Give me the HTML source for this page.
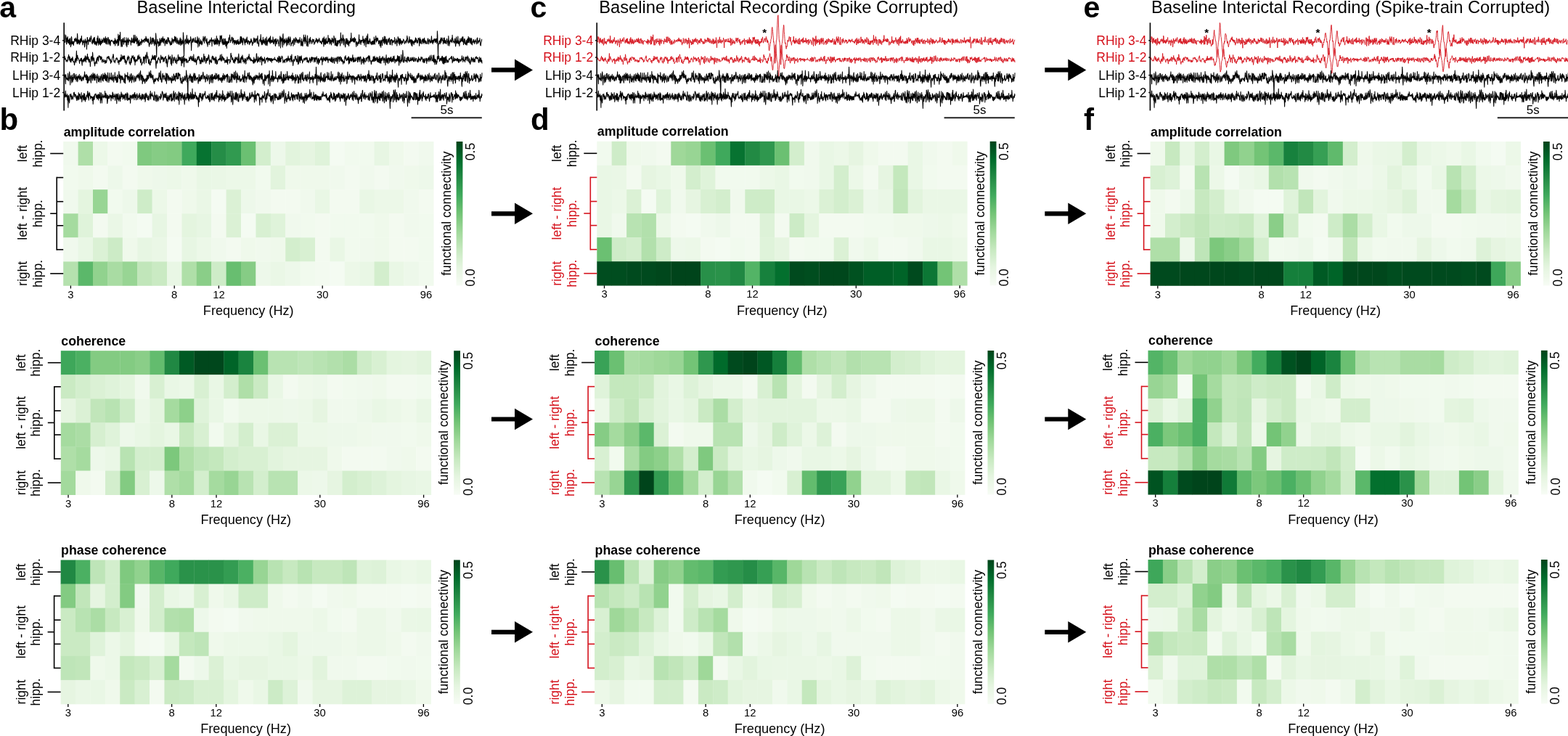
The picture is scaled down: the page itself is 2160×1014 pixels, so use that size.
<!DOCTYPE html>
<html><head><meta charset="utf-8"><title>Figure</title>
<style>html,body{margin:0;padding:0;background:#fff;}body{width:2160px;height:1014px;overflow:hidden;}svg{display:block;}</style>
</head><body>
<svg width="2160" height="1014" viewBox="0 0 2160 1014" font-family="'Liberation Sans', Arial, Helvetica, sans-serif">
<defs><linearGradient id="cbg" x1="0" y1="0" x2="0" y2="1"><stop offset="0.000" stop-color="#00441b"/><stop offset="0.062" stop-color="#005723"/><stop offset="0.125" stop-color="#006c2c"/><stop offset="0.188" stop-color="#117b38"/><stop offset="0.250" stop-color="#228a44"/><stop offset="0.312" stop-color="#319a50"/><stop offset="0.375" stop-color="#40aa5d"/><stop offset="0.438" stop-color="#5ab769"/><stop offset="0.500" stop-color="#73c476"/><stop offset="0.562" stop-color="#8ace88"/><stop offset="0.625" stop-color="#a0d99b"/><stop offset="0.688" stop-color="#b4e1ad"/><stop offset="0.750" stop-color="#c7e9c0"/><stop offset="0.812" stop-color="#d6efd0"/><stop offset="0.875" stop-color="#e5f5e0"/><stop offset="0.938" stop-color="#eef8ea"/><stop offset="1.000" stop-color="#f7fcf5"/></linearGradient></defs>
<rect width="2160" height="1014" fill="#fff"/>
<text x="-0.8" y="24.2" font-size="41" font-weight="bold">a</text>
<text x="-0.5" y="178.5" font-size="42" font-weight="bold">b</text>
<text x="730.6" y="24.4" font-size="41" font-weight="bold">c</text>
<text x="731.0" y="178.5" font-size="42" font-weight="bold">d</text>
<text x="1492.6" y="24.4" font-size="41" font-weight="bold">e</text>
<text x="1493.0" y="178.5" font-size="42" font-weight="bold">f</text>
<line x1="88.2" y1="31.3" x2="88.2" y2="152.4" stroke="#000" stroke-width="1.6"/>
<line x1="86.0" y1="55.8" x2="88.2" y2="55.8" stroke="#000" stroke-width="1.4"/>
<text x="83.2" y="62.0" font-size="17.5" text-anchor="end">RHip 3-4</text>
<line x1="86.0" y1="79.1" x2="88.2" y2="79.1" stroke="#000" stroke-width="1.4"/>
<text x="83.2" y="85.3" font-size="17.5" text-anchor="end">RHip 1-2</text>
<line x1="86.0" y1="103.6" x2="88.2" y2="103.6" stroke="#000" stroke-width="1.4"/>
<text x="83.2" y="109.8" font-size="17.5" text-anchor="end">LHip 3-4</text>
<line x1="86.0" y1="127.5" x2="88.2" y2="127.5" stroke="#000" stroke-width="1.4"/>
<text x="83.2" y="133.7" font-size="17.5" text-anchor="end">LHip 1-2</text>
<path d="M89.0 58.8l.4 -1.6 .3 .8 .3 -10.2 .4 5.3 .4 -4.1 .3 6.6 .3 5.1 .4 .2 .4 -8.9 .3 5.9 .4 -5.2 .3 -2.1 .4 4.9 .3 3.9 .3 -4.2 .4 2.7 .4 1.5 .3 -5.9 .3 8.2 .4 -1.4 .4 -4.5 .3 -3.3 .3 5 .4 7.1 .4 -3.6 .3 1.3 .3 -11.8 .4 1.6 .4 7.5 .3 .9 .4 -3.1 .3 3.4 .4 -.8 .3 -3 .3 5.7 .4 -2.4 .4 -3.1 .3 .9 .3 -4.7 .4 0 .4 1.3 .3 1.3 .3 1.5 .4 -5.4 .4 4.4 .3 -1.6 .3 -1 .4 5 .4 1.8 .3 -14.5 .3 2.5 .4 10.4 .4 1 .3 -5 .3 3.6 .4 -3.8 .4 .8 .3 5.6 .3 -4.4 .4 3.5 .4 -6.4 .3 -.6 .3 5.1 .4 -.7 .4 -3.7 .3 -1.9 .3 -2.8 .4 7.9 .4 -1 .3 -.2 .3 5.8 .4 -2.1 .4 -2.8 .3 1.6 .3 -3.7 .4 3.4 .4 -2.1 .3 6.3 .3 2.4 .4 -3 .4 -8.1 .3 .8 .3 1.3 .4 2.8 .4 .9 .3 -2.9 .3 11.2 .4 -7.2 .4 -9.1 .3 0 .3 5.4 .4 -2.2 .4 6.6 .3 -4.3 .3 -1.3 .4 .3 .4 -2 .3 2.5 .3 -4.8 .4 5.8 .4 -.1 .3 -3.7 .3 -1.4 .4 -3 .4 3.3 .3 2 .3 3.4 .4 1.2 .4 1.4 .3 -3.2 .3 -2.6 .4 4.1 .4 -5.8 .3 4.9 .3 -6.2 .4 3.5 .4 5 .3 -9.1 .3 2.5 .4 7.7 .4 -4.6 .3 3.8 .3 -2.8 .4 -.3 .4 5 .3 -.7 .3 -1.9 .4 -7.7 .4 6.9 .3 -2 .3 -7.8 .4 4.9 .4 8 .3 -5 .3 2.3 .4 -5.4 .4 -1.7 .3 8.7 .3 -3.9 .4 -3.3 .4 8.3 .3 -1.4 .3 -4.4 .4 1.3 .4 2.6 .3 -.8 .3 -5.9 .4 2.2 .4 2.2 .3 -2.5 .3 3.1 .4 -2.4 .4 -3.2 .3 .3 .3 -1.5 .4 6.5 .4 -.8 .3 -4.1 .3 3.3 .4 2 .4 -8.3 .3 9.7 .3 -6.5 .4 -1.1 .4 .9 .3 7.3 .3 -3.6 .4 3.8 .4 -8.3 .3 2.6 .3 -4.1 .4 1.4 .4 6.7 .3 1.9 .3 -.4 .4 -6.3 .4 0 .3 1.9 .3 4.9 .4 1.7 .4 -4.3 .3 -2.3 .3 -.6 .4 1.1 .4 -1.5 .3 -.3 .3 1.1 .4 .5 .3 -.1 .4 1.5 .3 -.8 .4 -.2 .4 3.3 .3 -.6 .3 -3.8 .4 3.3 .4 1.2 .3 -7.8 .3 10.2 .4 -3.1 .4 -5 .3 2.8 .3 -.9 .4 3.2 .4 -1 .3 -2.8 .3 -1.6 .4 .3 .3 8.3 .4 -7.9 .3 -8.2 .4 3.3 .4 12.1 .3 -6.7 .3 -5.3 .4 -1.8 .4 5.4 .3 2.2 .3 -11.9 .4 11 .4 4 .3 2.8 .3 2.4 .4 -10.1 .4 .3 .3 5.9 .3 3.7 .4 -3.6 .3 -7.8 .4 .1 .3 4.5 .4 -.7 .4 4.4 .3 -4.8 .3 -4.8 .4 6.5 .4 -1.5 .3 1.5 .3 -1.8 .4 .8 .4 -1.2 .3 6.3 .3 -10.4 .4 10.2 .4 2.8 .3 -3.8 .3 -6 .4 3.1 .3 -4.2 .4 -1.6 .3 9.3 .4 -4 .4 .3 .3 -3.3 .3 1.6 .4 -1.1 .4 .6 .3 .5 .3 .1 .4 2.3 .4 3.6 .3 -5.2 .3 -2.1 .4 -2.9 .4 6.5 .3 -.1 .3 -.2 .4 -1.9 .3 -3 .4 4.6 .3 .8 .4 -10.4 .4 5.2 .3 6 .3 -1 .4 -.1 .4 -10.2 .3 3.7 .3 4 .4 1.1 .4 -.6 .3 -2.7 .3 -3.5 .4 10.3 .4 -2.1 .3 -4.1 .3 -1.7 .4 3.3 .3 7.5 .4 -6.5 .3 6.1 .4 -.9 .4 -7.1 .3 4.1 .3 3.2 .4 .5 .4 -4.1 .3 0 .3 -1.4 .4 1.1 .4 3.3 .3 -4.1 .3 -3.8 .4 2.4 .4 1.8 .3 1.3 .3 -3.2 .4 -.7 .3 .1 .4 1.5 .3 -1.2 .4 -1.5 .4 4.1 .3 -1.4 .3 -3.5 .4 1.6 .4 -1.9 .3 .2 .3 3.9 .4 -7.2 .4 1.9 .3 4.6 .3 -3.8 .4 4.3 .4 -.1 .3 -3.3 .3 3.6 .4 1.2 .3 .1 .4 -5 .3 2.3 .4 5.9 .4 2.4 .3 -4.9 .3 2.1 .4 -1.8 .4 -1.6 .3 -7 .3 2.6 .4 6.7 .4 -.4 .3 1.2 .3 -4.2 .4 -4.1 .4 -.6 .3 5.1 .3 .8 .4 2.2 .4 -8 .3 1.9 .3 2.9 .4 -2.4 .4 6.3 .3 1.9 .3 -5 .4 -.3 .4 -3.3 .3 6.4 .3 -14.9 .4 4.4 .4 17.6 .3 11 .3 -15.4 .4 -4.4 .4 -4.9 .3 2.7 .3 2.6 .4 -2.2 .4 1.2 .3 5.6 .3 -6.2 .4 2.2 .4 2.7 .3 -8.1 .3 -1.9 .4 5.4 .4 4.3 .3 -6 .4 -1.5 .3 4 .4 -5.5 .3 -.9 .3 4.4 .4 -3.7 .4 5 .3 -4.1 .3 -3.5 .4 4.9 .4 2.7 .3 1.3 .3 -6.2 .4 1.1 .4 1.3 .3 -2.2 .3 9.4 .4 -4 .4 -1.5 .3 -1.5 .3 -.1 .4 4.4 .4 -5.7 .3 4.2 .3 1.6 .4 -.1 .4 -4.2 .3 -4.6 .3 5.7 .4 -2.2 .4 -2.9 .3 2.9 .3 3.5 .4 -2 .4 -.5 .3 4.3 .3 -1 .4 3.1 .4 -1.5 .3 -4 .3 4.4 .4 -2.1 .4 2.6 .3 -1 .3 -8.3 .4 3.3 .4 1.5 .3 -3 .3 5.2 .4 -1.5 .4 -3.4 .3 1 .3 1.2 .4 -2.3 .4 -4.4 .3 2.9 .3 5.6 .4 -4.5 .4 -3.3 .3 .5 .3 5.9 .4 0 .4 2.9 .3 -4.3 .3 -3.4 .4 2.7 .4 3.9 .3 1.7 .3 -1.3 .4 -2.2 .4 -2 .3 4.6 .3 2 .4 -1.2 .4 -3.6 .3 -2.9 .3 -1.9 .4 7 .4 3.5 .3 -5.9 .3 -2.9 .4 7.1 .4 -3.6 .3 -.5 .3 4.4 .4 -4.5 .4 -1.8 .3 4.6 .3 -14.7 .4 4.8 .4 17.7 .3 10.5 .3 -14.7 .4 -6.2 .4 -.9 .3 -.1 .3 -2.1 .4 1.8 .4 5.3 .3 -4 .3 2.5 .4 -7.1 .4 -3.8 .3 10 .3 .5 .4 .5 .4 -4.4 .3 -1.6 .3 7.5 .4 -3 .4 -2.3 .3 0 .3 2.4 .4 .9 .4 -3.8 .3 1.3 .3 -1.1 .4 -4.9 .4 4 .3 5.5 .3 9.5 .4 -9.8 .4 -1.9 .3 -3.6 .3 -1 .4 5.1 .4 -1.5 .3 1 .3 -3.7 .4 -1.5 .4 2.4 .3 .9 .3 0 .4 2.5 .4 -1.3 .3 -.1 .3 -5.5 .4 7.1 .4 -1.9 .3 2 .3 -2.3 .4 -.7 .4 4.1 .3 -1.2 .3 -8.1 .4 2.5 .4 12 .3 -6.9 .3 -1.7 .4 -1.9 .4 -2.2 .3 11.1 .3 -5.9 .4 .8 .4 2.4 .3 -3.2 .3 -3 .4 2.3 .4 4.1 .3 -2.2 .3 -1.9 .4 5.1 .4 -1.3 .3 -.4 .3 -3 .4 -3.3 .4 -.1 .3 -3.7 .3 4 .4 2.8 .4 -3.6 .3 6.1 .3 -8.2 .4 2.2 .4 -3.3 .3 2.6 .3 3.2 .4 .8 .4 -1.8 .3 4.3 .3 -2.6 .4 -3.7 .4 8.4 .3 -1.9 .3 4.8 .4 -5 .4 -1.5 .3 .6 .3 -1 .4 .5 .4 4 .3 -5 .3 -.9 .4 -1.1 .4 3.9 .3 -2.3 .3 -1.3 .4 1.3 .4 -.3 .3 -4.2 .3 2.9 .4 9 .4 -7.8 .3 -.9 .3 .3 .4 1.3 .4 -.2 .3 -2.3 .3 3.7 .4 2.3 .4 -4.2 .3 1.1 .3 4.6 .4 -8.5 .4 7.7 .3 -4.3 .3 -1.3 .4 5 .4 -.6 .3 -10.1 .3 7.3 .4 4.7 .4 -5.3 .3 -3.4 .3 7.6 .4 -5.4 .4 .4 .3 .2 .3 2 .4 5.5 .4 -6.7 .3 2 .3 1.6 .4 -11 .4 4.4 .3 4.2 .3 -8 .4 1.2 .4 2.1 .3 -4.3 .3 7.9 .4 3 .4 -4.9 .3 .8 .3 6.3 .4 -8.7 .4 6.5 .3 1.9 .3 -3.2 .4 2.3 .4 -7 .3 7.6 .3 -2.4 .4 -5.6 .4 5.1 .3 5.4 .3 -4.7 .4 -2.5 .4 2.6 .3 7.4 .3 -7.4 .4 -1.8 .4 3.6 .3 -3.8 .3 1.8 .4 .3 .4 -2.3 .3 -4.9 .3 7 .4 -6.3 .4 -1.5 .3 -3.1 .3 5.7 .4 1.8 .4 3.2 .3 -2.3 .3 -1.1 .4 .7 .4 -3.5 .3 -1.5 .3 2.4 .4 -2.1 .4 7.7 .3 .5 .3 -2.9 .4 -4.1 .4 5 .3 -1.1 .3 -.5 .4 5.6 .4 -6.4 .3 4.2 .3 -3.2 .4 3 .4 -3 .3 -.5 .3 5.2 .4 .5 .4 -2.8 .3 -3.1 .3 4.4 .4 -3.9 .4 4.2 .3 -2.4 .3 -3.5 .4 6.4 .4 .5 .3 -4 .3 3.2 .4 -.6 .4 .5 .3 -4.3 .3 -1.5 .4 -4.3 .4 9.7 .3 -4.2 .3 -5.2 .4 .5 .4 7.4 .3 -2.9 .3 -3.1 .4 5.7 .4 3.9 .3 -4.1 .3 -1.1 .4 -4.5 .4 2.3 .3 .4 .3 -1.2 .4 5.5 .4 -1.6 .3 4.3 .3 -6.6 .4 -1.6 .4 4.8 .3 -3.4 .3 -1.4 .4 4.1 .4 -5.9 .3 -1 .3 6.2 .4 3.5 .4 -1.2 .3 -1.9 .3 -2 .4 .5 .4 1.8 .3 -.7 .3 4.5 .4 -3.7 .4 -1 .3 3 .3 -2.4 .4 .8 .4 -4.2 .3 -.9 .3 4.4 .4 -2.5 .4 2.1 .3 2.6 .3 2.7 .4 -4.3 .3 2.1 .4 -.3 .3 -1.2 .4 -4.8 .4 -2.1 .3 4.3 .3 2.2 .4 -3.5 .4 -2 .3 3.8 .3 1.5 .4 -.8 .4 -2.9 .3 -.8 .3 -.8 .4 1.3 .4 2 .3 3.7 .3 -7.2 .4 -3.6 .3 9.8 .4 .2 .3 2.1 .4 2.6 .4 -4.9 .3 -2.8 .3 -1 .4 -.4 .4 -.4 .3 -.6 .3 3.6 .4 -9.9 .3 5.4 .4 6.9 .3 -4.5 .4 6.4 .4 0 .3 -6 .3 5.3 .4 -1.8 .3 -7.9 .4 7.4 .3 -.2 .4 -3.7 .4 2.3 .3 3.7 .3 -1.6 .4 -1.9 .4 -4.1 .3 -.1 .3 9 .4 -1.6 .3 1.8 .4 -7.6 .3 -3.8 .4 8.2 .4 3.8 .3 -2.3 .3 -4.2 .4 -1.3 .3 2 .4 -2.8 .3 -1.1 .4 2.7 .4 2.3 .3 -5.8 .3 -.5 .4 4 .4 4.4 .3 -10.6 .3 7.7 .4 1.5 .3 -3 .4 .6 .3 -1.6 .4 3.8 .4 -2.2 .3 -.7 .3 2.1 .4 -7 .3 4.8 .4 5.1 .3 -.5 .4 -1.1 .4 -5 .3 1.3 .3 1.7 .4 -2.4 .4 7.3 .3 1.3 .3 -10.2 .4 .2 .3 .5 .4 5.8 .3 1.1 .4 -4 .4 -.6 .3 .1 .3 -2.3 .4 1.1 .3 1.8 .4 3.2 .3 -.3 .4 3.9 .4 -5.6 .3 -2 .3 -2.1 .4 -4.2 .4 8.1 .3 8.2 .3 -6.8 .4 -7.9 .3 5.6 .4 -2.3 .3 -.5 .4 -1.3 .4 9 .3 3.2 .3 -16.6 .4 -1.9 .3 11 .4 -2.4 .3 6.8 .4 -5.9 .4 -2.6 .3 5.8 .3 -4.5 .4 4.5 .4 -2.5 .3 1.1 .3 -1 .4 -4.3 .3 3.5 .4 7.3 .3 -8.7 .4 6.4 .4 .7 .3 -6.3 .3 -3.5 .4 2.4 .3 4.7 .4 -8.6 .3 3.5 .4 7.9 .4 -8 .3 3.5 .3 -.4 .4 -6.2 .4 2.6 .3 3.9 .3 6 .4 -1 .3 -2.4 .4 -.9 .3 .4 .4 -1.3 .4 -2.4 .3 4 .3 -3.9 .4 7.6 .3 -8.2 .4 -1.4 .3 -.9 .4 1.5 .4 7.1 .3 -4.3 .3 -1.5 .4 .4 .4 -4.7 .3 4.2 .3 2.9 .4 -5.5 .3 .9 .4 1.5 .3 -.3 .4 3.6 .4 .6 .3 -4.5 .3 2.9 .4 -2.4 .4 -.2 .3 4.5 .3 -4.7 .4 2.8 .4 .5 .3 -6.7 .3 3.5 .4 1.4 .4 0 .3 5.9 .3 .9 .4 -1.8 .4 -8.1 .3 5 .3 4.4 .4 -5 .4 5.9 .3 -2.2 .3 -5.8 .4 -1 .4 -6.5 .3 6.7 .3 2.4 .4 -5.6 .4 3 .3 5.5 .3 -4.1 .4 -7.9 .4 3.9 .3 4.8 .3 .5 .4 .9 .4 5 .3 -6.6 .3 -2.8 .4 -4.7 .4 14.9 .3 -.2 .3 -4.1 .4 -1.9 .4 -.3 .3 -1.5 .3 -3 .4 2.4 .4 5.1 .3 -1.7 .3 -7.5 .4 5.1 .4 .1 .3 -1.2 .3 2.3 .4 .4 .4 2.3 .3 -1.5 .3 -2.5 .4 -2.4 .4 4.1 .3 -3.6 .3 1.8 .4 -.4 .4 -1.2 .3 6.7 .3 -1.6 .4 -1.3 .4 1.3 .3 -1.6 .3 -1.6 .4 -1.2 .4 2.3 .3 -4.9 .3 2 .4 2 .4 -2.6 .3 1.7 .3 3 .4 .3 .4 -4.5 .3 2.4 .3 .6 .4 -2.9 .4 1 .3 -3.2 .3 2 .4 2.1 .4 1.9 .3 -2.2 .3 .7 .4 1.4 .4 -1.1 .3 2.8 .3 -2 .4 2.6 .4 -3.9 .3 -2 .3 2.8 .4 -4.5 .4 -.7 .3 4.9 .3 2.8 .4 4 .4 -13.4 .3 5.8 .3 1.5 .4 3.2 .4 -7.3 .3 3.6 .3 3.7 .4 -1.5 .4 -7.7 .3 1.9 .3 5.6 .4 -2.8 .4 .7 .3 2.5 .3 0 .4 -3.6 .4 -7.8 .3 9.1 .3 -.2 .4 -3.5 .4 -1.2 .3 3.7 .3 4.6 .4 -7.5 .4 .9 .3 4.2 .3 .9 .4 -4 .4 5.5 .3 1 .3 -4.5 .4 -4.1 .4 -1.1 .3 5.2 .3 -1.8 .4 -1.8 .4 5.9 .3 -4.3 .3 2.9 .4 -9 .4 2.3 .3 2.1 .3 1 .4 7.6 .4 -2.1 .3 -8.1 .3 2 .4 8.4 .4 -2.2 .3 -.5 .3 3.5 .4 -7.8 .4 .4 .3 7.5 .3 -4.1 .4 -2.7 .4 4.1 .3 -4.8 .3 -.5 .4 2.1 .4 -1.7 .3 3.1 .3 -4.2 .4 4.8 .4 3.7 .3 -9.6 .3 -8.6 .4 10.6 .4 -3.3 .3 1.6 .3 5.9 .4 -2.3 .4 -4.1 .3 2 .3 -7.6 .4 1.4 .4 9.6 .3 3.1 .3 -9.1 .4 2.4 .4 -1 .3 2.7 .3 3.2 .4 3.2 .4 1.5 .3 -7.3 .3 -4.1 .4 -.2 .4 5.8 .3 1.3 .3 -7.4 .4 1 .4 4.7 .3 3 .3 -.8 .4 -5.7 .4 4.1 .3 2.4 .3 1.8 .4 -5.8 .4 -1.1 .3 .7 .3 2.2 .4 -.8 .4 -5.9 .3 1.8 .3 2.9 .4 -12.1 .4 11.1 .3 .5 .3 -.3 .4 -2.4 .4 .6 .3 -2.2 .3 4.4 .4 -.2 .4 -4.4 .3 5.4 .3 -2.9 .4 3.2 .4 -6.8 .3 6.4 .3 -4.6 .4 .8 .4 -.5 .3 5.1 .3 2.3 .4 3.6 .4 -6.3 .3 -.7 .3 .9 .4 1.5 .4 3 .3 -2.2 .3 -2.1 .4 -1 .4 2.3 .3 -6.6 .3 -5.5 .4 12.4 .4 -5.8 .3 .6 .3 .1 .4 2.1 .4 2.9 .3 1.4 .3 -6.2 .4 3.4 .4 -1.7 .3 -1.7 .3 1.3 .4 -1.4 .4 .4 .3 -5.8 .3 9.3 .4 -.3 .4 -1.8 .3 -3 .3 -.3 .4 8.7 .4 -4.1 .3 -3 .3 .7 .4 -3.4 .4 6.9 .3 5.3 .3 -11.6 .4 .4 .4 -4.3 .3 6.5 .3 5 .4 -1.4 .4 -12.6 .3 8.1 .3 5.3 .4 -3.6 .4 1.2 .3 2.8 .3 -4.5 .4 2 .4 -4.9 .3 1.8 .3 1.2 .4 4 .4 -2.3 .3 -.1 .3 3.2 .4 .7 .4 -3.6 .3 -1.1 .3 3.6 .4 -4.1 .4 1.5 .3 3.7 .3 -5.5 .4 1.6 .4 2.9 .3 -9.7 .3 8.1 .4 -4.9 .4 7.1 .3 -6.2 .3 -.6 .4 -1.9 .4 -3.2 .3 6.4 .3 2.5 .4 -5.6 .4 -.4 .3 4.1 .3 -3.3 .4 -.9 .4 1.2 .3 2.5 .3 .2 .4 4.5 .4 -2.3 .3 -2.4 .3 0 .4 2.2 .4 5.2 .3 0 .3 -8 .4 1.9 .4 8.2 .3 -7.7 .3 .2 .4 -2.9 .4 2.2 .3 5.4 .3 -3.1 .4 -8 .4 4.6 .3 -1.8 .3 -.1 .4 4.7 .4 -2.7 .3 -6.1 .3 10.6 .4 -2.8 .4 -3.3 .3 -4.3 .3 5.8 .4 3.6 .4 -5 .3 6.2 .3 -7 .4 6.2 .4 1.6 .3 -1.6 .3 -2.2 .4 -4.2 .4 3 .3 0 .3 1.8 .4 -4.2 .4 -1.5 .3 -.6 .3 1.8 .4 7.2 .4 -2.4 .3 -2.9 .3 5.9 .4 -7.4 .4 1.3 .3 -.5 .3 -1 .4 .4 .4 7.5 .3 -4.6 .3 -2 .4 1 .4 2.1 .3 -1.1 .3 .6 .4 -2 .4 -.7 .3 1.4 .3 -5.3 .4 8.2 .4 -2.3 .3 3.2 .3 -1.2 .4 -2.7 .4 -3.1 .3 3.2 .3 -.3 .4 6.7 .4 -6.8 .3 -.8 .3 2.7 .4 -7.7 .4 1.6 .3 .1 .3 7.3 .4 .7 .4 -7.1 .3 1.6 .3 7.4 .4 -7.8 .4 -1.1 .3 6.2 .3 -2 .4 -2.3 .4 4.9 .3 1.4 .3 -4.3 .4 .7 .4 -1.7 .3 3.1 .3 .1 .4 -1.3 .4 -4.2 .3 .8 .3 .3 .4 .3 .4 1.5 .3 3 .3 .6 .4 -2.7 .4 1.1 .3 -1.6 .3 -1 .4 0 .4 -1.4 .3 4.3 .3 -3.9 .4 -6 .4 2.8 .3 .7 .3 3.9 .4 1.4 .4 -.1 .3 1.8 .3 -3.3 .4 -2.1 .4 -3.9 .3 8.1 .3 -1.6 .4 .1 .4 -2.5 .3 2.3 .3 3.4 .4 -5.4 .4 7.6 .3 -5.5 .3 -2.1 .4 9 .4 -4.2 .3 -3.6 .3 0 .4 3.4 .4 -1.1 .3 -.9 .3 4.2 .4 -2.2 .4 -3.3 .3 -.7 .3 3 .4 -1.7 .4 -4.8 .3 5 .3 1.5 .4 -5.3 .4 2.9 .3 -.8 .3 1.7 .4 2.8 .4 -3.7 .3 2.7 .3 -3.1 .4 -3.2 .4 .3 .3 .3 .3 1.6 .4 8.7 .4 -4.7 .3 -6.9 .3 7.5 .4 -3.6 .4 -1.7 .3 5.5 .3 -1.7 .4 2.9 .4 -1.7 .3 -3.6 .3 1.8 .4 -1.7 .4 -2 .3 5.1 .3 1.9 .4 -6.4 .4 1.5 .3 3.3 .3 -5.1 .4 -1.5 .4 6.2 .3 -3.4 .3 5.4 .4 -1.8 .4 -1.9 .3 -.4 .3 1.1 .4 2.7 .4 -.1 .3 -.2 .3 .6 .4 -3.7 .4 -2.4 .3 -1.4 .3 .8 .4 6.3 .4 .7 .3 -3.5 .3 -2.2 .4 .8 .4 -1.7 .3 4 .3 -1.7 .4 3.1 .4 -3.2 .3 1 .3 1.3 .4 -8.8 .4 4.2 .3 2.2 .3 2.9 .4 -3.2 .4 4.8 .3 -5.4 .3 3.1 .4 .2 .4 -4.3 .3 -.6 .3 2.4 .4 -.4 .4 -2.5 .3 4.6 .3 1 .4 -4.4 .4 3.4 .3 -4.4 .3 -.2 .4 2.5 .4 4.3 .3 -2.2 .3 -15 .4 5.6 .4 19.4 .3 11 .3 -15.4 .4 -2.8 .4 -1.2 .3 .8 .3 -3.6 .4 .3 .3 -.8 .4 4.7 .3 -6.5 .4 1.9 .4 -4.3 .3 6.8 .3 -1.9 .4 -1.5 .4 -2.9 .3 -.3 .3 2.9 .4 1.2 .4 -.4 .3 4.8 .3 -.8 .4 -7.4 .4 4.4 .3 1.8 .3 -6.7 .4 7.6 .3 -2.6 .4 2.5 .3 -4.1 .4 1.6 .4 .8 .3 2.7 .3 -.4 .4 -6.8 .4 .7 .3 2.3 .3 1 .4 1.7 .4 3.8 .3 -3.2 .3 -10 .4 5.3 .4 1.2 .3 7.3 .3 -2.6 .4 -1.1 .3 -3.1 .4 .5 .3 -2.4 .4 1.4 .4 1.8 .3 -.4 .3 -1 .4 -3.8 .4 6.4 .3 -10.7 .3 4.4 .4 .5 .4 2.8 .3 1.8 .3 -.2 .4 -.4 .4 2.1 .3 -.7 .3 -2.9 .4 -2.3 .3 -.5 .4 8.1 .3 2.9 .4 -3.3 .3 -5 .4 -4.7 .3 6.1 .4 2.6 .4 .3 .3 -3.9 .3 3.1 .4 -9 .4 6.8 .3 3.5 .3 -4.3 .4 1.3 .4 2.9 .3 3.2 .3 -4.4 .4 -3 .3 -3.1 .4 4.3 .3 .7 .4 -1 .3 -.4 .4 -3.9 .3 2.4 .4 1.4 .4 -5.6 .3 2.1 .3 4.8 .4 -7.2 .4 4.8 .3 6.2 .3 -1.4 .4 -.9 .4 -5.7 .3 .3 .3 -.3 .4 6.9 .3 -1.4 .4 .2 .3 2.4 .4 -4.9 .3 -1.6 .4 4.1 .3 3 .4 -1.6 .4 -7.2 .3 4.6 .3 .6 .4 -4.5 .4 -3.9 .3 8.3 .3 -2.4 .4 -3.3 .4 -1 .3 3 .3 3.8 .4 .4 .3 -3.8 .4 -3.1 .3 2.1 .4 6.5 .3 -1.6 .4 -6.5 .3 5.4 .4 3.8 .4 -3.3 .3 -1.1 .3 .6 .4 -1.9 .4 -1.6 .3 -.2 .3 4.7 .4 -2.5 .4 -.1 .3 4 .3 -3.2 .4 -1 .3 -1.7 .4 1.9 .3 1.1 .4 .3 .3 1.3 .4 1.6 .3 -7.8 .4 -.1 .4 -1 .3 6.4 .3 1.7 .4 -3.5 .4 .5 .3 1.1 .3 -2.4 .4 .1 .4 1.1 .3 -4.4 .3 3 .4 6.6 .3 0 .4 .9 .3 -3.2 .4 -2 .3 -.7 .4 -2.9 .3 -.2" fill="none" stroke="#000" stroke-width="1.05" stroke-linejoin="round"/>
<path d="M89.0 77.2l.4 2 .3 2.8 .3 -1.8 .4 1.2 .4 1.4 .3 2.1 .3 -1.3 .4 -.7 .4 .6 .3 -.6 .4 2.2 .3 -1.7 .4 -4.7 .3 -.4 .3 .3 .4 -3.3 .4 5.4 .3 2.4 .3 -5.3 .4 3.1 .4 -2.2 .3 6.2 .3 -2.1 .4 -1.3 .4 4.4 .3 -1.1 .3 -4.5 .4 0 .4 2.3 .3 .8 .4 -5.2 .3 2.4 .4 1 .3 3.9 .3 -.4 .4 -.2 .4 -.1 .3 3.5 .3 1.4 .4 -3.5 .4 -4.5 .3 3 .3 -4.4 .4 2.1 .4 3.8 .3 -10.3 .3 -5.8 .4 8.1 .4 5.4 .3 -6.8 .3 -.6 .4 4 .4 -.2 .3 .1 .3 .6 .4 2.1 .4 .2 .3 2.4 .3 2.1 .4 -4.5 .4 .5 .3 -.2 .3 -2.2 .4 -.6 .4 3.8 .3 -.5 .3 -3.7 .4 7 .4 3.2 .3 -6.7 .3 1 .4 -2.9 .4 1 .3 .5 .3 2.5 .4 -4.6 .4 -1 .3 2.2 .3 1.9 .4 -4.4 .4 -3 .3 6 .3 1.4 .4 1.5 .4 -7.9 .3 2 .3 2.1 .4 -.4 .4 -4.3 .3 -3 .3 6.5 .4 2.2 .4 -4.3 .3 1.9 .3 3.1 .4 2.2 .4 -4.4 .3 .8 .3 3.1 .4 -.6 .4 6.9 .3 -5.4 .3 -1.7 .4 -5.7 .4 -.1 .3 -1.2 .3 3.5 .4 3.4 .4 -1 .3 -11.4 .3 2.4 .4 7.2 .4 -.9 .3 3.1 .3 -4.2 .4 1.3 .4 6.6 .3 1.5 .3 2 .4 -4.9 .4 1.3 .3 .4 .3 -3 .4 .8 .4 -1.6 .3 -3.2 .3 7 .4 -8 .4 -1.2 .3 3.1 .3 -3.3 .4 4.7 .4 1.2 .3 -5.5 .3 -1.8 .4 -.5 .4 2.1 .3 .1 .3 -1.1 .4 1.7 .4 3.1 .3 -3 .3 -1.9 .4 2.8 .4 1.2 .3 -2.8 .3 6.3 .4 .9 .4 -3.7 .3 .6 .3 .9 .4 -1.9 .4 3.8 .3 -.7 .3 -.5 .4 .3 .4 -.2 .3 -2.1 .3 5.1 .4 -4 .4 1 .3 2.3 .3 -3.1 .4 2.8 .4 -1.3 .3 -2 .3 -4.6 .4 1.7 .4 -.3 .3 -.3 .3 -1.7 .4 -.5 .4 3.1 .3 .8 .3 -3.5 .4 3.5 .4 -.2 .3 2.2 .3 -2.3 .4 .1 .4 6.2 .3 -4.1 .3 1.7 .4 .9 .4 -.3 .3 -2.8 .3 -1.1 .4 -1.6 .3 -2 .4 .9 .3 -4 .4 -.3 .4 5.1 .3 5.3 .3 -2.3 .4 2.2 .4 -.9 .3 2.7 .3 -2.5 .4 -.4 .4 -.1 .3 -3.2 .3 .9 .4 -.8 .4 -1.4 .3 1.4 .3 1.2 .4 -1 .3 1.6 .4 3.9 .3 -1.2 .4 -.6 .4 -1.3 .3 5.7 .3 -5.1 .4 -.8 .4 1.4 .3 .5 .3 -3.2 .4 -2.4 .4 4.9 .3 -.2 .3 -8.8 .4 7.7 .4 -1.1 .3 -2.7 .3 2 .4 -4.3 .3 4.2 .4 -.9 .3 -1.1 .4 -2 .4 4.6 .3 -1 .3 -3.8 .4 .1 .4 8.3 .3 1.1 .3 -4.5 .4 1.8 .4 -.1 .3 5.2 .3 -2.1 .4 -.9 .4 -1 .3 -.9 .3 -5 .4 2.5 .3 1.3 .4 -5.8 .3 3.5 .4 -.8 .4 -1.3 .3 -.1 .3 8.9 .4 -1.8 .4 1.8 .3 1.9 .3 .2 .4 -4.5 .4 -4.7 .3 6.6 .3 -.6 .4 -3.1 .4 -6.1 .3 1.1 .3 0 .4 1.9 .3 -.8 .4 -2.5 .3 5.2 .4 -2 .4 3.1 .3 1.5 .3 -6.1 .4 1.1 .4 10.4 .3 -6.2 .3 -1.6 .4 3.4 .4 -.6 .3 -1.2 .3 -1.1 .4 1.1 .4 -2.1 .3 2.8 .3 -4.3 .4 -3.1 .3 3.3 .4 1.5 .3 -.3 .4 -5.7 .4 5.9 .3 -2.9 .3 .4 .4 1.2 .4 -1.8 .3 6.1 .3 1.7 .4 -1 .4 -4.1 .3 4.3 .3 4.5 .4 -1.6 .4 -.4 .3 -.7 .3 -1.4 .4 .4 .3 .1 .4 -8.1 .3 4.4 .4 -4.3 .4 5.1 .3 4.5 .3 -6.4 .4 -3.2 .4 1.7 .3 -1 .3 -3.3 .4 4.5 .4 6.4 .3 -7 .3 -5.2 .4 -2.5 .4 3.3 .3 4.9 .3 .5 .4 -2.9 .3 4.6 .4 3.3 .3 2.1 .4 -3.9 .4 -2.1 .3 5.9 .3 1.6 .4 -2 .4 2.6 .3 -4.8 .3 -.4 .4 1.8 .4 -5.1 .3 -.3 .3 2 .4 -2.3 .4 -2.9 .3 -1.9 .3 5.6 .4 -.3 .4 -3.4 .3 .7 .3 3.8 .4 -.6 .4 -5.1 .3 4.6 .3 -4.5 .4 6 .4 -6.5 .3 2.4 .3 9.6 .4 6 .4 -8.4 .3 -.8 .3 -1.2 .4 1 .4 2.5 .3 -3.5 .3 -1.9 .4 -1.8 .4 .2 .3 .9 .3 -2.5 .4 3.6 .4 -.7 .3 1.8 .3 .7 .4 2.7 .4 -.7 .3 -6.3 .4 -3.7 .3 5.1 .4 .7 .3 -.2 .3 -3.3 .4 2.4 .4 .4 .3 -3 .3 2.2 .4 4.8 .4 -1.9 .3 -1 .3 -2.5 .4 5 .4 -3 .3 -1.3 .3 -1 .4 -1 .4 1.7 .3 -2.7 .3 9.3 .4 .1 .4 -2.6 .3 -3.2 .3 6.3 .4 4.8 .4 -4.9 .3 -1.7 .3 -1.1 .4 -3.9 .4 -4.8 .3 2.9 .3 2.8 .4 -3.1 .4 3.1 .3 -.9 .3 .1 .4 -3.2 .4 2.5 .3 8 .3 -3.6 .4 -3.4 .4 9.1 .3 -4 .3 -10.6 .4 3.7 .4 0 .3 1.3 .3 6.5 .4 -3.6 .4 .2 .3 -2 .3 -2.7 .4 -.4 .4 2.9 .3 2.1 .3 -.3 .4 3.6 .4 -3.8 .3 -1.4 .3 -1.9 .4 4.1 .4 4.2 .3 -2.2 .3 -2.2 .4 -1.1 .4 1.3 .3 -5.7 .3 -2.8 .4 8.4 .4 -1.9 .3 -.8 .3 -2.7 .4 3.6 .4 -1 .3 -1.8 .3 4.5 .4 -3.9 .4 -.7 .3 2.5 .3 2.1 .4 7.2 .4 -6.8 .3 -5.8 .3 6.7 .4 2.1 .4 -2.4 .3 -4.2 .3 -3.2 .4 2 .4 8 .3 5 .3 -7 .4 -5.6 .4 2.5 .3 2.1 .3 -1.5 .4 -.8 .4 -1.2 .3 1.5 .3 4.3 .4 -3.5 .4 -1.5 .3 1.8 .3 .5 .4 2.5 .4 0 .3 -1.2 .3 -.9 .4 -1.1 .4 .3 .3 -.5 .3 -4.4 .4 5.2 .4 -1.9 .3 -1.7 .3 .4 .4 -3.1 .4 .2 .3 4.1 .3 -2.2 .4 1.8 .4 2.4 .3 -4.1 .3 -2.2 .4 4.2 .4 1.8 .3 .4 .3 -.1 .4 -8.8 .4 9.1 .3 1.2 .3 -4.4 .4 3.1 .4 -.1 .3 .8 .3 1.2 .4 -5.2 .4 5.2 .3 -2.1 .3 5.4 .4 -6.6 .4 .5 .3 -.8 .3 -3.5 .4 -.2 .4 3.4 .3 -4.6 .3 2.3 .4 -.3 .4 -1.3 .3 5.2 .3 -2.3 .4 1.7 .4 5.3 .3 -4.1 .3 -1 .4 1.1 .4 4 .3 -2.2 .3 -5.5 .4 -1 .4 5.6 .3 -1.9 .3 2.7 .4 -.1 .4 -3.2 .3 -1.2 .3 -1.3 .4 -5.5 .4 11 .3 -3.1 .3 -4 .4 -.6 .4 1 .3 5.4 .3 -.6 .4 3.8 .4 -.6 .3 -6.4 .3 4.2 .4 -1.6 .4 -2.6 .3 2.3 .3 1.1 .4 -5 .4 3.4 .3 -3.6 .3 -3 .4 1.3 .4 4.7 .3 7 .3 -4.9 .4 2 .4 -3.2 .3 0 .3 2.2 .4 -.1 .4 2 .3 -.1 .3 -1.1 .4 -7 .4 1.8 .3 -3 .3 3 .4 1.8 .4 -4.1 .3 4.3 .3 1 .4 -1.4 .4 -1.7 .3 2.6 .3 -2 .4 4.3 .4 2.6 .3 -3.8 .3 -5.2 .4 .5 .4 5.8 .3 3.7 .3 -5.8 .4 5.5 .4 -.4 .3 -2.8 .3 -.5 .4 -1.6 .4 -.8 .3 -.2 .3 .3 .4 -1.1 .4 1.9 .3 -2.6 .3 1.4 .4 -4.4 .4 -1.8 .3 7.6 .3 -1.7 .4 -.2 .4 3.3 .3 -9.8 .3 7 .4 1.4 .4 -3.3 .3 -2.1 .3 1.3 .4 .4 .4 3.8 .3 -3.1 .3 1.7 .4 -1.2 .4 2.7 .3 -.3 .3 3.6 .4 -3.3 .4 .4 .3 1.9 .3 -3 .4 2.9 .4 -2.7 .3 3.6 .3 -1.2 .4 -6.8 .4 6.2 .3 4.1 .3 -6.4 .4 -.2 .4 1 .3 -.3 .3 -.7 .4 -.3 .4 .5 .3 4.9 .3 -2.4 .4 0 .4 .1 .3 -11.3 .3 -.4 .4 5.2 .4 -1.9 .3 3.2 .3 2.5 .4 .2 .4 -2.1 .3 -.7 .3 1.9 .4 3.8 .4 1.1 .3 -3.2 .3 1 .4 -2.4 .4 5.5 .3 -2.7 .3 -5 .4 -1 .4 5.7 .3 -2.5 .3 -2.1 .4 1.5 .4 .3 .3 -.2 .3 -2.8 .4 4.5 .4 -1.6 .3 5.6 .3 .1 .4 -8.7 .4 -4.3 .3 4.5 .3 8.2 .4 -2.6 .4 2.1 .3 -.5 .3 -2.6 .4 -3.7 .4 5.8 .3 1.6 .3 -4.3 .4 -4.9 .4 3.2 .3 -.7 .3 1.5 .4 -5.8 .4 2.7 .3 6.3 .3 -4.9 .4 4.4 .4 -1.2 .3 1.4 .3 2.5 .4 -.9 .4 -5.6 .3 4.3 .3 .1 .4 -4 .4 7.1 .3 -.6 .3 -4.7 .4 .6 .4 -4 .3 .4 .3 -.1 .4 .3 .4 3 .3 -3.9 .3 -1.6 .4 3.3 .4 -2.5 .3 -3.8 .3 4.3 .4 2.5 .4 1.6 .3 -.3 .3 -3.5 .4 2 .4 2.9 .3 -.3 .3 -2.1 .4 1.8 .4 -.3 .3 .6 .3 .6 .4 -1.5 .3 .6 .4 2.5 .3 1.3 .4 -4.6 .4 -3.7 .3 8.2 .3 -3.5 .4 1.9 .4 -4.4 .3 2.5 .3 2.1 .4 -2.4 .4 -1.4 .3 1.2 .3 -8.3 .4 -1.1 .4 9.3 .3 1 .3 2.3 .4 -1.9 .3 -3.4 .4 -2.9 .3 6.7 .4 -1.2 .4 -2.6 .3 0 .3 -1.5 .4 1.4 .4 4.7 .3 -5.2 .3 -1.7 .4 3.2 .3 -2.3 .4 -2 .3 5.6 .4 6.5 .4 -9.5 .3 -.3 .3 .6 .4 3.3 .3 -2.2 .4 3.2 .3 -3.1 .4 0 .4 1.6 .3 -1.4 .3 -3.1 .4 8.5 .4 -.3 .3 -1.5 .3 -1.7 .4 -.3 .3 -2.9 .4 1.7 .3 -.4 .4 -1.8 .4 1 .3 -2 .3 2.4 .4 3.7 .3 -5.2 .4 .9 .3 2.3 .4 -2.2 .4 -.8 .3 1.2 .3 1.8 .4 -2.9 .4 3.4 .3 .1 .3 .6 .4 -4.2 .3 2.5 .4 -2.3 .3 5.8 .4 -5 .4 2.3 .3 -.7 .3 -.9 .4 1.5 .3 -2.5 .4 .3 .3 .5 .4 .2 .4 -.1 .3 .9 .3 -3.8 .4 2.9 .4 .8 .3 -.5 .3 -.2 .4 1 .3 .8 .4 -.8 .3 1.5 .4 .6 .4 -.2 .3 -5.5 .3 3.1 .4 -2.2 .3 3.6 .4 2.6 .3 -9.2 .4 1.1 .4 5.5 .3 0 .3 1.9 .4 -7.9 .4 2.3 .3 4.6 .3 .4 .4 -4.6 .3 -.4 .4 .4 .3 -3.4 .4 1.5 .4 -.5 .3 2.8 .3 1.9 .4 4 .3 -2.7 .4 .7 .3 .4 .4 -2.9 .4 2 .3 .5 .3 1.7 .4 -4.5 .4 -.2 .3 -.1 .3 -.2 .4 1.5 .3 -2.1 .4 4.8 .3 -5.6 .4 1 .4 3.2 .3 -.5 .3 -2.6 .4 -4.2 .3 3.8 .4 2.5 .3 -3.2 .4 1.3 .4 .4 .3 3.3 .3 -4.2 .4 .8 .4 -.8 .3 -3.9 .3 1.6 .4 6.8 .3 -2.7 .4 -7.7 .3 7.1 .4 2.2 .4 -1.3 .3 2.9 .3 4.5 .4 -2.8 .3 -3.5 .4 -2.5 .3 1.4 .4 -.5 .4 1.9 .3 -3.7 .3 -2.9 .4 -.1 .4 -.3 .3 4.6 .3 -1.6 .4 2.3 .3 2.2 .4 -3.2 .3 3.4 .4 -2.2 .4 -6.7 .3 8.2 .3 4.3 .4 -.7 .4 -.7 .3 -8 .3 -2 .4 6.8 .4 -5.3 .3 .3 .3 7.3 .4 -8.9 .4 2.6 .3 -.3 .3 3.7 .4 -6.7 .4 4.8 .3 1.1 .3 -1 .4 5.3 .4 -3.1 .3 .9 .3 -.8 .4 -.1 .4 -3.1 .3 .5 .3 1.2 .4 -2.1 .4 1.8 .3 1 .3 -1.6 .4 -2.5 .4 2.4 .3 -1.2 .3 1.5 .4 -.3 .4 -2.6 .3 6.4 .3 -5.6 .4 2.9 .4 2.9 .3 -.6 .3 -1.5 .4 3.3 .4 -2.2 .3 -.2 .3 -1 .4 -3.8 .4 2 .3 .6 .3 2.7 .4 1.5 .4 -4.3 .3 -2.7 .3 3.8 .4 -2.1 .4 -2.6 .3 6.4 .3 -5 .4 2.6 .4 -3.4 .3 .7 .3 -.4 .4 .5 .4 2.1 .3 3.8 .3 -1.6 .4 -4.8 .4 .7 .3 -.5 .3 5.8 .4 -3.9 .4 -1.7 .3 .6 .3 1.1 .4 -3.6 .4 7.5 .3 2.1 .3 -4.1 .4 1.2 .4 -4.1 .3 3.5 .3 4.8 .4 -8.1 .4 .7 .3 .7 .3 4.6 .4 -2.2 .4 -1.6 .3 -.4 .3 0 .4 -2.6 .4 1.3 .3 1.5 .3 -.7 .4 -3.9 .4 6.1 .3 5.3 .3 -8.7 .4 1.4 .4 2.5 .3 -1.1 .3 -5 .4 1.4 .4 .2 .3 2.7 .3 -1.8 .4 2.1 .4 .7 .3 -4.8 .3 1.4 .4 3.8 .4 -4.8 .3 -.8 .3 2.1 .4 1.6 .4 .5 .3 -1.5 .3 -2.8 .4 4.4 .4 3.5 .3 -2.9 .3 -1.7 .4 .6 .4 -1.7 .3 0 .3 2.6 .4 0 .4 -1.4 .3 .2 .3 2.5 .4 -4.5 .4 4 .3 1.4 .3 -7 .4 1.1 .4 2.1 .3 4.2 .3 .3 .4 .1 .4 -7 .3 3.4 .3 -1.3 .4 1.2 .4 4 .3 .8 .3 -7.2 .4 -.2 .4 0 .3 .1 .3 3.7 .4 0 .4 1.2 .3 -4.4 .3 -.9 .4 .8 .4 -2.3 .3 9.3 .3 -3.6 .4 .3 .4 -4.1 .3 -2 .3 2.9 .4 -2.3 .4 .1 .3 6.1 .3 -3.7 .4 -2.4 .4 -.2 .3 -.7 .3 5.1 .4 .7 .4 .3 .3 -4.6 .3 4.1 .4 1.7 .4 -1.7 .3 -1.2 .3 0 .4 6 .4 -2.4 .3 -.9 .3 -.5 .4 .8 .4 1.6 .3 -5 .3 -3.8 .4 1.5 .4 1.4 .3 -4.5 .3 4.6 .4 .5 .4 2 .3 -.2 .3 0 .4 -3.8 .4 1.9 .3 .5 .3 .6 .4 -1.9 .4 -3 .3 10.5 .3 -9.6 .4 1.7 .4 6.8 .3 -.8 .3 -2.3 .4 -4.1 .4 3.3 .3 -1.8 .3 -1.3 .4 3.8 .4 -2.5 .3 3.2 .3 -4.6 .4 3.1 .4 -5 .3 -2.6 .3 6.2 .4 3.7 .4 -.6 .3 -5.5 .3 2.9 .4 3 .4 -.4 .3 -2.2 .3 2.1 .4 -5.1 .4 4.6 .3 -.9 .3 .5 .4 -.4 .4 -3 .3 -.5 .3 .6 .4 -1.7 .4 6.8 .3 -.2 .3 -1 .4 -5.7 .4 1.7 .3 -2 .3 3.9 .4 -2.5 .4 5.3 .3 -1.7 .3 -5 .4 1.4 .4 -1.7 .3 2.3 .3 4.5 .4 3.7 .4 -5.2 .3 -.1 .3 -2.1 .4 1.9 .4 -.7 .3 4.4 .3 -4 .4 -4 .4 3.7 .3 5.9 .3 -7.6 .4 -.6 .4 3.1 .3 .5 .3 1.9 .4 -.6 .4 -1.4 .3 -3.5 .3 1.1 .4 -1.7 .4 .9 .3 3.7 .3 -3.3 .4 -2.4 .4 1.5 .3 0 .3 -1.3 .4 -2 .4 8.4 .3 -1 .3 -5.7 .4 -1.7 .4 2.2 .3 2.6 .3 2.8 .4 -1 .4 .9 .3 2.7 .3 1.7 .4 -1.8 .4 -3.4 .3 .6 .3 .5 .4 -2.4 .4 2 .3 .2 .3 -6.4 .4 1.6 .4 5.4 .3 -3.4 .3 -2.9 .4 -1.3 .4 6.9 .3 -.5 .3 -3.9 .4 1.4 .4 2.3 .3 -1.1 .3 -2.3 .4 -1.5 .4 1.7 .3 3.7 .3 1 .4 -.6 .4 -5.5 .3 6.4 .3 .2 .4 -4.2 .4 1.8 .3 3.6 .3 -6 .4 -3.4 .4 3.1 .3 6.3 .3 -5.9 .4 3.5 .4 3.2 .3 -6.6 .3 -1.2 .4 2.4 .4 1.7 .3 -3.5 .3 -.6 .4 -1.9 .4 1.1 .3 4.1 .3 -3.1 .4 2.6 .4 4.1 .3 -4.1 .3 -2.1 .4 -.6 .4 3 .3 -.1 .3 7.1 .4 -5.8 .4 -4.7 .3 -3.7 .3 6 .4 4.7 .4 -1.8 .3 -3.5 .3 -.5 .4 5.5 .4 1.8 .3 -8.4 .3 1.9 .4 -.5 .4 -1 .3 6.7 .3 -5.6 .4 -.3 .4 3.5 .3 -2.8 .3 -2.2 .4 4.8 .4 -5.7 .3 5 .3 2.3 .4 -.8 .4 -3.6 .3 -.6 .3 3.7 .4 .1 .4 -6.5 .3 7.1 .3 -2 .4 -4.8 .4 -1 .3 5.4 .3 -.8 .4 5.2 .4 -3.2 .3 -1.3 .3 -.4 .4 -.2 .4 3.3 .3 -1.6 .3 .9 .4 -3.6 .4 2.5 .3 -6.8 .3 2.6 .4 5.2 .4 -1.4 .3 -5.6 .3 1.1 .4 11.7 .4 -6.7 .3 -5.9 .3 1.3 .4 6.5 .4 -1.7 .3 3.5 .3 -2.1 .4 -2.7 .4 -7.1 .3 7.7 .3 1.1 .4 1 .4 -2.6 .3 -1.8 .3 -11.4 .4 5.2 .4 9.8 .3 2 .3 -2.8 .4 2.4 .4 -3.4 .3 -4.4 .3 .6 .4 4.7 .4 .8 .3 -.6 .3 .1 .4 .9 .4 -.3 .3 -4.5 .3 .4 .4 6.1 .4 -2.2 .3 -4.9 .3 -.9 .4 1 .4 4.2 .3 -4.6 .3 2 .4 2.8 .4 1.5 .3 -1.3 .3 -.7 .4 .5 .4 -4.3 .3 4.2 .3 -2.7 .4 3.2 .4 -.7 .3 -.2 .3 -4.1 .4 1.2 .4 2.1 .3 -.6 .3 2.1 .4 -5.1 .4 5.3 .3 .7 .3 -.1 .4 0 .4 -5.5 .3 2 .3 1.7 .4 -.4 .4 2.1 .3 -2.6 .3 -1.7 .4 .4 .4 .2 .3 1 .3 2.3 .4 -.6 .4 2.2 .3 -.7 .3 -3.1 .4 -.8 .4 -2.6 .3 6.5 .3 -2.9 .4 -1 .4 -.2 .3 1.4 .3 -.6 .4 1.3 .4 1.3 .3 -3.1 .3 -2.9 .4 2.1 .4 1.3 .3 -2.6 .3 -.2 .4 1.1 .4 2.5 .3 3 .3 -1.8 .4 -2 .4 .9 .3 4 .3 -5.4 .4 -.4 .4 5.3 .3 -2.4 .3 -.3 .4 0 .4 -2.7 .3 .6 .3 -1.2 .4 3.7 .4 3.7 .3 -6.9 .3 3.7 .4 0 .4 -1.5 .3 -.5 .3 -2 .4 1.7 .4 -3.1 .3 6.1 .3 -.9 .4 -1 .4 -6.4 .3 4.7 .3 0 .4 .8 .4 2 .3 -5.3 .3 -3 .4 3.3 .4 .8 .3 2.5 .3 1 .4 .3 .4 .2 .3 -7.7 .3 5.5 .4 2.9 .4 1 .3 -9.9 .3 4.7 .4 4.3 .4 4.2 .3 -7.7 .3 4.6 .4 -3.9 .4 .8 .3 1.8 .3 4.2 .4 -.7 .4 -3.7 .3 1.6 .3 -8.4 .4 4 .4 -.1 .3 -2.8 .3 2.4 .4 -1.6 .4 -2.5 .3 3.8 .3 -.2 .4 4 .3 -1.4 .4 -1 .3 -1.9 .4 2.8 .4 -3 .3 1.6 .3 -1.8 .4 4.2 .4 -6.6 .3 2.5 .3 -2.7 .4 9.8 .4 .3 .3 -8.3 .3 .7 .4 6.3 .4 2.2 .3 -8.9 .3 0 .4 6 .3 1.4 .4 -8.6 .3 3.7 .4 4.3 .4 -6.5 .3 -2.5 .3 4.6 .4 1.3 .4 3.1 .3 -3.7 .3 2.6 .4 -1.6 .4 2.4 .3 -.6 .3 -.5 .4 -2.8 .4 -1.1 .3 .1 .3 1 .4 -.7 .3 -.9 .4 -.5 .3 .2 .4 -.1 .4 -2 .3 3.2 .3 -.1 .4 -3.7 .4 3.6 .3 5.8 .3 -2.6 .4 1.1 .4 -3.2 .3 -4.1 .3 4.8 .4 1.4 .4 -.1 .3 -1 .3 -3.1 .4 3.7 .3 -2.3 .4 -.4 .3 2.1 .4 -1.2 .3 -.3 .4 .2 .3 2.2 .4 -2.2 .4 -1.7 .3 4.1 .3 -3.6 .4 2 .4 -.9 .3 4.5 .3 -4.9 .4 2.6 .4 2.1 .3 -3.5 .3 -.3 .4 -.5 .3 .2 .4 2.5 .3 -1.7 .4 .7 .3 .5 .4 -3.4 .3 1.9 .4 -5.6 .4 4.3 .3 -.4 .3 1.8 .4 2.9 .4 -4.2 .3 -3.2 .3 4.8 .4 .3 .4 -.3 .3 1.3 .3 -.7 .4 2.2 .3 -6.7 .4 3.7 .3 0 .4 -4.5 .3 1.5 .4 .1 .3 -.7 .4 4.3 .4 .7 .3 -7.1 .3 2.9 .4 -1.3 .4 1.3 .3 4.6 .3 -1 .4 2.5 .4 -5.2 .3 5.7 .3 -1.2 .4 2.9 .3 .3 .4 -4.1 .3 -1.9 .4 2.7 .3 -6.1 .4 .1 .3 3.6 .4 -2.1 .4 1.4 .3 3.3 .3 -1.2 .4 -1.8 .4 -2.8 .3 2.3 .3 3.6 .4 -.5 .4 -3.3 .3 1.3 .3 2.5 .4 -3.8 .3 -2.4 .4 -.6 .3 1.6 .4 -1.5 .3 -.9 .4 3.3 .3 -.3 .4 -.5 .4 -.7 .3 -.1 .3 -.1 .4 3.1 .4 3.2 .3 -3.1 .3 3.8 .4 -2.2 .4 -5.7 .3 4.2 .3 1.2 .4 -3.5 .3 4.5 .4 -5.2 .3 .6 .4 5.3 .3 -1.8 .4 -.8 .3 4.5" fill="none" stroke="#000" stroke-width="1.05" stroke-linejoin="round"/>
<path d="M89.0 106.4l.4 -3.5 .3 1.4 .3 2.9 .4 8.5 .4 -13.1 .3 3.9 .3 .2 .4 1.9 .4 .9 .3 -1.6 .4 2.3 .3 -.5 .4 -8.6 .3 3.6 .3 6.9 .4 -.9 .4 -2.8 .3 -.2 .3 -8.8 .4 2.3 .4 8.6 .3 7.2 .3 -9.9 .4 .1 .4 -3.1 .3 4.2 .3 -.3 .4 6.2 .4 -7.7 .3 -3.6 .4 6.2 .3 3.8 .4 -6.4 .3 3.5 .3 -.1 .4 -8.5 .4 1.3 .3 -1.4 .3 6.1 .4 .6 .4 .1 .3 1.5 .3 -5.7 .4 2.6 .4 -4.2 .3 9.6 .3 -2.7 .4 -1.8 .4 -2.1 .3 1.4 .3 6 .4 -2 .4 -6.6 .3 2.4 .3 1.5 .4 -2.8 .4 1.8 .3 -4.7 .3 7.6 .4 -.3 .4 -.8 .3 -2.8 .3 -1.8 .4 1.2 .4 5.9 .3 -5.1 .3 4.7 .4 .7 .4 -2.5 .3 -.8 .3 -2.4 .4 2.6 .4 -2.6 .3 4.8 .3 -1.7 .4 -2.3 .4 -3.6 .3 1.5 .3 -5.8 .4 7.3 .4 .4 .3 -1.2 .3 -2.2 .4 6.6 .4 -1.5 .3 2 .3 -7.7 .4 2.6 .4 9.5 .3 -7.1 .3 -3 .4 9.7 .4 -2.4 .3 -5.8 .3 4.2 .4 -.3 .4 1.4 .3 -.9 .3 -5.6 .4 .3 .4 .2 .3 -1.2 .3 7.8 .4 2.4 .4 -6.2 .3 -6 .3 1.5 .4 .4 .4 4.5 .3 2.4 .3 -6.7 .4 -3.8 .4 7.5 .3 -1.8 .3 -3.6 .4 7.9 .4 -2 .3 -7.2 .3 8 .4 1.8 .4 -4.3 .3 -.8 .3 -2.9 .4 3.6 .4 -.9 .3 2.6 .3 6 .4 -7 .4 -5.3 .3 5.5 .3 -.8 .4 1.3 .4 4.5 .3 -8 .3 5.1 .4 3.5 .4 -3.7 .3 -1.6 .3 2.4 .4 -5.4 .4 3.2 .3 .7 .3 4.8 .4 -8.8 .4 -2.2 .3 2.7 .3 1.3 .4 3.8 .4 .6 .3 -1.6 .3 -7.8 .4 10.5 .4 -6.5 .3 -2 .3 .9 .4 4.1 .4 -4.6 .3 -3.3 .3 6.3 .4 3.4 .4 .6 .3 -8.7 .3 7.6 .4 1.7 .4 -7.8 .3 3.7 .3 2.5 .4 3.4 .4 -8.6 .3 -4.7 .3 4.5 .4 2.5 .4 1.3 .3 5.3 .3 -5.9 .4 3.4 .4 -10.5 .3 8.1 .3 -2.5 .4 .8 .4 1.8 .3 -1.7 .3 3 .4 -9.7 .4 5.5 .3 3.3 .3 -.9 .4 3 .3 -5 .4 -1.1 .3 -2.1 .4 7 .4 3 .3 -2.9 .3 -3.7 .4 -.5 .4 1.4 .3 -7.7 .3 8.1 .4 3 .4 -5 .3 1.1 .3 -1 .4 6 .4 1.9 .3 -.8 .3 -9.2 .4 -.7 .3 10.1 .4 -4.2 .3 -2 .4 -.2 .4 -2.2 .3 -6.2 .3 6.8 .4 3.4 .4 -5.5 .3 0 .3 7.3 .4 4.2 .4 -9.2 .3 -1 .3 0 .4 1.8 .4 3.7 .3 -4.6 .3 -.5 .4 5.1 .3 -1.3 .4 -1.9 .3 .5 .4 2.9 .4 3 .3 -2.7 .3 -1.4 .4 4.9 .4 -12.4 .3 4.8 .3 8.6 .4 -11.2 .4 1.6 .3 -1.9 .3 .5 .4 .2 .4 1.5 .3 .2 .3 2.2 .4 -8.2 .3 10.5 .4 -.7 .3 -4.5 .4 1.4 .4 -.9 .3 2.5 .3 5.1 .4 -1.5 .4 -8.9 .3 5.7 .3 2.7 .4 -2 .4 -2.4 .3 -5.4 .3 .4 .4 12.1 .4 -3 .3 -4.5 .3 3.2 .4 -4.2 .3 -1.7 .4 2.2 .3 3.2 .4 1.6 .4 2.5 .3 -1.6 .3 -4.4 .4 -2.4 .4 3.3 .3 .4 .3 3.6 .4 -.4 .4 -5.7 .3 2.8 .3 -4.2 .4 1.6 .4 -1.7 .3 -1.7 .3 3.5 .4 -3 .3 4.7 .4 -4.8 .3 2.8 .4 -5 .4 5.5 .3 2.6 .3 2 .4 -5.8 .4 -6.1 .3 5 .3 -6.8 .4 11.7 .4 1.3 .3 -2.3 .3 -4.1 .4 -1 .4 3 .3 9.6 .3 -2 .4 -8.8 .3 4 .4 -1.3 .3 4.8 .4 -.2 .4 -3.5 .3 2.9 .3 -1.8 .4 5.2 .4 -2.3 .3 -3.3 .3 .2 .4 -1.5 .4 2.6 .3 1.9 .3 -1.9 .4 -7 .4 7.3 .3 -6.7 .3 2.3 .4 2.8 .3 -5.8 .4 2.4 .3 2.2 .4 -6.2 .4 -3 .3 5.2 .3 -2.8 .4 2.9 .4 2.6 .3 -6.5 .3 -3.1 .4 10.5 .4 -4.1 .3 -1.5 .3 1 .4 4.1 .4 -1.5 .3 -.9 .3 4.7 .4 -6.1 .4 7.2 .3 2.6 .3 -2.2 .4 4.4 .4 -5.4 .3 -1.5 .3 3.9 .4 -3.6 .4 3.2 .3 -.6 .3 -.6 .4 -3.4 .4 1 .3 0 .3 .7 .4 0 .4 .6 .3 .8 .3 -3.2 .4 4.7 .4 -.1 .3 -5.1 .3 -2.1 .4 -4.5 .4 0 .3 5.9 .3 -.8 .4 4.5 .4 -4.6 .3 -7.5 .4 7.4 .3 3.9 .4 4.2 .3 -4.5 .3 4.6 .4 -5.4 .4 -4.8 .3 -2.1 .3 3 .4 1.8 .4 3.7 .3 -5.5 .3 1.6 .4 -1.9 .4 1.6 .3 4 .3 -1 .4 -.4 .4 3.8 .3 -5.9 .3 -5 .4 6 .4 8.5 .3 -7 .3 -7 .4 4.5 .4 -3.8 .3 7.3 .3 .6 .4 1.2 .4 -7.1 .3 3.5 .3 -1.4 .4 2.5 .4 1.7 .3 .7 .3 -4.1 .4 -.3 .4 1.2 .3 2.3 .3 -2.2 .4 5.2 .4 1.3 .3 -3.6 .3 -6 .4 2.5 .4 3.7 .3 .1 .3 0 .4 -2.3 .4 -6.7 .3 -.1 .3 8.6 .4 -4.9 .4 .2 .3 -1.5 .3 5.3 .4 2.3 .4 -6 .3 -5 .3 4.7 .4 -3 .4 -1.9 .3 8 .3 .1 .4 -2.3 .4 2.2 .3 -8.3 .3 .2 .4 7.7 .4 -7.8 .3 1.2 .3 0 .4 2.5 .4 -.5 .3 -1.6 .3 7.9 .4 -2.3 .4 3.9 .3 2.8 .3 -7.1 .4 6 .4 -1.5 .3 2.4 .3 1.1 .4 -2.7 .4 -6.6 .3 .9 .3 5.2 .4 -2.8 .4 2.1 .3 -2.4 .3 .2 .4 -3.3 .4 -1.3 .3 5.1 .3 1.3 .4 -.9 .4 -4.3 .3 -2.1 .3 -6.9 .4 4.9 .4 11 .3 -9.5 .3 1.6 .4 15.4 .4 13 .3 -18.2 .3 -7.7 .4 .7 .4 -1 .3 -2.7 .3 .4 .4 .2 .4 6.3 .3 -9.5 .3 .8 .4 4.2 .4 -1.5 .3 6.8 .3 -7.4 .4 6.6 .4 2.5 .3 -8.1 .3 2.9 .4 -2.9 .4 7.7 .3 -5.3 .3 -4.8 .4 -.6 .4 -1.9 .3 8.3 .3 1.8 .4 0 .4 -9.5 .3 6.2 .3 -1.9 .4 -1 .4 6.2 .3 -.6 .3 -1.3 .4 -1.7 .4 1.5 .3 -1.7 .3 -.1 .4 -.4 .4 6.5 .3 2.1 .3 -4.2 .4 -.1 .4 -8.4 .3 1.9 .3 7.7 .4 -4 .4 -1.5 .3 3.1 .3 1.9 .4 -7.2 .4 1.1 .3 3.8 .3 -5.5 .4 0 .4 2.4 .3 2.7 .3 -3.5 .4 -3.5 .4 -2.7 .3 2.9 .3 2.1 .4 4.8 .4 -.3 .3 -2 .3 -1.9 .4 .7 .4 -1.1 .3 8.6 .3 -.2 .4 -6.3 .4 1.1 .3 1 .3 -2 .4 -4.4 .4 4.1 .3 5.5 .3 -1.4 .4 -2.3 .4 1.1 .3 -5.5 .3 .6 .4 3.1 .4 .2 .3 7.8 .3 -2.5 .4 -5.6 .4 -3.9 .3 1.5 .3 .5 .4 5.9 .4 2.7 .3 -6 .3 -5.2 .4 6.4 .4 -1.1 .3 -5.8 .3 12 .4 -3.5 .4 -4.6 .3 2 .3 -3 .4 3.4 .4 -4.4 .3 -.3 .3 2.8 .4 2.5 .4 -4.2 .3 -4.1 .3 8.2 .4 -.4 .4 -1.7 .3 .3 .3 -5.9 .4 7.5 .4 -2.5 .3 -2 .3 2.2 .4 -3.4 .4 8 .3 -.3 .3 -8.3 .4 1.5 .4 5.1 .3 -1.6 .3 2.3 .4 -1.1 .4 -1.1 .3 3.8 .3 -3.6 .4 -1.3 .4 .6 .3 4.9 .3 1.6 .4 -5.1 .4 -1.8 .3 -2.8 .3 6.9 .4 -1.5 .4 -8.2 .3 7.2 .3 -3.7 .4 .3 .4 5.8 .3 -7.5 .3 3.8 .4 1.2 .4 -1.2 .3 -2.4 .3 -.7 .4 1.8 .4 -.3 .3 -3 .3 2.1 .4 8.3 .4 -10.9 .3 2.4 .3 .6 .4 -.4 .4 4.4 .3 4.7 .3 -.3 .4 -1.3 .4 1.4 .3 -8.2 .3 6.2 .4 1.7 .4 -3.1 .3 .1 .3 -.6 .4 -7.9 .4 5.4 .3 6.4 .3 -2.4 .4 -8.7 .4 -.4 .3 3.9 .3 -2.7 .4 4.6 .4 -1.6 .3 3.4 .3 -9 .4 -1.4 .4 6.8 .3 3.9 .3 -2 .4 .4 .4 -10.6 .3 7.8 .3 .9 .4 -.9 .4 8.5 .3 -5.1 .3 -8.7 .4 7.6 .4 1.7 .3 -6.6 .3 5 .4 1.1 .4 .8 .3 .6 .3 -3.6 .4 -2.3 .4 .5 .3 5.4 .3 2.3 .4 -1.5 .4 -1.5 .3 -1.2 .3 3.3 .4 -2.6 .4 -.1 .3 .6 .3 -2.8 .4 .7 .4 -4.9 .3 2.3 .3 7.5 .4 -1 .4 -4 .3 -2.7 .3 8.9 .4 -7.7 .4 -8.8 .3 10.4 .3 -2.9 .4 .7 .4 2.2 .3 5.6 .3 -7.2 .4 2 .4 1.2 .3 -4.1 .3 3.1 .4 -5 .4 -2.7 .3 4 .3 -.2 .4 -.2 .4 4.8 .3 -7.5 .3 -1.5 .4 7.7 .4 2.3 .3 -.5 .3 -4.5 .4 -.6 .4 2.5 .3 1.4 .3 1.8 .4 -4 .4 5.8 .3 -3.5 .3 -.8 .4 5.9 .3 3.6 .4 -3.3 .3 -7.4 .4 -.4 .4 3.4 .3 5.7 .3 -3.8 .4 -6.6 .4 3.6 .3 1.6 .3 -3.6 .4 1.2 .4 -4.2 .3 5.9 .3 -4.8 .4 .8 .4 2 .3 -3 .3 -.1 .4 4.6 .3 1.2 .4 -1.2 .3 -3.8 .4 2.2 .4 .5 .3 -7.2 .3 10 .4 -3.9 .4 -1.7 .3 1.8 .3 -3.4 .4 -1.1 .3 6.1 .4 1 .3 -5 .4 -3 .4 -.1 .3 8.2 .3 -3.9 .4 4.9 .3 5.2 .4 -5.1 .3 -.1 .4 1 .4 -2 .3 8.3 .3 -8.5 .4 -6.1 .4 7.6 .3 -4.1 .3 -2.7 .4 7.8 .3 -4 .4 1.5 .3 -3.9 .4 2.9 .4 -4.6 .3 1.5 .3 -1.5 .4 3.7 .3 -4.3 .4 13.3 .3 -6.8 .4 -7 .4 4.6 .3 -9.5 .3 6.9 .4 14.2 .4 -7.3 .3 -2.7 .3 1.5 .4 -3.1 .3 -.8 .4 -1.8 .3 8.1 .4 -1.6 .4 -1.5 .3 -12.2 .3 4.5 .4 6.6 .3 4.4 .4 -5.9 .3 -1.7 .4 5.8 .4 -5 .3 .2 .3 2 .4 .8 .4 -.6 .3 -.1 .3 -9.7 .4 7 .3 2.2 .4 .6 .3 -.5 .4 1.4 .4 -.8 .3 -1.2 .3 5.9 .4 -3.4 .3 -3 .4 -2.3 .3 1.3 .4 2.9 .4 .8 .3 -6.5 .3 3.1 .4 1.3 .4 1.8 .3 -3.7 .3 2.7 .4 -9.4 .3 3.1 .4 10.1 .3 -5.5 .4 3 .4 -.5 .3 2.9 .3 3.2 .4 -7.4 .3 -5.3 .4 8.6 .3 3.5 .4 -11.4 .4 4.6 .3 3.7 .3 -3.8 .4 1.4 .4 1.6 .3 -8.3 .3 7.6 .4 .3 .3 -3.8 .4 .4 .3 .7 .4 -8.9 .4 6.1 .3 5.4 .3 -1.2 .4 -1.4 .3 -2.7 .4 5.8 .3 -3.4 .4 .6 .4 -1.9 .3 -1.6 .3 3.7 .4 -1.2 .4 -1.3 .3 1.7 .3 1.2 .4 .3 .3 -5 .4 .8 .3 3.2 .4 3.9 .4 -10.8 .3 9.1 .3 -.8 .4 -1.8 .3 -2.8 .4 6.4 .3 -3.2 .4 -1 .4 2 .3 .1 .3 6.2 .4 -8.8 .4 -3.4 .3 9 .3 -4.9 .4 3.8 .3 -.6 .4 -3.9 .3 -.5 .4 -2.5 .4 3.9 .3 -.2 .3 8.1 .4 -9.8 .4 2.2 .3 7.2 .3 -6.5 .4 1.4 .4 .3 .3 -7 .3 .3 .4 4.3 .4 6.9 .3 -5 .3 -5 .4 -3.6 .4 2.5 .3 .8 .3 5.7 .4 -.1 .4 -10.2 .3 1.8 .3 7.7 .4 3 .4 -1.4 .3 .3 .3 -3.3 .4 1 .4 -.8 .3 -4 .3 4.8 .4 -.9 .4 3.6 .3 -5.6 .3 -2.3 .4 3.9 .4 4.3 .3 .8 .3 -5.8 .4 0 .4 -4.3 .3 2.4 .3 5 .4 -1.4 .4 .1 .3 -1.3 .3 .7 .4 -8.6 .4 15.9 .3 -5.7 .3 -2.2 .4 -.4 .4 3.1 .3 -.4 .3 -2.7 .4 2.4 .4 .3 .3 -2.3 .3 -2.7 .4 4.7 .4 3.5 .3 1.8 .3 -6.4 .4 -2.5 .4 3 .3 1 .3 -1.2 .4 -1.2 .4 -.6 .3 -4 .3 4.7 .4 1.5 .4 -7.8 .3 -8.4 .3 6 .4 14 .4 5 .3 -7 .3 -7.1 .4 4.1 .4 .6 .3 -.6 .3 -2.1 .4 7 .4 -8.4 .3 3 .3 1.6 .4 -2.7 .4 4.8 .3 0 .3 2.7 .4 -11.4 .4 -1.9 .3 11.2 .3 -6 .4 1.8 .4 1.4 .3 2.3 .3 -3.4 .4 5 .4 -2.6 .3 -1.4 .3 -5.4 .4 8.6 .4 1.6 .3 -.4 .3 -3.2 .4 -8 .4 2 .3 8.9 .3 -2.9 .4 -2.8 .4 -.6 .3 -1.1 .3 1.5 .4 1 .4 -1.9 .3 -5.9 .3 4.4 .4 6 .4 -4.8 .3 2 .3 1.7 .4 -8.5 .4 9.3 .3 -1.4 .3 0 .4 .8 .4 2 .3 -5.2 .3 -.8 .4 4.7 .4 -11.3 .3 10 .3 3.3 .4 -3 .4 -.4 .3 -3.8 .3 -2.5 .4 3.6 .4 4.4 .3 1.5 .3 -2 .4 -1.6 .4 2.9 .3 -4 .3 2.8 .4 .2 .4 -4.6 .3 4 .3 -1.5 .4 2.3 .4 -2.9 .3 1.9 .3 -4 .4 1.1 .4 -.6 .3 .4 .3 2 .4 -7.6 .4 -1.3 .3 8.9 .3 -1.9 .4 4.2 .4 2.3 .3 -12.4 .3 6.5 .4 3.2 .4 -4.7 .3 10.9 .3 -8.2 .4 -5.4 .4 4.4 .3 5.6 .3 -5.4 .4 -6.9 .4 7 .3 -.2 .3 -.8 .4 4.4 .4 1.8 .3 -7.4 .3 -1.5 .4 2.5 .4 3.1 .3 2.1 .3 .9 .4 -2.8 .4 -1.6 .3 -1.9 .3 -1.3 .4 4 .4 -1.7 .3 -1 .3 9.7 .4 -1.7 .4 -10.2 .3 -4.5 .3 7.7 .4 2.4 .4 -1.6 .3 -2.6 .3 4.3 .4 -2.4 .4 -4.9 .3 4.2 .3 -1.5 .4 .2 .4 -.4 .3 5.5 .3 -5.7 .4 3.6 .4 -1.1 .3 -1.8 .3 5.2 .4 3.4 .4 -9.1 .3 2.4 .3 .1 .4 -2.7 .4 6.2 .3 -2.7 .3 .1 .4 -2.9 .4 2.5 .3 8.6 .3 -8.2 .4 -.6 .4 -.8 .3 2.3 .3 .2 .4 -2 .4 2.7 .3 -4.3 .3 4.1 .4 1.8 .4 -3.8 .3 -3.4 .3 -1.4 .4 4.2 .4 -.2 .3 -1.5 .3 -2.4 .4 8.3 .4 -5.7 .3 2.1 .3 2.3 .4 -1.8 .4 .3 .3 -6.2 .3 2 .4 7.7 .4 -5.9 .3 1.1 .3 -.2 .4 -2.1 .4 3.6 .3 -1.3 .3 -.4 .4 -2.4 .4 4.4 .3 -3.6 .3 7 .4 -2.8 .4 -4.3 .3 5.4 .3 1.4 .4 -7.9 .4 4.9 .3 -4 .3 8.7 .4 -1.2 .4 -3 .3 .9 .3 -.2 .4 -7.1 .4 5 .3 -5.7 .3 6 .4 .4 .4 -11.5 .3 4.8 .3 6.9 .4 2.7 .4 -5.5 .3 -2.9 .3 7.6 .4 -1.1 .4 -3.5 .3 1.3 .3 3.7 .4 -5.5 .4 -1.7 .3 1.9 .3 -.8 .4 1.4 .4 4.9 .3 -5.5 .3 .6 .4 -1.4 .4 10.1 .3 -5.5 .3 -.5 .4 -.8 .4 5.7 .3 -4.1 .3 -1.6 .4 1.1 .4 -4.8 .3 2.8 .3 -3 .4 4.4 .4 -6.8 .3 -1.7 .3 10.5 .4 -2.2 .4 -.4 .3 2.7 .3 -5 .4 -.5 .4 -1.4 .3 -.1 .3 4.6 .4 -3.5 .4 1.2 .3 7.1 .3 -7.9 .4 -3.1 .4 11.4 .3 -2.2 .3 -3.3 .4 .2 .4 -.3 .3 -2.6 .3 -4.4 .4 .7 .4 1.4 .3 8.7 .3 -.9 .4 -1.4 .4 -.3 .3 1.2 .3 -.8 .4 -.2 .4 -6.2 .3 8.5 .3 -6 .4 1.8 .4 -1.1 .3 -3.2 .3 3.5 .4 .7 .4 -8.8 .3 8.4 .3 -.1 .4 5.5 .4 -7.4 .3 3.3 .3 2.7 .4 -4.3 .4 2.9 .3 5.3 .3 -9.6 .4 -2.6 .4 10.4 .3 -1.1 .3 -5.5 .4 .7 .4 -4 .3 9.7 .3 -5.8 .4 -2.6 .4 3.3 .3 -11.5 .3 5.7 .4 8.5 .4 -4.8 .3 2.1 .3 -2.4 .4 3.8 .4 3.7 .3 -2.8 .3 -5.3 .4 -2 .4 7.5 .3 3.2 .3 -3.1 .4 -6.3 .4 2 .3 4.1 .3 -9.5 .4 6.9 .4 -4.3 .3 1 .3 1.2 .4 8.3 .4 6.5 .3 -9.1 .3 -1.3 .4 -2.2 .4 .9 .3 1.4 .3 1.5 .4 -3.6 .4 1.1 .3 -4.9 .3 1.4 .4 -2.1 .4 7.7 .3 5.3 .3 -9.8 .4 -4.1 .4 4 .3 -4.3 .3 5.6 .4 -1.4 .4 0 .3 0 .3 2.2 .4 2.9 .4 -3.9 .3 .7 .3 3.3 .4 -5.6 .4 1.1 .3 1.2 .3 -6 .4 7.8 .4 6.2 .3 -7.1 .3 -1.3 .4 .7 .4 2.7 .3 -5.4 .3 -7.1 .4 11.5 .4 -2 .3 -3.5 .3 -3.3 .4 1.9 .4 .3 .3 .3 .3 1 .4 .7 .4 1.7 .3 -6.3 .3 4.8 .4 1.3 .4 2.6 .3 -1.6 .3 -3.2 .4 -1.8 .4 7.5 .3 -4.6 .3 3.9 .4 -4 .4 3.5 .3 4.7 .3 -9.1 .4 3.6 .4 4.2 .3 1.2 .3 -3.9 .4 -2.8 .4 .8 .3 4.6 .3 1 .4 -3.6 .4 -1.1 .3 -3.7 .3 -1.5 .4 4.1 .4 -.9 .3 .6 .3 -5.5 .4 -.9 .4 5.5 .3 -5.9 .3 3.8 .4 .1 .4 -.6 .3 2.5 .3 1.6 .4 2.8 .4 -8.1 .3 6.1 .3 0 .4 -4.2 .4 1.6 .3 3.1 .3 -6.4 .4 2.1 .4 3.5 .3 0 .3 -3.6 .4 2.5 .4 -1.4 .3 7.8 .3 -8 .4 .1 .4 5 .3 -1.8 .3 -4.6 .4 -1.7 .4 8.7 .3 -3.5 .3 -3.4 .4 .5 .4 2.7 .3 3.5 .3 -1.7 .4 .4 .4 -7.9 .3 4.9 .3 -3.3 .4 5.2 .4 .9 .3 -3.6 .3 -5.7 .4 6.7 .4 1.3 .3 .2 .3 3.9 .4 -4.9 .4 -4.1 .3 3.5 .3 1.3 .4 2.4 .4 -4 .3 -1.7 .3 6.4 .4 -4.9 .4 .9 .3 -1.5 .3 -2.5 .4 5.1 .4 -1.5 .3 -.1 .3 .8 .4 -5.9 .4 -.1 .3 -1 .3 5.5 .4 2.9 .4 -2.4 .3 1.7 .3 1.3 .4 -6 .4 .1 .3 -1.4 .3 1.2 .4 4 .4 4.2 .3 .8 .3 1.1 .4 -5.3 .4 -8.2 .3 5.9 .3 4.6 .4 -2.7 .3 .1 .4 -1.5 .3 -1.8 .4 -1.1 .4 5.7 .3 4.7 .3 -4.7 .4 -1.2 .4 -1.2 .3 -2.4 .3 4.9 .4 .2 .4 -7 .3 0 .3 3.8 .4 1.3 .4 1.2 .3 1.3 .3 -.3 .4 -6.5 .3 -6.8 .4 7.8 .3 5.2 .4 -10.2 .4 1.1 .3 2.6 .3 4.2 .4 -2.9 .4 -.6 .3 4.9 .3 6.4 .4 3.4 .4 -8.5 .3 1 .3 -6.3 .4 .2 .4 3.6 .3 -.1 .3 3.3 .4 -6.8 .3 .9 .4 .9 .3 2.3 .4 -6.2 .4 -1.4 .3 10.1 .3 -5 .4 2.6 .4 -.6 .3 -8.8 .3 -.5 .4 12 .4 3.7 .3 -8.3 .3 -6.2 .4 -1.3 .4 7 .3 4.1 .3 -7.2 .4 -.9 .3 2.9 .4 9.1 .3 -1.3 .4 -8.1 .3 4.3 .4 -4.4 .3 2.3 .4 1.2 .4 .4 .3 .1 .3 -3.3 .4 3.8 .4 -4.5 .3 -.4 .3 .6 .4 3.5 .4 2.8 .3 -6 .3 -1 .4 4.2 .3 -1.1 .4 -7.5 .3 6 .4 2.6 .3 -1.7 .4 0 .3 8.5 .4 3.7 .4 -10.9 .3 -4.2 .3 8.1 .4 -4.2 .4 .3 .3 .5 .3 -7 .4 2.8 .4 1 .3 -3.3 .3 9.2 .4 -1.3 .3 -10.5 .4 -1.2 .3 13.4 .4 -2.6 .3 -2 .4 -6.6 .3 5 .4 -7.5 .4 6.6 .3 7.8 .3 1.1 .4 -5.3 .4 -6.2 .3 -1.2 .3 .9 .4 6.4 .4 6.5 .3 -5.7 .3 -2 .4 4.1 .3 -.2 .4 -1.1 .3 -.4 .4 .1 .3 -1.2 .4 -4.4 .3 -.2 .4 6.4 .4 1.2 .3 -1.3 .3 -1.4 .4 1.3 .4 -1.3 .3 -3.1 .3 -1.1 .4 -3.3 .4 6.3 .3 1.1 .3 -3 .4 -.4 .3 -2.2 .4 9.2 .3 -1.1 .4 -9.6 .3 2.6 .4 2 .3 -3.5 .4 4.6 .4 -2.1 .3 2.6 .3 -3.8 .4 3.5 .4 1.4 .3 4.3 .3 -4.9 .4 .4 .4 .2 .3 3.6 .3 -4.1 .4 -6 .3 5 .4 2.6 .3 2 .4 -5.6 .3 1.4 .4 -1.6 .3 -6" fill="none" stroke="#000" stroke-width="1.05" stroke-linejoin="round"/>
<path d="M89.0 131.8l.4 -1.7 .3 3.8 .3 -5 .4 -3.8 .4 6.5 .3 2.3 .3 -2.3 .4 .3 .4 .6 .3 -3 .4 8.5 .3 -5.8 .4 7.2 .3 8.9 .3 -17.1 .4 1.3 .4 7.3 .3 -2.7 .3 4.8 .4 -4.5 .4 -7.6 .3 1 .3 1.4 .4 .8 .4 -3.8 .3 5 .3 2.9 .4 -4.7 .4 -.5 .3 3.5 .4 -.8 .3 2.4 .4 -1.4 .3 -3 .3 .5 .4 -5.6 .4 1.4 .3 -1.9 .3 4.2 .4 2.6 .4 -4 .3 .9 .3 -.3 .4 -.1 .4 4.9 .3 -2.9 .3 4.7 .4 1.6 .4 -3.4 .3 -3.4 .3 .7 .4 3.5 .4 2 .3 -2.5 .3 -8 .4 6.9 .4 2.6 .3 -7.3 .3 1.9 .4 -2.2 .4 2.8 .3 2.7 .3 1.5 .4 -3.7 .4 2.7 .3 -7.8 .3 8.1 .4 4.8 .4 -6.5 .3 -1.2 .3 -1.8 .4 1.6 .4 2.5 .3 3.1 .3 -6.4 .4 -3.2 .4 8.1 .3 .9 .3 -8.4 .4 5.5 .4 5.2 .3 -3.3 .3 -2.7 .4 1.4 .4 1.8 .3 -5.5 .3 -.6 .4 2.1 .4 -.2 .3 -6.2 .3 -1.1 .4 9.2 .4 -6 .3 6.3 .3 3 .4 -7.2 .4 -3.8 .3 4.7 .3 -3.4 .4 2.9 .4 1.6 .3 3.5 .3 -1.3 .4 -2.7 .4 .7 .3 1.5 .3 -.5 .4 -.9 .4 5.3 .3 -3.8 .3 -1 .4 9.7 .4 -8 .3 -1.8 .3 -1.5 .4 5.3 .4 -.6 .3 -2.9 .3 -4 .4 .4 .4 .5 .3 -.2 .3 -1.7 .4 5.4 .4 -.5 .3 .9 .3 -4 .4 6.1 .4 -5.1 .3 3.7 .3 -4.1 .4 -1.7 .4 8.3 .3 -6.1 .3 -1.6 .4 4.2 .4 1 .3 -3.3 .3 -4.8 .4 5.1 .4 9.7 .3 -4.8 .3 .8 .4 -10.3 .4 2.3 .3 2.3 .3 9.6 .4 -8.4 .4 .6 .3 -1.7 .3 -2.7 .4 4 .4 -1.4 .3 2.6 .3 -.8 .4 -2.4 .4 .1 .3 1.8 .3 -8.3 .4 8.4 .4 1.3 .3 -3.1 .3 -3.6 .4 3.4 .4 3.3 .3 -4.3 .3 4.4 .4 7.4 .4 -3 .3 -8.5 .3 5 .4 -3.6 .4 .7 .3 .8 .3 1.8 .4 -.5 .4 -5 .3 3.3 .3 -.1 .4 -1.1 .4 -1.3 .3 4 .3 3.9 .4 -6.6 .4 -.8 .3 .5 .3 3 .4 -5 .3 -3.2 .4 1.2 .3 8.7 .4 -2.3 .4 -2.2 .3 1 .3 -3.9 .4 4 .4 -.4 .3 -1.3 .3 6.7 .4 -2.6 .4 -5.9 .3 2.1 .3 -2.7 .4 4.8 .4 8.7 .3 -6.4 .3 -6.7 .4 2.9 .3 3.3 .4 1 .3 -8.1 .4 5.6 .4 4.8 .3 -2.2 .3 .2 .4 -4.1 .4 -3 .3 2.8 .3 6.9 .4 -6.7 .4 2.7 .3 -2.9 .3 -6.1 .4 3.3 .4 3.7 .3 -4.6 .3 1.7 .4 2.3 .3 3.8 .4 -5.4 .3 -.2 .4 -.9 .4 5.1 .3 -4 .3 -.9 .4 3.6 .4 3.6 .3 -4.5 .3 -2.9 .4 -1.6 .4 1.5 .3 -1 .3 8.2 .4 -2.8 .4 -.7 .3 -6.6 .3 6 .4 5.1 .3 -9.7 .4 5.3 .3 3.5 .4 -1.7 .4 -.8 .3 1 .3 1.1 .4 -1.6 .4 -4.8 .3 6.3 .3 5 .4 -9.1 .4 -1.1 .3 -.8 .3 3.2 .4 -1.6 .4 3.4 .3 -.3 .3 -5.5 .4 .2 .3 1.7 .4 3 .3 -4.4 .4 -1 .4 -.7 .3 8.4 .3 -5.8 .4 -4.6 .4 4 .3 3.6 .3 -3 .4 -1.6 .4 6.1 .3 1.5 .3 -4.3 .4 -1.8 .4 -2.8 .3 2.9 .3 0 .4 5.4 .3 -2.6 .4 0 .3 -1.5 .4 -2.4 .4 1.6 .3 1.8 .3 -5.7 .4 8.2 .4 -.6 .3 -.7 .3 -1.1 .4 -3.2 .4 4.7 .3 2.4 .3 -2.1 .4 -1.6 .4 -5 .3 5.8 .3 1.5 .4 -4.8 .3 -2 .4 .8 .3 3.6 .4 2.3 .4 -.2 .3 -2.7 .3 -2.7 .4 -1.4 .4 10.6 .3 -1.8 .3 -3.6 .4 -6.8 .4 .9 .3 .9 .3 4.7 .4 -3.4 .4 -.3 .3 3.9 .3 2.9 .4 -2.9 .3 .9 .4 -3.6 .3 6.2 .4 -.9 .4 -1.9 .3 .2 .3 -5.9 .4 4.2 .4 -5.4 .3 -3.1 .3 11.3 .4 -4.4 .4 -2.2 .3 1.8 .3 0 .4 -4.2 .4 4 .3 .3 .3 1.2 .4 -2.3 .4 2 .3 4.5 .3 -1.3 .4 2.2 .4 -2.1 .3 -9.9 .3 4.8 .4 .1 .4 2.5 .3 5.5 .3 -5.9 .4 -1.5 .4 -1.2 .3 4.8 .3 4.6 .4 -1.2 .4 -3.3 .3 -4.6 .3 3.4 .4 3.4 .4 1.4 .3 -3.4 .3 -1 .4 -2 .4 .3 .3 1 .3 -.4 .4 3.5 .4 -2.1 .3 -5.8 .4 5 .3 1 .4 -2 .3 -2.3 .3 -1 .4 -4.2 .4 2 .3 -.7 .3 2.2 .4 8.9 .4 -3.6 .3 -1.1 .3 -2.7 .4 -1.5 .4 4.3 .3 1.3 .3 -2.8 .4 -2.7 .4 3.3 .3 2.1 .3 -.7 .4 -6.1 .4 9.3 .3 -2.9 .3 5 .4 -3 .4 -4.8 .3 4.3 .3 3.9 .4 -5.7 .4 3.3 .3 -3.1 .3 -2.7 .4 3.1 .4 3.5 .3 -3 .3 -4.2 .4 -1.3 .4 3.8 .3 -1.1 .3 -1.6 .4 8.2 .4 -7.8 .3 -2.2 .3 10.3 .4 -2.7 .4 -.8 .3 .9 .3 .9 .4 -7.9 .4 -4.3 .3 2.8 .3 6.5 .4 4.8 .4 -9.4 .3 -.6 .3 -.7 .4 -1.2 .4 9.5 .3 -1.6 .3 -1.5 .4 .6 .4 2.5 .3 -7.8 .3 4.7 .4 -1.6 .4 4.1 .3 -.1 .3 2 .4 -9.2 .4 -2.8 .3 6.8 .3 10.8 .4 -10.9 .4 -5 .3 3.9 .3 .2 .4 -3.7 .4 7.5 .3 2.4 .3 -5.1 .4 -3 .4 3.4 .3 1.4 .3 -7.5 .4 2.9 .4 .9 .3 5.6 .3 -.1 .4 -3.7 .4 1 .3 -3.4 .3 6.2 .4 7 .4 -12.3 .3 -2.6 .3 4.9 .4 1 .4 2.5 .3 .5 .3 -3.9 .4 1.5 .4 -6.8 .3 6.4 .3 -2.5 .4 -5 .4 6 .3 3.8 .3 -7.1 .4 -1.2 .4 10.1 .3 -3.2 .3 -5.9 .4 5.8 .4 -1.3 .3 -2.8 .3 2.5 .4 -7.2 .4 10.2 .3 -7.9 .3 4.3 .4 2.4 .4 -.1 .3 -5 .3 -8.7 .4 10.7 .4 4 .3 -.3 .3 -6.8 .4 2.3 .4 3.3 .3 -2.9 .3 -1.8 .4 4.4 .4 -3.7 .3 -4.6 .3 3.1 .4 2.5 .4 -.9 .3 4.8 .3 -3.1 .4 -1 .4 1.6 .3 3.1 .3 -2.6 .4 3.2 .4 -2.6 .3 5.7 .3 6.3 .4 -12.8 .4 -2.7 .3 9 .3 -9.5 .4 -2.6 .4 4.4 .3 1.1 .3 -5.4 .4 4.6 .4 2.3 .3 -1.9 .3 .7 .4 4.7 .4 -9 .3 -.9 .3 3 .4 5 .4 -2.3 .3 -2.1 .3 -2.7 .4 2.2 .4 -3.3 .3 1.6 .3 -.2 .4 -.6 .4 -3.8 .3 5.8 .3 3.1 .4 -1.4 .4 2.9 .3 -1.5 .3 -.1 .4 -.5 .4 1.2 .3 -3.8 .3 3.1 .4 -2.9 .4 .8 .3 4.1 .3 -3.4 .4 4.6 .4 -8.6 .3 2.3 .3 8.8 .4 -.5 .4 -1.7 .3 -3.2 .3 -1.3 .4 -5.1 .4 .4 .3 7.1 .3 1.7 .4 -.2 .4 -9.4 .3 2.1 .3 5.1 .4 -.9 .4 3.4 .3 -2.4 .3 -2.5 .4 -.8 .4 7 .3 -8 .3 -.8 .4 5.1 .4 -4.8 .3 2.4 .3 -5.3 .4 .5 .4 7.9 .3 -3.9 .3 -7.6 .4 6.3 .4 3.1 .3 0 .3 -1.2 .4 -1 .4 2.4 .3 -1.3 .3 7.3 .4 -5.7 .4 -5.6 .3 3.4 .3 5.2 .4 -3.8 .4 3.4 .3 -3.4 .3 -4.2 .4 4.4 .4 .9 .3 -3 .3 7.1 .4 -1.9 .4 -3 .3 -9.3 .3 5.8 .4 5.9 .4 -6.7 .3 6.9 .3 .5 .4 -3.5 .4 6.4 .3 -6.4 .3 -2.3 .4 6.7 .4 -.6 .3 -2.5 .3 -.6 .4 2.6 .4 -2.3 .3 -.4 .3 -4.9 .4 .6 .4 5.8 .3 -4.6 .3 -4.8 .4 3 .4 5.3 .3 -3.9 .3 -2.2 .4 4.4 .4 -.2 .3 .3 .3 -3.2 .4 -4.5 .4 5.1 .3 2.9 .3 -1.4 .4 8.8 .4 -5.7 .3 -2 .3 -7.6 .4 10.9 .4 4 .3 3.9 .3 -6.1 .4 -9.6 .4 5.4 .3 -.8 .3 3.2 .4 0 .4 1 .3 -1.6 .3 -5.7 .4 -2.5 .4 9.8 .3 -3.6 .3 1.9 .4 -8.5 .4 11.2 .3 -1.6 .3 -7 .4 -.8 .4 1.4 .3 4 .3 5.3 .4 -.3 .4 .8 .3 -7.6 .3 -3.6 .4 5.7 .4 -2.2 .3 .7 .3 -1.6 .4 3.6 .4 -5.2 .3 -3.1 .3 -3.5 .4 10.2 .4 -.6 .3 2.3 .3 -6.4 .4 9.8 .4 -.7 .3 -3.9 .3 -4.5 .4 3.4 .4 -2.7 .3 6.1 .3 -5.4 .4 -4.6 .4 5.6 .3 -2.3 .3 3.7 .4 .7 .4 -.5 .3 4 .3 -1.2 .4 -2.7 .4 1.1 .3 5 .3 -1.2 .4 -5.6 .4 -.4 .3 3.9 .3 3.5 .4 -2.3 .4 .5 .3 -3.7 .3 3.1 .4 -8.5 .4 -1.1 .3 7.9 .3 -.2 .4 -.1 .4 -.8 .3 -3.8 .3 0 .4 2.6 .4 -6 .3 -.5 .3 4.1 .4 1 .3 1.3 .4 -.4 .3 -3.2 .4 2.1 .4 -.7 .3 3.5 .3 6.3 .4 -4.9 .4 -11.1 .3 11.2 .3 .2 .4 -5.9 .4 4.8 .3 3.9 .3 -6.1 .4 -2.7 .4 -.7 .3 -.4 .3 -.8 .4 2.9 .3 -1 .4 -1.4 .3 3.2 .4 -1.3 .4 -1.4 .3 3.8 .3 5.7 .4 6 .4 -10.8 .3 1.4 .3 1 .4 .3 .3 -1.3 .4 1.1 .3 -1.5 .4 -2 .4 7.8 .3 -5 .3 -5.2 .4 2.5 .3 1.3 .4 0 .3 -2.3 .4 3.1 .4 -3.6 .3 -.6 .3 -5.1 .4 3.1 .4 7.8 .3 -1 .3 -1.2 .4 6.3 .3 -5.4 .4 -7 .3 2.8 .4 4.9 .4 -2.1 .3 -6.2 .3 -.1 .4 2.8 .3 -7.6 .4 5.8 .3 2.5 .4 .9 .4 -.6 .3 -.2 .3 .8 .4 -4.2 .4 3.9 .3 6.2 .3 -5.5 .4 2.5 .3 5.4 .4 -8.4 .3 6.3 .4 -2.9 .4 -4 .3 4.3 .3 -4.8 .4 7.3 .3 4.5 .4 -6.8 .3 -4.4 .4 -1.2 .4 -1.6 .3 1 .3 4.8 .4 3.7 .4 -4.9 .3 -4.6 .3 1.8 .4 3.8 .3 -4.2 .4 2 .3 2.3 .4 -.4 .4 2.2 .3 -1.1 .3 2.4 .4 -5.3 .3 2.2 .4 2.6 .3 -1.6 .4 -.3 .4 -7.4 .3 9.3 .3 -6.2 .4 3.4 .4 1.4 .3 .3 .3 -8.5 .4 7.8 .3 -2.2 .4 .7 .3 -5.3 .4 .2 .4 -3.5 .3 3 .3 5.9 .4 -4.7 .3 3.6 .4 -3.6 .3 -6 .4 3.2 .4 5.9 .3 9.7 .3 -4.5 .4 .7 .4 -5.5 .3 -4.8 .3 6.8 .4 -2.4 .3 6.5 .4 1.4 .3 -4.1 .4 -1.4 .4 1.7 .3 -3 .3 -3.8 .4 .9 .3 4.9 .4 -9.7 .3 9.5 .4 .9 .4 -3.6 .3 1.3 .3 4.5 .4 -2.6 .4 1.5 .3 -3.7 .3 .6 .4 -1.6 .3 -5 .4 1.9 .3 3 .4 4.5 .4 -2.2 .3 -4.7 .3 8.7 .4 -5.6 .3 -3.3 .4 .8 .3 3.1 .4 -3.2 .4 2 .3 4.2 .3 .3 .4 -4.8 .4 -2.3 .3 1.8 .3 -1.3 .4 .8 .3 -1.3 .4 5.9 .3 -6 .4 1.9 .4 5 .3 -5 .3 -4.9 .4 -.1 .4 2.3 .3 2.4 .3 3.2 .4 4.7 .4 -6.2 .3 -2.8 .3 -1.7 .4 6.6 .4 0 .3 -1.2 .3 3.4 .4 -9.7 .4 2.3 .3 2.4 .3 3.6 .4 .4 .4 -3.8 .3 3 .3 5.2 .4 -7.2 .4 1.6 .3 -2.9 .3 3.2 .4 6.6 .4 -4.9 .3 -9.1 .3 3.5 .4 2.7 .4 -3.5 .3 6.7 .3 1.2 .4 -10.8 .4 7.1 .3 -2.7 .3 4.6 .4 -4.6 .4 -2.4 .3 .4 .3 3.8 .4 -1 .4 -2.4 .3 -1.5 .3 3.6 .4 -3 .4 -6.8 .3 8.7 .3 3 .4 -3.9 .4 -2.1 .3 1 .3 -3.1 .4 5.4 .4 4 .3 -1.4 .3 -1.6 .4 2.8 .4 -1.5 .3 1.1 .3 0 .4 -8.9 .4 7 .3 4.3 .3 -6.5 .4 6.4 .4 -6.2 .3 -.9 .3 -1.1 .4 4.8 .4 3.1 .3 -4.7 .3 -2.7 .4 6.5 .4 1.8 .3 -3.6 .3 -2.9 .4 -.2 .4 4.8 .3 -.1 .3 -3.8 .4 0 .4 5.4 .3 -.9 .3 -4.7 .4 4.3 .4 -3.4 .3 3.9 .3 -4.7 .4 1.2 .4 3.7 .3 -3 .3 -2.6 .4 1.2 .4 -4.1 .3 .6 .3 -.3 .4 3.8 .4 -6.9 .3 2.4 .3 1.8 .4 1.2 .4 .7 .3 -1 .3 -.3 .4 .7 .4 -1.3 .3 2.1 .3 -1.4 .4 -1 .4 4.9 .3 -6.5 .3 3.3 .4 -.1 .4 6.1 .3 -2.9 .3 .8 .4 -.1 .4 2.3 .3 -1.3 .3 -2.7 .4 1.4 .4 3.4 .3 -7.2 .3 4 .4 5.4 .4 -8.5 .3 -1.9 .3 1.5 .4 -5.1 .4 7.9 .3 -.7 .3 -4.9 .4 5.6 .4 -2.1 .3 2.4 .3 2.1 .4 -1.7 .4 .6 .3 -2.8 .3 -5.8 .4 9 .4 -4 .3 -3.8 .3 1.5 .4 7.9 .4 1.3 .3 -5.6 .3 -1.7 .4 5.6 .4 -3.9 .3 -4 .3 .5 .4 .8 .4 3.6 .3 -2.6 .3 -2.6 .4 4.2 .4 -5.1 .3 -.1 .3 -.8 .4 6.8 .4 -5.9 .3 1.5 .3 6.2 .4 -1.3 .4 4.5 .3 -5.5 .3 -2 .4 -2.8 .4 5.7 .3 -.3 .3 -2.3 .4 -1.6 .4 4 .3 -3.2 .3 4.6 .4 -2 .4 -6.1 .3 5.9 .3 -4 .4 -.4 .4 10.3 .3 -.5 .3 -4.8 .4 -5.7 .4 4.9 .3 .6 .3 10.8 .4 -8.5 .4 -1.1 .3 -3.8 .3 5.5 .4 -5.3 .4 3.7 .3 -2 .3 .7 .4 -4.8 .4 -1 .3 2.3 .3 5.2 .4 -1.9 .4 2.8 .3 -2.5 .3 -2.6 .4 -.3 .4 2.9 .3 -4.4 .3 2.2 .4 -3.2 .4 3.7 .3 -1.2 .3 .1 .4 5.4 .4 -10.3 .3 3.3 .3 4.4 .4 4.2 .4 -5.3 .3 -3.7 .3 -4.2 .4 6.1 .4 2 .3 -2.2 .3 .5 .4 5.1 .4 -5.7 .3 -3.1 .3 3.3 .4 2.4 .4 3.1 .3 -1.5 .3 -5.5 .4 3.2 .4 4.2 .3 -1.9 .3 3 .4 4.1 .4 -7.6 .3 -1.8 .3 .9 .4 3.4 .4 -3.3 .3 1.4 .3 -1.1 .4 -2.8 .4 4.2 .3 -4.2 .3 -3.1 .4 11.1 .4 .1 .3 -7.5 .3 .7 .4 -8.3 .4 -.4 .3 7.7 .3 -.1 .4 3.8 .4 -.5 .3 -5.2 .3 3.1 .4 -2.7 .4 -3 .3 9.1 .3 .5 .4 -4.1 .4 -.6 .3 -2.1 .3 2 .4 2.7 .4 -1.4 .3 -.7 .3 -.4 .4 -.3 .4 -.2 .3 2.6 .3 3.2 .4 -5.3 .4 -3.7 .3 6.4 .3 2.5 .4 .9 .4 -4.9 .3 -.1 .3 -6.1 .4 4.5 .4 -.4 .3 -2.7 .3 5.3 .4 1.5 .4 2.4 .3 -1.4 .3 -10.7 .4 6 .4 4.6 .3 4.6 .3 -5.9 .4 -1.8 .4 4.1 .3 4.4 .3 -13.4 .4 -4.4 .4 4.3 .3 7.8 .3 -6.9 .4 10.9 .4 -5.4 .3 -9.2 .3 .1 .4 9.8 .4 -1.7 .3 -.1 .3 8.3 .4 -1 .4 -7.1 .3 -5.2 .3 3.4 .4 3.9 .4 -3.3 .3 1.7 .3 3.6 .4 -8.8 .4 -1.2 .3 10.3 .3 -8.9 .4 1.4 .4 3.3 .3 -4.7 .3 5.8 .4 -3.6 .4 -4.2 .3 -1 .3 6.7 .4 6.2 .4 -.8 .3 -6.6 .3 -7 .4 4.1 .4 2.2 .3 10.5 .3 -1.3 .4 -6.6 .4 3.2 .3 -10.1 .3 6.4 .4 -.9 .4 7.1 .3 -6.7 .3 6.6 .4 -6.1 .4 -5.2 .3 4.8 .3 -3 .4 5 .4 .4 .3 2 .3 -5.9 .4 -4.3 .4 7.6 .3 -4.4 .3 1.2 .4 9.8 .4 8 .3 -11.2 .3 -3.5 .4 -2.1 .4 7.2 .3 -6.7 .3 3.2 .4 -.6 .4 -2.7 .3 .4 .3 -3 .4 1.2 .4 9 .3 -5.4 .3 -11.2 .4 1 .4 2.5 .3 5.7 .3 4.9 .4 -2.1 .4 -12.4 .3 1.4 .3 7.8 .4 3.7 .4 2.3 .3 1.8 .3 -13.2 .4 3.2 .4 5.7 .3 -5.7 .3 1.1 .4 6.3 .4 -1 .3 -2.8 .3 2.7 .4 1 .4 -1.2 .3 -8 .3 6.2 .4 -4.6 .4 1.6 .3 .6 .3 3.5 .4 -3.8 .4 1.6 .3 -3 .3 .5 .4 -1 .4 4.9 .3 2.8 .3 1.8 .4 -6.7 .4 -4.9 .3 1.3 .3 5.5 .4 7 .4 -5.9 .3 1.8 .3 -7.7 .4 -.9 .4 3.8 .3 1.3 .3 -.9 .4 1.1 .4 -2.3 .3 -6.6 .3 4.7 .4 1.2 .4 8.3 .3 6.5 .3 -9.1 .4 3.8 .4 -9.1 .3 -6.3 .3 9.1 .4 -2.2 .4 9.4 .3 -5.9 .3 -8.7 .4 10.3 .4 -8.4 .3 6.2 .3 -2.3 .4 -1.5 .4 .7 .3 .6 .3 1.4 .4 -1.6 .4 3.9 .3 -2.1 .3 2.4 .4 -.5 .4 1.3 .3 -8 .3 -2.4 .4 6.3 .4 3.8 .3 -10.3 .3 2.7 .4 -.8 .4 -1.2 .3 9.8 .3 -3.7 .4 -5.3 .4 8.1 .3 -1.7 .3 2 .4 -8.2 .4 6.3 .3 8.9 .3 -10.1 .4 .6 .4 4.2 .3 -.8 .3 -4.7 .4 -5.6 .4 11.1 .3 -13.7 .3 -.8 .4 12.4 .4 -1.9 .3 -3.4 .3 1.2 .4 -2.9 .4 5.4 .3 -.3 .3 4.5 .4 -4 .4 -6.8 .3 6.8 .3 -3.9 .4 -5.2 .4 4.7 .3 1.2 .3 1.3 .4 -1.1 .4 .8 .3 .7 .3 2.5 .4 .1 .4 -6.5 .3 6.7 .3 2.2 .4 -5.6 .4 .7 .3 -.9 .3 2.7 .4 -2.1 .4 1.8 .3 -5.3 .3 2.9 .4 -3.8 .4 .3 .3 6 .3 1.2 .4 3.1 .4 -3.5 .3 -5 .3 3.3 .4 -7 .4 6.9 .3 -.6 .3 -.8 .4 -.6 .4 1.7 .3 -1.3 .3 -.5 .4 -.3 .4 1.6 .3 -.9 .3 -.8 .4 -1.2 .4 3.1 .3 -2.9 .3 -.8 .4 3.6 .4 -.4 .3 1.9 .3 0 .4 -8 .4 7.9 .3 5.4 .3 -7.3 .4 -1.9 .4 -.4 .3 9 .3 -1.9 .4 2.5 .4 -10.3 .3 5.4 .3 -.7 .4 -3.6 .4 -5.1 .3 2.6 .3 5 .4 4.5 .3 .2 .4 -9 .3 -6.5 .4 11 .4 4.1 .3 -3.1 .3 -1 .4 -3.4 .4 3.3 .3 2.1 .3 -3.7 .4 -2.3 .4 3.3 .3 -2.9 .3 5.7 .4 2 .4 -6.7 .3 .9 .3 -3.9 .4 .2 .3 2.3 .4 2.4 .3 2.2 .4 -3.5 .4 -.6 .3 -3.3 .3 -.8 .4 15.8 .4 -3.3 .3 -5 .3 -1.5 .4 3.9 .4 -3.2 .3 .2 .3 2.9 .4 2.7 .4 -6.9 .3 -3.9 .3 4.4 .4 -2.1 .3 8.6 .4 -3.7 .3 -2.3 .4 -1.7 .4 -4.4 .3 2.2 .3 -2.8 .4 2.9 .4 10.7 .3 -6.9 .3 -4.5 .4 5.6 .4 .4 .3 2.1 .3 -4.2 .4 .2 .4 -1.1 .3 -2.5 .3 1.6 .4 -.6 .3 5.7 .4 -1.1 .3 -10.7 .4 7 .3 3.6 .4 -1.7 .3 -5.7 .4 6 .4 -3.8 .3 5.1 .3 -.8 .4 -4.2 .4 2.4 .3 .2 .3 -2.2 .4 1.9 .4 .4 .3 1.3 .3 .9 .4 2.8 .3 -4.7 .4 4.7 .3 .8 .4 -3.8 .3 -1.5 .4 4.1 .3 -3.5 .4 2.3 .4 -2 .3 1.2 .3 -1.9 .4 -1.7 .4 0 .3 -4.6 .3 2.1 .4 5.4 .4 -.8 .3 1.5 .3 -9.6 .4 7.4 .3 -.2 .4 2 .3 .8 .4 -10.5 .3 10.7 .4 -7 .3 3.5 .4 2.4 .4 2.8 .3 -5.1 .3 .7 .4 2.3 .4 -4.7 .3 -3.3 .3 4.8 .4 1.1 .4 .9 .3 -.4 .3 -5.7 .4 -4.4 .3 7.5 .4 5.2 .3 -7.1 .4 7.4 .3 -.6 .4 -2.1 .3 -1.8 .4 3.5 .4 -4.1 .3 1 .3 2.2 .4 4.5 .4 -6.8 .3 -.6 .3 3.3 .4 -.8 .4 -3.6 .3 4.7 .3 -3.2 .4 4.2 .3 .2 .4 -4.3 .3 -4.4 .4 7.2 .3 .2 .4 -1.2 .3 1.5 .4 -5 .4 .2 .3 2.6 .3 -3.6 .4 2.3 .4 2.2 .3 -1.4 .3 -9.2 .4 4.9 .4 5.9 .3 -2.8 .3 7.4 .4 -4.3 .3 .2 .4 -1 .3 -2.5 .4 2.4 .3 -1.1 .4 -4.1 .3 2.7" fill="none" stroke="#000" stroke-width="1.05" stroke-linejoin="round"/>
<line x1="566.6" y1="162.3" x2="663.8" y2="162.3" stroke="#222" stroke-width="2.0"/>
<text x="615.5" y="156.9" font-size="17" text-anchor="middle">5s</text>
<text x="188.5" y="17.8" font-size="23.7">Baseline Interictal Recording</text>
<line x1="822.2" y1="31.3" x2="822.2" y2="152.4" stroke="#000" stroke-width="1.6"/>
<line x1="820.0" y1="55.8" x2="822.2" y2="55.8" stroke="#000" stroke-width="1.4"/>
<text x="817.2" y="62.0" font-size="17.5" text-anchor="end" fill="#d5121c">RHip 3-4</text>
<line x1="820.0" y1="79.1" x2="822.2" y2="79.1" stroke="#000" stroke-width="1.4"/>
<text x="817.2" y="85.3" font-size="17.5" text-anchor="end" fill="#d5121c">RHip 1-2</text>
<line x1="820.0" y1="103.6" x2="822.2" y2="103.6" stroke="#000" stroke-width="1.4"/>
<text x="817.2" y="109.8" font-size="17.5" text-anchor="end">LHip 3-4</text>
<line x1="820.0" y1="127.5" x2="822.2" y2="127.5" stroke="#000" stroke-width="1.4"/>
<text x="817.2" y="133.7" font-size="17.5" text-anchor="end">LHip 1-2</text>
<path d="M823.0 58.2l.4 -1.1 .3 .5 .3 -7.3 .4 3.8 .4 -2.9 .3 4.7 .3 3.7 .4 .2 .4 -6.4 .3 4.2 .3 -3.8 .4 -1.4 .4 3.5 .3 2.8 .3 -3.1 .4 2 .4 1.1 .3 -4.3 .3 6 .4 -1.1 .4 -3.2 .3 -2.4 .3 3.6 .4 5.1 .4 -2.6 .3 .9 .3 -8.4 .4 1.1 .4 5.4 .3 .6 .3 -2.2 .4 2.5 .4 -.6 .3 -2.2 .3 4.2 .4 -1.8 .4 -2.2 .3 .6 .3 -3.4 .4 .1 .4 .9 .3 .9 .3 1.1 .4 -3.9 .4 3.2 .3 -1.2 .3 -.7 .4 3.6 .4 1.3 .3 -10.4 .3 1.8 .4 7.4 .4 .8 .3 -3.6 .3 2.6 .4 -2.8 .4 .6 .3 4 .3 -3.1 .4 2.5 .4 -4.6 .3 -.5 .3 3.8 .4 -.6 .4 -2.6 .3 -1.4 .3 -2 .4 5.7 .4 -.8 .3 -.1 .3 4.2 .4 -1.6 .4 -2 .3 1.2 .3 -2.7 .4 2.5 .4 -1.5 .3 4.5 .3 1.8 .4 -2.2 .4 -5.9 .3 .6 .3 .9 .4 2 .4 .7 .3 -2.1 .3 8.1 .4 -5.2 .4 -6.5 .3 -.1 .3 4 .4 -1.6 .4 4.7 .3 -3.1 .3 -.9 .4 .2 .4 -1.4 .3 1.8 .3 -3.5 .4 4.2 .4 -.1 .3 -2.7 .3 -1 .4 -2.1 .4 2.3 .3 1.5 .3 2.4 .4 .9 .4 1 .3 -2.3 .3 -1.9 .4 3 .4 -4.2 .3 3.5 .3 -4.4 .4 2.5 .4 3.6 .3 -6.6 .3 1.9 .4 5.5 .4 -3.4 .3 2.8 .3 -2 .4 -.3 .4 3.7 .3 -.5 .3 -1.4 .4 -5.5 .4 4.9 .3 -1.4 .3 -5.6 .4 3.5 .4 5.8 .3 -3.6 .3 1.6 .4 -3.9 .4 -1.2 .3 6.3 .3 -2.8 .4 -2.4 .4 6 .3 -1.1 .3 -3.1 .4 .9 .4 1.9 .3 -.6 .3 -4.2 .4 1.6 .4 1.6 .3 -1.9 .3 2.3 .4 -1.8 .4 -2.3 .3 .3 .3 -1.1 .4 4.6 .4 -.5 .3 -3 .3 2.4 .4 1.4 .4 -5.9 .3 7 .3 -4.8 .4 -.7 .4 .6 .3 5.3 .3 -2.6 .4 2.8 .4 -6 .3 1.8 .3 -2.9 .4 1 .4 4.8 .3 1.4 .3 -.3 .4 -4.5 .4 0 .3 1.3 .3 3.6 .4 1.2 .4 -3.1 .3 -1.7 .3 -.4 .4 .8 .4 -1.1 .3 -.2 .3 .8 .4 .3 .4 0 .3 1 .3 -.5 .4 -.2 .4 2.4 .3 -.5 .3 -2.6 .4 2.3 .4 .9 .3 -5.6 .3 7.3 .4 -2.2 .4 -3.6 .3 2 .3 -.7 .4 2.4 .4 -.8 .3 -2 .3 -1.1 .4 .1 .4 6 .3 -5.6 .3 -5.9 .4 2.3 .4 8.7 .3 -4.8 .3 -3.8 .4 -1.3 .4 3.9 .3 1.6 .3 -8.6 .4 7.9 .4 2.9 .3 2 .3 1.7 .4 -7.2 .4 .2 .3 4.3 .3 2.6 .4 -2.6 .4 -5.6 .3 .1 .3 3.2 .4 -.5 .4 3.2 .3 -3.5 .3 -3.4 .4 4.6 .4 -1.1 .3 1.1 .3 -1.2 .4 .5 .4 -.8 .3 4.5 .3 -7.5 .4 7.4 .4 2 .3 -2.8 .3 -4.3 .4 2.2 .4 -3 .3 -1.1 .3 6.7 .4 -2.9 .4 .2 .3 -2.4 .3 1.2 .4 -.8 .4 .4 .3 .3 .3 .1 .4 1.7 .4 2.6 .3 -3.7 .3 -1.5 .4 -2.1 .4 4.6 .3 -.1 .3 -.1 .4 -1.4 .4 -2.1 .3 3.3 .3 .6 .4 -7.5 .4 3.8 .3 4.3 .3 -.8 .4 -.1 .4 -7.3 .3 2.7 .3 2.9 .4 .7 .4 -.4 .3 -2 .3 -2.5 .4 7.5 .4 -1.6 .3 -2.9 .3 -1.2 .4 2.4 .4 5.3 .3 -4.7 .3 4.5 .4 -.7 .4 -5.1 .3 2.9 .3 2.4 .4 .3 .4 -2.9 .3 0 .3 -1 .4 .7 .4 2.4 .3 -3 .3 -2.7 .4 1.8 .4 1.3 .3 .9 .3 -2.3 .4 -.5 .4 .1 .3 1 .3 -.8 .4 -1.1 .4 3 .3 -1.1 .3 -2.5 .4 1.2 .4 -1.4 .3 .2 .3 2.7 .4 -5.1 .4 1.4 .3 3.3 .3 -2.8 .4 3.1 .4 0 .3 -2.4 .3 2.6 .4 .8 .4 .1 .3 -3.6 .3 1.6 .4 4.3 .4 1.7 .3 -3.5 .3 1.5 .4 -1.3 .4 -1.2 .3 -5 .3 1.9 .4 4.8 .4 -.3 .3 .9 .3 -3.1 .4 -2.9 .4 -.4 .3 3.6 .3 .6 .4 1.6 .4 -5.8 .3 1.4 .3 2.1 .4 -1.7 .4 4.5 .3 1.4 .3 -3.6 .4 -.2 .4 -2.4 .3 4.6 .3 -7.6 .4 1.9 .4 7.7 .3 4.7 .3 -6.6 .4 -1.3 .4 -3.5 .3 1.9 .3 1.8 .4 -1.5 .4 .8 .3 4.1 .3 -4.5 .4 1.6 .4 2 .3 -5.9 .3 -1.3 .4 3.8 .4 3.2 .3 -4.4 .3 -1 .4 2.8 .4 -4 .3 -.6 .3 3.1 .4 -2.6 .4 3.6 .3 -3 .3 -2.4 .4 3.5 .4 1.9 .3 1 .3 -4.5 .4 .8 .4 .9 .3 -1.6 .3 6.8 .4 -2.9 .4 -1.1 .3 -1 .3 -.1 .4 3.1 .4 -4.1 .3 3 .3 1.2 .4 0 .4 -3.1 .3 -3.3 .3 4.1 .4 -1.6 .4 -2 .3 2.1 .3 2.4 .4 -1.4 .4 -.4 .3 3.1 .3 -.6 .4 2.2 .4 -1.1 .3 -2.9 .3 3.2 .4 -1.5 .4 1.8 .3 -.7 .3 -6 .4 2.4 .4 1.1 .3 -2.2 .3 3.8 .4 -1.1 .4 -2.5 .3 .7 .3 .9 .4 -1.6 .4 -3.2 .3 2.1 .3 4 .4 -3.2 .4 -2.4 .3 .4 .3 4.2 .4 0 .4 2.1 .3 -3.1 .3 -2.4 .4 1.9 .4 2.8 .3 1.2 .3 -.9 .4 -1.6 .4 -1.4 .3 3.3 .3 1.4 .4 -.8 .4 -2.6 .3 -2.1 .3 -1.4 .4 5.1 .4 2.5 .3 -4.3 .3 -2 .4 5 .4 -2.5 .3 -.4 .3 3.2 .4 -3.2 .4 -1.4 .3 3.3 .3 -7.1 .4 2.1 .4 7.6 .3 4.6 .3 -6.4 .4 -2.6 .4 -.7 .3 0 .3 -1.5 .4 1.3 .4 3.7 .3 -2.8 .3 1.8 .4 -5.2 .4 -2.7 .3 7.2 .3 .4 .4 .4 .4 -3.2 .3 -1.2 .3 5.4 .4 -2.1 .4 -1.7 .3 0 .3 1.7 .4 .7 .4 -2.7 .3 .9 .3 -.8 .4 -3.6 .4 3 .3 3.9 .3 6.9 .4 -7.1 .4 -1.4 .3 -2.6 .3 -.7 .4 3.7 .4 -1.1 .3 .7 .3 -2.6 .4 -1.1 .4 1.7 .3 .7 .3 0 .4 1.8 .4 -1 .3 -.1 .3 -3.9 .4 5.1 .4 -1.4 .3 1.5 .3 -1.7 .4 -.5 .4 2.9 .3 -.8 .3 -5.8 .4 1.8 .4 8.6 .3 -4.9 .3 -1.3 .4 -1.3 .4 -1.7 .3 8 .3 -4.2 .4 .6 .4 1.7 .3 -2.3 .3 -2.1 .4 1.6 .4 2.9 .3 -1.5 .3 -1.4 .4 3.7 .4 -1 .3 -.2 .3 -2.2 .4 -2.4 .4 -.1 .3 -2.6 .3 2.9 .4 2 .4 -2.6 .3 4.4 .3 -5.9 .4 1.5 .4 -2.3 .3 1.9 .3 2.3 .4 .6 .4 -1.4 .3 3.1 .3 -1.8 .4 -2.7 .4 6 .3 -1.4 .3 3.5 .4 -3.5 .4 -1.2 .3 .5 .3 -.8 .4 .4 .4 2.9 .3 -3.6 .3 -.6 .4 -.8 .4 2.8 .3 -1.7 .3 -.9 .4 .9 .4 -.2 .3 -3.1 .3 2.2 .4 6.4 .4 -5.6 .3 -.6 .3 .2 .4 .9 .4 -.1 .3 -1.7 .3 2.7 .4 1.6 .4 -3 .3 .8 .4 3.3 .3 -6.1 .4 5.5 .3 -3.1 .3 -.9 .4 3.6 .4 -.4 .3 -7.3 .3 5.3 .4 3.3 .4 -3.7 .3 -2.5 .3 5.5 .4 -3.9 .4 .3 .3 .1 .3 1.4 .4 4 .4 -4.8 .3 1.4 .4 1.1 .3 -7.8 .4 3.2 .3 2.9 .3 -5.7 .4 .9 .4 1.5 .3 -3.2 .3 5.7 .4 2.2 .4 -3.5 .3 .5 .3 4.6 .4 -6.3 .4 4.7 .3 1.4 .3 -2.3 .4 1.7 .4 -5.1 .3 5.5 .4 -1.7 .3 -4.1 .4 3.7 .3 3.9 .3 -3.4 .4 -1.8 .4 1.8 .3 5.4 .3 -5.4 .4 -1.4 .4 2.5 .3 -2.7 .3 1.3 .4 .2 .4 -1.5 .3 -3.5 .3 5.1 .4 -4.5 .4 -1 .3 -2 .4 4.3 .3 1.6 .4 2.4 .3 -1.5 .3 -.9 .4 .2 .4 -2.8 .3 -1.3 .3 1.6 .4 -1.6 .4 4.8 .3 -.6 .3 -3 .4 -3.7 .4 3.1 .3 -.6 .3 .6 .4 4.9 .4 -3.2 .3 3.3 .4 -1.9 .3 3.1 .4 .2 .3 2.4 .3 5.9 .4 1.7 .4 -1.8 .3 -3.7 .3 -.3 .4 -5.4 .4 .5 .3 -1.9 .3 -3.5 .4 -.3 .4 -5.2 .3 -7.6 .3 -2.2 .4 -1.1 .4 2.9 .3 3.2 .4 5.4 .3 2.9 .4 6.4 .3 -.8 .3 2.6 .4 8.1 .4 12 .3 5.7 .3 1.4 .4 -.4 .4 -5.5 .3 -10.8 .3 -8.6 .4 -6.2 .4 0 .3 -3.9 .3 -8.8 .4 -8.4 .4 -9.6 .3 -3.1 .4 -1.1 .3 6.3 .4 11.8 .3 8.6 .3 6.1 .4 3.6 .4 -.2 .3 5.9 .3 11.3 .4 10.1 .4 4.9 .3 -.4 .3 -5.5 .4 -7.9 .4 -8 .3 -7 .3 -1.1 .4 -2.4 .4 -3.7 .3 -4.2 .3 -7.3 .4 -3.9 .4 -3.4 .3 1.7 .3 7.1 .4 4.3 .4 6.1 .3 4.3 .3 2.2 .4 -1.3 .4 3.8 .3 2.9 .4 1.9 .3 -1.8 .4 -2 .3 .7 .3 -1.4 .4 -4.8 .4 -3.1 .3 1.8 .3 .8 .4 -1.3 .4 -3.2 .3 -1.6 .3 -1.1 .4 .9 .4 2 .3 3.5 .3 -4 .4 -1.7 .4 7.2 .3 .2 .4 1.7 .3 2.1 .4 -3.1 .3 -1.7 .3 -.7 .4 -.5 .4 -.5 .3 -.7 .3 2.3 .4 -7.2 .4 3.8 .3 4.9 .3 -3.3 .4 4.6 .4 -.1 .3 -4.3 .3 3.8 .4 -1.2 .4 -5.7 .3 5.4 .3 -.1 .4 -2.6 .4 1.6 .3 2.7 .3 -1.1 .4 -1.4 .4 -2.9 .3 -.1 .3 6.5 .4 -1.2 .4 1.2 .3 -5.4 .3 -2.7 .4 5.9 .4 2.7 .3 -1.6 .3 -3.1 .4 -.9 .4 1.4 .3 -2 .3 -.8 .4 2 .4 1.6 .3 -4.2 .3 -.4 .4 3 .4 3.1 .3 -7.6 .3 5.6 .4 1 .4 -2.2 .3 .5 .3 -1.2 .4 2.7 .4 -1.6 .3 -.5 .3 1.6 .4 -5 .4 3.4 .3 3.7 .3 -.4 .4 -.8 .4 -3.6 .3 1 .3 1.2 .4 -1.8 .4 5.3 .3 1 .3 -7.4 .4 .2 .4 .3 .3 4.2 .3 .8 .4 -2.9 .4 -.5 .3 .2 .3 -1.8 .4 .9 .4 1.2 .3 2.4 .3 -.3 .4 2.8 .4 -3.9 .3 -1.5 .3 -1.5 .4 -3.1 .4 5.9 .3 5.9 .3 -4.9 .4 -5.7 .4 4.1 .3 -1.7 .3 -.4 .4 -.9 .4 6.4 .3 2.4 .3 -12 .4 -1.3 .4 7.9 .3 -1.8 .3 4.9 .4 -4.2 .4 -1.9 .3 4.2 .3 -3.3 .4 3.3 .4 -1.8 .3 .8 .3 -.7 .4 -3.1 .4 2.5 .3 5.3 .3 -6.3 .4 4.6 .4 .5 .3 -4.6 .3 -2.5 .4 1.8 .4 3.3 .3 -6.1 .3 2.5 .4 5.7 .4 -5.8 .3 2.6 .3 -.4 .4 -4.4 .4 1.9 .3 2.8 .3 4.3 .4 -.7 .4 -1.7 .3 -.7 .3 .3 .4 -1 .4 -1.7 .3 2.9 .3 -2.8 .4 5.4 .4 -5.8 .3 -1.1 .3 -.6 .4 1.1 .4 5.1 .3 -3.1 .3 -1.1 .4 .3 .4 -3.4 .3 3 .3 2.1 .4 -4 .4 .7 .3 1.1 .3 -.2 .4 2.6 .4 .4 .3 -3.2 .3 2.1 .4 -1.8 .4 -.1 .3 3.3 .3 -3.4 .4 2 .4 .3 .3 -4.8 .3 2.5 .4 1 .4 0 .3 4.3 .3 .6 .4 -1.3 .4 -5.8 .3 3.6 .3 3.1 .4 -3.6 .4 4.3 .3 -1.6 .3 -4.1 .4 -.8 .4 -4.6 .3 4.8 .3 1.7 .4 -4.1 .4 2.2 .3 4 .3 -3 .4 -5.7 .4 2.9 .3 3.4 .3 .3 .4 .7 .4 3.6 .3 -4.7 .3 -2.1 .4 -3.3 .4 10.7 .3 -.2 .3 -2.9 .4 -1.4 .4 -.2 .3 -1.1 .3 -2.2 .4 1.8 .4 3.7 .3 -1.3 .3 -5.4 .4 3.7 .4 .1 .3 -.9 .3 1.7 .4 .3 .4 1.6 .3 -1 .3 -1.8 .4 -1.8 .4 3 .3 -2.7 .3 1.4 .4 -.3 .4 -.9 .3 4.9 .3 -1.2 .4 -1 .4 1 .3 -1.2 .3 -1.1 .4 -.9 .4 1.6 .3 -3.4 .3 1.4 .4 1.5 .4 -1.9 .3 1.2 .3 2.2 .4 .1 .4 -3.2 .3 1.8 .3 .4 .4 -2.1 .4 .7 .3 -2.3 .3 1.5 .4 1.5 .4 1.3 .3 -1.6 .3 .6 .4 .9 .4 -.8 .3 2.1 .3 -1.5 .4 1.9 .4 -2.8 .3 -1.5 .3 2.1 .4 -3.3 .4 -.5 .3 3.6 .3 2 .4 2.8 .4 -9.6 .3 4.2 .3 1 .4 2.3 .4 -5.2 .3 2.6 .3 2.7 .4 -1.1 .4 -5.6 .3 1.4 .3 4.1 .4 -2 .4 .4 .3 1.8 .3 .1 .4 -2.7 .4 -5.6 .3 6.5 .3 -.1 .4 -2.5 .4 -.8 .3 2.6 .3 3.3 .4 -5.4 .4 .7 .3 3 .3 .6 .4 -2.8 .4 3.9 .3 .7 .3 -3.2 .4 -2.9 .4 -.8 .3 3.7 .3 -1.3 .4 -1.3 .4 4.3 .3 -3.2 .3 2.1 .4 -6.4 .4 1.6 .3 1.5 .3 .8 .4 5.5 .4 -1.6 .3 -5.8 .3 1.4 .4 6.1 .4 -1.6 .3 -.3 .3 2.5 .4 -5.7 .4 .3 .3 5.4 .3 -2.9 .4 -2 .4 3 .3 -3.5 .3 -.3 .4 1.5 .4 -1.3 .3 2.3 .3 -3.1 .4 3.5 .4 2.7 .3 -7 .3 -6.1 .4 7.6 .4 -2.4 .3 1.2 .3 4.2 .4 -1.6 .4 -3 .3 1.4 .3 -5.4 .4 1 .4 6.9 .3 2.3 .3 -6.6 .4 1.7 .4 -.7 .3 1.9 .3 2.3 .4 2.3 .4 1.2 .3 -5.4 .3 -2.9 .4 -.2 .4 4.3 .3 .9 .3 -5.3 .4 .7 .4 3.4 .3 2.2 .3 -.7 .4 -4.1 .4 3 .3 1.7 .3 1.3 .4 -4.2 .4 -.7 .3 .4 .3 1.6 .4 -.6 .4 -4.2 .3 1.3 .3 2.1 .4 -8.7 .4 8 .3 .4 .3 -.3 .4 -1.7 .4 .4 .3 -1.6 .3 3.2 .4 -.1 .4 -3.2 .3 3.9 .3 -2.1 .4 2.3 .4 -4.9 .3 4.6 .3 -3.3 .4 .6 .4 -.3 .3 3.6 .3 1.6 .4 2.6 .4 -4.5 .3 -.5 .3 .7 .4 1 .4 2.2 .3 -1.6 .3 -1.5 .4 -.7 .4 1.6 .3 -4.7 .3 -4 .4 8.9 .4 -4.1 .3 .4 .3 .1 .4 1.5 .4 2.1 .3 1 .3 -4.5 .4 2.5 .4 -1.3 .3 -1.2 .3 .9 .4 -.9 .4 .3 .3 -4.3 .3 6.7 .4 -.1 .4 -1.4 .3 -2.1 .3 -.2 .4 6.2 .4 -2.9 .3 -2.2 .3 .5 .4 -2.4 .4 4.9 .3 3.9 .3 -8.4 .4 .3 .4 -3.1 .3 4.7 .3 3.6 .4 -1.1 .4 -9 .3 5.8 .3 3.9 .4 -2.6 .4 .8 .3 2 .3 -3.2 .4 1.4 .4 -3.5 .3 1.3 .3 .8 .4 3 .4 -1.7 .3 -.1 .3 2.4 .4 .4 .4 -2.6 .3 -.7 .3 2.5 .4 -2.9 .4 1.1 .3 2.7 .3 -4 .4 1.1 .4 2.1 .3 -7 .3 5.9 .4 -3.6 .4 5.1 .3 -4.4 .3 -.4 .4 -1.5 .4 -2.2 .3 4.6 .3 1.8 .4 -4.1 .4 -.2 .3 2.9 .3 -2.4 .4 -.6 .4 .9 .3 1.8 .3 .1 .4 3.2 .4 -1.7 .3 -1.6 .3 -.1 .4 1.6 .4 3.8 .3 0 .3 -5.8 .4 1.4 .4 5.9 .3 -5.6 .3 .2 .4 -2.1 .4 1.6 .3 3.9 .3 -2.3 .4 -5.7 .4 3.3 .3 -1.3 .3 -.1 .4 3.4 .4 -1.9 .3 -4.4 .3 7.6 .4 -2 .4 -2.4 .3 -3.1 .3 4.2 .4 2.6 .4 -3.6 .3 4.4 .3 -5 .4 4.5 .4 1.1 .3 -1.1 .3 -1.6 .4 -3 .4 2.1 .3 0 .3 1.3 .4 -3 .4 -1.1 .3 -.4 .3 1.3 .4 5.2 .4 -1.8 .3 -2 .3 4.2 .4 -5.3 .4 .9 .3 -.4 .3 -.7 .4 .3 .4 5.4 .3 -3.3 .3 -1.4 .4 .7 .4 1.5 .3 -.8 .3 .5 .4 -1.5 .4 -.5 .3 1 .3 -3.8 .4 5.9 .4 -1.6 .3 2.2 .3 -.8 .4 -2 .4 -2.2 .3 2.3 .3 -.2 .4 4.8 .4 -4.9 .3 -.5 .3 1.9 .4 -5.6 .4 1.2 .3 .1 .3 5.2 .4 .6 .4 -5.2 .3 1.1 .3 5.4 .4 -5.6 .4 -.8 .3 4.4 .3 -1.4 .4 -1.6 .4 3.5 .3 1 .3 -3.1 .4 .5 .4 -1.2 .3 2.2 .3 .1 .4 -1 .4 -3 .3 .6 .3 .2 .4 .3 .4 1 .3 2.2 .3 .4 .4 -2 .4 .8 .3 -1.1 .3 -.7 .4 -.1 .4 -.9 .3 3 .3 -2.8 .4 -4.2 .4 2 .3 .5 .3 2.8 .4 1 .4 -.1 .3 1.3 .3 -2.4 .4 -1.5 .4 -2.8 .3 5.8 .3 -1.2 .4 .2 .4 -1.8 .3 1.6 .3 2.4 .4 -3.8 .4 5.4 .3 -3.9 .3 -1.6 .4 6.5 .4 -3 .3 -2.6 .3 0 .4 2.5 .4 -.8 .3 -.6 .3 2.9 .4 -1.5 .4 -2.4 .3 -.5 .3 2.1 .4 -1.2 .4 -3.5 .3 3.7 .3 1.1 .4 -3.8 .4 2.1 .3 -.6 .3 1.2 .4 2 .4 -2.7 .3 2 .3 -2.3 .4 -2.2 .4 .1 .3 .3 .3 1.1 .4 6.2 .4 -3.3 .3 -5 .3 5.4 .4 -2.6 .4 -1.2 .3 4 .3 -1.2 .4 2 .4 -1.2 .3 -2.6 .3 1.3 .4 -1.2 .4 -1.4 .3 3.6 .3 1.4 .4 -4.6 .4 1.1 .3 2.3 .3 -3.6 .4 -1.1 .4 4.5 .3 -2.5 .3 3.9 .4 -1.3 .4 -1.4 .3 -.3 .3 .8 .4 2 .4 -.1 .3 -.1 .3 .4 .4 -2.7 .4 -1.7 .3 -1 .3 .5 .4 4.6 .4 .5 .3 -2.5 .3 -1.6 .4 .6 .4 -1.2 .3 2.8 .3 -1.2 .4 2.2 .4 -2.3 .3 .8 .3 .9 .4 -6.4 .4 3.1 .3 1.5 .3 2.1 .4 -2.2 .4 3.4 .3 -3.9 .3 2.3 .4 .1 .4 -3.1 .3 -.4 .3 1.7 .4 -.3 .4 -1.8 .3 3.3 .3 .7 .4 -3.1 .4 2.4 .3 -3.2 .3 -.1 .4 1.8 .4 3.1 .3 -1.6 .3 -6.7 .4 2.4 .4 8.4 .3 4.7 .3 -6.6 .4 -.2 .4 -.8 .3 .6 .3 -2.7 .4 .3 .3 -.6 .4 3.4 .3 -4.7 .4 1.4 .4 -3.1 .3 4.9 .3 -1.4 .4 -1.1 .4 -2.1 .3 -.2 .3 2.1 .4 .9 .4 -.3 .3 3.4 .3 -.5 .4 -5.4 .4 3.2 .3 1.3 .3 -4.9 .4 5.5 .3 -1.8 .4 1.8 .3 -3 .4 1.1 .4 .6 .3 2 .3 -.3 .4 -4.9 .4 .5 .3 1.7 .3 .7 .4 1.2 .4 2.8 .3 -2.4 .3 -7.2 .4 3.8 .4 .9 .3 5.3 .3 -1.9 .4 -.8 .3 -2.2 .4 .3 .3 -1.7 .4 1.1 .4 1.2 .3 -.2 .3 -.8 .4 -2.7 .4 4.6 .3 -7.7 .3 3.1 .4 .4 .4 2 .3 1.3 .3 -.1 .4 -.3 .4 1.5 .3 -.5 .3 -2.1 .4 -1.7 .3 -.3 .4 5.9 .3 2 .4 -2.4 .4 -3.6 .3 -3.4 .3 4.4 .4 1.9 .4 .2 .3 -2.8 .3 2.3 .4 -6.6 .4 5 .3 2.5 .3 -3.1 .4 .9 .4 2.1 .3 2.4 .3 -3.2 .4 -2.2 .3 -2.2 .4 3 .3 .6 .4 -.7 .4 -.4 .3 -2.7 .3 1.7 .4 1 .4 -4.1 .3 1.5 .3 3.5 .4 -5.2 .4 3.5 .3 4.4 .3 -1 .4 -.6 .4 -4.1 .3 .2 .3 -.2 .4 5 .3 -1 .4 .1 .3 1.7 .4 -3.5 .4 -1.2 .3 3 .3 2.2 .4 -1.2 .4 -5.2 .3 3.3 .3 .5 .4 -3.3 .4 -2.8 .3 6 .3 -1.7 .4 -2.4 .4 -.7 .3 2.2 .3 2.7 .4 .2 .3 -2.7 .4 -2.2 .3 1.5 .4 4.7 .4 -1.1 .3 -4.8 .3 3.9 .4 2.8 .4 -2.4 .3 -.8 .3 .5 .4 -1.5 .4 -1.1 .3 -.1 .3 3.4 .4 -1.8 .4 -.1 .3 2.9 .3 -2.4 .4 -.6 .3 -1.3 .4 1.4 .3 .8 .4 .2 .4 .9 .3 1.2 .3 -5.6 .4 -.1 .4 -.7 .3 4.5 .3 1.3 .4 -2.5 .4 .3 .3 .8 .3 -1.7 .4 .1 .4 .8 .3 -3.2 .3 2.2 .4 4.7 .3 0 .4 .7 .3 -2.3 .4 -1.5 .4 -.5 .3 -2.1 .3 -.1" fill="none" stroke="#d5121c" stroke-width="0.9" stroke-linejoin="round"/>
<path d="M823.0 78.6l.4 1.5 .3 2 .3 -1.3 .4 .9 .4 1 .3 1.5 .3 -1 .4 -.5 .4 .5 .3 -.5 .3 1.6 .4 -1.2 .4 -3.4 .3 -.3 .3 .2 .4 -2.4 .4 3.9 .3 1.7 .3 -3.8 .4 2.2 .4 -1.5 .3 4.4 .3 -1.5 .4 -.9 .4 3.1 .3 -.7 .3 -3.2 .4 -.1 .4 1.7 .3 .6 .3 -3.8 .4 1.7 .4 .8 .3 2.8 .3 -.3 .4 -.1 .4 -.2 .3 2.6 .3 1 .4 -2.5 .4 -3.3 .3 2.2 .3 -3.1 .4 1.5 .4 2.6 .3 -7.3 .3 -4.2 .4 5.8 .4 3.9 .3 -4.9 .3 -.5 .4 3 .4 -.2 .3 .1 .3 .4 .4 1.5 .4 .2 .3 1.7 .3 1.5 .4 -3.3 .4 .4 .3 -.1 .3 -1.6 .4 -.4 .4 2.7 .3 -.3 .3 -2.7 .4 5 .4 2.4 .3 -4.9 .3 .7 .4 -2 .4 .7 .3 .3 .3 1.8 .4 -3.3 .4 -.7 .3 1.5 .3 1.4 .4 -3.2 .4 -2.1 .3 4.3 .3 1 .4 1.1 .4 -5.7 .3 1.5 .3 1.5 .4 -.3 .4 -3.1 .3 -2.1 .3 4.6 .4 1.6 .4 -3.1 .3 1.4 .3 2.2 .4 1.6 .4 -3.2 .3 .6 .3 2.2 .4 -.4 .4 5 .3 -3.9 .3 -1.3 .4 -4 .4 -.1 .3 -.9 .3 2.6 .4 2.4 .4 -.8 .3 -8.2 .3 1.8 .4 5.2 .4 -.7 .3 2.3 .3 -3.1 .4 1 .4 4.7 .3 1.1 .3 1.4 .4 -3.5 .4 1 .3 .2 .3 -2.1 .4 .5 .4 -1.1 .3 -2.3 .3 5.1 .4 -5.8 .4 -.9 .3 2.3 .3 -2.4 .4 3.4 .4 .8 .3 -3.9 .3 -1.3 .4 -.4 .4 1.5 .3 .1 .3 -.8 .4 1.2 .4 2.3 .3 -2.2 .3 -1.4 .4 2 .4 .9 .3 -2 .3 4.5 .4 .7 .4 -2.7 .3 .4 .3 .7 .4 -1.4 .4 2.7 .3 -.4 .3 -.4 .4 .2 .4 -.2 .3 -1.5 .3 3.7 .4 -2.9 .4 .8 .3 1.6 .3 -2.2 .4 2 .4 -.9 .3 -1.5 .3 -3.3 .4 1.3 .4 -.3 .3 -.2 .3 -1.2 .4 -.3 .4 2.1 .3 .6 .3 -2.5 .4 2.6 .4 -.2 .3 1.6 .3 -1.7 .4 .1 .4 4.4 .3 -2.9 .3 1.2 .4 .6 .4 -.1 .3 -2.1 .3 -.7 .4 -1.2 .4 -1.5 .3 .7 .3 -2.9 .4 -.2 .4 3.6 .3 3.9 .3 -1.7 .4 1.6 .4 -.6 .3 1.9 .3 -1.8 .4 -.2 .4 -.2 .3 -2.3 .3 .7 .4 -.6 .4 -1 .3 1 .3 .9 .4 -.8 .4 1.2 .3 2.8 .3 -.9 .4 -.4 .4 -.9 .3 4.1 .3 -3.7 .4 -.5 .4 1 .3 .3 .3 -2.3 .4 -1.7 .4 3.5 .3 -.1 .3 -6.4 .4 5.6 .4 -.8 .3 -1.9 .3 1.4 .4 -3.1 .4 3 .3 -.6 .3 -.8 .4 -1.4 .4 3.3 .3 -.8 .3 -2.7 .4 0 .4 6.1 .3 .7 .3 -3.2 .4 1.2 .4 0 .3 3.8 .3 -1.6 .4 -.6 .4 -.7 .3 -.7 .3 -3.6 .4 1.9 .4 .8 .3 -4.1 .3 2.5 .4 -.6 .4 -.9 .3 -.1 .3 6.4 .4 -1.2 .4 1.3 .3 1.3 .3 .2 .4 -3.3 .4 -3.4 .3 4.8 .3 -.5 .4 -2.2 .4 -4.4 .3 .8 .3 0 .4 1.4 .4 -.6 .3 -1.8 .3 3.8 .4 -1.5 .4 2.2 .3 1.1 .3 -4.4 .4 .8 .4 7.5 .3 -4.5 .3 -1.1 .4 2.5 .4 -.5 .3 -.9 .3 -.8 .4 .9 .4 -1.6 .3 2 .3 -3 .4 -2.3 .4 2.4 .3 1.1 .3 -.2 .4 -4.1 .4 4.2 .3 -2.1 .3 .3 .4 .9 .4 -1.3 .3 4.3 .3 1.3 .4 -.7 .4 -3 .3 3.1 .3 3.3 .4 -1.2 .4 -.3 .3 -.5 .3 -1 .4 .3 .4 .1 .3 -5.9 .3 3.2 .4 -3.1 .4 3.7 .3 3.2 .3 -4.6 .4 -2.3 .4 1.2 .3 -.7 .3 -2.4 .4 3.3 .4 4.5 .3 -5 .3 -3.7 .4 -1.8 .4 2.4 .3 3.5 .3 .3 .4 -2.1 .4 3.4 .3 2.4 .3 1.5 .4 -2.8 .4 -1.5 .3 4.2 .3 1.1 .4 -1.4 .4 1.9 .3 -3.5 .3 -.3 .4 1.3 .4 -3.6 .3 -.2 .3 1.4 .4 -1.7 .4 -2.1 .3 -1.3 .3 4 .4 -.2 .4 -2.4 .3 .4 .3 2.8 .4 -.5 .4 -3.6 .3 3.3 .3 -3.2 .4 4.2 .4 -2.9 .3 1 .3 4.2 .4 2.6 .4 -3.6 .3 .4 .3 -.9 .4 .8 .4 1.8 .3 -2.6 .3 -1.3 .4 -1.3 .4 .1 .3 .7 .3 -1.8 .4 2.6 .4 -.5 .3 1.3 .3 .5 .4 1.9 .4 -.5 .3 -4.6 .3 -2.6 .4 3.7 .4 .5 .3 -.1 .3 -2.4 .4 1.7 .4 .3 .3 -2.2 .3 1.6 .4 3.4 .4 -1.3 .3 -.8 .3 -1.7 .4 3.6 .4 -2.2 .3 -.9 .3 -.7 .4 -.8 .4 1.3 .3 -2 .3 6.7 .4 .1 .4 -1.9 .3 -2.3 .3 4.6 .4 3.4 .4 -3.5 .3 -1.2 .3 -.8 .4 -2.9 .4 -3.4 .3 2.1 .3 2 .4 -2.3 .4 2.3 .3 -.7 .3 .1 .4 -2.3 .4 1.8 .3 5.8 .3 -2.6 .4 -2.5 .4 6.6 .3 -2.9 .3 -7.6 .4 2.6 .4 0 .3 .9 .3 4.7 .4 -2.6 .4 .2 .3 -1.4 .3 -2 .4 -.3 .4 2.1 .3 1.5 .3 -.1 .4 2.5 .4 -2.7 .3 -1 .3 -1.4 .4 2.9 .4 3.1 .3 -1.6 .3 -1.6 .4 -.8 .4 .9 .3 -4.1 .3 -2 .4 6.1 .4 -1.4 .3 -.5 .3 -2 .4 2.6 .4 -.8 .3 -1.3 .3 3.3 .4 -2.8 .4 -.5 .3 1.8 .3 1.5 .4 5.2 .4 -4.9 .3 -4.2 .3 4.9 .4 1.4 .4 -1.7 .3 -3 .3 -.9 .4 .9 .4 3.5 .3 2.1 .3 -3 .4 -3.2 .4 1.8 .3 1.5 .3 -1 .4 -.6 .4 -.8 .3 1 .3 3.1 .4 -2.5 .4 -1.1 .3 1.3 .3 .3 .4 1.8 .4 0 .3 -.8 .3 -.7 .4 -.7 .4 .2 .3 -.4 .3 -3.2 .4 3.8 .4 -1.4 .3 -1.2 .3 .3 .4 -2.2 .4 .1 .3 3 .3 -1.6 .4 1.3 .4 1.7 .3 -2.9 .3 -1.7 .4 3.1 .4 1.3 .3 .2 .3 0 .4 -6.4 .4 6.6 .3 .9 .3 -3.2 .4 2.2 .4 -.1 .3 .7 .3 .8 .4 -3.7 .4 3.7 .3 -1.6 .3 4 .4 -4.8 .4 .3 .3 -.5 .3 -2.5 .4 -.1 .4 2.4 .3 -3.3 .3 1.6 .4 -.2 .4 -.9 .3 3.7 .3 -1.7 .4 1.3 .4 3.8 .3 -2.9 .3 -.8 .4 .8 .4 2.9 .3 -1.6 .3 -3.9 .4 -.8 .4 4.1 .3 -1.4 .3 2 .4 -.1 .4 -2.3 .3 -.9 .3 -1 .4 -3.9 .4 7.9 .3 -2.2 .3 -2.9 .4 -.4 .4 .7 .3 3.9 .3 -.4 .4 2.7 .4 -.4 .3 -4.6 .3 3 .4 -1.2 .4 -1.9 .3 1.7 .3 .8 .4 -3.6 .4 2.4 .3 -2.6 .3 -2.1 .4 .9 .4 3.5 .3 5 .3 -3.5 .4 1.4 .4 -2.3 .3 0 .3 1.5 .4 0 .4 1.5 .3 -.1 .3 -.9 .4 -4.9 .4 1.2 .3 -2.2 .3 2.2 .4 1.3 .4 -3 .3 3.2 .3 .7 .4 -1 .4 -1.2 .3 1.8 .4 -1.4 .3 3.1 .4 1.9 .3 -2.8 .3 -3.8 .4 .4 .4 4.2 .3 2.7 .3 -4.2 .4 4 .4 -.3 .3 -2.1 .3 -.3 .4 -1.1 .4 -.6 .3 -.2 .3 .2 .4 -.8 .4 1.4 .3 -1.9 .4 1 .3 -3.2 .4 -1.2 .3 5.4 .3 -1.2 .4 -.1 .4 2.4 .3 -7.1 .3 5 .4 1 .4 -2.3 .3 -1.6 .3 1 .4 .3 .4 2.7 .3 -2.2 .3 1.2 .4 -.8 .4 1.9 .3 -.3 .4 2.6 .3 -2.4 .4 .4 .3 1.3 .3 -2.2 .4 2.1 .4 -1.9 .3 2.6 .3 -.9 .4 -4.8 .4 4.4 .3 3.1 .3 -4.6 .4 -.2 .4 .8 .3 -.3 .3 -.5 .4 -.3 .4 .4 .3 3.4 .4 -1.7 .3 -.1 .4 0 .3 -8.2 .3 -.5 .4 3.7 .4 -1.4 .3 2.4 .3 2.1 .4 .3 .4 -1.4 .3 -.4 .3 1.5 .4 3.1 .4 1.4 .3 -1.6 .3 1 .4 -1.7 .4 3.3 .3 -2.5 .4 -4 .3 -1.1 .4 3.6 .3 -2.1 .3 -2.5 .4 -.6 .4 -1.4 .3 -1.3 .3 -1.9 .4 3.6 .4 .6 .3 5.2 .3 1.4 .4 -4.5 .4 -1.8 .3 4.5 .3 7.5 .4 2 .4 3.7 .3 .8 .4 -2.4 .3 -4.7 .4 -.8 .3 -2.5 .3 -3.8 .4 -2.6 .4 -.8 .3 -4.6 .3 -4.6 .4 -7.1 .4 -1.2 .3 3.2 .3 1.7 .4 7 .4 4.8 .3 4 .3 1.8 .4 1.2 .4 2.3 .3 7.7 .4 5.8 .3 2.3 .4 2.8 .3 -3.5 .3 -7.3 .4 -6 .4 -6.1 .3 -1.9 .3 -.7 .4 -3 .4 -4 .3 -6.9 .3 -4.6 .4 .2 .4 .9 .3 2.8 .3 7.1 .4 5.6 .4 3.2 .3 .4 .3 -.2 .4 4 .4 5.2 .3 2.8 .3 .3 .4 .2 .4 -2.6 .3 -3.1 .3 -2.8 .4 -2.9 .4 -.4 .3 1.1 .4 -.5 .3 -4.6 .4 -3.9 .3 4 .3 -2.1 .4 2.3 .4 -1.2 .3 3.3 .3 2.5 .4 -.9 .4 -.9 .3 1.2 .3 -4.9 .4 0 .4 6.7 .3 .8 .3 1.3 .4 -1.9 .4 -3 .3 -2.5 .4 4.4 .3 -.9 .4 -1.9 .3 -.2 .3 -1.2 .4 .7 .4 3.3 .3 -3.6 .3 -1.1 .4 2.5 .4 -1.5 .3 -1.3 .3 4 .4 4.7 .4 -6.8 .3 -.2 .3 .5 .4 2.4 .4 -1.6 .3 2.3 .3 -2.3 .4 0 .4 1.1 .3 -1 .3 -2.2 .4 6.1 .4 -.2 .3 -1.1 .3 -1.3 .4 -.2 .4 -2.1 .3 1.3 .3 -.3 .4 -1.3 .4 .7 .3 -1.5 .3 1.8 .4 2.7 .4 -3.8 .3 .7 .3 1.6 .4 -1.6 .4 -.5 .3 .8 .3 1.4 .4 -2.2 .4 2.5 .3 .1 .3 .4 .4 -3 .4 1.8 .3 -1.7 .3 4.2 .4 -3.6 .4 1.6 .3 -.5 .3 -.6 .4 1.1 .4 -1.9 .3 .3 .3 .3 .4 .2 .4 -.1 .3 .6 .3 -2.7 .4 2.1 .4 .6 .3 -.3 .3 -.2 .4 .7 .4 .6 .3 -.6 .3 1.1 .4 .4 .4 -.2 .3 -3.9 .3 2.3 .4 -1.7 .4 2.7 .3 1.8 .3 -6.6 .4 .8 .4 4 .3 -.1 .3 1.4 .4 -5.7 .4 1.7 .3 3.3 .3 .3 .4 -3.3 .4 -.3 .3 .3 .3 -2.5 .4 1.1 .4 -.4 .3 2.1 .3 1.3 .4 2.9 .4 -1.9 .3 .5 .3 .3 .4 -2.1 .4 1.4 .3 .4 .3 1.2 .4 -3.2 .4 -.2 .3 -.1 .3 -.1 .4 1.1 .4 -1.5 .3 3.4 .3 -4 .4 .7 .4 2.3 .3 -.3 .3 -1.9 .4 -3 .4 2.7 .3 1.8 .3 -2.3 .4 .9 .4 .3 .3 2.4 .3 -3 .4 .6 .4 -.6 .3 -2.9 .3 1.2 .4 4.9 .4 -1.9 .3 -5.6 .3 5.1 .4 1.6 .4 -.9 .3 2 .3 3.3 .4 -2 .4 -2.6 .3 -1.7 .3 1 .4 -.4 .4 1.4 .3 -2.7 .3 -2.1 .4 -.1 .4 -.2 .3 3.4 .3 -1.2 .4 1.7 .4 1.5 .3 -2.3 .3 2.5 .4 -1.6 .4 -4.8 .3 5.9 .3 3 .4 -.4 .4 -.5 .3 -5.8 .3 -1.5 .4 5 .4 -3.9 .3 .3 .3 5.2 .4 -6.4 .4 1.9 .3 -.2 .3 2.6 .4 -4.8 .4 3.5 .3 .8 .3 -.8 .4 3.8 .4 -2.2 .3 .7 .3 -.6 .4 -.1 .4 -2.2 .3 .3 .3 1 .4 -1.6 .4 1.3 .3 .7 .3 -1.1 .4 -1.8 .4 1.7 .3 -.8 .3 1 .4 -.2 .4 -1.8 .3 4.6 .3 -4.1 .4 2.1 .4 2.1 .3 -.4 .3 -1.1 .4 2.3 .4 -1.5 .3 -.2 .3 -.7 .4 -2.8 .4 1.5 .3 .4 .3 2 .4 1.1 .4 -3.2 .3 -1.9 .3 2.8 .4 -1.6 .4 -1.8 .3 4.6 .3 -3.7 .4 1.9 .4 -2.4 .3 .5 .3 -.3 .4 .4 .4 1.5 .3 2.7 .3 -1.1 .4 -3.5 .4 .5 .3 -.3 .3 4.2 .4 -2.9 .4 -1.2 .3 .5 .3 .8 .4 -2.7 .4 5.5 .3 1.4 .3 -2.9 .4 .9 .4 -3 .3 2.6 .3 3.4 .4 -5.9 .4 .6 .3 .5 .3 3.2 .4 -1.5 .4 -1.1 .3 -.4 .3 .1 .4 -1.9 .4 .9 .3 1.1 .3 -.5 .4 -2.8 .4 4.4 .3 3.8 .3 -6.3 .4 1 .4 1.9 .3 -.9 .3 -3.6 .4 1.1 .4 .1 .3 2 .3 -1.3 .4 1.4 .4 .6 .3 -3.5 .3 1 .4 2.7 .4 -3.4 .3 -.6 .3 1.5 .4 1.2 .4 .4 .3 -1.1 .3 -2.1 .4 3.2 .4 2.6 .3 -2.2 .3 -1.2 .4 .5 .4 -1.3 .3 0 .3 1.9 .4 0 .4 -1.1 .3 .2 .3 1.8 .4 -3.2 .4 2.8 .3 1 .3 -5 .4 .8 .4 1.5 .3 3.1 .3 .2 .4 0 .4 -5 .3 2.4 .3 -.9 .4 .9 .4 2.9 .3 .6 .3 -5.2 .4 -.2 .4 0 .3 .1 .3 2.6 .4 0 .4 .9 .3 -3.1 .3 -.7 .4 .6 .4 -1.7 .3 6.7 .3 -2.6 .4 .3 .4 -3 .3 -1.5 .3 2.1 .4 -1.7 .4 .2 .3 4.3 .3 -2.6 .4 -1.8 .4 -.1 .3 -.5 .3 3.7 .4 .4 .4 .3 .3 -3.3 .3 3 .4 1.2 .4 -1.3 .3 -.8 .3 0 .4 4.3 .4 -1.8 .3 -.6 .3 -.3 .4 .5 .4 1.2 .3 -3.7 .3 -2.6 .4 1 .4 1 .3 -3.2 .3 3.3 .4 .4 .4 1.4 .3 -.1 .3 -.1 .4 -2.7 .4 1.4 .3 .3 .3 .5 .4 -1.4 .4 -2.1 .3 7.5 .3 -6.9 .4 1.2 .4 4.9 .3 -.5 .3 -1.7 .4 -3 .4 2.4 .3 -1.3 .3 -.9 .4 2.7 .4 -1.8 .3 2.3 .3 -3.3 .4 2.2 .4 -3.5 .3 -1.9 .3 4.4 .4 2.7 .4 -.4 .3 -4 .3 2.1 .4 2.2 .4 -.3 .3 -1.6 .3 1.5 .4 -3.7 .4 3.4 .3 -.7 .3 .3 .4 -.2 .4 -2.2 .3 -.4 .3 .5 .4 -1.2 .4 4.9 .3 -.2 .3 -.7 .4 -4.1 .4 1.2 .3 -1.4 .3 2.8 .4 -1.8 .4 3.8 .3 -1.2 .3 -3.7 .4 1.1 .4 -1.3 .3 1.7 .3 3.2 .4 2.7 .4 -3.7 .3 -.1 .3 -1.5 .4 1.4 .4 -.5 .3 3.1 .3 -2.8 .4 -2.9 .4 2.6 .3 4.2 .3 -5.4 .4 -.5 .4 2.3 .3 .4 .3 1.3 .4 -.4 .4 -1 .3 -2.5 .3 .8 .4 -1.3 .4 .7 .3 2.6 .3 -2.4 .4 -1.7 .4 1.1 .3 0 .3 -.9 .4 -1.4 .4 6 .3 -.8 .3 -4 .4 -1.3 .4 1.6 .3 1.9 .3 2 .4 -.7 .4 .7 .3 1.9 .3 1.2 .4 -1.3 .4 -2.4 .3 .4 .3 .3 .4 -1.6 .4 1.4 .3 .1 .3 -4.6 .4 1.1 .4 3.9 .3 -2.4 .3 -2.1 .4 -.9 .4 5 .3 -.4 .3 -2.9 .4 1.1 .4 1.6 .3 -.8 .3 -1.6 .4 -1.1 .4 1.2 .3 2.7 .3 .7 .4 -.4 .4 -4 .3 4.6 .3 .2 .4 -3.1 .4 1.3 .3 2.6 .3 -4.3 .4 -2.5 .4 2.3 .3 4.6 .3 -4.3 .4 2.5 .4 2.3 .3 -4.7 .3 -.9 .4 1.7 .4 1.2 .3 -2.5 .3 -.4 .4 -1.4 .4 .8 .3 2.9 .3 -2.2 .4 1.9 .4 3 .3 -3 .3 -1.5 .4 -.4 .4 2.2 .3 -.1 .3 5 .4 -4.1 .4 -3.4 .3 -2.6 .3 4.3 .4 3.3 .4 -1.3 .3 -2.5 .3 -.3 .4 3.9 .4 1.4 .3 -6.1 .3 1.3 .4 -.3 .4 -.7 .3 4.8 .3 -4 .4 -.2 .4 2.4 .3 -2 .3 -1.6 .4 3.5 .4 -4 .3 3.5 .3 1.7 .4 -.6 .4 -2.6 .3 -.4 .3 2.7 .4 0 .4 -4.7 .3 5.1 .3 -1.4 .4 -3.4 .4 -.8 .3 3.9 .3 -.5 .4 3.7 .4 -2.3 .3 -1 .3 -.3 .4 -.1 .4 2.4 .3 -1.1 .3 .6 .4 -2.6 .4 1.8 .3 -4.9 .3 1.9 .4 3.7 .4 -1 .3 -4 .3 .7 .4 8.5 .4 -4.8 .3 -4.3 .3 .9 .4 4.7 .4 -1.2 .3 2.5 .3 -1.5 .4 -1.9 .4 -5.1 .3 5.5 .3 .8 .4 .7 .4 -1.9 .3 -1.3 .3 -4.4 .4 2.2 .4 4.3 .3 .8 .3 -1.2 .4 2.1 .4 -2.5 .3 -3.1 .3 .4 .4 3.4 .4 .6 .3 -.5 .3 .1 .4 .7 .4 -.3 .3 -3.2 .3 .3 .4 4.4 .4 -1.6 .3 -3.5 .3 -.7 .4 .8 .4 3 .3 -3.4 .3 1.5 .4 2 .4 1.1 .3 -.9 .3 -.6 .4 .4 .4 -3.1 .3 3.1 .3 -2 .4 2.3 .4 -.5 .3 -.2 .3 -2.9 .4 .9 .4 1.5 .3 -.5 .3 1.6 .4 -3.8 .4 3.9 .3 .5 .3 -.1 .4 0 .4 -3.9 .3 1.4 .3 1.2 .4 -.3 .4 1.6 .3 -1.9 .3 -1.3 .4 .3 .4 .2 .3 .7 .3 1.6 .4 -.4 .4 1.6 .3 -.5 .3 -2.2 .4 -.6 .4 -1.8 .3 4.6 .3 -2.1 .4 -.7 .4 -.1 .3 1 .3 -.4 .4 .9 .4 .9 .3 -2.2 .3 -2.1 .4 1.5 .4 .9 .3 -1.9 .3 -.1 .4 .8 .4 1.8 .3 2.2 .3 -1.3 .4 -1.4 .4 .6 .3 2.8 .3 -3.8 .4 -.3 .4 3.8 .3 -1.7 .3 -.2 .4 0 .4 -2 .3 .5 .3 -.9 .4 2.7 .4 2.6 .3 -5 .3 2.7 .4 0 .4 -1.1 .3 -.3 .3 -1.4 .4 1.2 .4 -2.3 .3 4.4 .3 -.6 .4 -.8 .4 -4.6 .3 3.4 .3 0 .4 .6 .4 1.4 .3 -3.8 .3 -2.1 .4 2.3 .4 .6 .3 1.8 .3 .7 .4 .3 .4 .1 .3 -5.5 .3 3.9 .4 2.1 .4 .7 .3 -7.1 .3 3.3 .4 3.2 .4 3 .3 -5.6 .3 3.3 .4 -2.7 .4 .6 .3 1.2 .3 3.1 .4 -.5 .4 -2.7 .3 1.1 .3 -6 .4 2.9 .4 -.1 .3 -2 .3 1.7 .4 -1.2 .4 -1.7 .3 2.7 .3 -.2 .4 2.9 .3 -1 .4 -.7 .3 -1.3 .4 2 .4 -2.2 .3 1.1 .3 -1.2 .4 3 .4 -4.8 .3 1.8 .3 -1.9 .4 7 .4 .2 .3 -5.9 .3 .5 .4 4.5 .4 1.6 .3 -6.4 .3 0 .4 4.3 .3 1 .4 -6.2 .3 2.7 .4 3 .4 -4.6 .3 -1.8 .3 3.3 .4 1 .4 2.1 .3 -2.6 .3 1.9 .4 -1.1 .4 1.7 .3 -.4 .3 -.4 .4 -2 .4 -.9 .3 .1 .3 .8 .4 -.6 .3 -.6 .4 -.4 .3 .2 .4 -.1 .4 -1.4 .3 2.3 .3 -.1 .4 -2.7 .4 2.6 .3 4.2 .3 -1.9 .4 .8 .4 -2.3 .3 -2.9 .3 3.4 .4 1 .4 -.1 .3 -.7 .3 -2.2 .4 2.7 .3 -1.7 .4 -.3 .3 1.5 .4 -.8 .4 -.3 .3 .2 .3 1.6 .4 -1.6 .4 -1.2 .3 2.9 .3 -2.5 .4 1.4 .4 -.7 .3 3.3 .3 -3.6 .4 1.9 .4 1.6 .3 -2.6 .3 -.2 .4 -.4 .3 .2 .4 1.7 .3 -1.1 .4 .5 .4 .3 .3 -2.4 .3 1.4 .4 -4.1 .4 3.1 .3 -.3 .3 1.3 .4 2.1 .4 -3 .3 -2.4 .3 3.5 .4 .3 .4 -.3 .3 1 .3 -.5 .4 1.6 .3 -4.9 .4 2.7 .3 0 .4 -3.3 .4 1.2 .3 0 .3 -.5 .4 3.1 .4 .5 .3 -5.2 .3 2.2 .4 -1 .4 1 .3 3.3 .3 -.7 .4 1.8 .4 -3.8 .3 4.1 .3 -.9 .4 2.2 .3 .2 .4 -3 .3 -1.4 .4 2 .4 -4.4 .3 .1 .3 2.5 .4 -1.4 .4 .9 .3 2.4 .3 -.9 .4 -1.2 .4 -2.1 .3 1.7 .3 2.6 .4 -.4 .4 -2.3 .3 .9 .3 1.8 .4 -2.7 .3 -1.8 .4 -.4 .3 1.2 .4 -1.1 .4 -.7 .3 2.4 .3 -.2 .4 -.3 .4 -.5 .3 -.1 .3 -.1 .4 2.2 .4 2.3 .3 -2.2 .3 2.7 .4 -1.6 .4 -4.1 .3 3 .3 1 .4 -2.6 .3 3.3 .4 -3.8 .3 .4 .4 3.8 .4 -1.3 .3 -.5 .3 3.2" fill="none" stroke="#d5121c" stroke-width="0.9" stroke-linejoin="round"/>
<path d="M823.0 106.4l.4 -3.5 .3 1.4 .3 2.9 .4 8.5 .4 -13.1 .3 3.9 .3 .2 .4 1.9 .4 .9 .3 -1.6 .3 2.3 .4 -.5 .4 -8.6 .3 3.6 .3 6.9 .4 -.9 .4 -2.8 .3 -.2 .3 -8.8 .4 2.3 .4 8.6 .3 7.2 .3 -9.9 .4 .1 .4 -3.1 .3 4.2 .3 -.3 .4 6.2 .4 -7.7 .3 -3.6 .3 6.2 .4 3.8 .4 -6.4 .3 3.5 .3 -.1 .4 -8.5 .4 1.3 .3 -1.4 .3 6.1 .4 .6 .4 .1 .3 1.5 .3 -5.7 .4 2.6 .4 -4.2 .3 9.6 .3 -2.7 .4 -1.8 .4 -2.1 .3 1.4 .3 6 .4 -2 .4 -6.6 .3 2.4 .3 1.5 .4 -2.8 .4 1.8 .3 -4.7 .3 7.6 .4 -.3 .4 -.8 .3 -2.8 .3 -1.8 .4 1.2 .4 5.9 .3 -5.1 .3 4.7 .4 .7 .4 -2.5 .3 -.8 .3 -2.4 .4 2.6 .4 -2.6 .3 4.8 .3 -1.7 .4 -2.3 .4 -3.6 .3 1.5 .3 -5.8 .4 7.3 .4 .4 .3 -1.2 .3 -2.2 .4 6.6 .4 -1.5 .3 2 .3 -7.7 .4 2.6 .4 9.5 .3 -7.1 .3 -3 .4 9.7 .4 -2.4 .3 -5.8 .3 4.2 .4 -.3 .4 1.4 .3 -.9 .3 -5.6 .4 .3 .4 .2 .3 -1.2 .3 7.8 .4 2.4 .4 -6.2 .3 -6 .3 1.5 .4 .4 .4 4.5 .3 2.4 .3 -6.7 .4 -3.8 .4 7.5 .3 -1.8 .3 -3.6 .4 7.9 .4 -2 .3 -7.2 .3 8 .4 1.8 .4 -4.3 .3 -.8 .3 -2.9 .4 3.6 .4 -.9 .3 2.6 .3 6 .4 -7 .4 -5.3 .3 5.5 .3 -.8 .4 1.3 .4 4.5 .3 -8 .3 5.1 .4 3.5 .4 -3.7 .3 -1.6 .3 2.4 .4 -5.4 .4 3.2 .3 .7 .3 4.8 .4 -8.8 .4 -2.2 .3 2.7 .3 1.3 .4 3.8 .4 .6 .3 -1.6 .3 -7.8 .4 10.5 .4 -6.5 .3 -2 .3 .9 .4 4.1 .4 -4.6 .3 -3.3 .3 6.3 .4 3.4 .4 .6 .3 -8.7 .3 7.6 .4 1.7 .4 -7.8 .3 3.7 .3 2.5 .4 3.4 .4 -8.6 .3 -4.7 .3 4.5 .4 2.5 .4 1.3 .3 5.3 .3 -5.9 .4 3.4 .4 -10.5 .3 8.1 .3 -2.5 .4 .8 .4 1.8 .3 -1.7 .3 3 .4 -9.7 .4 5.5 .3 3.3 .3 -.9 .4 3 .4 -5 .3 -1.1 .3 -2.1 .4 7 .4 3 .3 -2.9 .3 -3.7 .4 -.5 .4 1.4 .3 -7.7 .3 8.1 .4 3 .4 -5 .3 1.1 .3 -1 .4 6 .4 1.9 .3 -.8 .3 -9.2 .4 -.7 .4 10.1 .3 -4.2 .3 -2 .4 -.2 .4 -2.2 .3 -6.2 .3 6.8 .4 3.4 .4 -5.5 .3 0 .3 7.3 .4 4.2 .4 -9.2 .3 -1 .3 0 .4 1.8 .4 3.7 .3 -4.6 .3 -.5 .4 5.1 .4 -1.3 .3 -1.9 .3 .5 .4 2.9 .4 3 .3 -2.7 .3 -1.4 .4 4.9 .4 -12.4 .3 4.8 .3 8.6 .4 -11.2 .4 1.6 .3 -1.9 .3 .5 .4 .2 .4 1.5 .3 .2 .3 2.2 .4 -8.2 .4 10.5 .3 -.7 .3 -4.5 .4 1.4 .4 -.9 .3 2.5 .3 5.1 .4 -1.5 .4 -8.9 .3 5.7 .3 2.7 .4 -2 .4 -2.4 .3 -5.4 .3 .4 .4 12.1 .4 -3 .3 -4.5 .3 3.2 .4 -4.2 .4 -1.7 .3 2.2 .3 3.2 .4 1.6 .4 2.5 .3 -1.6 .3 -4.4 .4 -2.4 .4 3.3 .3 .4 .3 3.6 .4 -.4 .4 -5.7 .3 2.8 .3 -4.2 .4 1.6 .4 -1.7 .3 -1.7 .3 3.5 .4 -3 .4 4.7 .3 -4.8 .3 2.8 .4 -5 .4 5.5 .3 2.6 .3 2 .4 -5.8 .4 -6.1 .3 5 .3 -6.8 .4 11.7 .4 1.3 .3 -2.3 .3 -4.1 .4 -1 .4 3 .3 9.6 .3 -2 .4 -8.8 .4 4 .3 -1.3 .3 4.8 .4 -.2 .4 -3.5 .3 2.9 .3 -1.8 .4 5.2 .4 -2.3 .3 -3.3 .3 .2 .4 -1.5 .4 2.6 .3 1.9 .3 -1.9 .4 -7 .4 7.3 .3 -6.7 .3 2.3 .4 2.8 .4 -5.8 .3 2.4 .3 2.2 .4 -6.2 .4 -3 .3 5.2 .3 -2.8 .4 2.9 .4 2.6 .3 -6.5 .3 -3.1 .4 10.5 .4 -4.1 .3 -1.5 .3 1 .4 4.1 .4 -1.5 .3 -.9 .3 4.7 .4 -6.1 .4 7.2 .3 2.6 .3 -2.2 .4 4.4 .4 -5.4 .3 -1.5 .3 3.9 .4 -3.6 .4 3.2 .3 -.6 .3 -.6 .4 -3.4 .4 1 .3 0 .3 .7 .4 0 .4 .6 .3 .8 .3 -3.2 .4 4.7 .4 -.1 .3 -5.1 .3 -2.1 .4 -4.5 .4 0 .3 5.9 .3 -.8 .4 4.5 .4 -4.6 .3 -7.5 .3 7.4 .4 3.9 .4 4.2 .3 -4.5 .3 4.6 .4 -5.4 .4 -4.8 .3 -2.1 .3 3 .4 1.8 .4 3.7 .3 -5.5 .3 1.6 .4 -1.9 .4 1.6 .3 4 .3 -1 .4 -.4 .4 3.8 .3 -5.9 .3 -5 .4 6 .4 8.5 .3 -7 .3 -7 .4 4.5 .4 -3.8 .3 7.3 .3 .6 .4 1.2 .4 -7.1 .3 3.5 .3 -1.4 .4 2.5 .4 1.7 .3 .7 .3 -4.1 .4 -.3 .4 1.2 .3 2.3 .3 -2.2 .4 5.2 .4 1.3 .3 -3.6 .3 -6 .4 2.5 .4 3.7 .3 .1 .3 0 .4 -2.3 .4 -6.7 .3 -.1 .3 8.6 .4 -4.9 .4 .2 .3 -1.5 .3 5.3 .4 2.3 .4 -6 .3 -5 .3 4.7 .4 -3 .4 -1.9 .3 8 .3 .1 .4 -2.3 .4 2.2 .3 -8.3 .3 .2 .4 7.7 .4 -7.8 .3 1.2 .3 0 .4 2.5 .4 -.5 .3 -1.6 .3 7.9 .4 -2.3 .4 3.9 .3 2.8 .3 -7.1 .4 6 .4 -1.5 .3 2.4 .3 1.1 .4 -2.7 .4 -6.6 .3 .9 .3 5.2 .4 -2.8 .4 2.1 .3 -2.4 .3 .2 .4 -3.3 .4 -1.3 .3 5.1 .3 1.3 .4 -.9 .4 -4.3 .3 -2.1 .3 -6.9 .4 4.9 .4 11 .3 -9.5 .3 1.6 .4 15.4 .4 13 .3 -18.2 .3 -7.7 .4 .7 .4 -1 .3 -2.7 .3 .4 .4 .2 .4 6.3 .3 -9.5 .3 .8 .4 4.2 .4 -1.5 .3 6.8 .3 -7.4 .4 6.6 .4 2.5 .3 -8.1 .3 2.9 .4 -2.9 .4 7.7 .3 -5.3 .3 -4.8 .4 -.6 .4 -1.9 .3 8.3 .3 1.8 .4 0 .4 -9.5 .3 6.2 .3 -1.9 .4 -1 .4 6.2 .3 -.6 .3 -1.3 .4 -1.7 .4 1.5 .3 -1.7 .3 -.1 .4 -.4 .4 6.5 .3 2.1 .3 -4.2 .4 -.1 .4 -8.4 .3 1.9 .3 7.7 .4 -4 .4 -1.5 .3 3.1 .3 1.9 .4 -7.2 .4 1.1 .3 3.8 .3 -5.5 .4 0 .4 2.4 .3 2.7 .3 -3.5 .4 -3.5 .4 -2.7 .3 2.9 .3 2.1 .4 4.8 .4 -.3 .3 -2 .3 -1.9 .4 .7 .4 -1.1 .3 8.6 .3 -.2 .4 -6.3 .4 1.1 .3 1 .3 -2 .4 -4.4 .4 4.1 .3 5.5 .3 -1.4 .4 -2.3 .4 1.1 .3 -5.5 .3 .6 .4 3.1 .4 .2 .3 7.8 .3 -2.5 .4 -5.6 .4 -3.9 .3 1.5 .3 .5 .4 5.9 .4 2.7 .3 -6 .3 -5.2 .4 6.4 .4 -1.1 .3 -5.8 .3 12 .4 -3.5 .4 -4.6 .3 2 .3 -3 .4 3.4 .4 -4.4 .3 -.3 .4 2.8 .3 2.5 .4 -4.2 .3 -4.1 .3 8.2 .4 -.4 .4 -1.7 .3 .3 .3 -5.9 .4 7.5 .4 -2.5 .3 -2 .3 2.2 .4 -3.4 .4 8 .3 -.3 .3 -8.3 .4 1.5 .4 5.1 .3 -1.6 .4 2.3 .3 -1.1 .4 -1.1 .3 3.8 .3 -3.6 .4 -1.3 .4 .6 .3 4.9 .3 1.6 .4 -5.1 .4 -1.8 .3 -2.8 .3 6.9 .4 -1.5 .4 -8.2 .3 7.2 .3 -3.7 .4 .3 .4 5.8 .3 -7.5 .4 3.8 .3 1.2 .4 -1.2 .3 -2.4 .3 -.7 .4 1.8 .4 -.3 .3 -3 .3 2.1 .4 8.3 .4 -10.9 .3 2.4 .3 .6 .4 -.4 .4 4.4 .3 4.7 .3 -.3 .4 -1.3 .4 1.4 .3 -8.2 .4 6.2 .3 1.7 .4 -3.1 .3 .1 .3 -.6 .4 -7.9 .4 5.4 .3 6.4 .3 -2.4 .4 -8.7 .4 -.4 .3 3.9 .3 -2.7 .4 4.6 .4 -1.6 .3 3.4 .3 -9 .4 -1.4 .4 6.8 .3 3.9 .4 -2 .3 .4 .4 -10.6 .3 7.8 .3 .9 .4 -.9 .4 8.5 .3 -5.1 .3 -8.7 .4 7.6 .4 1.7 .3 -6.6 .3 5 .4 1.1 .4 .8 .3 .6 .3 -3.6 .4 -2.3 .4 .5 .3 5.4 .4 2.3 .3 -1.5 .4 -1.5 .3 -1.2 .3 3.3 .4 -2.6 .4 -.1 .3 .6 .3 -2.8 .4 .7 .4 -4.9 .3 2.3 .3 7.5 .4 -1 .4 -4 .3 -2.7 .3 8.9 .4 -7.7 .4 -8.8 .3 10.4 .4 -2.9 .3 .7 .4 2.2 .3 5.6 .3 -7.2 .4 2 .4 1.2 .3 -4.1 .3 3.1 .4 -5 .4 -2.7 .3 4 .3 -.2 .4 -.2 .4 4.8 .3 -7.5 .3 -1.5 .4 7.7 .4 2.3 .3 -.5 .3 -4.5 .4 -.6 .4 2.5 .3 1.4 .3 1.8 .4 -4 .4 5.8 .3 -3.5 .3 -.8 .4 5.9 .4 3.6 .3 -3.3 .4 -7.4 .3 -.4 .4 3.4 .3 5.7 .3 -3.8 .4 -6.6 .4 3.6 .3 1.6 .3 -3.6 .4 1.2 .4 -4.2 .3 5.9 .3 -4.8 .4 .8 .4 2 .3 -3 .3 -.1 .4 4.6 .4 1.2 .3 -1.2 .4 -3.8 .3 2.2 .4 .5 .3 -7.2 .3 10 .4 -3.9 .4 -1.7 .3 1.8 .3 -3.4 .4 -1.1 .4 6.1 .3 1 .3 -5 .4 -3 .4 -.1 .3 8.2 .3 -3.9 .4 4.9 .4 5.2 .3 -5.1 .3 -.1 .4 1 .4 -2 .3 8.3 .3 -8.5 .4 -6.1 .4 7.6 .3 -4.1 .3 -2.7 .4 7.8 .4 -4 .3 1.5 .3 -3.9 .4 2.9 .4 -4.6 .3 1.5 .3 -1.5 .4 3.7 .4 -4.3 .3 13.3 .3 -6.8 .4 -7 .4 4.6 .3 -9.5 .3 6.9 .4 14.2 .4 -7.3 .3 -2.7 .3 1.5 .4 -3.1 .4 -.8 .3 -1.8 .3 8.1 .4 -1.6 .4 -1.5 .3 -12.2 .3 4.5 .4 6.6 .4 4.4 .3 -5.9 .3 -1.7 .4 5.8 .4 -5 .3 .2 .3 2 .4 .8 .4 -.6 .3 -.1 .3 -9.7 .4 7 .4 2.2 .3 .6 .3 -.5 .4 1.4 .4 -.8 .3 -1.2 .3 5.9 .4 -3.4 .4 -3 .3 -2.3 .3 1.3 .4 2.9 .4 .8 .3 -6.5 .3 3.1 .4 1.3 .4 1.8 .3 -3.7 .3 2.7 .4 -9.4 .4 3.1 .3 10.1 .3 -5.5 .4 3 .4 -.5 .3 2.9 .3 3.2 .4 -7.4 .4 -5.3 .3 8.6 .3 3.5 .4 -11.4 .4 4.6 .3 3.7 .3 -3.8 .4 1.4 .4 1.6 .3 -8.3 .3 7.6 .4 .3 .4 -3.8 .3 .4 .3 .7 .4 -8.9 .4 6.1 .3 5.4 .3 -1.2 .4 -1.4 .4 -2.7 .3 5.8 .3 -3.4 .4 .6 .4 -1.9 .3 -1.6 .3 3.7 .4 -1.2 .4 -1.3 .3 1.7 .3 1.2 .4 .3 .4 -5 .3 .8 .3 3.2 .4 3.9 .4 -10.8 .3 9.1 .3 -.8 .4 -1.8 .4 -2.8 .3 6.4 .3 -3.2 .4 -1 .4 2 .3 .1 .3 6.2 .4 -8.8 .4 -3.4 .3 9 .3 -4.9 .4 3.8 .4 -.6 .3 -3.9 .3 -.5 .4 -2.5 .4 3.9 .3 -.2 .3 8.1 .4 -9.8 .4 2.2 .3 7.2 .3 -6.5 .4 1.4 .4 .3 .3 -7 .3 .3 .4 4.3 .4 6.9 .3 -5 .3 -5 .4 -3.6 .4 2.5 .3 .8 .3 5.7 .4 -.1 .4 -10.2 .3 1.8 .3 7.7 .4 3 .4 -1.4 .3 .3 .3 -3.3 .4 1 .4 -.8 .3 -4 .3 4.8 .4 -.9 .4 3.6 .3 -5.6 .3 -2.3 .4 3.9 .4 4.3 .3 .8 .3 -5.8 .4 0 .4 -4.3 .3 2.4 .3 5 .4 -1.4 .4 .1 .3 -1.3 .3 .7 .4 -8.6 .4 15.9 .3 -5.7 .3 -2.2 .4 -.4 .4 3.1 .3 -.4 .3 -2.7 .4 2.4 .4 .3 .3 -2.3 .3 -2.7 .4 4.7 .4 3.5 .3 1.8 .3 -6.4 .4 -2.5 .4 3 .3 1 .3 -1.2 .4 -1.2 .4 -.6 .3 -4 .3 4.7 .4 1.5 .4 -7.8 .3 -8.4 .3 6 .4 14 .4 5 .3 -7 .3 -7.1 .4 4.1 .4 .6 .3 -.6 .3 -2.1 .4 7 .4 -8.4 .3 3 .3 1.6 .4 -2.7 .4 4.8 .3 0 .3 2.7 .4 -11.4 .4 -1.9 .3 11.2 .3 -6 .4 1.8 .4 1.4 .3 2.3 .3 -3.4 .4 5 .4 -2.6 .3 -1.4 .3 -5.4 .4 8.6 .4 1.6 .3 -.4 .3 -3.2 .4 -8 .4 2 .3 8.9 .3 -2.9 .4 -2.8 .4 -.6 .3 -1.1 .3 1.5 .4 1 .4 -1.9 .3 -5.9 .3 4.4 .4 6 .4 -4.8 .3 2 .3 1.7 .4 -8.5 .4 9.3 .3 -1.4 .3 0 .4 .8 .4 2 .3 -5.2 .3 -.8 .4 4.7 .4 -11.3 .3 10 .3 3.3 .4 -3 .4 -.4 .3 -3.8 .3 -2.5 .4 3.6 .4 4.4 .3 1.5 .3 -2 .4 -1.6 .4 2.9 .3 -4 .3 2.8 .4 .2 .4 -4.6 .3 4 .3 -1.5 .4 2.3 .4 -2.9 .3 1.9 .3 -4 .4 1.1 .4 -.6 .3 .4 .3 2 .4 -7.6 .4 -1.3 .3 8.9 .3 -1.9 .4 4.2 .4 2.3 .3 -12.4 .3 6.5 .4 3.2 .4 -4.7 .3 10.9 .3 -8.2 .4 -5.4 .4 4.4 .3 5.6 .3 -5.4 .4 -6.9 .4 7 .3 -.2 .3 -.8 .4 4.4 .4 1.8 .3 -7.4 .3 -1.5 .4 2.5 .4 3.1 .3 2.1 .3 .9 .4 -2.8 .4 -1.6 .3 -1.9 .3 -1.3 .4 4 .4 -1.7 .3 -1 .3 9.7 .4 -1.7 .4 -10.2 .3 -4.5 .3 7.7 .4 2.4 .4 -1.6 .3 -2.6 .3 4.3 .4 -2.4 .4 -4.9 .3 4.2 .3 -1.5 .4 .2 .4 -.4 .3 5.5 .3 -5.7 .4 3.6 .4 -1.1 .3 -1.8 .3 5.2 .4 3.4 .4 -9.1 .3 2.4 .3 .1 .4 -2.7 .4 6.2 .3 -2.7 .3 .1 .4 -2.9 .4 2.5 .3 8.6 .3 -8.2 .4 -.6 .4 -.8 .3 2.3 .3 .2 .4 -2 .4 2.7 .3 -4.3 .3 4.1 .4 1.8 .4 -3.8 .3 -3.4 .3 -1.4 .4 4.2 .4 -.2 .3 -1.5 .3 -2.4 .4 8.3 .4 -5.7 .3 2.1 .3 2.3 .4 -1.8 .4 .3 .3 -6.2 .3 2 .4 7.7 .4 -5.9 .3 1.1 .3 -.2 .4 -2.1 .4 3.6 .3 -1.3 .3 -.4 .4 -2.4 .4 4.4 .3 -3.6 .3 7 .4 -2.8 .4 -4.3 .3 5.4 .3 1.4 .4 -7.9 .4 4.9 .3 -4 .3 8.7 .4 -1.2 .4 -3 .3 .9 .3 -.2 .4 -7.1 .4 5 .3 -5.7 .3 6 .4 .4 .4 -11.5 .3 4.8 .3 6.9 .4 2.7 .4 -5.5 .3 -2.9 .3 7.6 .4 -1.1 .4 -3.5 .3 1.3 .3 3.7 .4 -5.5 .4 -1.7 .3 1.9 .3 -.8 .4 1.4 .4 4.9 .3 -5.5 .3 .6 .4 -1.4 .4 10.1 .3 -5.5 .3 -.5 .4 -.8 .4 5.7 .3 -4.1 .3 -1.6 .4 1.1 .4 -4.8 .3 2.8 .3 -3 .4 4.4 .4 -6.8 .3 -1.7 .3 10.5 .4 -2.2 .4 -.4 .3 2.7 .3 -5 .4 -.5 .4 -1.4 .3 -.1 .3 4.6 .4 -3.5 .4 1.2 .3 7.1 .3 -7.9 .4 -3.1 .4 11.4 .3 -2.2 .3 -3.3 .4 .2 .4 -.3 .3 -2.6 .3 -4.4 .4 .7 .4 1.4 .3 8.7 .3 -.9 .4 -1.4 .4 -.3 .3 1.2 .3 -.8 .4 -.2 .4 -6.2 .3 8.5 .3 -6 .4 1.8 .4 -1.1 .3 -3.2 .3 3.5 .4 .7 .4 -8.8 .3 8.4 .3 -.1 .4 5.5 .4 -7.4 .3 3.3 .3 2.7 .4 -4.3 .4 2.9 .3 5.3 .3 -9.6 .4 -2.6 .4 10.4 .3 -1.1 .3 -5.5 .4 .7 .4 -4 .3 9.7 .3 -5.8 .4 -2.6 .4 3.3 .3 -11.5 .3 5.7 .4 8.5 .4 -4.8 .3 2.1 .3 -2.4 .4 3.8 .4 3.7 .3 -2.8 .3 -5.3 .4 -2 .4 7.5 .3 3.2 .3 -3.1 .4 -6.3 .4 2 .3 4.1 .3 -9.5 .4 6.9 .4 -4.3 .3 1 .3 1.2 .4 8.3 .4 6.5 .3 -9.1 .3 -1.3 .4 -2.2 .4 .9 .3 1.4 .3 1.5 .4 -3.6 .4 1.1 .3 -4.9 .3 1.4 .4 -2.1 .4 7.7 .3 5.3 .3 -9.8 .4 -4.1 .4 4 .3 -4.3 .3 5.6 .4 -1.4 .4 0 .3 0 .3 2.2 .4 2.9 .4 -3.9 .3 .7 .3 3.3 .4 -5.6 .4 1.1 .3 1.2 .3 -6 .4 7.8 .4 6.2 .3 -7.1 .3 -1.3 .4 .7 .4 2.7 .3 -5.4 .3 -7.1 .4 11.5 .4 -2 .3 -3.5 .3 -3.3 .4 1.9 .4 .3 .3 .3 .3 1 .4 .7 .4 1.7 .3 -6.3 .3 4.8 .4 1.3 .4 2.6 .3 -1.6 .3 -3.2 .4 -1.8 .4 7.5 .3 -4.6 .3 3.9 .4 -4 .4 3.5 .3 4.7 .3 -9.1 .4 3.6 .4 4.2 .3 1.2 .3 -3.9 .4 -2.8 .4 .8 .3 4.6 .3 1 .4 -3.6 .4 -1.1 .3 -3.7 .3 -1.5 .4 4.1 .4 -.9 .3 .6 .3 -5.5 .4 -.9 .4 5.5 .3 -5.9 .3 3.8 .4 .1 .4 -.6 .3 2.5 .3 1.6 .4 2.8 .4 -8.1 .3 6.1 .3 0 .4 -4.2 .4 1.6 .3 3.1 .3 -6.4 .4 2.1 .4 3.5 .3 0 .3 -3.6 .4 2.5 .4 -1.4 .3 7.8 .3 -8 .4 .1 .4 5 .3 -1.8 .3 -4.6 .4 -1.7 .4 8.7 .3 -3.5 .3 -3.4 .4 .5 .4 2.7 .3 3.5 .3 -1.7 .4 .4 .4 -7.9 .3 4.9 .3 -3.3 .4 5.2 .4 .9 .3 -3.6 .3 -5.7 .4 6.7 .4 1.3 .3 .2 .3 3.9 .4 -4.9 .4 -4.1 .3 3.5 .3 1.3 .4 2.4 .4 -4 .3 -1.7 .3 6.4 .4 -4.9 .4 .9 .3 -1.5 .3 -2.5 .4 5.1 .4 -1.5 .3 -.1 .3 .8 .4 -5.9 .4 -.1 .3 -1 .3 5.5 .4 2.9 .4 -2.4 .3 1.7 .3 1.3 .4 -6 .4 .1 .3 -1.4 .3 1.2 .4 4 .4 4.2 .3 .8 .3 1.1 .4 -5.3 .4 -8.2 .3 5.9 .3 4.6 .4 -2.7 .3 .1 .4 -1.5 .3 -1.8 .4 -1.1 .4 5.7 .3 4.7 .3 -4.7 .4 -1.2 .4 -1.2 .3 -2.4 .3 4.9 .4 .2 .4 -7 .3 0 .3 3.8 .4 1.3 .4 1.2 .3 1.3 .3 -.3 .4 -6.5 .3 -6.8 .4 7.8 .3 5.2 .4 -10.2 .4 1.1 .3 2.6 .3 4.2 .4 -2.9 .4 -.6 .3 4.9 .3 6.4 .4 3.4 .4 -8.5 .3 1 .3 -6.3 .4 .2 .4 3.6 .3 -.1 .3 3.3 .4 -6.8 .3 .9 .4 .9 .3 2.3 .4 -6.2 .4 -1.4 .3 10.1 .3 -5 .4 2.6 .4 -.6 .3 -8.8 .3 -.5 .4 12 .4 3.7 .3 -8.3 .3 -6.2 .4 -1.3 .4 7 .3 4.1 .3 -7.2 .4 -.9 .3 2.9 .4 9.1 .3 -1.3 .4 -8.1 .4 4.3 .3 -4.4 .3 2.3 .4 1.2 .4 .4 .3 .1 .3 -3.3 .4 3.8 .4 -4.5 .3 -.4 .3 .6 .4 3.5 .4 2.8 .3 -6 .3 -1 .4 4.2 .3 -1.1 .4 -7.5 .3 6 .4 2.6 .4 -1.7 .3 0 .3 8.5 .4 3.7 .4 -10.9 .3 -4.2 .3 8.1 .4 -4.2 .4 .3 .3 .5 .3 -7 .4 2.8 .4 1 .3 -3.3 .3 9.2 .4 -1.3 .3 -10.5 .4 -1.2 .3 13.4 .4 -2.6 .4 -2 .3 -6.6 .3 5 .4 -7.5 .4 6.6 .3 7.8 .3 1.1 .4 -5.3 .4 -6.2 .3 -1.2 .3 .9 .4 6.4 .4 6.5 .3 -5.7 .3 -2 .4 4.1 .3 -.2 .4 -1.1 .3 -.4 .4 .1 .4 -1.2 .3 -4.4 .3 -.2 .4 6.4 .4 1.2 .3 -1.3 .3 -1.4 .4 1.3 .4 -1.3 .3 -3.1 .3 -1.1 .4 -3.3 .4 6.3 .3 1.1 .3 -3 .4 -.4 .3 -2.2 .4 9.2 .3 -1.1 .4 -9.6 .4 2.6 .3 2 .3 -3.5 .4 4.6 .4 -2.1 .3 2.6 .3 -3.8 .4 3.5 .4 1.4 .3 4.3 .3 -4.9 .4 .4 .4 .2 .3 3.6 .3 -4.1 .4 -6 .3 5 .4 2.6 .3 2 .4 -5.6 .4 1.4 .3 -1.6 .3 -6" fill="none" stroke="#000" stroke-width="1.05" stroke-linejoin="round"/>
<path d="M823.0 131.8l.4 -1.7 .3 3.8 .3 -5 .4 -3.8 .4 6.5 .3 2.3 .3 -2.3 .4 .3 .4 .6 .3 -3 .3 8.5 .4 -5.8 .4 7.2 .3 8.9 .3 -17.1 .4 1.3 .4 7.3 .3 -2.7 .3 4.8 .4 -4.5 .4 -7.6 .3 1 .3 1.4 .4 .8 .4 -3.8 .3 5 .3 2.9 .4 -4.7 .4 -.5 .3 3.5 .3 -.8 .4 2.4 .4 -1.4 .3 -3 .3 .5 .4 -5.6 .4 1.4 .3 -1.9 .3 4.2 .4 2.6 .4 -4 .3 .9 .3 -.3 .4 -.1 .4 4.9 .3 -2.9 .3 4.7 .4 1.6 .4 -3.4 .3 -3.4 .3 .7 .4 3.5 .4 2 .3 -2.5 .3 -8 .4 6.9 .4 2.6 .3 -7.3 .3 1.9 .4 -2.2 .4 2.8 .3 2.7 .3 1.5 .4 -3.7 .4 2.7 .3 -7.8 .3 8.1 .4 4.8 .4 -6.5 .3 -1.2 .3 -1.8 .4 1.6 .4 2.5 .3 3.1 .3 -6.4 .4 -3.2 .4 8.1 .3 .9 .3 -8.4 .4 5.5 .4 5.2 .3 -3.3 .3 -2.7 .4 1.4 .4 1.8 .3 -5.5 .3 -.6 .4 2.1 .4 -.2 .3 -6.2 .3 -1.1 .4 9.2 .4 -6 .3 6.3 .3 3 .4 -7.2 .4 -3.8 .3 4.7 .3 -3.4 .4 2.9 .4 1.6 .3 3.5 .3 -1.3 .4 -2.7 .4 .7 .3 1.5 .3 -.5 .4 -.9 .4 5.3 .3 -3.8 .3 -1 .4 9.7 .4 -8 .3 -1.8 .3 -1.5 .4 5.3 .4 -.6 .3 -2.9 .3 -4 .4 .4 .4 .5 .3 -.2 .3 -1.7 .4 5.4 .4 -.5 .3 .9 .3 -4 .4 6.1 .4 -5.1 .3 3.7 .3 -4.1 .4 -1.7 .4 8.3 .3 -6.1 .3 -1.6 .4 4.2 .4 1 .3 -3.3 .3 -4.8 .4 5.1 .4 9.7 .3 -4.8 .3 .8 .4 -10.3 .4 2.3 .3 2.3 .3 9.6 .4 -8.4 .4 .6 .3 -1.7 .3 -2.7 .4 4 .4 -1.4 .3 2.6 .3 -.8 .4 -2.4 .4 .1 .3 1.8 .3 -8.3 .4 8.4 .4 1.3 .3 -3.1 .3 -3.6 .4 3.4 .4 3.3 .3 -4.3 .3 4.4 .4 7.4 .4 -3 .3 -8.5 .3 5 .4 -3.6 .4 .7 .3 .8 .3 1.8 .4 -.5 .4 -5 .3 3.3 .3 -.1 .4 -1.1 .4 -1.3 .3 4 .3 3.9 .4 -6.6 .4 -.8 .3 .5 .3 3 .4 -5 .4 -3.2 .3 1.2 .3 8.7 .4 -2.3 .4 -2.2 .3 1 .3 -3.9 .4 4 .4 -.4 .3 -1.3 .3 6.7 .4 -2.6 .4 -5.9 .3 2.1 .3 -2.7 .4 4.8 .4 8.7 .3 -6.4 .3 -6.7 .4 2.9 .4 3.3 .3 1 .3 -8.1 .4 5.6 .4 4.8 .3 -2.2 .3 .2 .4 -4.1 .4 -3 .3 2.8 .3 6.9 .4 -6.7 .4 2.7 .3 -2.9 .3 -6.1 .4 3.3 .4 3.7 .3 -4.6 .3 1.7 .4 2.3 .4 3.8 .3 -5.4 .3 -.2 .4 -.9 .4 5.1 .3 -4 .3 -.9 .4 3.6 .4 3.6 .3 -4.5 .3 -2.9 .4 -1.6 .4 1.5 .3 -1 .3 8.2 .4 -2.8 .4 -.7 .3 -6.6 .3 6 .4 5.1 .4 -9.7 .3 5.3 .3 3.5 .4 -1.7 .4 -.8 .3 1 .3 1.1 .4 -1.6 .4 -4.8 .3 6.3 .3 5 .4 -9.1 .4 -1.1 .3 -.8 .3 3.2 .4 -1.6 .4 3.4 .3 -.3 .3 -5.5 .4 .2 .4 1.7 .3 3 .3 -4.4 .4 -1 .4 -.7 .3 8.4 .3 -5.8 .4 -4.6 .4 4 .3 3.6 .3 -3 .4 -1.6 .4 6.1 .3 1.5 .3 -4.3 .4 -1.8 .4 -2.8 .3 2.9 .3 0 .4 5.4 .4 -2.6 .3 0 .3 -1.5 .4 -2.4 .4 1.6 .3 1.8 .3 -5.7 .4 8.2 .4 -.6 .3 -.7 .3 -1.1 .4 -3.2 .4 4.7 .3 2.4 .3 -2.1 .4 -1.6 .4 -5 .3 5.8 .3 1.5 .4 -4.8 .4 -2 .3 .8 .3 3.6 .4 2.3 .4 -.2 .3 -2.7 .3 -2.7 .4 -1.4 .4 10.6 .3 -1.8 .3 -3.6 .4 -6.8 .4 .9 .3 .9 .3 4.7 .4 -3.4 .4 -.3 .3 3.9 .3 2.9 .4 -2.9 .4 .9 .3 -3.6 .3 6.2 .4 -.9 .4 -1.9 .3 .2 .3 -5.9 .4 4.2 .4 -5.4 .3 -3.1 .3 11.3 .4 -4.4 .4 -2.2 .3 1.8 .3 0 .4 -4.2 .4 4 .3 .3 .3 1.2 .4 -2.3 .4 2 .3 4.5 .3 -1.3 .4 2.2 .4 -2.1 .3 -9.9 .3 4.8 .4 .1 .4 2.5 .3 5.5 .3 -5.9 .4 -1.5 .4 -1.2 .3 4.8 .3 4.6 .4 -1.2 .4 -3.3 .3 -4.6 .3 3.4 .4 3.4 .4 1.4 .3 -3.4 .3 -1 .4 -2 .4 .3 .3 1 .3 -.4 .4 3.5 .4 -2.1 .3 -5.8 .3 5 .4 1 .4 -2 .3 -2.3 .3 -1 .4 -4.2 .4 2 .3 -.7 .3 2.2 .4 8.9 .4 -3.6 .3 -1.1 .3 -2.7 .4 -1.5 .4 4.3 .3 1.3 .3 -2.8 .4 -2.7 .4 3.3 .3 2.1 .3 -.7 .4 -6.1 .4 9.3 .3 -2.9 .3 5 .4 -3 .4 -4.8 .3 4.3 .3 3.9 .4 -5.7 .4 3.3 .3 -3.1 .3 -2.7 .4 3.1 .4 3.5 .3 -3 .3 -4.2 .4 -1.3 .4 3.8 .3 -1.1 .3 -1.6 .4 8.2 .4 -7.8 .3 -2.2 .3 10.3 .4 -2.7 .4 -.8 .3 .9 .3 .9 .4 -7.9 .4 -4.3 .3 2.8 .3 6.5 .4 4.8 .4 -9.4 .3 -.6 .3 -.7 .4 -1.2 .4 9.5 .3 -1.6 .3 -1.5 .4 .6 .4 2.5 .3 -7.8 .3 4.7 .4 -1.6 .4 4.1 .3 -.1 .3 2 .4 -9.2 .4 -2.8 .3 6.8 .3 10.8 .4 -10.9 .4 -5 .3 3.9 .3 .2 .4 -3.7 .4 7.5 .3 2.4 .3 -5.1 .4 -3 .4 3.4 .3 1.4 .3 -7.5 .4 2.9 .4 .9 .3 5.6 .3 -.1 .4 -3.7 .4 1 .3 -3.4 .3 6.2 .4 7 .4 -12.3 .3 -2.6 .3 4.9 .4 1 .4 2.5 .3 .5 .3 -3.9 .4 1.5 .4 -6.8 .3 6.4 .3 -2.5 .4 -5 .4 6 .3 3.8 .3 -7.1 .4 -1.2 .4 10.1 .3 -3.2 .3 -5.9 .4 5.8 .4 -1.3 .3 -2.8 .3 2.5 .4 -7.2 .4 10.2 .3 -7.9 .3 4.3 .4 2.4 .4 -.1 .3 -5 .3 -8.7 .4 10.7 .4 4 .3 -.3 .3 -6.8 .4 2.3 .4 3.3 .3 -2.9 .3 -1.8 .4 4.4 .4 -3.7 .3 -4.6 .3 3.1 .4 2.5 .4 -.9 .3 4.8 .3 -3.1 .4 -1 .4 1.6 .3 3.1 .3 -2.6 .4 3.2 .4 -2.6 .3 5.7 .3 6.3 .4 -12.8 .4 -2.7 .3 9 .3 -9.5 .4 -2.6 .4 4.4 .3 1.1 .3 -5.4 .4 4.6 .4 2.3 .3 -1.9 .3 .7 .4 4.7 .4 -9 .3 -.9 .3 3 .4 5 .4 -2.3 .3 -2.1 .3 -2.7 .4 2.2 .4 -3.3 .3 1.6 .3 -.2 .4 -.6 .4 -3.8 .3 5.8 .3 3.1 .4 -1.4 .4 2.9 .3 -1.5 .3 -.1 .4 -.5 .4 1.2 .3 -3.8 .3 3.1 .4 -2.9 .4 .8 .3 4.1 .3 -3.4 .4 4.6 .4 -8.6 .3 2.3 .3 8.8 .4 -.5 .4 -1.7 .3 -3.2 .3 -1.3 .4 -5.1 .4 .4 .3 7.1 .3 1.7 .4 -.2 .4 -9.4 .3 2.1 .3 5.1 .4 -.9 .4 3.4 .3 -2.4 .3 -2.5 .4 -.8 .4 7 .3 -8 .4 -.8 .3 5.1 .4 -4.8 .3 2.4 .3 -5.3 .4 .5 .4 7.9 .3 -3.9 .3 -7.6 .4 6.3 .4 3.1 .3 0 .3 -1.2 .4 -1 .4 2.4 .3 -1.3 .3 7.3 .4 -5.7 .4 -5.6 .3 3.4 .4 5.2 .3 -3.8 .4 3.4 .3 -3.4 .3 -4.2 .4 4.4 .4 .9 .3 -3 .3 7.1 .4 -1.9 .4 -3 .3 -9.3 .3 5.8 .4 5.9 .4 -6.7 .3 6.9 .3 .5 .4 -3.5 .4 6.4 .3 -6.4 .4 -2.3 .3 6.7 .4 -.6 .3 -2.5 .3 -.6 .4 2.6 .4 -2.3 .3 -.4 .3 -4.9 .4 .6 .4 5.8 .3 -4.6 .3 -4.8 .4 3 .4 5.3 .3 -3.9 .3 -2.2 .4 4.4 .4 -.2 .3 .3 .4 -3.2 .3 -4.5 .4 5.1 .3 2.9 .3 -1.4 .4 8.8 .4 -5.7 .3 -2 .3 -7.6 .4 10.9 .4 4 .3 3.9 .3 -6.1 .4 -9.6 .4 5.4 .3 -.8 .3 3.2 .4 0 .4 1 .3 -1.6 .4 -5.7 .3 -2.5 .4 9.8 .3 -3.6 .3 1.9 .4 -8.5 .4 11.2 .3 -1.6 .3 -7 .4 -.8 .4 1.4 .3 4 .3 5.3 .4 -.3 .4 .8 .3 -7.6 .3 -3.6 .4 5.7 .4 -2.2 .3 .7 .4 -1.6 .3 3.6 .4 -5.2 .3 -3.1 .3 -3.5 .4 10.2 .4 -.6 .3 2.3 .3 -6.4 .4 9.8 .4 -.7 .3 -3.9 .3 -4.5 .4 3.4 .4 -2.7 .3 6.1 .3 -5.4 .4 -4.6 .4 5.6 .3 -2.3 .4 3.7 .3 .7 .4 -.5 .3 4 .3 -1.2 .4 -2.7 .4 1.1 .3 5 .3 -1.2 .4 -5.6 .4 -.4 .3 3.9 .3 3.5 .4 -2.3 .4 .5 .3 -3.7 .3 3.1 .4 -8.5 .4 -1.1 .3 7.9 .3 -.2 .4 -.1 .4 -.8 .3 -3.8 .3 0 .4 2.6 .4 -6 .3 -.5 .3 4.1 .4 1 .4 1.3 .3 -.4 .4 -3.2 .3 2.1 .4 -.7 .3 3.5 .3 6.3 .4 -4.9 .4 -11.1 .3 11.2 .3 .2 .4 -5.9 .4 4.8 .3 3.9 .3 -6.1 .4 -2.7 .4 -.7 .3 -.4 .3 -.8 .4 2.9 .4 -1 .3 -1.4 .4 3.2 .3 -1.3 .4 -1.4 .3 3.8 .3 5.7 .4 6 .4 -10.8 .3 1.4 .3 1 .4 .3 .4 -1.3 .3 1.1 .3 -1.5 .4 -2 .4 7.8 .3 -5 .3 -5.2 .4 2.5 .4 1.3 .3 0 .3 -2.3 .4 3.1 .4 -3.6 .3 -.6 .3 -5.1 .4 3.1 .4 7.8 .3 -1 .3 -1.2 .4 6.3 .4 -5.4 .3 -7 .3 2.8 .4 4.9 .4 -2.1 .3 -6.2 .3 -.1 .4 2.8 .4 -7.6 .3 5.8 .3 2.5 .4 .9 .4 -.6 .3 -.2 .3 .8 .4 -4.2 .4 3.9 .3 6.2 .3 -5.5 .4 2.5 .4 5.4 .3 -8.4 .3 6.3 .4 -2.9 .4 -4 .3 4.3 .3 -4.8 .4 7.3 .4 4.5 .3 -6.8 .3 -4.4 .4 -1.2 .4 -1.6 .3 1 .3 4.8 .4 3.7 .4 -4.9 .3 -4.6 .3 1.8 .4 3.8 .4 -4.2 .3 2 .3 2.3 .4 -.4 .4 2.2 .3 -1.1 .3 2.4 .4 -5.3 .4 2.2 .3 2.6 .3 -1.6 .4 -.3 .4 -7.4 .3 9.3 .3 -6.2 .4 3.4 .4 1.4 .3 .3 .3 -8.5 .4 7.8 .4 -2.2 .3 .7 .3 -5.3 .4 .2 .4 -3.5 .3 3 .3 5.9 .4 -4.7 .4 3.6 .3 -3.6 .3 -6 .4 3.2 .4 5.9 .3 9.7 .3 -4.5 .4 .7 .4 -5.5 .3 -4.8 .3 6.8 .4 -2.4 .4 6.5 .3 1.4 .3 -4.1 .4 -1.4 .4 1.7 .3 -3 .3 -3.8 .4 .9 .4 4.9 .3 -9.7 .3 9.5 .4 .9 .4 -3.6 .3 1.3 .3 4.5 .4 -2.6 .4 1.5 .3 -3.7 .3 .6 .4 -1.6 .4 -5 .3 1.9 .3 3 .4 4.5 .4 -2.2 .3 -4.7 .3 8.7 .4 -5.6 .4 -3.3 .3 .8 .3 3.1 .4 -3.2 .4 2 .3 4.2 .3 .3 .4 -4.8 .4 -2.3 .3 1.8 .3 -1.3 .4 .8 .4 -1.3 .3 5.9 .3 -6 .4 1.9 .4 5 .3 -5 .3 -4.9 .4 -.1 .4 2.3 .3 2.4 .3 3.2 .4 4.7 .4 -6.2 .3 -2.8 .3 -1.7 .4 6.6 .4 0 .3 -1.2 .3 3.4 .4 -9.7 .4 2.3 .3 2.4 .3 3.6 .4 .4 .4 -3.8 .3 3 .3 5.2 .4 -7.2 .4 1.6 .3 -2.9 .3 3.2 .4 6.6 .4 -4.9 .3 -9.1 .3 3.5 .4 2.7 .4 -3.5 .3 6.7 .3 1.2 .4 -10.8 .4 7.1 .3 -2.7 .3 4.6 .4 -4.6 .4 -2.4 .3 .4 .3 3.8 .4 -1 .4 -2.4 .3 -1.5 .3 3.6 .4 -3 .4 -6.8 .3 8.7 .3 3 .4 -3.9 .4 -2.1 .3 1 .3 -3.1 .4 5.4 .4 4 .3 -1.4 .3 -1.6 .4 2.8 .4 -1.5 .3 1.1 .3 0 .4 -8.9 .4 7 .3 4.3 .3 -6.5 .4 6.4 .4 -6.2 .3 -.9 .3 -1.1 .4 4.8 .4 3.1 .3 -4.7 .3 -2.7 .4 6.5 .4 1.8 .3 -3.6 .3 -2.9 .4 -.2 .4 4.8 .3 -.1 .3 -3.8 .4 0 .4 5.4 .3 -.9 .3 -4.7 .4 4.3 .4 -3.4 .3 3.9 .3 -4.7 .4 1.2 .4 3.7 .3 -3 .3 -2.6 .4 1.2 .4 -4.1 .3 .6 .3 -.3 .4 3.8 .4 -6.9 .3 2.4 .3 1.8 .4 1.2 .4 .7 .3 -1 .3 -.3 .4 .7 .4 -1.3 .3 2.1 .3 -1.4 .4 -1 .4 4.9 .3 -6.5 .3 3.3 .4 -.1 .4 6.1 .3 -2.9 .3 .8 .4 -.1 .4 2.3 .3 -1.3 .3 -2.7 .4 1.4 .4 3.4 .3 -7.2 .3 4 .4 5.4 .4 -8.5 .3 -1.9 .3 1.5 .4 -5.1 .4 7.9 .3 -.7 .3 -4.9 .4 5.6 .4 -2.1 .3 2.4 .3 2.1 .4 -1.7 .4 .6 .3 -2.8 .3 -5.8 .4 9 .4 -4 .3 -3.8 .3 1.5 .4 7.9 .4 1.3 .3 -5.6 .3 -1.7 .4 5.6 .4 -3.9 .3 -4 .3 .5 .4 .8 .4 3.6 .3 -2.6 .3 -2.6 .4 4.2 .4 -5.1 .3 -.1 .3 -.8 .4 6.8 .4 -5.9 .3 1.5 .3 6.2 .4 -1.3 .4 4.5 .3 -5.5 .3 -2 .4 -2.8 .4 5.7 .3 -.3 .3 -2.3 .4 -1.6 .4 4 .3 -3.2 .3 4.6 .4 -2 .4 -6.1 .3 5.9 .3 -4 .4 -.4 .4 10.3 .3 -.5 .3 -4.8 .4 -5.7 .4 4.9 .3 .6 .3 10.8 .4 -8.5 .4 -1.1 .3 -3.8 .3 5.5 .4 -5.3 .4 3.7 .3 -2 .3 .7 .4 -4.8 .4 -1 .3 2.3 .3 5.2 .4 -1.9 .4 2.8 .3 -2.5 .3 -2.6 .4 -.3 .4 2.9 .3 -4.4 .3 2.2 .4 -3.2 .4 3.7 .3 -1.2 .3 .1 .4 5.4 .4 -10.3 .3 3.3 .3 4.4 .4 4.2 .4 -5.3 .3 -3.7 .3 -4.2 .4 6.1 .4 2 .3 -2.2 .3 .5 .4 5.1 .4 -5.7 .3 -3.1 .3 3.3 .4 2.4 .4 3.1 .3 -1.5 .3 -5.5 .4 3.2 .4 4.2 .3 -1.9 .3 3 .4 4.1 .4 -7.6 .3 -1.8 .3 .9 .4 3.4 .4 -3.3 .3 1.4 .3 -1.1 .4 -2.8 .4 4.2 .3 -4.2 .3 -3.1 .4 11.1 .4 .1 .3 -7.5 .3 .7 .4 -8.3 .4 -.4 .3 7.7 .3 -.1 .4 3.8 .4 -.5 .3 -5.2 .3 3.1 .4 -2.7 .4 -3 .3 9.1 .3 .5 .4 -4.1 .4 -.6 .3 -2.1 .3 2 .4 2.7 .4 -1.4 .3 -.7 .3 -.4 .4 -.3 .4 -.2 .3 2.6 .3 3.2 .4 -5.3 .4 -3.7 .3 6.4 .3 2.5 .4 .9 .4 -4.9 .3 -.1 .3 -6.1 .4 4.5 .4 -.4 .3 -2.7 .3 5.3 .4 1.5 .4 2.4 .3 -1.4 .3 -10.7 .4 6 .4 4.6 .3 4.6 .3 -5.9 .4 -1.8 .4 4.1 .3 4.4 .3 -13.4 .4 -4.4 .4 4.3 .3 7.8 .3 -6.9 .4 10.9 .4 -5.4 .3 -9.2 .3 .1 .4 9.8 .4 -1.7 .3 -.1 .3 8.3 .4 -1 .4 -7.1 .3 -5.2 .3 3.4 .4 3.9 .4 -3.3 .3 1.7 .3 3.6 .4 -8.8 .4 -1.2 .3 10.3 .3 -8.9 .4 1.4 .4 3.3 .3 -4.7 .3 5.8 .4 -3.6 .4 -4.2 .3 -1 .3 6.7 .4 6.2 .4 -.8 .3 -6.6 .3 -7 .4 4.1 .4 2.2 .3 10.5 .3 -1.3 .4 -6.6 .4 3.2 .3 -10.1 .3 6.4 .4 -.9 .4 7.1 .3 -6.7 .3 6.6 .4 -6.1 .4 -5.2 .3 4.8 .3 -3 .4 5 .4 .4 .3 2 .3 -5.9 .4 -4.3 .4 7.6 .3 -4.4 .3 1.2 .4 9.8 .4 8 .3 -11.2 .3 -3.5 .4 -2.1 .4 7.2 .3 -6.7 .3 3.2 .4 -.6 .4 -2.7 .3 .4 .3 -3 .4 1.2 .4 9 .3 -5.4 .3 -11.2 .4 1 .4 2.5 .3 5.7 .3 4.9 .4 -2.1 .4 -12.4 .3 1.4 .3 7.8 .4 3.7 .4 2.3 .3 1.8 .3 -13.2 .4 3.2 .4 5.7 .3 -5.7 .3 1.1 .4 6.3 .4 -1 .3 -2.8 .3 2.7 .4 1 .4 -1.2 .3 -8 .3 6.2 .4 -4.6 .4 1.6 .3 .6 .3 3.5 .4 -3.8 .4 1.6 .3 -3 .3 .5 .4 -1 .4 4.9 .3 2.8 .3 1.8 .4 -6.7 .4 -4.9 .3 1.3 .3 5.5 .4 7 .4 -5.9 .3 1.8 .3 -7.7 .4 -.9 .4 3.8 .3 1.3 .3 -.9 .4 1.1 .4 -2.3 .3 -6.6 .3 4.7 .4 1.2 .4 8.3 .3 6.5 .3 -9.1 .4 3.8 .4 -9.1 .3 -6.3 .3 9.1 .4 -2.2 .4 9.4 .3 -5.9 .3 -8.7 .4 10.3 .4 -8.4 .3 6.2 .3 -2.3 .4 -1.5 .4 .7 .3 .6 .3 1.4 .4 -1.6 .4 3.9 .3 -2.1 .3 2.4 .4 -.5 .4 1.3 .3 -8 .3 -2.4 .4 6.3 .4 3.8 .3 -10.3 .3 2.7 .4 -.8 .4 -1.2 .3 9.8 .3 -3.7 .4 -5.3 .4 8.1 .3 -1.7 .3 2 .4 -8.2 .4 6.3 .3 8.9 .3 -10.1 .4 .6 .4 4.2 .3 -.8 .3 -4.7 .4 -5.6 .4 11.1 .3 -13.7 .3 -.8 .4 12.4 .4 -1.9 .3 -3.4 .3 1.2 .4 -2.9 .4 5.4 .3 -.3 .3 4.5 .4 -4 .4 -6.8 .3 6.8 .3 -3.9 .4 -5.2 .4 4.7 .3 1.2 .3 1.3 .4 -1.1 .4 .8 .3 .7 .3 2.5 .4 .1 .4 -6.5 .3 6.7 .3 2.2 .4 -5.6 .4 .7 .3 -.9 .3 2.7 .4 -2.1 .4 1.8 .3 -5.3 .3 2.9 .4 -3.8 .4 .3 .3 6 .3 1.2 .4 3.1 .4 -3.5 .3 -5 .3 3.3 .4 -7 .4 6.9 .3 -.6 .3 -.8 .4 -.6 .4 1.7 .3 -1.3 .3 -.5 .4 -.3 .4 1.6 .3 -.9 .3 -.8 .4 -1.2 .4 3.1 .3 -2.9 .3 -.8 .4 3.6 .4 -.4 .3 1.9 .3 0 .4 -8 .4 7.9 .3 5.4 .3 -7.3 .4 -1.9 .4 -.4 .3 9 .3 -1.9 .4 2.5 .4 -10.3 .3 5.4 .3 -.7 .4 -3.6 .4 -5.1 .3 2.6 .3 5 .4 4.5 .3 .2 .4 -9 .3 -6.5 .4 11 .4 4.1 .3 -3.1 .3 -1 .4 -3.4 .4 3.3 .3 2.1 .3 -3.7 .4 -2.3 .4 3.3 .3 -2.9 .3 5.7 .4 2 .4 -6.7 .3 .9 .3 -3.9 .4 .2 .3 2.3 .4 2.4 .3 2.2 .4 -3.5 .4 -.6 .3 -3.3 .3 -.8 .4 15.8 .4 -3.3 .3 -5 .3 -1.5 .4 3.9 .4 -3.2 .3 .2 .3 2.9 .4 2.7 .4 -6.9 .3 -3.9 .3 4.4 .4 -2.1 .3 8.6 .4 -3.7 .3 -2.3 .4 -1.7 .4 -4.4 .3 2.2 .3 -2.8 .4 2.9 .4 10.7 .3 -6.9 .3 -4.5 .4 5.6 .4 .4 .3 2.1 .3 -4.2 .4 .2 .4 -1.1 .3 -2.5 .3 1.6 .4 -.6 .3 5.7 .4 -1.1 .3 -10.7 .4 7 .4 3.6 .3 -1.7 .3 -5.7 .4 6 .4 -3.8 .3 5.1 .3 -.8 .4 -4.2 .4 2.4 .3 .2 .3 -2.2 .4 1.9 .4 .4 .3 1.3 .3 .9 .4 2.8 .3 -4.7 .4 4.7 .3 .8 .4 -3.8 .4 -1.5 .3 4.1 .3 -3.5 .4 2.3 .4 -2 .3 1.2 .3 -1.9 .4 -1.7 .4 0 .3 -4.6 .3 2.1 .4 5.4 .4 -.8 .3 1.5 .3 -9.6 .4 7.4 .3 -.2 .4 2 .3 .8 .4 -10.5 .4 10.7 .3 -7 .3 3.5 .4 2.4 .4 2.8 .3 -5.1 .3 .7 .4 2.3 .4 -4.7 .3 -3.3 .3 4.8 .4 1.1 .4 .9 .3 -.4 .3 -5.7 .4 -4.4 .3 7.5 .4 5.2 .3 -7.1 .4 7.4 .4 -.6 .3 -2.1 .3 -1.8 .4 3.5 .4 -4.1 .3 1 .3 2.2 .4 4.5 .4 -6.8 .3 -.6 .3 3.3 .4 -.8 .4 -3.6 .3 4.7 .3 -3.2 .4 4.2 .3 .2 .4 -4.3 .3 -4.4 .4 7.2 .4 .2 .3 -1.2 .3 1.5 .4 -5 .4 .2 .3 2.6 .3 -3.6 .4 2.3 .4 2.2 .3 -1.4 .3 -9.2 .4 4.9 .4 5.9 .3 -2.8 .3 7.4 .4 -4.3 .3 .2 .4 -1 .3 -2.5 .4 2.4 .4 -1.1 .3 -4.1 .3 2.7" fill="none" stroke="#000" stroke-width="1.05" stroke-linejoin="round"/>
<line x1="1300.6" y1="162.3" x2="1397.8" y2="162.3" stroke="#222" stroke-width="2.0"/>
<text x="1349.5" y="156.9" font-size="17" text-anchor="middle">5s</text>
<text x="825.2" y="17.8" font-size="23.7">Baseline Interictal Recording (Spike Corrupted)</text>
<text x="1053.1" y="49.6" font-size="15" text-anchor="middle" font-weight="bold">*</text>
<line x1="1584.4" y1="31.3" x2="1584.4" y2="152.4" stroke="#000" stroke-width="1.6"/>
<line x1="1582.2" y1="55.8" x2="1584.4" y2="55.8" stroke="#000" stroke-width="1.4"/>
<text x="1579.4" y="62.0" font-size="17.5" text-anchor="end" fill="#d5121c">RHip 3-4</text>
<line x1="1582.2" y1="79.1" x2="1584.4" y2="79.1" stroke="#000" stroke-width="1.4"/>
<text x="1579.4" y="85.3" font-size="17.5" text-anchor="end" fill="#d5121c">RHip 1-2</text>
<line x1="1582.2" y1="103.6" x2="1584.4" y2="103.6" stroke="#000" stroke-width="1.4"/>
<text x="1579.4" y="109.8" font-size="17.5" text-anchor="end">LHip 3-4</text>
<line x1="1582.2" y1="127.5" x2="1584.4" y2="127.5" stroke="#000" stroke-width="1.4"/>
<text x="1579.4" y="133.7" font-size="17.5" text-anchor="end">LHip 1-2</text>
<path d="M1585.2 58.2l.4 -1.1 .3 .5 .3 -7.3 .4 3.8 .4 -2.9 .3 4.7 .3 3.7 .4 .2 .4 -6.4 .3 4.2 .4 -3.8 .3 -1.4 .4 3.5 .3 2.8 .3 -3.1 .4 2 .4 1.1 .3 -4.3 .4 6 .3 -1.1 .4 -3.2 .3 -2.4 .3 3.6 .4 5.1 .4 -2.6 .3 .9 .3 -8.4 .4 1.1 .4 5.4 .3 .6 .4 -2.2 .3 2.5 .4 -.6 .3 -2.2 .3 4.2 .4 -1.8 .4 -2.2 .3 .6 .4 -3.4 .3 .1 .4 .9 .3 .9 .3 1.1 .4 -3.9 .4 3.2 .3 -1.2 .3 -.7 .4 3.6 .4 1.3 .3 -10.4 .4 1.8 .3 7.4 .4 .8 .3 -3.6 .3 2.6 .4 -2.8 .4 .6 .3 4 .4 -3.1 .3 2.5 .4 -4.6 .3 -.5 .3 3.8 .4 -.6 .4 -2.6 .3 -1.4 .3 -2 .4 5.7 .4 -.8 .3 -.1 .4 4.2 .3 -1.6 .4 -2 .3 1.2 .3 -2.7 .4 2.5 .4 -1.5 .3 4.5 .4 1.8 .3 -2.2 .4 -5.9 .3 .6 .3 .9 .4 2 .4 .7 .3 -2.1 .3 8.1 .4 -5.2 .4 -6.5 .3 -.1 .4 4 .3 -1.6 .4 4.7 .3 -3.1 .3 -.9 .4 .2 .4 -1.4 .3 1.8 .4 -3.5 .3 4.2 .4 -.1 .3 -2.7 .3 -1 .4 -2.1 .4 2.3 .3 1.5 .3 2.4 .4 .9 .4 1 .3 -2.3 .4 -1.9 .3 3 .4 -4.2 .3 3.5 .3 -4.4 .4 2.5 .4 3.6 .3 -6.6 .4 1.9 .3 5.5 .4 -3.4 .3 2.8 .3 -2 .4 -.3 .4 3.7 .3 -.5 .3 -1.4 .4 -5.5 .4 4.9 .3 -1.4 .4 -5.6 .3 3.5 .4 5.8 .3 -3.6 .3 1.6 .4 -3.9 .4 -1.2 .3 6.3 .4 -2.8 .3 -2.4 .4 6 .3 -1.1 .3 -3.1 .4 .9 .4 1.9 .3 -.6 .3 -4.2 .4 1.6 .4 1.6 .3 -1.9 .4 2.3 .3 -1.8 .4 -2.3 .3 .3 .3 -1.1 .4 4.6 .4 -.5 .3 -3 .3 2.4 .4 1.4 .4 -5.9 .3 7 .3 -4.8 .4 -.7 .4 .6 .3 5.3 .3 -2.6 .4 2.8 .4 -6 .3 1.8 .3 -2.9 .4 1 .4 4.8 .3 1.4 .3 -.3 .4 -4.5 .4 0 .3 1.3 .3 3.6 .4 1.2 .4 -3.1 .3 -1.7 .3 -.4 .4 .8 .4 -1.1 .3 -.2 .3 .8 .4 .3 .4 0 .3 1 .3 -.5 .4 -.2 .4 2.4 .3 -.4 .3 -2.7 .4 2.3 .4 .9 .3 -5.6 .3 7.3 .4 -2.2 .4 -3.7 .3 2 .3 -.7 .4 2.3 .4 -.7 .3 -2 .3 -1.1 .4 .2 .4 6 .3 -5.6 .3 -5.8 .4 2.4 .4 8.8 .3 -4.6 .3 -3.7 .4 -1.1 .4 3.8 .3 1.4 .3 -8.6 .4 7.5 .4 2.8 .3 1.8 .3 1.4 .4 -7.5 .4 -.4 .3 3.5 .3 2.1 .4 -2.4 .4 -4.9 .3 .8 .3 3.8 .4 -.1 .4 3 .3 -2.6 .3 -1.9 .4 5.8 .4 .7 .3 2.1 .3 -.8 .4 -.4 .4 -2.4 .3 1.8 .3 -7.6 .4 5.4 .4 .9 .3 -4.1 .3 -6.5 .4 -1.8 .4 -5 .3 -1.9 .3 5.8 .4 .9 .4 4 .3 1.7 .3 2.6 .4 -.1 .4 2.6 .3 4.7 .3 5.5 .4 5.8 .4 3.9 .3 -2.8 .3 -4.5 .4 -6.6 .4 -3 .3 -3.6 .3 -1 .4 -2.4 .4 -5.6 .3 -4.6 .3 -5.8 .4 -7.5 .4 1.6 .3 5.5 .3 5.5 .4 6.3 .4 1.2 .3 3.4 .3 2.2 .4 3.6 .4 5 .3 4.6 .3 2.6 .4 5.4 .4 -3 .3 -6.3 .3 -6.2 .4 -3.3 .4 .7 .3 -3.4 .3 1.4 .4 -3.6 .4 -7.3 .3 -1.1 .3 .3 .4 1.1 .4 .5 .3 3.5 .3 2.5 .4 2.8 .4 2.7 .3 -2 .3 -.8 .4 3.3 .4 2.8 .3 1.8 .3 -2 .4 -1.5 .4 -1.6 .3 -.8 .3 -1.9 .4 -1.7 .4 2.6 .3 -1.3 .3 -3 .4 .3 .4 -1.8 .3 .1 .3 2.9 .4 -4.3 .4 1.9 .3 3.7 .3 -2.4 .4 3.1 .4 0 .3 -2.1 .3 2.7 .4 1 .4 .1 .3 -3.6 .3 1.5 .4 4.1 .4 1.5 .3 -3.6 .3 1.5 .4 -1.3 .4 -1.2 .3 -5.1 .3 1.8 .4 4.8 .4 -.2 .3 .9 .3 -3 .4 -2.9 .4 -.4 .3 3.6 .3 .6 .4 1.6 .4 -5.7 .3 1.4 .3 2 .4 -1.7 .4 4.5 .3 1.4 .3 -3.6 .4 -.2 .4 -2.4 .3 4.6 .3 -7.6 .4 1.9 .4 7.6 .3 4.8 .3 -6.7 .4 -1.2 .4 -3.5 .3 1.9 .3 1.8 .4 -1.5 .4 .8 .3 4.1 .3 -4.5 .4 1.6 .4 2 .3 -5.9 .3 -1.3 .4 3.8 .4 3.2 .3 -4.4 .3 -1 .4 2.8 .4 -4 .3 -.6 .3 3.1 .4 -2.6 .4 3.6 .3 -3 .3 -2.4 .4 3.5 .4 1.9 .3 1 .3 -4.5 .4 .8 .4 .9 .3 -1.6 .3 6.8 .4 -2.9 .4 -1.1 .3 -1 .3 -.1 .4 3.1 .4 -4.1 .3 3 .3 1.2 .4 0 .4 -3.1 .3 -3.3 .3 4.1 .4 -1.6 .4 -2 .3 2.1 .3 2.4 .4 -1.4 .4 -.4 .3 3.1 .3 -.6 .4 2.2 .4 -1.1 .3 -2.9 .3 3.2 .4 -1.5 .4 1.8 .3 -.7 .3 -6 .4 2.4 .4 1.1 .3 -2.2 .3 3.8 .4 -1.1 .4 -2.5 .3 .7 .3 .9 .4 -1.6 .4 -3.2 .3 2.1 .3 4 .4 -3.2 .4 -2.4 .3 .4 .3 4.2 .4 0 .4 2.1 .3 -3.1 .3 -2.4 .4 1.9 .4 2.8 .3 1.2 .3 -.9 .4 -1.6 .4 -1.4 .3 3.3 .3 1.4 .4 -.8 .4 -2.6 .3 -2.1 .3 -1.4 .4 5.1 .4 2.5 .3 -4.3 .3 -2 .4 5 .4 -2.5 .3 -.4 .3 3.2 .4 -3.2 .4 -1.4 .3 3.3 .3 -7.1 .4 2.1 .4 7.6 .3 4.6 .3 -6.4 .4 -2.6 .4 -.7 .3 0 .3 -1.5 .4 1.3 .4 3.7 .3 -2.8 .3 1.8 .4 -5.2 .4 -2.7 .3 7.2 .3 .4 .4 .4 .4 -3.2 .3 -1.2 .3 5.4 .4 -2.1 .4 -1.7 .3 0 .3 1.7 .4 .7 .4 -2.7 .3 .9 .3 -.8 .4 -3.6 .4 3 .3 3.9 .3 6.9 .4 -7.1 .4 -1.4 .3 -2.6 .3 -.7 .4 3.7 .4 -1.1 .3 .7 .3 -2.6 .4 -1.1 .4 1.7 .3 .7 .3 0 .4 1.8 .4 -1 .3 -.1 .3 -3.9 .4 5.1 .4 -1.4 .3 1.5 .3 -1.7 .4 -.5 .4 2.9 .3 -.8 .3 -5.8 .4 1.8 .4 8.6 .3 -4.9 .3 -1.3 .4 -1.3 .4 -1.7 .3 8 .3 -4.2 .4 .6 .4 1.7 .3 -2.3 .3 -2.1 .4 1.6 .4 2.9 .3 -1.5 .3 -1.4 .4 3.7 .4 -1 .3 -.2 .3 -2.2 .4 -2.4 .4 -.1 .3 -2.6 .3 2.9 .4 2 .4 -2.6 .3 4.4 .3 -5.9 .4 1.5 .4 -2.3 .3 1.9 .3 2.3 .4 .6 .4 -1.4 .3 3.1 .3 -1.8 .4 -2.7 .4 6 .3 -1.4 .3 3.5 .4 -3.5 .4 -1.2 .3 .5 .3 -.8 .4 .4 .4 2.9 .3 -3.6 .3 -.6 .4 -.8 .4 2.8 .3 -1.7 .3 -.9 .4 .9 .4 -.2 .3 -3.1 .3 2.2 .4 6.4 .4 -5.6 .3 -.6 .3 .2 .4 .9 .4 -.1 .3 -1.7 .3 2.7 .4 1.6 .4 -3 .3 .8 .3 3.3 .4 -6.1 .4 5.5 .3 -3.1 .3 -.9 .4 3.6 .4 -.4 .3 -7.3 .3 5.3 .4 3.3 .4 -3.7 .3 -2.5 .3 5.5 .4 -3.9 .4 .3 .3 .1 .3 1.4 .4 4 .4 -4.8 .3 1.4 .3 1.1 .4 -7.8 .4 3.2 .3 2.9 .3 -5.7 .4 .9 .4 1.5 .3 -3.2 .3 5.7 .4 2.2 .4 -3.5 .3 .5 .3 4.6 .4 -6.3 .4 4.7 .3 1.4 .3 -2.3 .4 1.7 .4 -5.1 .3 5.5 .3 -1.7 .4 -4.1 .4 3.7 .3 3.9 .3 -3.4 .4 -1.8 .4 1.8 .3 5.4 .3 -5.4 .4 -1.3 .4 2.5 .3 -2.7 .3 1.3 .4 .2 .4 -1.6 .3 -3.5 .3 5.1 .4 -4.5 .4 -1.1 .3 -2 .3 4.2 .4 1.5 .4 2.3 .3 -1.5 .3 -.9 .4 .3 .4 -2.7 .3 -1.1 .3 1.6 .4 -1.6 .4 5 .3 -.2 .3 -2.6 .4 -3.4 .4 3.2 .3 -.6 .3 .2 .4 4.5 .4 -3.6 .3 3.1 .3 -1.9 .4 2.6 .4 -.7 .3 1.4 .3 4.9 .4 1.2 .4 -1.8 .3 -3 .3 .8 .4 -4.2 .4 1.2 .3 -1.7 .3 -2.9 .4 1.2 .4 -3.2 .3 -5.6 .3 -.7 .4 -.8 .4 1.9 .3 1.2 .3 3.1 .4 1 .4 5.7 .3 -1.2 .3 .7 .4 5.2 .4 8.6 .3 3.1 .3 .4 .4 .7 .4 -2.9 .3 -7.3 .3 -5.5 .4 -4.5 .4 .3 .3 -2.4 .3 -5.6 .4 -4.4 .4 -6.2 .3 -1.4 .3 -1.5 .4 3.6 .4 8 .3 4.9 .3 3.6 .4 2.8 .4 -1 .3 3.6 .3 7.9 .4 6.8 .4 2.8 .3 -.5 .3 -3.7 .4 -4.8 .4 -4.7 .3 -4.5 .3 .1 .4 -2.1 .4 -2.5 .3 -2.1 .3 -4.9 .4 -2.3 .4 -2.9 .3 .8 .3 5.3 .4 2.2 .4 4.2 .3 3.2 .3 2 .4 -1.8 .4 2.9 .3 1.8 .3 .9 .4 -2.3 .4 -1.7 .3 1.4 .3 -.3 .4 -3.8 .4 -2.5 .3 2.1 .3 .9 .4 -1 .4 -2.7 .3 -1.3 .3 -.8 .4 .9 .4 1.7 .3 3.1 .3 -4.3 .4 -2.1 .4 7.1 .3 .2 .3 1.6 .4 2 .4 -3.2 .3 -1.8 .3 -.7 .4 -.5 .4 -.4 .3 -.5 .3 2.3 .4 -7.1 .4 3.8 .3 5 .3 -3.3 .4 4.5 .4 0 .3 -4.3 .3 3.8 .4 -1.3 .4 -5.6 .3 5.3 .3 -.1 .4 -2.6 .4 1.6 .3 2.7 .3 -1.1 .4 -1.5 .4 -2.8 .3 -.1 .3 6.4 .4 -1.1 .4 1.2 .3 -5.4 .3 -2.7 .4 5.9 .4 2.7 .3 -1.6 .3 -3.1 .4 -.9 .4 1.4 .3 -2 .3 -.8 .4 2 .4 1.6 .3 -4.2 .3 -.4 .4 3 .4 3.1 .3 -7.6 .3 5.6 .4 1 .4 -2.2 .3 .5 .3 -1.2 .4 2.7 .4 -1.6 .3 -.5 .3 1.6 .4 -5 .4 3.4 .3 3.7 .3 -.4 .4 -.8 .4 -3.6 .3 1 .3 1.2 .4 -1.8 .4 5.3 .3 1 .3 -7.4 .4 .2 .4 .3 .3 4.2 .3 .8 .4 -2.9 .4 -.5 .3 .2 .3 -1.8 .4 .9 .4 1.2 .3 2.4 .3 -.3 .4 2.8 .4 -3.9 .3 -1.5 .3 -1.5 .4 -3.1 .4 5.9 .3 5.9 .3 -4.9 .4 -5.7 .4 4.1 .3 -1.7 .3 -.4 .4 -.9 .4 6.4 .3 2.4 .3 -12 .4 -1.3 .4 7.9 .3 -1.8 .3 4.9 .4 -4.2 .4 -1.9 .3 4.2 .3 -3.3 .4 3.3 .4 -1.8 .3 .8 .3 -.7 .4 -3.1 .4 2.5 .3 5.3 .3 -6.3 .4 4.6 .4 .5 .3 -4.6 .3 -2.5 .4 1.8 .4 3.3 .3 -6.1 .3 2.5 .4 5.7 .4 -5.8 .3 2.6 .3 -.4 .4 -4.4 .4 1.9 .3 2.8 .3 4.3 .4 -.7 .4 -1.7 .3 -.7 .3 .3 .4 -1 .4 -1.7 .3 2.9 .3 -2.8 .4 5.4 .4 -5.8 .3 -1.1 .3 -.6 .4 1.1 .4 5.1 .3 -3.1 .3 -1.1 .4 .3 .4 -3.4 .3 3 .3 2.1 .4 -4 .4 .7 .3 1.1 .3 -.2 .4 2.6 .4 .4 .3 -3.2 .3 2.1 .4 -1.8 .4 -.1 .3 3.3 .3 -3.4 .4 2 .4 .3 .3 -4.8 .3 2.5 .4 1 .4 0 .3 4.3 .3 .6 .4 -1.3 .4 -5.8 .3 3.6 .3 3.1 .4 -3.6 .4 4.3 .3 -1.6 .3 -4.1 .4 -.8 .4 -4.6 .3 4.8 .3 1.7 .4 -4.1 .4 2.2 .3 4 .3 -3 .4 -5.7 .4 2.9 .3 3.4 .3 .3 .4 .7 .4 3.6 .3 -4.7 .3 -2.1 .4 -3.3 .4 10.7 .3 -.2 .3 -2.9 .4 -1.4 .4 -.2 .3 -1.1 .3 -2.2 .4 1.8 .4 3.7 .3 -1.3 .3 -5.4 .4 3.7 .4 .1 .3 -.9 .3 1.7 .4 .3 .4 1.6 .3 -1 .3 -1.8 .4 -1.8 .4 3 .3 -2.7 .3 1.4 .4 -.3 .4 -.9 .3 4.9 .3 -1.2 .4 -1 .4 1 .3 -1.2 .3 -1.1 .4 -.9 .4 1.6 .3 -3.4 .3 1.4 .4 1.5 .4 -1.9 .3 1.2 .3 2.2 .4 .1 .4 -3.2 .3 1.8 .3 .4 .4 -2.1 .4 .7 .3 -2.3 .3 1.5 .4 1.5 .4 1.3 .3 -1.6 .3 .6 .4 .9 .4 -.8 .3 2.1 .3 -1.5 .4 1.9 .4 -2.8 .3 -1.5 .3 2.1 .4 -3.3 .4 -.5 .3 3.6 .3 2 .4 2.8 .4 -9.6 .3 4.2 .3 1 .4 2.3 .4 -5.2 .3 2.6 .3 2.7 .4 -1.1 .4 -5.6 .3 1.4 .3 4.1 .4 -2 .4 .4 .3 1.8 .3 .1 .4 -2.7 .4 -5.6 .3 6.5 .3 -.1 .4 -2.5 .4 -.8 .3 2.6 .3 3.3 .4 -5.4 .4 .7 .3 3 .3 .6 .4 -2.8 .4 3.9 .3 .7 .3 -3.2 .4 -2.9 .4 -.8 .3 3.7 .3 -1.3 .4 -1.3 .4 4.3 .3 -3.2 .3 2.1 .4 -6.4 .4 1.6 .3 1.5 .3 .8 .4 5.5 .4 -1.6 .3 -5.8 .3 1.4 .4 6.1 .4 -1.6 .3 -.3 .3 2.5 .4 -5.6 .4 .2 .3 5.4 .3 -2.9 .4 -2 .4 3 .3 -3.5 .3 -.4 .4 1.4 .4 -1.2 .3 2.2 .3 -3 .4 3.6 .4 2.7 .3 -6.9 .3 -6.1 .4 7.7 .4 -2.3 .3 1.3 .3 4.4 .4 -1.5 .4 -3 .3 1.2 .3 -5.5 .4 .8 .4 6.7 .3 2.1 .3 -6.7 .4 1.2 .4 -1.3 .3 1.3 .3 1.8 .4 2.2 .4 1.4 .3 -4.2 .3 -2 .4 .3 .4 4 .3 1.3 .3 -3.6 .4 2.3 .4 4.7 .3 3 .3 -.3 .4 -4.4 .4 .8 .3 -.5 .3 -.5 .4 -3.9 .4 -1.2 .3 -1.6 .3 -1.9 .4 -4 .4 -5.9 .3 -.1 .3 2.5 .4 -3 .4 9.3 .3 3.6 .3 1.6 .4 -.6 .4 2.6 .3 3.5 .3 7.4 .4 4.7 .4 .7 .3 1.5 .3 -4.9 .4 -4.3 .4 -8 .3 -1.1 .3 -2.7 .4 -1.3 .4 -4.7 .3 -4.5 .3 -5.2 .4 -2.5 .4 -2.5 .3 3.1 .3 6.2 .4 6.9 .4 6 .3 1.3 .3 -.1 .4 2.8 .4 6.2 .3 3 .3 1.9 .4 6.1 .4 -4.4 .3 -4.3 .3 -5.5 .4 -3.8 .4 -1.3 .3 .1 .3 -4.4 .4 -1.5 .4 -4.7 .3 -4 .3 -.7 .4 .1 .4 2.8 .3 .3 .3 8.3 .4 2.1 .4 -.3 .3 -1.4 .3 1.2 .4 7.1 .4 -.6 .3 -.9 .3 .3 .4 -3.2 .4 2.7 .3 1.8 .3 -8.8 .4 -.3 .4 -3 .3 3.9 .3 2.6 .4 -1.6 .4 -9 .3 5.4 .3 3.9 .4 -1.9 .4 1.5 .3 2.4 .3 -2.8 .4 1.5 .4 -3.3 .3 1.4 .3 1 .4 3.1 .4 -1.6 .3 -.2 .3 2.2 .4 .3 .4 -2.7 .3 -.9 .3 2.5 .4 -2.9 .4 1 .3 2.7 .3 -4.1 .4 1.1 .4 2.2 .3 -7 .3 5.9 .4 -3.5 .4 5.1 .3 -4.4 .3 -.4 .4 -1.4 .4 -2.3 .3 4.6 .3 1.8 .4 -4.1 .4 -.2 .3 2.9 .3 -2.4 .4 -.6 .4 .9 .3 1.8 .3 .1 .4 3.2 .4 -1.7 .3 -1.6 .3 -.1 .4 1.6 .4 3.8 .3 0 .3 -5.8 .4 1.4 .4 5.9 .3 -5.6 .3 .2 .4 -2.1 .4 1.6 .3 3.9 .3 -2.3 .4 -5.7 .4 3.3 .3 -1.3 .3 -.1 .4 3.4 .4 -1.9 .3 -4.4 .3 7.6 .4 -2 .4 -2.4 .3 -3.1 .3 4.2 .4 2.6 .4 -3.6 .3 4.4 .3 -5 .4 4.5 .4 1.1 .3 -1.1 .3 -1.6 .4 -3 .4 2.1 .3 0 .3 1.3 .4 -3 .4 -1.1 .3 -.4 .3 1.3 .4 5.2 .4 -1.8 .3 -2 .3 4.2 .4 -5.3 .4 .9 .3 -.4 .3 -.7 .4 .3 .4 5.4 .3 -3.3 .3 -1.4 .4 .7 .4 1.5 .3 -.8 .3 .5 .4 -1.5 .4 -.5 .3 1 .3 -3.8 .4 5.9 .4 -1.6 .3 2.2 .3 -.8 .4 -2 .4 -2.2 .3 2.3 .3 -.2 .4 4.8 .4 -4.9 .3 -.5 .3 1.9 .4 -5.6 .4 1.2 .3 .1 .3 5.2 .4 .6 .4 -5.2 .3 1.1 .3 5.4 .4 -5.6 .4 -.8 .3 4.4 .3 -1.4 .4 -1.6 .4 3.5 .3 1 .3 -3.1 .4 .5 .4 -1.2 .3 2.2 .3 .1 .4 -1 .4 -3 .3 .6 .3 .2 .4 .3 .4 1 .3 2.2 .3 .4 .4 -2 .4 .8 .3 -1.1 .3 -.7 .4 -.1 .4 -.9 .3 3 .3 -2.8 .4 -4.2 .4 2 .3 .5 .3 2.8 .4 1 .4 -.1 .3 1.3 .3 -2.4 .4 -1.5 .4 -2.8 .3 5.8 .3 -1.2 .4 .2 .4 -1.8 .3 1.6 .3 2.4 .4 -3.8 .4 5.4 .3 -3.9 .3 -1.6 .4 6.5 .4 -3 .3 -2.6 .3 0 .4 2.5 .4 -.8 .3 -.6 .3 2.9 .4 -1.5 .4 -2.4 .3 -.5 .3 2.1 .4 -1.2 .4 -3.5 .3 3.7 .3 1.1 .4 -3.8 .4 2.1 .3 -.6 .3 1.2 .4 2 .4 -2.7 .3 2 .3 -2.3 .4 -2.2 .4 .1 .3 .3 .3 1.1 .4 6.2 .4 -3.3 .3 -5 .3 5.4 .4 -2.6 .4 -1.2 .3 4 .3 -1.2 .4 2 .4 -1.2 .3 -2.6 .3 1.3 .4 -1.2 .4 -1.4 .3 3.6 .3 1.4 .4 -4.6 .4 1.1 .3 2.3 .3 -3.6 .4 -1.1 .4 4.5 .3 -2.5 .3 3.9 .4 -1.3 .4 -1.4 .3 -.3 .3 .8 .4 2 .4 -.1 .3 -.1 .3 .4 .4 -2.7 .4 -1.7 .3 -1 .3 .5 .4 4.6 .4 .5 .3 -2.5 .3 -1.6 .4 .6 .4 -1.2 .3 2.8 .3 -1.2 .4 2.2 .4 -2.3 .3 .8 .3 .9 .4 -6.4 .4 3.1 .3 1.5 .3 2.1 .4 -2.2 .4 3.4 .3 -3.9 .3 2.3 .4 .1 .4 -3.1 .3 -.4 .3 1.7 .4 -.3 .4 -1.8 .3 3.3 .3 .7 .4 -3.1 .4 2.4 .3 -3.2 .3 -.1 .4 1.8 .4 3.1 .3 -1.6 .3 -6.7 .4 2.4 .4 8.4 .3 4.7 .3 -6.6 .4 -.2 .4 -.8 .3 .6 .3 -2.7 .4 .3 .4 -.6 .3 3.4 .3 -4.7 .4 1.4 .4 -3.1 .3 4.9 .3 -1.4 .4 -1.1 .4 -2.1 .3 -.2 .3 2.1 .4 .9 .4 -.3 .3 3.4 .3 -.5 .4 -5.4 .4 3.2 .3 1.3 .3 -4.9 .4 5.5 .4 -1.8 .3 1.8 .3 -3 .4 1.1 .4 .6 .3 2 .3 -.3 .4 -4.9 .4 .5 .3 1.7 .3 .7 .4 1.2 .4 2.8 .3 -2.4 .3 -7.2 .4 3.8 .4 .9 .3 5.3 .3 -1.9 .4 -.8 .4 -2.2 .3 .3 .3 -1.7 .4 1.1 .4 1.2 .3 -.2 .3 -.8 .4 -2.7 .4 4.6 .3 -7.7 .3 3.1 .4 .4 .4 2 .3 1.3 .3 -.1 .4 -.3 .4 1.5 .3 -.5 .3 -2.1 .4 -1.7 .4 -.3 .3 5.9 .3 2 .4 -2.4 .4 -3.6 .3 -3.4 .3 4.4 .4 1.9 .4 .2 .3 -2.8 .3 2.3 .4 -6.6 .4 5 .3 2.5 .3 -3.1 .4 .9 .4 2.1 .3 2.4 .3 -3.2 .4 -2.2 .4 -2.2 .3 3 .3 .6 .4 -.7 .4 -.4 .3 -2.7 .3 1.7 .4 1 .4 -4.1 .3 1.5 .3 3.5 .4 -5.2 .4 3.5 .3 4.4 .3 -1 .4 -.6 .4 -4.1 .3 .2 .3 -.2 .4 5 .4 -1 .3 .1 .3 1.7 .4 -3.5 .4 -1.2 .3 3 .3 2.2 .4 -1.2 .4 -5.2 .3 3.3 .3 .5 .4 -3.3 .4 -2.8 .3 6 .3 -1.7 .4 -2.4 .4 -.7 .3 2.2 .3 2.7 .4 .2 .4 -2.7 .3 -2.2 .3 1.5 .4 4.7 .4 -1.1 .3 -4.8 .3 3.9 .4 2.8 .4 -2.4 .3 -.8 .3 .5 .4 -1.5 .4 -1.1 .3 -.1 .3 3.4 .4 -1.8 .4 -.1 .3 2.9 .3 -2.4 .4 -.6 .4 -1.3 .3 1.4 .3 .8 .4 .2 .4 .9 .3 1.2 .3 -5.6 .4 -.1 .4 -.7 .3 4.5 .3 1.3 .4 -2.5 .4 .3 .3 .8 .3 -1.7 .4 .1 .4 .8 .3 -3.2 .3 2.2 .4 4.7 .4 0 .3 .7 .3 -2.3 .4 -1.5 .4 -.5 .3 -2.1 .3 -.1" fill="none" stroke="#d5121c" stroke-width="0.9" stroke-linejoin="round"/>
<path d="M1585.2 78.6l.4 1.5 .3 2 .3 -1.3 .4 .9 .4 1 .3 1.5 .3 -1 .4 -.5 .4 .5 .3 -.5 .4 1.6 .3 -1.2 .4 -3.4 .3 -.3 .3 .2 .4 -2.4 .4 3.9 .3 1.7 .4 -3.8 .3 2.2 .4 -1.5 .3 4.4 .3 -1.5 .4 -.9 .4 3.1 .3 -.7 .3 -3.2 .4 -.1 .4 1.7 .3 .6 .4 -3.8 .3 1.7 .4 .8 .3 2.8 .3 -.3 .4 -.1 .4 -.2 .3 2.6 .4 1 .3 -2.5 .4 -3.3 .3 2.2 .3 -3.1 .4 1.5 .4 2.6 .3 -7.3 .3 -4.2 .4 5.8 .4 3.9 .3 -4.9 .4 -.5 .3 3 .4 -.2 .3 .1 .3 .4 .4 1.5 .4 .2 .3 1.7 .4 1.5 .3 -3.3 .4 .4 .3 -.1 .3 -1.6 .4 -.4 .4 2.7 .3 -.3 .3 -2.7 .4 5 .4 2.4 .3 -4.9 .4 .7 .3 -2 .4 .7 .3 .3 .3 1.8 .4 -3.3 .4 -.7 .3 1.5 .4 1.4 .3 -3.2 .4 -2.1 .3 4.3 .3 1 .4 1.1 .4 -5.7 .3 1.5 .3 1.5 .4 -.3 .4 -3.1 .3 -2.1 .4 4.6 .3 1.6 .4 -3.1 .3 1.4 .3 2.2 .4 1.6 .4 -3.2 .3 .6 .4 2.2 .3 -.4 .4 5 .3 -3.9 .3 -1.3 .4 -4 .4 -.1 .3 -.9 .3 2.6 .4 2.4 .4 -.8 .3 -8.2 .4 1.8 .3 5.2 .4 -.7 .3 2.3 .3 -3.1 .4 1 .4 4.7 .3 1.1 .4 1.4 .3 -3.5 .4 1 .3 .2 .3 -2.1 .4 .5 .4 -1.1 .3 -2.3 .3 5.1 .4 -5.8 .4 -.9 .3 2.3 .4 -2.4 .3 3.4 .4 .8 .3 -3.9 .3 -1.3 .4 -.4 .4 1.5 .3 .1 .4 -.8 .3 1.2 .4 2.3 .3 -2.2 .3 -1.4 .4 2 .4 .9 .3 -2 .3 4.5 .4 .7 .4 -2.7 .3 .4 .4 .7 .3 -1.4 .4 2.7 .3 -.4 .3 -.4 .4 .2 .4 -.2 .3 -1.5 .3 3.7 .4 -2.9 .4 .8 .3 1.6 .3 -2.2 .4 2 .4 -.9 .3 -1.5 .3 -3.3 .4 1.3 .4 -.3 .3 -.2 .3 -1.2 .4 -.3 .4 2.1 .3 .6 .3 -2.5 .4 2.6 .4 -.2 .3 1.6 .3 -1.7 .4 .1 .4 4.4 .3 -2.9 .3 1.3 .4 .5 .4 -.1 .3 -2.1 .3 -.7 .4 -1.2 .4 -1.5 .3 .7 .3 -2.9 .4 -.2 .4 3.6 .3 3.9 .3 -1.7 .4 1.6 .4 -.6 .3 1.9 .3 -1.8 .4 -.2 .4 -.2 .3 -2.2 .3 .6 .4 -.6 .4 -.9 .3 1 .3 .9 .4 -.8 .4 1.2 .3 2.8 .3 -1 .4 -.4 .4 -.9 .3 4 .3 -3.8 .4 -.7 .4 .9 .3 .2 .3 -2.2 .4 -1.6 .4 3.6 .3 0 .3 -6.1 .4 5.5 .4 -.6 .3 -1.6 .3 1.9 .4 -2.5 .4 3.2 .3 -.5 .3 -1 .4 -1.8 .4 2.5 .3 -1.1 .3 -2.6 .4 -.2 .4 4.7 .3 -.5 .3 -4.1 .4 0 .4 -.4 .3 3.6 .3 -.3 .4 .9 .4 .7 .3 .1 .3 -2.6 .4 2.6 .4 2.8 .3 -.4 .3 4.2 .4 .8 .4 -1 .3 -1.8 .3 1.6 .4 -3.6 .4 -1 .3 .5 .3 -1.2 .4 -5 .4 -6.1 .3 -1.1 .3 -2.7 .4 -1.5 .4 -.2 .3 4.4 .3 4.2 .4 4 .4 .9 .3 -.2 .3 4.7 .4 3.8 .4 5.8 .3 4.1 .3 -1.2 .4 -1.4 .4 -.3 .3 -7 .3 -4.7 .4 -1 .4 -.6 .3 -2.3 .3 -4 .4 -3.9 .4 -4.3 .3 -.5 .3 -.8 .4 1.7 .4 5.4 .3 4.4 .3 2.4 .4 -1.9 .4 3.3 .3 .7 .3 3.1 .4 3.1 .4 .6 .3 2.9 .3 -.7 .4 -2.9 .4 -4.9 .3 .5 .3 1.7 .4 -1 .4 -1 .3 -1.7 .3 -2.2 .4 -.7 .4 -.1 .3 -4.5 .3 4 .4 -1.5 .4 4.4 .3 3.5 .3 -4.1 .4 -1.9 .4 1.6 .3 -.1 .3 -1.9 .4 3.3 .4 4.2 .3 -5.2 .3 -4.1 .4 -2.1 .4 1.9 .3 3.3 .3 .3 .4 -2.1 .4 3.1 .3 2.2 .3 1.4 .4 -2.7 .4 -1.4 .3 4.2 .3 1.3 .4 -1.3 .4 1.9 .3 -3.4 .3 -.3 .4 1.3 .4 -3.5 .3 -.2 .3 1.4 .4 -1.7 .4 -2.1 .3 -1.4 .3 4 .4 -.2 .4 -2.4 .3 .4 .3 2.8 .4 -.5 .4 -3.6 .3 3.3 .3 -3.2 .4 4.2 .4 -2.9 .3 1 .3 4.2 .4 2.6 .4 -3.6 .3 .4 .3 -.9 .4 .8 .4 1.8 .3 -2.6 .3 -1.3 .4 -1.3 .4 .1 .3 .7 .3 -1.8 .4 2.6 .4 -.5 .3 1.3 .3 .5 .4 1.9 .4 -.5 .3 -4.6 .3 -2.6 .4 3.7 .4 .5 .3 -.1 .3 -2.4 .4 1.7 .4 .3 .3 -2.2 .3 1.6 .4 3.4 .4 -1.3 .3 -.8 .3 -1.7 .4 3.6 .4 -2.2 .3 -.9 .3 -.7 .4 -.8 .4 1.3 .3 -2 .3 6.7 .4 .1 .4 -1.9 .3 -2.3 .3 4.6 .4 3.4 .4 -3.5 .3 -1.2 .3 -.8 .4 -2.9 .4 -3.4 .3 2.1 .3 2 .4 -2.3 .4 2.3 .3 -.7 .3 .1 .4 -2.3 .4 1.8 .3 5.8 .3 -2.6 .4 -2.5 .4 6.6 .3 -2.9 .3 -7.6 .4 2.6 .4 0 .3 .9 .3 4.7 .4 -2.6 .4 .2 .3 -1.4 .3 -2 .4 -.3 .4 2.1 .3 1.5 .3 -.1 .4 2.5 .4 -2.7 .3 -1 .3 -1.4 .4 2.9 .4 3.1 .3 -1.6 .3 -1.6 .4 -.8 .4 .9 .3 -4.1 .3 -2 .4 6.1 .4 -1.4 .3 -.5 .3 -2 .4 2.6 .4 -.8 .3 -1.3 .3 3.3 .4 -2.8 .4 -.5 .3 1.8 .3 1.5 .4 5.2 .4 -4.9 .3 -4.2 .3 4.9 .4 1.4 .4 -1.7 .3 -3 .3 -.9 .4 .9 .4 3.5 .3 2.1 .3 -3 .4 -3.2 .4 1.8 .3 1.5 .3 -1 .4 -.6 .4 -.8 .3 1 .3 3.1 .4 -2.5 .4 -1.1 .3 1.3 .3 .3 .4 1.8 .4 0 .3 -.8 .3 -.7 .4 -.7 .4 .2 .3 -.4 .3 -3.2 .4 3.8 .4 -1.4 .3 -1.2 .3 .3 .4 -2.2 .4 .1 .3 3 .3 -1.6 .4 1.3 .4 1.7 .3 -2.9 .3 -1.7 .4 3.1 .4 1.3 .3 .2 .3 0 .4 -6.4 .4 6.6 .3 .9 .3 -3.2 .4 2.2 .4 -.1 .3 .7 .3 .8 .4 -3.7 .4 3.7 .3 -1.6 .3 4 .4 -4.8 .4 .3 .3 -.5 .3 -2.5 .4 -.1 .4 2.4 .3 -3.3 .3 1.6 .4 -.2 .4 -.9 .3 3.7 .3 -1.7 .4 1.3 .4 3.8 .3 -2.9 .3 -.8 .4 .8 .4 2.9 .3 -1.6 .3 -3.9 .4 -.8 .4 4.1 .3 -1.4 .3 2 .4 -.1 .4 -2.3 .3 -.9 .3 -1 .4 -3.9 .4 7.9 .3 -2.2 .3 -2.9 .4 -.4 .4 .7 .3 3.9 .3 -.4 .4 2.7 .4 -.4 .3 -4.6 .3 3 .4 -1.2 .4 -1.9 .3 1.7 .3 .8 .4 -3.6 .4 2.4 .3 -2.6 .3 -2.1 .4 .9 .4 3.5 .3 5 .3 -3.5 .4 1.4 .4 -2.3 .3 0 .3 1.5 .4 0 .4 1.5 .3 -.1 .3 -.9 .4 -4.9 .4 1.2 .3 -2.2 .3 2.2 .4 1.3 .4 -3 .3 3.2 .3 .7 .4 -1 .4 -1.2 .3 1.8 .3 -1.4 .4 3.1 .4 1.9 .3 -2.8 .3 -3.8 .4 .4 .4 4.2 .3 2.7 .3 -4.2 .4 4 .4 -.3 .3 -2.1 .3 -.3 .4 -1.1 .4 -.6 .3 -.2 .3 .2 .4 -.8 .4 1.4 .3 -1.9 .3 1 .4 -3.2 .4 -1.2 .3 5.4 .3 -1.2 .4 -.1 .4 2.4 .3 -7.1 .3 5 .4 1 .4 -2.3 .3 -1.6 .3 1 .4 .3 .4 2.7 .3 -2.2 .3 1.2 .4 -.8 .4 1.9 .3 -.3 .3 2.6 .4 -2.3 .4 .3 .3 1.3 .3 -2.2 .4 2.1 .4 -1.9 .3 2.6 .3 -.9 .4 -4.8 .4 4.4 .3 3 .3 -4.5 .4 -.2 .4 .7 .3 -.2 .3 -.5 .4 -.3 .4 .4 .3 3.4 .3 -1.6 .4 -.1 .4 -.1 .3 -8.1 .3 -.4 .4 3.6 .4 -1.3 .3 2.4 .3 1.9 .4 .3 .4 -1.4 .3 -.5 .3 1.6 .4 3 .4 1.2 .3 -1.8 .3 1 .4 -1.7 .4 3.4 .3 -2.4 .3 -3.8 .4 -1 .4 3.6 .3 -2 .3 -2.2 .4 -.3 .4 -1 .3 -1 .3 -1.9 .4 3.4 .4 .3 .3 4.7 .3 1.1 .4 -4.6 .4 -2 .3 4.1 .3 6.9 .4 1.2 .4 3.2 .3 .5 .3 -2.2 .4 -4 .4 0 .3 -1.9 .3 -3.3 .4 -2.6 .4 -.2 .3 -3.7 .3 -3.4 .4 -6 .4 -.7 .3 3 .3 .9 .4 5.8 .4 3.6 .3 3.2 .3 1.6 .4 .9 .4 1.4 .3 6.3 .3 4.5 .4 1.4 .4 2.8 .3 -2.7 .3 -6.1 .4 -4.6 .4 -5.1 .3 -1.4 .3 -.6 .4 -2.3 .4 -2.8 .3 -5.7 .3 -3.8 .4 .5 .4 .5 .3 1.8 .3 5.9 .4 4.6 .4 2.6 .3 .3 .3 -.5 .4 3.3 .4 4.3 .3 2.2 .3 0 .4 .4 .4 -2.1 .3 -2.3 .3 -2.1 .4 -2.5 .4 -.2 .3 1.2 .3 -.3 .4 -4.1 .4 -3.6 .3 4.3 .3 -2.1 .4 2 .4 -1.5 .3 2.9 .3 2.2 .4 -1 .4 -.9 .3 1.1 .3 -5 .4 -.2 .4 6.6 .3 .7 .3 1.4 .4 -1.7 .4 -2.8 .3 -2.4 .3 4.4 .4 -.9 .4 -1.9 .3 -.2 .3 -1.1 .4 .8 .4 3.3 .3 -3.6 .3 -1.2 .4 2.5 .4 -1.6 .3 -1.3 .3 4 .4 4.7 .4 -6.8 .3 -.2 .3 .5 .4 2.4 .4 -1.6 .3 2.3 .3 -2.3 .4 0 .4 1.1 .3 -1 .3 -2.2 .4 6.1 .4 -.2 .3 -1.1 .3 -1.3 .4 -.2 .4 -2.1 .3 1.3 .3 -.3 .4 -1.3 .4 .7 .3 -1.5 .3 1.8 .4 2.7 .4 -3.8 .3 .7 .3 1.6 .4 -1.6 .4 -.5 .3 .8 .3 1.4 .4 -2.2 .4 2.5 .3 .1 .3 .4 .4 -3 .4 1.8 .3 -1.7 .3 4.2 .4 -3.6 .4 1.6 .3 -.5 .3 -.6 .4 1.1 .4 -1.9 .3 .3 .3 .3 .4 .2 .4 -.1 .3 .6 .3 -2.7 .4 2.1 .4 .6 .3 -.3 .3 -.2 .4 .7 .4 .6 .3 -.6 .3 1.1 .4 .4 .4 -.2 .3 -3.9 .3 2.3 .4 -1.7 .4 2.7 .3 1.8 .3 -6.6 .4 .8 .4 4 .3 -.1 .3 1.4 .4 -5.7 .4 1.7 .3 3.3 .3 .3 .4 -3.3 .4 -.3 .3 .3 .3 -2.5 .4 1.1 .4 -.4 .3 2.1 .3 1.3 .4 2.9 .4 -1.9 .3 .5 .3 .3 .4 -2.1 .4 1.4 .3 .4 .3 1.2 .4 -3.2 .4 -.2 .3 -.1 .3 -.1 .4 1.1 .4 -1.5 .3 3.4 .3 -4 .4 .7 .4 2.3 .3 -.3 .3 -1.9 .4 -3 .4 2.7 .3 1.8 .3 -2.3 .4 .9 .4 .3 .3 2.4 .3 -3 .4 .6 .4 -.6 .3 -2.9 .3 1.2 .4 4.9 .4 -1.9 .3 -5.6 .3 5.1 .4 1.6 .4 -.9 .3 2 .3 3.3 .4 -2 .4 -2.6 .3 -1.7 .3 1 .4 -.4 .4 1.4 .3 -2.7 .3 -2.1 .4 -.1 .4 -.2 .3 3.4 .3 -1.2 .4 1.7 .4 1.5 .3 -2.3 .3 2.5 .4 -1.6 .4 -4.8 .3 5.9 .3 3 .4 -.4 .4 -.5 .3 -5.8 .3 -1.5 .4 5 .4 -3.9 .3 .3 .3 5.2 .4 -6.4 .4 1.9 .3 -.2 .3 2.6 .4 -4.8 .4 3.5 .3 .8 .3 -.8 .4 3.8 .4 -2.2 .3 .7 .3 -.6 .4 -.1 .4 -2.2 .3 .3 .3 1 .4 -1.6 .4 1.3 .3 .7 .3 -1.1 .4 -1.8 .4 1.7 .3 -.8 .3 1 .4 -.2 .4 -1.8 .3 4.6 .3 -4.1 .4 2.1 .4 2.1 .3 -.4 .3 -1.1 .4 2.3 .4 -1.5 .3 -.2 .3 -.7 .4 -2.8 .4 1.5 .3 .4 .3 2 .4 1.1 .4 -3.2 .3 -1.9 .3 2.8 .4 -1.6 .4 -1.8 .3 4.6 .3 -3.7 .4 1.9 .4 -2.4 .3 .5 .3 -.3 .4 .4 .4 1.5 .3 2.7 .3 -1.1 .4 -3.5 .4 .5 .3 -.3 .3 4.2 .4 -2.9 .4 -1.2 .3 .5 .3 .8 .4 -2.7 .4 5.5 .3 1.4 .3 -2.9 .4 .9 .4 -3 .3 2.6 .3 3.4 .4 -5.9 .4 .6 .3 .5 .3 3.2 .4 -1.5 .4 -1.1 .3 -.4 .3 .1 .4 -1.9 .4 .9 .3 1.1 .3 -.5 .4 -2.8 .4 4.4 .3 3.8 .3 -6.3 .4 1 .4 1.9 .3 -.9 .3 -3.6 .4 1.1 .4 .1 .3 2 .3 -1.3 .4 1.4 .4 .6 .3 -3.5 .3 1 .4 2.7 .4 -3.4 .3 -.6 .3 1.5 .4 1.2 .4 .4 .3 -1.1 .3 -2.1 .4 3.2 .4 2.6 .3 -2.2 .3 -1.2 .4 .5 .4 -1.3 .3 0 .3 1.9 .4 0 .4 -1.1 .3 .2 .3 1.8 .4 -3.2 .4 2.8 .3 1 .3 -5 .4 .8 .4 1.5 .3 3.1 .3 .2 .4 0 .4 -5 .3 2.4 .3 -.9 .4 .9 .4 2.9 .3 .6 .3 -5.2 .4 -.2 .4 0 .3 .1 .3 2.6 .4 0 .4 .9 .3 -3.2 .3 -.6 .4 .5 .4 -1.6 .3 6.7 .3 -2.6 .4 .3 .4 -3 .3 -1.4 .3 2.1 .4 -1.7 .4 .2 .3 4.3 .3 -2.6 .4 -1.7 .4 -.2 .3 -.6 .3 3.7 .4 .4 .4 .3 .3 -3.4 .3 2.9 .4 1 .4 -1.3 .3 -1 .3 .1 .4 4.3 .4 -1.6 .3 -.4 .3 -.3 .4 .6 .4 1.2 .3 -3.1 .3 -2.2 .4 1.5 .4 1.3 .3 -3 .3 2.9 .4 -.1 .4 .8 .3 -.6 .3 -.1 .4 -2.7 .4 .5 .3 -.9 .3 -.9 .4 -2.2 .4 -2.2 .3 6.8 .3 -4.7 .4 2.5 .4 5.2 .3 .1 .3 -1.1 .4 -1.1 .4 4 .3 1.7 .3 1.6 .4 3.2 .4 -1.6 .3 -.3 .3 -5 .4 -1.2 .4 -4.1 .3 -1.5 .3 1.6 .4 -1.3 .4 -4.3 .3 -6.2 .3 -1.3 .4 1 .4 2.1 .3 3 .3 5 .4 1.3 .4 2.9 .3 .4 .3 3 .4 4.3 .4 3.7 .3 3.3 .3 1.2 .4 -2.4 .4 -1.5 .3 -4.9 .3 -4.5 .4 -4.3 .4 .2 .3 -2.6 .3 -2.2 .4 -5.2 .4 -1.5 .3 -2.2 .3 -1.2 .4 3.6 .4 3.3 .3 4.8 .3 4.5 .4 2.4 .4 -1.6 .3 2 .3 1.9 .4 3.5 .4 1.1 .3 2.2 .3 -3.7 .4 -4.7 .4 -.6 .3 1.4 .3 -5.1 .4 -.6 .4 1 .3 -1.1 .3 -.2 .4 -1.3 .4 -1 .3 -1.6 .3 1.9 .4 .1 .4 1.7 .3 3 .3 -2.1 .4 -1.3 .4 1.4 .3 .6 .3 -.5 .4 -1.2 .4 5.5 .3 -1 .3 -4.4 .4 -1.6 .4 1.2 .3 1.7 .3 1.9 .4 -.8 .4 .5 .3 1.8 .3 1.1 .4 -1.2 .4 -2.4 .3 .6 .3 .5 .4 -1.6 .4 1.5 .3 .1 .3 -4.6 .4 1.2 .4 3.9 .3 -2.4 .3 -2.1 .4 -.9 .4 4.9 .3 -.4 .3 -2.8 .4 1 .4 1.6 .3 -.8 .3 -1.6 .4 -1.1 .4 1.2 .3 2.6 .3 .8 .4 -.5 .4 -3.9 .3 4.6 .3 .2 .4 -3.1 .4 1.3 .3 2.6 .3 -4.3 .4 -2.5 .4 2.3 .3 4.6 .3 -4.3 .4 2.5 .4 2.3 .3 -4.7 .3 -.9 .4 1.7 .4 1.2 .3 -2.5 .3 -.4 .4 -1.4 .4 .8 .3 2.9 .3 -2.2 .4 1.9 .4 3 .3 -3 .3 -1.5 .4 -.4 .4 2.2 .3 -.1 .3 5 .4 -4.1 .4 -3.4 .3 -2.6 .3 4.3 .4 3.3 .4 -1.3 .3 -2.5 .3 -.3 .4 3.9 .4 1.4 .3 -6.1 .3 1.3 .4 -.3 .4 -.7 .3 4.8 .3 -4 .4 -.2 .4 2.4 .3 -2 .3 -1.6 .4 3.5 .4 -4 .3 3.5 .3 1.7 .4 -.6 .4 -2.6 .3 -.4 .3 2.7 .4 0 .4 -4.7 .3 5.1 .3 -1.4 .4 -3.4 .4 -.8 .3 3.9 .3 -.5 .4 3.7 .4 -2.3 .3 -1 .3 -.3 .4 -.1 .4 2.4 .3 -1.1 .3 .6 .4 -2.6 .4 1.8 .3 -4.9 .3 1.9 .4 3.7 .4 -1 .3 -4 .3 .7 .4 8.5 .4 -4.8 .3 -4.3 .3 .9 .4 4.7 .4 -1.2 .3 2.5 .3 -1.5 .4 -1.9 .4 -5.1 .3 5.5 .3 .8 .4 .7 .4 -1.9 .3 -1.3 .3 -4.4 .4 2.2 .4 4.3 .3 .8 .3 -1.2 .4 2.1 .4 -2.5 .3 -3.1 .3 .4 .4 3.4 .4 .6 .3 -.5 .3 .1 .4 .7 .4 -.3 .3 -3.2 .3 .3 .4 4.4 .4 -1.6 .3 -3.5 .3 -.7 .4 .8 .4 3 .3 -3.4 .3 1.5 .4 2 .4 1.1 .3 -.9 .3 -.6 .4 .4 .4 -3.1 .3 3.1 .3 -2 .4 2.3 .4 -.5 .3 -.2 .3 -2.9 .4 .9 .4 1.5 .3 -.5 .3 1.6 .4 -3.8 .4 3.9 .3 .5 .3 -.1 .4 0 .4 -3.9 .3 1.4 .3 1.2 .4 -.3 .4 1.6 .3 -1.9 .3 -1.3 .4 .3 .4 .2 .3 .7 .3 1.6 .4 -.4 .4 1.6 .3 -.5 .3 -2.2 .4 -.6 .4 -1.8 .3 4.6 .3 -2.1 .4 -.7 .4 -.1 .3 1 .3 -.4 .4 .9 .4 .9 .3 -2.2 .3 -2.1 .4 1.5 .4 .9 .3 -1.9 .3 -.1 .4 .8 .4 1.8 .3 2.2 .3 -1.3 .4 -1.4 .4 .6 .3 2.8 .3 -3.8 .4 -.3 .4 3.8 .3 -1.7 .3 -.2 .4 0 .4 -2 .3 .5 .3 -.9 .4 2.7 .4 2.6 .3 -5 .3 2.7 .4 0 .4 -1.1 .3 -.3 .3 -1.4 .4 1.2 .4 -2.3 .3 4.4 .3 -.6 .4 -.8 .4 -4.6 .3 3.4 .3 0 .4 .6 .4 1.4 .3 -3.8 .3 -2.1 .4 2.3 .4 .6 .3 1.8 .3 .7 .4 .3 .4 .1 .3 -5.5 .3 3.9 .4 2.1 .4 .7 .3 -7.1 .3 3.3 .4 3.2 .4 3 .3 -5.6 .3 3.3 .4 -2.7 .4 .6 .3 1.2 .3 3.1 .4 -.5 .4 -2.7 .3 1.1 .3 -6 .4 2.9 .4 -.1 .3 -2 .3 1.7 .4 -1.2 .4 -1.7 .3 2.7 .3 -.2 .4 2.9 .4 -1 .3 -.7 .3 -1.3 .4 2 .4 -2.2 .3 1.1 .3 -1.2 .4 3 .4 -4.8 .3 1.8 .3 -1.9 .4 7 .4 .2 .3 -5.9 .3 .5 .4 4.5 .4 1.6 .3 -6.4 .3 0 .4 4.3 .4 1 .3 -6.2 .3 2.7 .4 3 .4 -4.6 .3 -1.8 .3 3.3 .4 1 .4 2.1 .3 -2.6 .3 1.9 .4 -1.1 .4 1.7 .3 -.4 .3 -.4 .4 -2 .4 -.9 .3 .1 .3 .8 .4 -.6 .4 -.6 .3 -.4 .3 .2 .4 -.1 .4 -1.4 .3 2.3 .3 -.1 .4 -2.7 .4 2.6 .3 4.2 .3 -1.9 .4 .8 .4 -2.3 .3 -2.9 .3 3.4 .4 1 .4 -.1 .3 -.7 .3 -2.2 .4 2.7 .4 -1.7 .3 -.3 .3 1.5 .4 -.8 .4 -.3 .3 .2 .3 1.6 .4 -1.6 .4 -1.2 .3 2.9 .3 -2.5 .4 1.4 .4 -.7 .3 3.3 .3 -3.6 .4 1.9 .4 1.6 .3 -2.6 .3 -.2 .4 -.4 .4 .2 .3 1.7 .3 -1.1 .4 .5 .4 .3 .3 -2.4 .3 1.4 .4 -4.1 .4 3.1 .3 -.3 .3 1.3 .4 2.1 .4 -3 .3 -2.4 .3 3.5 .4 .3 .4 -.3 .3 1 .3 -.5 .4 1.6 .4 -4.9 .3 2.7 .3 0 .4 -3.3 .4 1.2 .3 0 .3 -.5 .4 3.1 .4 .5 .3 -5.2 .3 2.2 .4 -1 .4 1 .3 3.3 .3 -.7 .4 1.8 .4 -3.8 .3 4.1 .3 -.9 .4 2.2 .4 .2 .3 -3 .3 -1.4 .4 2 .4 -4.4 .3 .1 .3 2.5 .4 -1.4 .4 .9 .3 2.4 .3 -.9 .4 -1.2 .4 -2.1 .3 1.7 .3 2.6 .4 -.4 .4 -2.3 .3 .9 .3 1.8 .4 -2.7 .4 -1.8 .3 -.4 .3 1.2 .4 -1.1 .4 -.7 .3 2.4 .3 -.2 .4 -.3 .4 -.5 .3 -.1 .3 -.1 .4 2.2 .4 2.3 .3 -2.2 .3 2.7 .4 -1.6 .4 -4.1 .3 3 .3 1 .4 -2.6 .4 3.3 .3 -3.8 .3 .4 .4 3.8 .4 -1.3 .3 -.5 .3 3.2" fill="none" stroke="#d5121c" stroke-width="0.9" stroke-linejoin="round"/>
<path d="M1585.2 106.4l.4 -3.5 .3 1.4 .3 2.9 .4 8.5 .4 -13.1 .3 3.9 .3 .2 .4 1.9 .4 .9 .3 -1.6 .4 2.3 .3 -.5 .4 -8.6 .3 3.6 .3 6.9 .4 -.9 .4 -2.8 .3 -.2 .4 -8.8 .3 2.3 .4 8.6 .3 7.2 .3 -9.9 .4 .1 .4 -3.1 .3 4.2 .3 -.3 .4 6.2 .4 -7.7 .3 -3.6 .4 6.2 .3 3.8 .4 -6.4 .3 3.5 .3 -.1 .4 -8.5 .4 1.3 .3 -1.4 .4 6.1 .3 .6 .4 .1 .3 1.5 .3 -5.7 .4 2.6 .4 -4.2 .3 9.6 .3 -2.7 .4 -1.8 .4 -2.1 .3 1.4 .4 6 .3 -2 .4 -6.6 .3 2.4 .3 1.5 .4 -2.8 .4 1.8 .3 -4.7 .4 7.6 .3 -.3 .4 -.8 .3 -2.8 .3 -1.8 .4 1.2 .4 5.9 .3 -5.1 .3 4.7 .4 .7 .4 -2.5 .3 -.8 .4 -2.4 .3 2.6 .4 -2.6 .3 4.8 .3 -1.7 .4 -2.3 .4 -3.6 .3 1.5 .4 -5.8 .3 7.3 .4 .4 .3 -1.2 .3 -2.2 .4 6.6 .4 -1.5 .3 2 .3 -7.7 .4 2.6 .4 9.5 .3 -7.1 .4 -3 .3 9.7 .4 -2.4 .3 -5.8 .3 4.2 .4 -.3 .4 1.4 .3 -.9 .4 -5.6 .3 .3 .4 .2 .3 -1.2 .3 7.8 .4 2.4 .4 -6.2 .3 -6 .3 1.5 .4 .4 .4 4.5 .3 2.4 .4 -6.7 .3 -3.8 .4 7.5 .3 -1.8 .3 -3.6 .4 7.9 .4 -2 .3 -7.2 .4 8 .3 1.8 .4 -4.3 .3 -.8 .3 -2.9 .4 3.6 .4 -.9 .3 2.6 .3 6 .4 -7 .4 -5.3 .3 5.5 .4 -.8 .3 1.3 .4 4.5 .3 -8 .3 5.1 .4 3.5 .4 -3.7 .3 -1.6 .4 2.4 .3 -5.4 .4 3.2 .3 .7 .3 4.8 .4 -8.8 .4 -2.2 .3 2.7 .3 1.3 .4 3.8 .4 .6 .3 -1.6 .4 -7.8 .3 10.5 .4 -6.5 .3 -2 .3 .9 .4 4.1 .4 -4.6 .3 -3.3 .3 6.3 .4 3.4 .4 .6 .3 -8.7 .3 7.6 .4 1.7 .4 -7.8 .3 3.7 .3 2.5 .4 3.4 .4 -8.6 .3 -4.7 .3 4.5 .4 2.5 .4 1.3 .3 5.3 .3 -5.9 .4 3.4 .4 -10.5 .3 8.1 .3 -2.5 .4 .8 .4 1.8 .3 -1.7 .3 3 .4 -9.7 .4 5.5 .3 3.3 .3 -.9 .4 3 .4 -5 .3 -1.1 .3 -2.1 .4 7 .4 3 .3 -2.9 .3 -3.7 .4 -.5 .4 1.4 .3 -7.7 .3 8.1 .4 3 .4 -5 .3 1.1 .3 -1 .4 6 .4 1.9 .3 -.8 .3 -9.2 .4 -.7 .4 10.1 .3 -4.2 .3 -2 .4 -.2 .4 -2.2 .3 -6.2 .3 6.8 .4 3.4 .4 -5.5 .3 0 .3 7.3 .4 4.2 .4 -9.2 .3 -1 .3 0 .4 1.8 .4 3.7 .3 -4.6 .3 -.5 .4 5.1 .4 -1.3 .3 -1.9 .3 .5 .4 2.9 .4 3 .3 -2.7 .3 -1.4 .4 4.9 .4 -12.4 .3 4.8 .3 8.6 .4 -11.2 .4 1.6 .3 -1.9 .3 .5 .4 .2 .4 1.5 .3 .2 .3 2.2 .4 -8.2 .4 10.5 .3 -.7 .3 -4.5 .4 1.4 .4 -.9 .3 2.5 .3 5.1 .4 -1.5 .4 -8.9 .3 5.7 .3 2.7 .4 -2 .4 -2.4 .3 -5.4 .3 .4 .4 12.1 .4 -3 .3 -4.5 .3 3.2 .4 -4.2 .4 -1.7 .3 2.2 .3 3.2 .4 1.6 .4 2.5 .3 -1.6 .3 -4.4 .4 -2.4 .4 3.3 .3 .4 .3 3.6 .4 -.4 .4 -5.7 .3 2.8 .3 -4.2 .4 1.6 .4 -1.7 .3 -1.7 .3 3.5 .4 -3 .4 4.7 .3 -4.8 .3 2.8 .4 -5 .4 5.5 .3 2.6 .3 2 .4 -5.8 .4 -6.1 .3 5 .3 -6.8 .4 11.7 .4 1.3 .3 -2.3 .3 -4.1 .4 -1 .4 3 .3 9.6 .3 -2 .4 -8.8 .4 4 .3 -1.3 .3 4.8 .4 -.2 .4 -3.5 .3 2.9 .3 -1.8 .4 5.2 .4 -2.3 .3 -3.3 .3 .2 .4 -1.5 .4 2.6 .3 1.9 .3 -1.9 .4 -7 .4 7.3 .3 -6.7 .3 2.3 .4 2.8 .4 -5.8 .3 2.4 .3 2.2 .4 -6.2 .4 -3 .3 5.2 .3 -2.8 .4 2.9 .4 2.6 .3 -6.5 .3 -3.1 .4 10.5 .4 -4.1 .3 -1.5 .3 1 .4 4.1 .4 -1.5 .3 -.9 .3 4.7 .4 -6.1 .4 7.2 .3 2.6 .3 -2.2 .4 4.4 .4 -5.4 .3 -1.5 .3 3.9 .4 -3.6 .4 3.2 .3 -.6 .3 -.6 .4 -3.4 .4 1 .3 0 .3 .7 .4 0 .4 .6 .3 .8 .3 -3.2 .4 4.7 .4 -.1 .3 -5.1 .3 -2.1 .4 -4.5 .4 0 .3 5.9 .3 -.8 .4 4.5 .4 -4.6 .3 -7.5 .3 7.4 .4 3.9 .4 4.2 .3 -4.5 .3 4.6 .4 -5.4 .4 -4.8 .3 -2.1 .3 3 .4 1.8 .4 3.7 .3 -5.5 .3 1.6 .4 -1.9 .4 1.6 .3 4 .3 -1 .4 -.4 .4 3.8 .3 -5.9 .3 -5 .4 6 .4 8.5 .3 -7 .3 -7 .4 4.5 .4 -3.8 .3 7.3 .3 .6 .4 1.2 .4 -7.1 .3 3.5 .3 -1.4 .4 2.5 .4 1.7 .3 .7 .3 -4.1 .4 -.3 .4 1.2 .3 2.3 .3 -2.2 .4 5.2 .4 1.3 .3 -3.6 .3 -6 .4 2.5 .4 3.7 .3 .1 .3 0 .4 -2.3 .4 -6.7 .3 -.1 .3 8.6 .4 -4.9 .4 .2 .3 -1.5 .3 5.3 .4 2.3 .4 -6 .3 -5 .3 4.7 .4 -3 .4 -1.9 .3 8 .3 .1 .4 -2.3 .4 2.2 .3 -8.3 .3 .2 .4 7.7 .4 -7.8 .3 1.2 .3 0 .4 2.5 .4 -.5 .3 -1.6 .3 7.9 .4 -2.3 .4 3.9 .3 2.8 .3 -7.1 .4 6 .4 -1.5 .3 2.4 .3 1.1 .4 -2.7 .4 -6.6 .3 .9 .3 5.2 .4 -2.8 .4 2.1 .3 -2.4 .3 .2 .4 -3.3 .4 -1.3 .3 5.1 .3 1.3 .4 -.9 .4 -4.3 .3 -2.1 .3 -6.9 .4 4.9 .4 11 .3 -9.5 .3 1.6 .4 15.4 .4 13 .3 -18.2 .3 -7.7 .4 .7 .4 -1 .3 -2.7 .3 .4 .4 .2 .4 6.3 .3 -9.5 .3 .8 .4 4.2 .4 -1.5 .3 6.8 .3 -7.4 .4 6.6 .4 2.5 .3 -8.1 .3 2.9 .4 -2.9 .4 7.7 .3 -5.3 .3 -4.8 .4 -.6 .4 -1.9 .3 8.3 .3 1.8 .4 0 .4 -9.5 .3 6.2 .3 -1.9 .4 -1 .4 6.2 .3 -.6 .3 -1.3 .4 -1.7 .4 1.5 .3 -1.7 .3 -.1 .4 -.4 .4 6.5 .3 2.1 .3 -4.2 .4 -.1 .4 -8.4 .3 1.9 .3 7.7 .4 -4 .4 -1.5 .3 3.1 .3 1.9 .4 -7.2 .4 1.1 .3 3.8 .3 -5.5 .4 0 .4 2.4 .3 2.7 .3 -3.5 .4 -3.5 .4 -2.7 .3 2.9 .3 2.1 .4 4.8 .4 -.3 .3 -2 .3 -1.9 .4 .7 .4 -1.1 .3 8.6 .3 -.2 .4 -6.3 .4 1.1 .3 1 .3 -2 .4 -4.4 .4 4.1 .3 5.5 .3 -1.4 .4 -2.3 .4 1.1 .3 -5.5 .3 .6 .4 3.1 .4 .2 .3 7.8 .3 -2.5 .4 -5.6 .4 -3.9 .3 1.5 .3 .5 .4 5.9 .4 2.7 .3 -6 .3 -5.2 .4 6.4 .4 -1.1 .3 -5.8 .3 12 .4 -3.5 .4 -4.6 .3 2 .3 -3 .4 3.4 .4 -4.4 .3 -.3 .3 2.8 .4 2.5 .4 -4.2 .3 -4.1 .3 8.2 .4 -.4 .4 -1.7 .3 .3 .3 -5.9 .4 7.5 .4 -2.5 .3 -2 .3 2.2 .4 -3.4 .4 8 .3 -.3 .3 -8.3 .4 1.5 .4 5.1 .3 -1.6 .3 2.3 .4 -1.1 .4 -1.1 .3 3.8 .3 -3.6 .4 -1.3 .4 .6 .3 4.9 .3 1.6 .4 -5.1 .4 -1.8 .3 -2.8 .3 6.9 .4 -1.5 .4 -8.2 .3 7.2 .3 -3.7 .4 .3 .4 5.8 .3 -7.5 .3 3.8 .4 1.2 .4 -1.2 .3 -2.4 .3 -.7 .4 1.8 .4 -.3 .3 -3 .3 2.1 .4 8.3 .4 -10.9 .3 2.4 .3 .6 .4 -.4 .4 4.4 .3 4.7 .3 -.3 .4 -1.3 .4 1.4 .3 -8.2 .3 6.2 .4 1.7 .4 -3.1 .3 .1 .3 -.6 .4 -7.9 .4 5.4 .3 6.4 .3 -2.4 .4 -8.7 .4 -.4 .3 3.9 .3 -2.7 .4 4.6 .4 -1.6 .3 3.4 .3 -9 .4 -1.4 .4 6.8 .3 3.9 .3 -2 .4 .4 .4 -10.6 .3 7.8 .3 .9 .4 -.9 .4 8.5 .3 -5.1 .3 -8.7 .4 7.6 .4 1.7 .3 -6.6 .3 5 .4 1.1 .4 .8 .3 .6 .3 -3.6 .4 -2.3 .4 .5 .3 5.4 .3 2.3 .4 -1.5 .4 -1.5 .3 -1.2 .3 3.3 .4 -2.6 .4 -.1 .3 .6 .3 -2.8 .4 .7 .4 -4.9 .3 2.3 .3 7.5 .4 -1 .4 -4 .3 -2.7 .3 8.9 .4 -7.7 .4 -8.8 .3 10.4 .3 -2.9 .4 .7 .4 2.2 .3 5.6 .3 -7.2 .4 2 .4 1.2 .3 -4.1 .3 3.1 .4 -5 .4 -2.7 .3 4 .3 -.2 .4 -.2 .4 4.8 .3 -7.5 .3 -1.5 .4 7.7 .4 2.3 .3 -.5 .3 -4.5 .4 -.6 .4 2.5 .3 1.4 .3 1.8 .4 -4 .4 5.8 .3 -3.5 .3 -.8 .4 5.9 .4 3.6 .3 -3.3 .3 -7.4 .4 -.4 .4 3.4 .3 5.7 .3 -3.8 .4 -6.6 .4 3.6 .3 1.6 .3 -3.6 .4 1.2 .4 -4.2 .3 5.9 .3 -4.8 .4 .8 .4 2 .3 -3 .3 -.1 .4 4.6 .4 1.2 .3 -1.2 .3 -3.8 .4 2.2 .4 .5 .3 -7.2 .3 10 .4 -3.9 .4 -1.7 .3 1.8 .3 -3.4 .4 -1.1 .4 6.1 .3 1 .3 -5 .4 -3 .4 -.1 .3 8.2 .3 -3.9 .4 4.9 .4 5.2 .3 -5.1 .3 -.1 .4 1 .4 -2 .3 8.3 .3 -8.5 .4 -6.1 .4 7.6 .3 -4.1 .3 -2.7 .4 7.8 .4 -4 .3 1.5 .3 -3.9 .4 2.9 .4 -4.6 .3 1.5 .3 -1.5 .4 3.7 .4 -4.3 .3 13.3 .3 -6.8 .4 -7 .4 4.6 .3 -9.5 .3 6.9 .4 14.2 .4 -7.3 .3 -2.7 .3 1.5 .4 -3.1 .4 -.8 .3 -1.8 .3 8.1 .4 -1.6 .4 -1.5 .3 -12.2 .3 4.5 .4 6.6 .4 4.4 .3 -5.9 .3 -1.7 .4 5.8 .4 -5 .3 .2 .3 2 .4 .8 .4 -.6 .3 -.1 .3 -9.7 .4 7 .4 2.2 .3 .6 .3 -.5 .4 1.4 .4 -.8 .3 -1.2 .3 5.9 .4 -3.4 .4 -3 .3 -2.3 .3 1.3 .4 2.9 .4 .8 .3 -6.5 .3 3.1 .4 1.3 .4 1.8 .3 -3.7 .3 2.7 .4 -9.4 .4 3.1 .3 10.1 .3 -5.5 .4 3 .4 -.5 .3 2.9 .3 3.2 .4 -7.4 .4 -5.3 .3 8.6 .3 3.5 .4 -11.4 .4 4.6 .3 3.7 .3 -3.8 .4 1.4 .4 1.6 .3 -8.3 .3 7.6 .4 .3 .4 -3.8 .3 .4 .3 .7 .4 -8.9 .4 6.1 .3 5.4 .3 -1.2 .4 -1.4 .4 -2.7 .3 5.8 .3 -3.4 .4 .6 .4 -1.9 .3 -1.6 .3 3.7 .4 -1.2 .4 -1.3 .3 1.7 .3 1.2 .4 .3 .4 -5 .3 .8 .3 3.2 .4 3.9 .4 -10.8 .3 9.1 .3 -.8 .4 -1.8 .4 -2.8 .3 6.4 .3 -3.2 .4 -1 .4 2 .3 .1 .3 6.2 .4 -8.8 .4 -3.4 .3 9 .3 -4.9 .4 3.8 .4 -.6 .3 -3.9 .3 -.5 .4 -2.5 .4 3.9 .3 -.2 .3 8.1 .4 -9.8 .4 2.2 .3 7.2 .3 -6.5 .4 1.4 .4 .3 .3 -7 .3 .3 .4 4.3 .4 6.9 .3 -5 .3 -5 .4 -3.6 .4 2.5 .3 .8 .3 5.7 .4 -.1 .4 -10.2 .3 1.8 .3 7.7 .4 3 .4 -1.4 .3 .3 .3 -3.3 .4 1 .4 -.8 .3 -4 .3 4.8 .4 -.9 .4 3.6 .3 -5.6 .3 -2.3 .4 3.9 .4 4.3 .3 .8 .3 -5.8 .4 0 .4 -4.3 .3 2.4 .3 5 .4 -1.4 .4 .1 .3 -1.3 .3 .7 .4 -8.6 .4 15.9 .3 -5.7 .3 -2.2 .4 -.4 .4 3.1 .3 -.4 .3 -2.7 .4 2.4 .4 .3 .3 -2.3 .3 -2.7 .4 4.7 .4 3.5 .3 1.8 .3 -6.4 .4 -2.5 .4 3 .3 1 .3 -1.2 .4 -1.2 .4 -.6 .3 -4 .3 4.7 .4 1.5 .4 -7.8 .3 -8.4 .3 6 .4 14 .4 5 .3 -7 .3 -7.1 .4 4.1 .4 .6 .3 -.6 .3 -2.1 .4 7 .4 -8.4 .3 3 .3 1.6 .4 -2.7 .4 4.8 .3 0 .3 2.7 .4 -11.4 .4 -1.9 .3 11.2 .3 -6 .4 1.8 .4 1.4 .3 2.3 .3 -3.4 .4 5 .4 -2.6 .3 -1.4 .3 -5.4 .4 8.6 .4 1.6 .3 -.4 .3 -3.2 .4 -8 .4 2 .3 8.9 .3 -2.9 .4 -2.8 .4 -.6 .3 -1.1 .3 1.5 .4 1 .4 -1.9 .3 -5.9 .3 4.4 .4 6 .4 -4.8 .3 2 .3 1.7 .4 -8.5 .4 9.3 .3 -1.4 .3 0 .4 .8 .4 2 .3 -5.2 .3 -.8 .4 4.7 .4 -11.3 .3 10 .3 3.3 .4 -3 .4 -.4 .3 -3.8 .3 -2.5 .4 3.6 .4 4.4 .3 1.5 .3 -2 .4 -1.6 .4 2.9 .3 -4 .3 2.8 .4 .2 .4 -4.6 .3 4 .3 -1.5 .4 2.3 .4 -2.9 .3 1.9 .3 -4 .4 1.1 .4 -.6 .3 .4 .3 2 .4 -7.6 .4 -1.3 .3 8.9 .3 -1.9 .4 4.2 .4 2.3 .3 -12.4 .3 6.5 .4 3.2 .4 -4.7 .3 10.9 .3 -8.2 .4 -5.4 .4 4.4 .3 5.6 .3 -5.4 .4 -6.9 .4 7 .3 -.2 .3 -.8 .4 4.4 .4 1.8 .3 -7.4 .3 -1.5 .4 2.5 .4 3.1 .3 2.1 .3 .9 .4 -2.8 .4 -1.6 .3 -1.9 .3 -1.3 .4 4 .4 -1.7 .3 -1 .3 9.7 .4 -1.7 .4 -10.2 .3 -4.5 .3 7.7 .4 2.4 .4 -1.6 .3 -2.6 .3 4.3 .4 -2.4 .4 -4.9 .3 4.2 .3 -1.5 .4 .2 .4 -.4 .3 5.5 .3 -5.7 .4 3.6 .4 -1.1 .3 -1.8 .3 5.2 .4 3.4 .4 -9.1 .3 2.4 .3 .1 .4 -2.7 .4 6.2 .3 -2.7 .3 .1 .4 -2.9 .4 2.5 .3 8.6 .3 -8.2 .4 -.6 .4 -.8 .3 2.3 .3 .2 .4 -2 .4 2.7 .3 -4.3 .3 4.1 .4 1.8 .4 -3.8 .3 -3.4 .3 -1.4 .4 4.2 .4 -.2 .3 -1.5 .3 -2.4 .4 8.3 .4 -5.7 .3 2.1 .3 2.3 .4 -1.8 .4 .3 .3 -6.2 .3 2 .4 7.7 .4 -5.9 .3 1.1 .3 -.2 .4 -2.1 .4 3.6 .3 -1.3 .3 -.4 .4 -2.4 .4 4.4 .3 -3.6 .3 7 .4 -2.8 .4 -4.3 .3 5.4 .3 1.4 .4 -7.9 .4 4.9 .3 -4 .3 8.7 .4 -1.2 .4 -3 .3 .9 .3 -.2 .4 -7.1 .4 5 .3 -5.7 .3 6 .4 .4 .4 -11.5 .3 4.8 .3 6.9 .4 2.7 .4 -5.5 .3 -2.9 .3 7.6 .4 -1.1 .4 -3.5 .3 1.3 .3 3.7 .4 -5.5 .4 -1.7 .3 1.9 .3 -.8 .4 1.4 .4 4.9 .3 -5.5 .3 .6 .4 -1.4 .4 10.1 .3 -5.5 .3 -.5 .4 -.8 .4 5.7 .3 -4.1 .3 -1.6 .4 1.1 .4 -4.8 .3 2.8 .3 -3 .4 4.4 .4 -6.8 .3 -1.7 .3 10.5 .4 -2.2 .4 -.4 .3 2.7 .3 -5 .4 -.5 .4 -1.4 .3 -.1 .3 4.6 .4 -3.5 .4 1.2 .3 7.1 .3 -7.9 .4 -3.1 .4 11.4 .3 -2.2 .3 -3.3 .4 .2 .4 -.3 .3 -2.6 .3 -4.4 .4 .7 .4 1.4 .3 8.7 .3 -.9 .4 -1.4 .4 -.3 .3 1.2 .3 -.8 .4 -.2 .4 -6.2 .3 8.5 .3 -6 .4 1.8 .4 -1.1 .3 -3.2 .3 3.5 .4 .7 .4 -8.8 .3 8.4 .3 -.1 .4 5.5 .4 -7.4 .3 3.3 .3 2.7 .4 -4.3 .4 2.9 .3 5.3 .3 -9.6 .4 -2.6 .4 10.4 .3 -1.1 .3 -5.5 .4 .7 .4 -4 .3 9.7 .3 -5.8 .4 -2.6 .4 3.3 .3 -11.5 .3 5.7 .4 8.5 .4 -4.8 .3 2.1 .3 -2.4 .4 3.8 .4 3.7 .3 -2.8 .3 -5.3 .4 -2 .4 7.5 .3 3.2 .3 -3.1 .4 -6.3 .4 2 .3 4.1 .3 -9.5 .4 6.9 .4 -4.3 .3 1 .3 1.2 .4 8.3 .4 6.5 .3 -9.1 .3 -1.3 .4 -2.2 .4 .9 .3 1.4 .3 1.5 .4 -3.6 .4 1.1 .3 -4.9 .3 1.4 .4 -2.1 .4 7.7 .3 5.3 .3 -9.8 .4 -4.1 .4 4 .3 -4.3 .3 5.6 .4 -1.4 .4 0 .3 0 .3 2.2 .4 2.9 .4 -3.9 .3 .7 .3 3.3 .4 -5.6 .4 1.1 .3 1.2 .3 -6 .4 7.8 .4 6.2 .3 -7.1 .3 -1.3 .4 .7 .4 2.7 .3 -5.4 .3 -7.1 .4 11.5 .4 -2 .3 -3.5 .3 -3.3 .4 1.9 .4 .3 .3 .3 .3 1 .4 .7 .4 1.7 .3 -6.3 .3 4.8 .4 1.3 .4 2.6 .3 -1.6 .3 -3.2 .4 -1.8 .4 7.5 .3 -4.6 .3 3.9 .4 -4 .4 3.5 .3 4.7 .3 -9.1 .4 3.6 .4 4.2 .3 1.2 .3 -3.9 .4 -2.8 .4 .8 .3 4.6 .3 1 .4 -3.6 .4 -1.1 .3 -3.7 .3 -1.5 .4 4.1 .4 -.9 .3 .6 .3 -5.5 .4 -.9 .4 5.5 .3 -5.9 .3 3.8 .4 .1 .4 -.6 .3 2.5 .3 1.6 .4 2.8 .4 -8.1 .3 6.1 .3 0 .4 -4.2 .4 1.6 .3 3.1 .3 -6.4 .4 2.1 .4 3.5 .3 0 .3 -3.6 .4 2.5 .4 -1.4 .3 7.8 .3 -8 .4 .1 .4 5 .3 -1.8 .3 -4.6 .4 -1.7 .4 8.7 .3 -3.5 .3 -3.4 .4 .5 .4 2.7 .3 3.5 .3 -1.7 .4 .4 .4 -7.9 .3 4.9 .3 -3.3 .4 5.2 .4 .9 .3 -3.6 .3 -5.7 .4 6.7 .4 1.3 .3 .2 .3 3.9 .4 -4.9 .4 -4.1 .3 3.5 .3 1.3 .4 2.4 .4 -4 .3 -1.7 .3 6.4 .4 -4.9 .4 .9 .3 -1.5 .3 -2.5 .4 5.1 .4 -1.5 .3 -.1 .3 .8 .4 -5.9 .4 -.1 .3 -1 .3 5.5 .4 2.9 .4 -2.4 .3 1.7 .3 1.3 .4 -6 .4 .1 .3 -1.4 .3 1.2 .4 4 .4 4.2 .3 .8 .3 1.1 .4 -5.3 .4 -8.2 .3 5.9 .3 4.6 .4 -2.7 .4 .1 .3 -1.5 .3 -1.8 .4 -1.1 .4 5.7 .3 4.7 .3 -4.7 .4 -1.2 .4 -1.2 .3 -2.4 .3 4.9 .4 .2 .4 -7 .3 0 .3 3.8 .4 1.3 .4 1.2 .3 1.3 .3 -.3 .4 -6.5 .4 -6.8 .3 7.8 .3 5.2 .4 -10.2 .4 1.1 .3 2.6 .3 4.2 .4 -2.9 .4 -.6 .3 4.9 .3 6.4 .4 3.4 .4 -8.5 .3 1 .3 -6.3 .4 .2 .4 3.6 .3 -.1 .3 3.3 .4 -6.8 .4 .9 .3 .9 .3 2.3 .4 -6.2 .4 -1.4 .3 10.1 .3 -5 .4 2.6 .4 -.6 .3 -8.8 .3 -.5 .4 12 .4 3.7 .3 -8.3 .3 -6.2 .4 -1.3 .4 7 .3 4.1 .3 -7.2 .4 -.9 .4 2.9 .3 9.1 .3 -1.3 .4 -8.1 .4 4.3 .3 -4.4 .3 2.3 .4 1.2 .4 .4 .3 .1 .3 -3.3 .4 3.8 .4 -4.5 .3 -.4 .3 .6 .4 3.5 .4 2.8 .3 -6 .3 -1 .4 4.2 .4 -1.1 .3 -7.5 .3 6 .4 2.6 .4 -1.7 .3 0 .3 8.5 .4 3.7 .4 -10.9 .3 -4.2 .3 8.1 .4 -4.2 .4 .3 .3 .5 .3 -7 .4 2.8 .4 1 .3 -3.3 .3 9.2 .4 -1.3 .4 -10.5 .3 -1.2 .3 13.4 .4 -2.6 .4 -2 .3 -6.6 .3 5 .4 -7.5 .4 6.6 .3 7.8 .3 1.1 .4 -5.3 .4 -6.2 .3 -1.2 .3 .9 .4 6.4 .4 6.5 .3 -5.7 .3 -2 .4 4.1 .4 -.2 .3 -1.1 .3 -.4 .4 .1 .4 -1.2 .3 -4.4 .3 -.2 .4 6.4 .4 1.2 .3 -1.3 .3 -1.4 .4 1.3 .4 -1.3 .3 -3.1 .3 -1.1 .4 -3.3 .4 6.3 .3 1.1 .3 -3 .4 -.4 .4 -2.2 .3 9.2 .3 -1.1 .4 -9.6 .4 2.6 .3 2 .3 -3.5 .4 4.6 .4 -2.1 .3 2.6 .3 -3.8 .4 3.5 .4 1.4 .3 4.3 .3 -4.9 .4 .4 .4 .2 .3 3.6 .3 -4.1 .4 -6 .4 5 .3 2.6 .3 2 .4 -5.6 .4 1.4 .3 -1.6 .3 -6" fill="none" stroke="#000" stroke-width="1.05" stroke-linejoin="round"/>
<path d="M1585.2 131.8l.4 -1.7 .3 3.8 .3 -5 .4 -3.8 .4 6.5 .3 2.3 .3 -2.3 .4 .3 .4 .6 .3 -3 .4 8.5 .3 -5.8 .4 7.2 .3 8.9 .3 -17.1 .4 1.3 .4 7.3 .3 -2.7 .4 4.8 .3 -4.5 .4 -7.6 .3 1 .3 1.4 .4 .8 .4 -3.8 .3 5 .3 2.9 .4 -4.7 .4 -.5 .3 3.5 .4 -.8 .3 2.4 .4 -1.4 .3 -3 .3 .5 .4 -5.6 .4 1.4 .3 -1.9 .4 4.2 .3 2.6 .4 -4 .3 .9 .3 -.3 .4 -.1 .4 4.9 .3 -2.9 .3 4.7 .4 1.6 .4 -3.4 .3 -3.4 .4 .7 .3 3.5 .4 2 .3 -2.5 .3 -8 .4 6.9 .4 2.6 .3 -7.3 .4 1.9 .3 -2.2 .4 2.8 .3 2.7 .3 1.5 .4 -3.7 .4 2.7 .3 -7.8 .3 8.1 .4 4.8 .4 -6.5 .3 -1.2 .4 -1.8 .3 1.6 .4 2.5 .3 3.1 .3 -6.4 .4 -3.2 .4 8.1 .3 .9 .4 -8.4 .3 5.5 .4 5.2 .3 -3.3 .3 -2.7 .4 1.4 .4 1.8 .3 -5.5 .3 -.6 .4 2.1 .4 -.2 .3 -6.2 .4 -1.1 .3 9.2 .4 -6 .3 6.3 .3 3 .4 -7.2 .4 -3.8 .3 4.7 .4 -3.4 .3 2.9 .4 1.6 .3 3.5 .3 -1.3 .4 -2.7 .4 .7 .3 1.5 .3 -.5 .4 -.9 .4 5.3 .3 -3.8 .4 -1 .3 9.7 .4 -8 .3 -1.8 .3 -1.5 .4 5.3 .4 -.6 .3 -2.9 .4 -4 .3 .4 .4 .5 .3 -.2 .3 -1.7 .4 5.4 .4 -.5 .3 .9 .3 -4 .4 6.1 .4 -5.1 .3 3.7 .4 -4.1 .3 -1.7 .4 8.3 .3 -6.1 .3 -1.6 .4 4.2 .4 1 .3 -3.3 .4 -4.8 .3 5.1 .4 9.7 .3 -4.8 .3 .8 .4 -10.3 .4 2.3 .3 2.3 .3 9.6 .4 -8.4 .4 .6 .3 -1.7 .4 -2.7 .3 4 .4 -1.4 .3 2.6 .3 -.8 .4 -2.4 .4 .1 .3 1.8 .3 -8.3 .4 8.4 .4 1.3 .3 -3.1 .3 -3.6 .4 3.4 .4 3.3 .3 -4.3 .3 4.4 .4 7.4 .4 -3 .3 -8.5 .3 5 .4 -3.6 .4 .7 .3 .8 .3 1.8 .4 -.5 .4 -5 .3 3.3 .3 -.1 .4 -1.1 .4 -1.3 .3 4 .3 3.9 .4 -6.6 .4 -.8 .3 .5 .3 3 .4 -5 .4 -3.2 .3 1.2 .3 8.7 .4 -2.3 .4 -2.2 .3 1 .3 -3.9 .4 4 .4 -.4 .3 -1.3 .3 6.7 .4 -2.6 .4 -5.9 .3 2.1 .3 -2.7 .4 4.8 .4 8.7 .3 -6.4 .3 -6.7 .4 2.9 .4 3.3 .3 1 .3 -8.1 .4 5.6 .4 4.8 .3 -2.2 .3 .2 .4 -4.1 .4 -3 .3 2.8 .3 6.9 .4 -6.7 .4 2.7 .3 -2.9 .3 -6.1 .4 3.3 .4 3.7 .3 -4.6 .3 1.7 .4 2.3 .4 3.8 .3 -5.4 .3 -.2 .4 -.9 .4 5.1 .3 -4 .3 -.9 .4 3.6 .4 3.6 .3 -4.5 .3 -2.9 .4 -1.6 .4 1.5 .3 -1 .3 8.2 .4 -2.8 .4 -.7 .3 -6.6 .3 6 .4 5.1 .4 -9.7 .3 5.3 .3 3.5 .4 -1.7 .4 -.8 .3 1 .3 1.1 .4 -1.6 .4 -4.8 .3 6.3 .3 5 .4 -9.1 .4 -1.1 .3 -.8 .3 3.2 .4 -1.6 .4 3.4 .3 -.3 .3 -5.5 .4 .2 .4 1.7 .3 3 .3 -4.4 .4 -1 .4 -.7 .3 8.4 .3 -5.8 .4 -4.6 .4 4 .3 3.6 .3 -3 .4 -1.6 .4 6.1 .3 1.5 .3 -4.3 .4 -1.8 .4 -2.8 .3 2.9 .3 0 .4 5.4 .4 -2.6 .3 0 .3 -1.5 .4 -2.4 .4 1.6 .3 1.8 .3 -5.7 .4 8.2 .4 -.6 .3 -.7 .3 -1.1 .4 -3.2 .4 4.7 .3 2.4 .3 -2.1 .4 -1.6 .4 -5 .3 5.8 .3 1.5 .4 -4.8 .4 -2 .3 .8 .3 3.6 .4 2.3 .4 -.2 .3 -2.7 .3 -2.7 .4 -1.4 .4 10.6 .3 -1.8 .3 -3.6 .4 -6.8 .4 .9 .3 .9 .3 4.7 .4 -3.4 .4 -.3 .3 3.9 .3 2.9 .4 -2.9 .4 .9 .3 -3.6 .3 6.2 .4 -.9 .4 -1.9 .3 .2 .3 -5.9 .4 4.2 .4 -5.4 .3 -3.1 .3 11.3 .4 -4.4 .4 -2.2 .3 1.8 .3 0 .4 -4.2 .4 4 .3 .3 .3 1.2 .4 -2.3 .4 2 .3 4.5 .3 -1.3 .4 2.2 .4 -2.1 .3 -9.9 .3 4.8 .4 .1 .4 2.5 .3 5.5 .3 -5.9 .4 -1.5 .4 -1.2 .3 4.8 .3 4.6 .4 -1.2 .4 -3.3 .3 -4.6 .3 3.4 .4 3.4 .4 1.4 .3 -3.4 .3 -1 .4 -2 .4 .3 .3 1 .3 -.4 .4 3.5 .4 -2.1 .3 -5.8 .3 5 .4 1 .4 -2 .3 -2.3 .3 -1 .4 -4.2 .4 2 .3 -.7 .3 2.2 .4 8.9 .4 -3.6 .3 -1.1 .3 -2.7 .4 -1.5 .4 4.3 .3 1.3 .3 -2.8 .4 -2.7 .4 3.3 .3 2.1 .3 -.7 .4 -6.1 .4 9.3 .3 -2.9 .3 5 .4 -3 .4 -4.8 .3 4.3 .3 3.9 .4 -5.7 .4 3.3 .3 -3.1 .3 -2.7 .4 3.1 .4 3.5 .3 -3 .3 -4.2 .4 -1.3 .4 3.8 .3 -1.1 .3 -1.6 .4 8.2 .4 -7.8 .3 -2.2 .3 10.3 .4 -2.7 .4 -.8 .3 .9 .3 .9 .4 -7.9 .4 -4.3 .3 2.8 .3 6.5 .4 4.8 .4 -9.4 .3 -.6 .3 -.7 .4 -1.2 .4 9.5 .3 -1.6 .3 -1.5 .4 .6 .4 2.5 .3 -7.8 .3 4.7 .4 -1.6 .4 4.1 .3 -.1 .3 2 .4 -9.2 .4 -2.8 .3 6.8 .3 10.8 .4 -10.9 .4 -5 .3 3.9 .3 .2 .4 -3.7 .4 7.5 .3 2.4 .3 -5.1 .4 -3 .4 3.4 .3 1.4 .3 -7.5 .4 2.9 .4 .9 .3 5.6 .3 -.1 .4 -3.7 .4 1 .3 -3.4 .3 6.2 .4 7 .4 -12.3 .3 -2.6 .3 4.9 .4 1 .4 2.5 .3 .5 .3 -3.9 .4 1.5 .4 -6.8 .3 6.4 .3 -2.5 .4 -5 .4 6 .3 3.8 .3 -7.1 .4 -1.2 .4 10.1 .3 -3.2 .3 -5.9 .4 5.8 .4 -1.3 .3 -2.8 .3 2.5 .4 -7.2 .4 10.2 .3 -7.9 .3 4.3 .4 2.4 .4 -.1 .3 -5 .3 -8.7 .4 10.7 .4 4 .3 -.3 .3 -6.8 .4 2.3 .4 3.3 .3 -2.9 .3 -1.8 .4 4.4 .4 -3.7 .3 -4.6 .3 3.1 .4 2.5 .4 -.9 .3 4.8 .3 -3.1 .4 -1 .4 1.6 .3 3.1 .3 -2.6 .4 3.2 .4 -2.6 .3 5.7 .3 6.3 .4 -12.8 .4 -2.7 .3 9 .3 -9.5 .4 -2.6 .4 4.4 .3 1.1 .3 -5.4 .4 4.6 .4 2.3 .3 -1.9 .3 .7 .4 4.7 .4 -9 .3 -.9 .3 3 .4 5 .4 -2.3 .3 -2.1 .3 -2.7 .4 2.2 .4 -3.3 .3 1.6 .3 -.2 .4 -.6 .4 -3.8 .3 5.8 .3 3.1 .4 -1.4 .4 2.9 .3 -1.5 .3 -.1 .4 -.5 .4 1.2 .3 -3.8 .3 3.1 .4 -2.9 .4 .8 .3 4.1 .3 -3.4 .4 4.6 .4 -8.6 .3 2.3 .3 8.8 .4 -.5 .4 -1.7 .3 -3.2 .3 -1.3 .4 -5.1 .4 .4 .3 7.1 .3 1.7 .4 -.2 .4 -9.4 .3 2.1 .3 5.1 .4 -.9 .4 3.4 .3 -2.4 .3 -2.5 .4 -.8 .4 7 .3 -8 .3 -.8 .4 5.1 .4 -4.8 .3 2.4 .3 -5.3 .4 .5 .4 7.9 .3 -3.9 .3 -7.6 .4 6.3 .4 3.1 .3 0 .3 -1.2 .4 -1 .4 2.4 .3 -1.3 .3 7.3 .4 -5.7 .4 -5.6 .3 3.4 .3 5.2 .4 -3.8 .4 3.4 .3 -3.4 .3 -4.2 .4 4.4 .4 .9 .3 -3 .3 7.1 .4 -1.9 .4 -3 .3 -9.3 .3 5.8 .4 5.9 .4 -6.7 .3 6.9 .3 .5 .4 -3.5 .4 6.4 .3 -6.4 .3 -2.3 .4 6.7 .4 -.6 .3 -2.5 .3 -.6 .4 2.6 .4 -2.3 .3 -.4 .3 -4.9 .4 .6 .4 5.8 .3 -4.6 .3 -4.8 .4 3 .4 5.3 .3 -3.9 .3 -2.2 .4 4.4 .4 -.2 .3 .3 .3 -3.2 .4 -4.5 .4 5.1 .3 2.9 .3 -1.4 .4 8.8 .4 -5.7 .3 -2 .3 -7.6 .4 10.9 .4 4 .3 3.9 .3 -6.1 .4 -9.6 .4 5.4 .3 -.8 .3 3.2 .4 0 .4 1 .3 -1.6 .3 -5.7 .4 -2.5 .4 9.8 .3 -3.6 .3 1.9 .4 -8.5 .4 11.2 .3 -1.6 .3 -7 .4 -.8 .4 1.4 .3 4 .3 5.3 .4 -.3 .4 .8 .3 -7.6 .3 -3.6 .4 5.7 .4 -2.2 .3 .7 .3 -1.6 .4 3.6 .4 -5.2 .3 -3.1 .3 -3.5 .4 10.2 .4 -.6 .3 2.3 .3 -6.4 .4 9.8 .4 -.7 .3 -3.9 .3 -4.5 .4 3.4 .4 -2.7 .3 6.1 .3 -5.4 .4 -4.6 .4 5.6 .3 -2.3 .3 3.7 .4 .7 .4 -.5 .3 4 .3 -1.2 .4 -2.7 .4 1.1 .3 5 .3 -1.2 .4 -5.6 .4 -.4 .3 3.9 .3 3.5 .4 -2.3 .4 .5 .3 -3.7 .3 3.1 .4 -8.5 .4 -1.1 .3 7.9 .3 -.2 .4 -.1 .4 -.8 .3 -3.8 .3 0 .4 2.6 .4 -6 .3 -.5 .3 4.1 .4 1 .4 1.3 .3 -.4 .3 -3.2 .4 2.1 .4 -.7 .3 3.5 .3 6.3 .4 -4.9 .4 -11.1 .3 11.2 .3 .2 .4 -5.9 .4 4.8 .3 3.9 .3 -6.1 .4 -2.7 .4 -.7 .3 -.4 .3 -.8 .4 2.9 .4 -1 .3 -1.4 .3 3.2 .4 -1.3 .4 -1.4 .3 3.8 .3 5.7 .4 6 .4 -10.8 .3 1.4 .3 1 .4 .3 .4 -1.3 .3 1.1 .3 -1.5 .4 -2 .4 7.8 .3 -5 .3 -5.2 .4 2.5 .4 1.3 .3 0 .3 -2.3 .4 3.1 .4 -3.6 .3 -.6 .3 -5.1 .4 3.1 .4 7.8 .3 -1 .3 -1.2 .4 6.3 .4 -5.4 .3 -7 .3 2.8 .4 4.9 .4 -2.1 .3 -6.2 .3 -.1 .4 2.8 .4 -7.6 .3 5.8 .3 2.5 .4 .9 .4 -.6 .3 -.2 .3 .8 .4 -4.2 .4 3.9 .3 6.2 .3 -5.5 .4 2.5 .4 5.4 .3 -8.4 .3 6.3 .4 -2.9 .4 -4 .3 4.3 .3 -4.8 .4 7.3 .4 4.5 .3 -6.8 .3 -4.4 .4 -1.2 .4 -1.6 .3 1 .3 4.8 .4 3.7 .4 -4.9 .3 -4.6 .3 1.8 .4 3.8 .4 -4.2 .3 2 .3 2.3 .4 -.4 .4 2.2 .3 -1.1 .3 2.4 .4 -5.3 .4 2.2 .3 2.6 .3 -1.6 .4 -.3 .4 -7.4 .3 9.3 .3 -6.2 .4 3.4 .4 1.4 .3 .3 .3 -8.5 .4 7.8 .4 -2.2 .3 .7 .3 -5.3 .4 .2 .4 -3.5 .3 3 .3 5.9 .4 -4.7 .4 3.6 .3 -3.6 .3 -6 .4 3.2 .4 5.9 .3 9.7 .3 -4.5 .4 .7 .4 -5.5 .3 -4.8 .3 6.8 .4 -2.4 .4 6.5 .3 1.4 .3 -4.1 .4 -1.4 .4 1.7 .3 -3 .3 -3.8 .4 .9 .4 4.9 .3 -9.7 .3 9.5 .4 .9 .4 -3.6 .3 1.3 .3 4.5 .4 -2.6 .4 1.5 .3 -3.7 .3 .6 .4 -1.6 .4 -5 .3 1.9 .3 3 .4 4.5 .4 -2.2 .3 -4.7 .3 8.7 .4 -5.6 .4 -3.3 .3 .8 .3 3.1 .4 -3.2 .4 2 .3 4.2 .3 .3 .4 -4.8 .4 -2.3 .3 1.8 .3 -1.3 .4 .8 .4 -1.3 .3 5.9 .3 -6 .4 1.9 .4 5 .3 -5 .3 -4.9 .4 -.1 .4 2.3 .3 2.4 .3 3.2 .4 4.7 .4 -6.2 .3 -2.8 .3 -1.7 .4 6.6 .4 0 .3 -1.2 .3 3.4 .4 -9.7 .4 2.3 .3 2.4 .3 3.6 .4 .4 .4 -3.8 .3 3 .3 5.2 .4 -7.2 .4 1.6 .3 -2.9 .3 3.2 .4 6.6 .4 -4.9 .3 -9.1 .3 3.5 .4 2.7 .4 -3.5 .3 6.7 .3 1.2 .4 -10.8 .4 7.1 .3 -2.7 .3 4.6 .4 -4.6 .4 -2.4 .3 .4 .3 3.8 .4 -1 .4 -2.4 .3 -1.5 .3 3.6 .4 -3 .4 -6.8 .3 8.7 .3 3 .4 -3.9 .4 -2.1 .3 1 .3 -3.1 .4 5.4 .4 4 .3 -1.4 .3 -1.6 .4 2.8 .4 -1.5 .3 1.1 .3 0 .4 -8.9 .4 7 .3 4.3 .3 -6.5 .4 6.4 .4 -6.2 .3 -.9 .3 -1.1 .4 4.8 .4 3.1 .3 -4.7 .3 -2.7 .4 6.5 .4 1.8 .3 -3.6 .3 -2.9 .4 -.2 .4 4.8 .3 -.1 .3 -3.8 .4 0 .4 5.4 .3 -.9 .3 -4.7 .4 4.3 .4 -3.4 .3 3.9 .3 -4.7 .4 1.2 .4 3.7 .3 -3 .3 -2.6 .4 1.2 .4 -4.1 .3 .6 .3 -.3 .4 3.8 .4 -6.9 .3 2.4 .3 1.8 .4 1.2 .4 .7 .3 -1 .3 -.3 .4 .7 .4 -1.3 .3 2.1 .3 -1.4 .4 -1 .4 4.9 .3 -6.5 .3 3.3 .4 -.1 .4 6.1 .3 -2.9 .3 .8 .4 -.1 .4 2.3 .3 -1.3 .3 -2.7 .4 1.4 .4 3.4 .3 -7.2 .3 4 .4 5.4 .4 -8.5 .3 -1.9 .3 1.5 .4 -5.1 .4 7.9 .3 -.7 .3 -4.9 .4 5.6 .4 -2.1 .3 2.4 .3 2.1 .4 -1.7 .4 .6 .3 -2.8 .3 -5.8 .4 9 .4 -4 .3 -3.8 .3 1.5 .4 7.9 .4 1.3 .3 -5.6 .3 -1.7 .4 5.6 .4 -3.9 .3 -4 .3 .5 .4 .8 .4 3.6 .3 -2.6 .3 -2.6 .4 4.2 .4 -5.1 .3 -.1 .3 -.8 .4 6.8 .4 -5.9 .3 1.5 .3 6.2 .4 -1.3 .4 4.5 .3 -5.5 .3 -2 .4 -2.8 .4 5.7 .3 -.3 .3 -2.3 .4 -1.6 .4 4 .3 -3.2 .3 4.6 .4 -2 .4 -6.1 .3 5.9 .3 -4 .4 -.4 .4 10.3 .3 -.5 .3 -4.8 .4 -5.7 .4 4.9 .3 .6 .3 10.8 .4 -8.5 .4 -1.1 .3 -3.8 .3 5.5 .4 -5.3 .4 3.7 .3 -2 .3 .7 .4 -4.8 .4 -1 .3 2.3 .3 5.2 .4 -1.9 .4 2.8 .3 -2.5 .3 -2.6 .4 -.3 .4 2.9 .3 -4.4 .3 2.2 .4 -3.2 .4 3.7 .3 -1.2 .3 .1 .4 5.4 .4 -10.3 .3 3.3 .3 4.4 .4 4.2 .4 -5.3 .3 -3.7 .3 -4.2 .4 6.1 .4 2 .3 -2.2 .3 .5 .4 5.1 .4 -5.7 .3 -3.1 .3 3.3 .4 2.4 .4 3.1 .3 -1.5 .3 -5.5 .4 3.2 .4 4.2 .3 -1.9 .3 3 .4 4.1 .4 -7.6 .3 -1.8 .3 .9 .4 3.4 .4 -3.3 .3 1.4 .3 -1.1 .4 -2.8 .4 4.2 .3 -4.2 .3 -3.1 .4 11.1 .4 .1 .3 -7.5 .3 .7 .4 -8.3 .4 -.4 .3 7.7 .3 -.1 .4 3.8 .4 -.5 .3 -5.2 .3 3.1 .4 -2.7 .4 -3 .3 9.1 .3 .5 .4 -4.1 .4 -.6 .3 -2.1 .3 2 .4 2.7 .4 -1.4 .3 -.7 .3 -.4 .4 -.3 .4 -.2 .3 2.6 .3 3.2 .4 -5.3 .4 -3.7 .3 6.4 .3 2.5 .4 .9 .4 -4.9 .3 -.1 .3 -6.1 .4 4.5 .4 -.4 .3 -2.7 .3 5.3 .4 1.5 .4 2.4 .3 -1.4 .3 -10.7 .4 6 .4 4.6 .3 4.6 .3 -5.9 .4 -1.8 .4 4.1 .3 4.4 .3 -13.4 .4 -4.4 .4 4.3 .3 7.8 .3 -6.9 .4 10.9 .4 -5.4 .3 -9.2 .3 .1 .4 9.8 .4 -1.7 .3 -.1 .3 8.3 .4 -1 .4 -7.1 .3 -5.2 .3 3.4 .4 3.9 .4 -3.3 .3 1.7 .3 3.6 .4 -8.8 .4 -1.2 .3 10.3 .3 -8.9 .4 1.4 .4 3.3 .3 -4.7 .3 5.8 .4 -3.6 .4 -4.2 .3 -1 .3 6.7 .4 6.2 .4 -.8 .3 -6.6 .3 -7 .4 4.1 .4 2.2 .3 10.5 .3 -1.3 .4 -6.6 .4 3.2 .3 -10.1 .3 6.4 .4 -.9 .4 7.1 .3 -6.7 .3 6.6 .4 -6.1 .4 -5.2 .3 4.8 .3 -3 .4 5 .4 .4 .3 2 .3 -5.9 .4 -4.3 .4 7.6 .3 -4.4 .3 1.2 .4 9.8 .4 8 .3 -11.2 .3 -3.5 .4 -2.1 .4 7.2 .3 -6.7 .3 3.2 .4 -.6 .4 -2.7 .3 .4 .3 -3 .4 1.2 .4 9 .3 -5.4 .3 -11.2 .4 1 .4 2.5 .3 5.7 .3 4.9 .4 -2.1 .4 -12.4 .3 1.4 .3 7.8 .4 3.7 .4 2.3 .3 1.8 .3 -13.2 .4 3.2 .4 5.7 .3 -5.7 .3 1.1 .4 6.3 .4 -1 .3 -2.8 .3 2.7 .4 1 .4 -1.2 .3 -8 .3 6.2 .4 -4.6 .4 1.6 .3 .6 .3 3.5 .4 -3.8 .4 1.6 .3 -3 .3 .5 .4 -1 .4 4.9 .3 2.8 .3 1.8 .4 -6.7 .4 -4.9 .3 1.3 .3 5.5 .4 7 .4 -5.9 .3 1.8 .3 -7.7 .4 -.9 .4 3.8 .3 1.3 .3 -.9 .4 1.1 .4 -2.3 .3 -6.6 .3 4.7 .4 1.2 .4 8.3 .3 6.5 .3 -9.1 .4 3.8 .4 -9.1 .3 -6.3 .3 9.1 .4 -2.2 .4 9.4 .3 -5.9 .3 -8.7 .4 10.3 .4 -8.4 .3 6.2 .3 -2.3 .4 -1.5 .4 .7 .3 .6 .3 1.4 .4 -1.6 .4 3.9 .3 -2.1 .3 2.4 .4 -.5 .4 1.3 .3 -8 .3 -2.4 .4 6.3 .4 3.8 .3 -10.3 .3 2.7 .4 -.8 .4 -1.2 .3 9.8 .3 -3.7 .4 -5.3 .4 8.1 .3 -1.7 .3 2 .4 -8.2 .4 6.3 .3 8.9 .3 -10.1 .4 .6 .4 4.2 .3 -.8 .3 -4.7 .4 -5.6 .4 11.1 .3 -13.7 .3 -.8 .4 12.4 .4 -1.9 .3 -3.4 .3 1.2 .4 -2.9 .4 5.4 .3 -.3 .3 4.5 .4 -4 .4 -6.8 .3 6.8 .3 -3.9 .4 -5.2 .4 4.7 .3 1.2 .3 1.3 .4 -1.1 .4 .8 .3 .7 .3 2.5 .4 .1 .4 -6.5 .3 6.7 .3 2.2 .4 -5.6 .4 .7 .3 -.9 .3 2.7 .4 -2.1 .4 1.8 .3 -5.3 .3 2.9 .4 -3.8 .4 .3 .3 6 .3 1.2 .4 3.1 .4 -3.5 .3 -5 .3 3.3 .4 -7 .4 6.9 .3 -.6 .3 -.8 .4 -.6 .4 1.7 .3 -1.3 .3 -.5 .4 -.3 .4 1.6 .3 -.9 .3 -.8 .4 -1.2 .4 3.1 .3 -2.9 .3 -.8 .4 3.6 .4 -.4 .3 1.9 .3 0 .4 -8 .4 7.9 .3 5.4 .3 -7.3 .4 -1.9 .4 -.4 .3 9 .3 -1.9 .4 2.5 .4 -10.3 .3 5.4 .3 -.7 .4 -3.6 .4 -5.1 .3 2.6 .3 5 .4 4.5 .4 .2 .3 -9 .3 -6.5 .4 11 .4 4.1 .3 -3.1 .3 -1 .4 -3.4 .4 3.3 .3 2.1 .3 -3.7 .4 -2.3 .4 3.3 .3 -2.9 .3 5.7 .4 2 .4 -6.7 .3 .9 .3 -3.9 .4 .2 .4 2.3 .3 2.4 .3 2.2 .4 -3.5 .4 -.6 .3 -3.3 .3 -.8 .4 15.8 .4 -3.3 .3 -5 .3 -1.5 .4 3.9 .4 -3.2 .3 .2 .3 2.9 .4 2.7 .4 -6.9 .3 -3.9 .3 4.4 .4 -2.1 .4 8.6 .3 -3.7 .3 -2.3 .4 -1.7 .4 -4.4 .3 2.2 .3 -2.8 .4 2.9 .4 10.7 .3 -6.9 .3 -4.5 .4 5.6 .4 .4 .3 2.1 .3 -4.2 .4 .2 .4 -1.1 .3 -2.5 .3 1.6 .4 -.6 .4 5.7 .3 -1.1 .3 -10.7 .4 7 .4 3.6 .3 -1.7 .3 -5.7 .4 6 .4 -3.8 .3 5.1 .3 -.8 .4 -4.2 .4 2.4 .3 .2 .3 -2.2 .4 1.9 .4 .4 .3 1.3 .3 .9 .4 2.8 .4 -4.7 .3 4.7 .3 .8 .4 -3.8 .4 -1.5 .3 4.1 .3 -3.5 .4 2.3 .4 -2 .3 1.2 .3 -1.9 .4 -1.7 .4 0 .3 -4.6 .3 2.1 .4 5.4 .4 -.8 .3 1.5 .3 -9.6 .4 7.4 .4 -.2 .3 2 .3 .8 .4 -10.5 .4 10.7 .3 -7 .3 3.5 .4 2.4 .4 2.8 .3 -5.1 .3 .7 .4 2.3 .4 -4.7 .3 -3.3 .3 4.8 .4 1.1 .4 .9 .3 -.4 .3 -5.7 .4 -4.4 .4 7.5 .3 5.2 .3 -7.1 .4 7.4 .4 -.6 .3 -2.1 .3 -1.8 .4 3.5 .4 -4.1 .3 1 .3 2.2 .4 4.5 .4 -6.8 .3 -.6 .3 3.3 .4 -.8 .4 -3.6 .3 4.7 .3 -3.2 .4 4.2 .4 .2 .3 -4.3 .3 -4.4 .4 7.2 .4 .2 .3 -1.2 .3 1.5 .4 -5 .4 .2 .3 2.6 .3 -3.6 .4 2.3 .4 2.2 .3 -1.4 .3 -9.2 .4 4.9 .4 5.9 .3 -2.8 .3 7.4 .4 -4.3 .4 .2 .3 -1 .3 -2.5 .4 2.4 .4 -1.1 .3 -4.1 .3 2.7" fill="none" stroke="#000" stroke-width="1.05" stroke-linejoin="round"/>
<line x1="2062.8" y1="162.3" x2="2160.0" y2="162.3" stroke="#222" stroke-width="2.0"/>
<text x="2111.7" y="156.9" font-size="17" text-anchor="middle">5s</text>
<text x="1586.1" y="17.8" font-size="23.7">Baseline Interictal Recording (Spike-train Corrupted)</text>
<text x="1662.1" y="49.6" font-size="15" text-anchor="middle" font-weight="bold">*</text>
<text x="1815.3" y="49.6" font-size="15" text-anchor="middle" font-weight="bold">*</text>
<text x="1968.7" y="49.6" font-size="15" text-anchor="middle" font-weight="bold">*</text>
<text x="87.7" y="187.6" font-size="17.8" font-weight="bold">amplitude correlation</text>
<rect x="87.20" y="195.00" width="20.70" height="33.38" fill="#f0f9ed"/>
<rect x="107.60" y="195.00" width="20.70" height="33.38" fill="#afdfa8"/>
<rect x="128.00" y="195.00" width="20.70" height="33.38" fill="#ecf8e8"/>
<rect x="148.40" y="195.00" width="20.70" height="33.38" fill="#f3faf0"/>
<rect x="168.80" y="195.00" width="20.70" height="33.38" fill="#f1faee"/>
<rect x="189.20" y="195.00" width="20.70" height="33.38" fill="#7fc97f"/>
<rect x="209.60" y="195.00" width="20.70" height="33.38" fill="#86cc85"/>
<rect x="230.00" y="195.00" width="20.70" height="33.38" fill="#83cb82"/>
<rect x="250.40" y="195.00" width="20.70" height="33.38" fill="#3fa95c"/>
<rect x="270.80" y="195.00" width="20.70" height="33.38" fill="#077331"/>
<rect x="291.20" y="195.00" width="20.70" height="33.38" fill="#258d47"/>
<rect x="311.60" y="195.00" width="20.70" height="33.38" fill="#319a50"/>
<rect x="332.00" y="195.00" width="20.70" height="33.38" fill="#6bc072"/>
<rect x="352.40" y="195.00" width="20.70" height="33.38" fill="#d3eecd"/>
<rect x="372.80" y="195.00" width="20.70" height="33.38" fill="#edf8ea"/>
<rect x="393.20" y="195.00" width="20.70" height="33.38" fill="#e2f4dd"/>
<rect x="413.60" y="195.00" width="20.70" height="33.38" fill="#e6f5e1"/>
<rect x="434.00" y="195.00" width="20.70" height="33.38" fill="#dff3da"/>
<rect x="454.40" y="195.00" width="20.70" height="33.38" fill="#f4fbf2"/>
<rect x="474.80" y="195.00" width="20.70" height="33.38" fill="#f1faee"/>
<rect x="495.20" y="195.00" width="20.70" height="33.38" fill="#f1faee"/>
<rect x="515.60" y="195.00" width="20.70" height="33.38" fill="#e7f6e3"/>
<rect x="536.00" y="195.00" width="20.70" height="33.38" fill="#eff9eb"/>
<rect x="556.40" y="195.00" width="20.70" height="33.38" fill="#f3faf0"/>
<rect x="576.80" y="195.00" width="20.70" height="33.38" fill="#f0f9ed"/>
<rect x="87.20" y="228.08" width="20.70" height="33.38" fill="#f1faee"/>
<rect x="107.60" y="228.08" width="20.70" height="33.38" fill="#eff9eb"/>
<rect x="128.00" y="228.08" width="20.70" height="33.38" fill="#f3faf0"/>
<rect x="148.40" y="228.08" width="20.70" height="33.38" fill="#edf8ea"/>
<rect x="168.80" y="228.08" width="20.70" height="33.38" fill="#f3faf0"/>
<rect x="189.20" y="228.08" width="20.70" height="33.38" fill="#eff9eb"/>
<rect x="209.60" y="228.08" width="20.70" height="33.38" fill="#edf8ea"/>
<rect x="230.00" y="228.08" width="20.70" height="33.38" fill="#ecf8e8"/>
<rect x="250.40" y="228.08" width="20.70" height="33.38" fill="#eff9eb"/>
<rect x="270.80" y="228.08" width="20.70" height="33.38" fill="#e9f7e5"/>
<rect x="291.20" y="228.08" width="20.70" height="33.38" fill="#eaf7e6"/>
<rect x="311.60" y="228.08" width="20.70" height="33.38" fill="#ecf8e8"/>
<rect x="332.00" y="228.08" width="20.70" height="33.38" fill="#ecf8e8"/>
<rect x="352.40" y="228.08" width="20.70" height="33.38" fill="#f1faee"/>
<rect x="372.80" y="228.08" width="20.70" height="33.38" fill="#e2f4dd"/>
<rect x="393.20" y="228.08" width="20.70" height="33.38" fill="#eff9eb"/>
<rect x="413.60" y="228.08" width="20.70" height="33.38" fill="#eff9eb"/>
<rect x="434.00" y="228.08" width="20.70" height="33.38" fill="#eff9eb"/>
<rect x="454.40" y="228.08" width="20.70" height="33.38" fill="#f0f9ed"/>
<rect x="474.80" y="228.08" width="20.70" height="33.38" fill="#f3faf0"/>
<rect x="495.20" y="228.08" width="20.70" height="33.38" fill="#f0f9ed"/>
<rect x="515.60" y="228.08" width="20.70" height="33.38" fill="#f3faf0"/>
<rect x="536.00" y="228.08" width="20.70" height="33.38" fill="#f0f9ed"/>
<rect x="556.40" y="228.08" width="20.70" height="33.38" fill="#eff9eb"/>
<rect x="576.80" y="228.08" width="20.70" height="33.38" fill="#edf8ea"/>
<rect x="87.20" y="261.16" width="20.70" height="33.38" fill="#f0f9ed"/>
<rect x="107.60" y="261.16" width="20.70" height="33.38" fill="#e4f5df"/>
<rect x="128.00" y="261.16" width="20.70" height="33.38" fill="#98d594"/>
<rect x="148.40" y="261.16" width="20.70" height="33.38" fill="#f1faee"/>
<rect x="168.80" y="261.16" width="20.70" height="33.38" fill="#edf8ea"/>
<rect x="189.20" y="261.16" width="20.70" height="33.38" fill="#ceecc8"/>
<rect x="209.60" y="261.16" width="20.70" height="33.38" fill="#ecf8e8"/>
<rect x="230.00" y="261.16" width="20.70" height="33.38" fill="#f3faf0"/>
<rect x="250.40" y="261.16" width="20.70" height="33.38" fill="#eff9eb"/>
<rect x="270.80" y="261.16" width="20.70" height="33.38" fill="#eaf7e6"/>
<rect x="291.20" y="261.16" width="20.70" height="33.38" fill="#f4fbf2"/>
<rect x="311.60" y="261.16" width="20.70" height="33.38" fill="#dbf1d5"/>
<rect x="332.00" y="261.16" width="20.70" height="33.38" fill="#edf8ea"/>
<rect x="352.40" y="261.16" width="20.70" height="33.38" fill="#f0f9ed"/>
<rect x="372.80" y="261.16" width="20.70" height="33.38" fill="#f3faf0"/>
<rect x="393.20" y="261.16" width="20.70" height="33.38" fill="#f3faf0"/>
<rect x="413.60" y="261.16" width="20.70" height="33.38" fill="#f0f9ed"/>
<rect x="434.00" y="261.16" width="20.70" height="33.38" fill="#e9f7e5"/>
<rect x="454.40" y="261.16" width="20.70" height="33.38" fill="#f3faf0"/>
<rect x="474.80" y="261.16" width="20.70" height="33.38" fill="#f3faf0"/>
<rect x="495.20" y="261.16" width="20.70" height="33.38" fill="#e9f7e5"/>
<rect x="515.60" y="261.16" width="20.70" height="33.38" fill="#ecf8e8"/>
<rect x="536.00" y="261.16" width="20.70" height="33.38" fill="#ecf8e8"/>
<rect x="556.40" y="261.16" width="20.70" height="33.38" fill="#f0f9ed"/>
<rect x="576.80" y="261.16" width="20.70" height="33.38" fill="#f3faf0"/>
<rect x="87.20" y="294.24" width="20.70" height="33.38" fill="#a5db9f"/>
<rect x="107.60" y="294.24" width="20.70" height="33.38" fill="#dff3da"/>
<rect x="128.00" y="294.24" width="20.70" height="33.38" fill="#f3faf0"/>
<rect x="148.40" y="294.24" width="20.70" height="33.38" fill="#eaf7e6"/>
<rect x="168.80" y="294.24" width="20.70" height="33.38" fill="#f1faee"/>
<rect x="189.20" y="294.24" width="20.70" height="33.38" fill="#f4fbf2"/>
<rect x="209.60" y="294.24" width="20.70" height="33.38" fill="#e7f6e3"/>
<rect x="230.00" y="294.24" width="20.70" height="33.38" fill="#f3faf0"/>
<rect x="250.40" y="294.24" width="20.70" height="33.38" fill="#e4f5df"/>
<rect x="270.80" y="294.24" width="20.70" height="33.38" fill="#e7f6e3"/>
<rect x="291.20" y="294.24" width="20.70" height="33.38" fill="#f3faf0"/>
<rect x="311.60" y="294.24" width="20.70" height="33.38" fill="#dbf1d5"/>
<rect x="332.00" y="294.24" width="20.70" height="33.38" fill="#f4fbf2"/>
<rect x="352.40" y="294.24" width="20.70" height="33.38" fill="#d8f0d2"/>
<rect x="372.80" y="294.24" width="20.70" height="33.38" fill="#dff3da"/>
<rect x="393.20" y="294.24" width="20.70" height="33.38" fill="#f0f9ed"/>
<rect x="413.60" y="294.24" width="20.70" height="33.38" fill="#f1faee"/>
<rect x="434.00" y="294.24" width="20.70" height="33.38" fill="#f3faf0"/>
<rect x="454.40" y="294.24" width="20.70" height="33.38" fill="#f1faee"/>
<rect x="474.80" y="294.24" width="20.70" height="33.38" fill="#f1faee"/>
<rect x="495.20" y="294.24" width="20.70" height="33.38" fill="#f1faee"/>
<rect x="515.60" y="294.24" width="20.70" height="33.38" fill="#eff9eb"/>
<rect x="536.00" y="294.24" width="20.70" height="33.38" fill="#f3faf0"/>
<rect x="556.40" y="294.24" width="20.70" height="33.38" fill="#f0f9ed"/>
<rect x="576.80" y="294.24" width="20.70" height="33.38" fill="#f1faee"/>
<rect x="87.20" y="327.32" width="20.70" height="33.38" fill="#f0f9ed"/>
<rect x="107.60" y="327.32" width="20.70" height="33.38" fill="#e9f7e5"/>
<rect x="128.00" y="327.32" width="20.70" height="33.38" fill="#dbf1d5"/>
<rect x="148.40" y="327.32" width="20.70" height="33.38" fill="#ccebc6"/>
<rect x="168.80" y="327.32" width="20.70" height="33.38" fill="#eff9eb"/>
<rect x="189.20" y="327.32" width="20.70" height="33.38" fill="#e7f6e3"/>
<rect x="209.60" y="327.32" width="20.70" height="33.38" fill="#eaf7e6"/>
<rect x="230.00" y="327.32" width="20.70" height="33.38" fill="#f4fbf2"/>
<rect x="250.40" y="327.32" width="20.70" height="33.38" fill="#e7f6e3"/>
<rect x="270.80" y="327.32" width="20.70" height="33.38" fill="#ecf8e8"/>
<rect x="291.20" y="327.32" width="20.70" height="33.38" fill="#f0f9ed"/>
<rect x="311.60" y="327.32" width="20.70" height="33.38" fill="#f3faf0"/>
<rect x="332.00" y="327.32" width="20.70" height="33.38" fill="#eff9eb"/>
<rect x="352.40" y="327.32" width="20.70" height="33.38" fill="#f0f9ed"/>
<rect x="372.80" y="327.32" width="20.70" height="33.38" fill="#eff9eb"/>
<rect x="393.20" y="327.32" width="20.70" height="33.38" fill="#d3eecd"/>
<rect x="413.60" y="327.32" width="20.70" height="33.38" fill="#d8f0d2"/>
<rect x="434.00" y="327.32" width="20.70" height="33.38" fill="#f3faf0"/>
<rect x="454.40" y="327.32" width="20.70" height="33.38" fill="#e9f7e5"/>
<rect x="474.80" y="327.32" width="20.70" height="33.38" fill="#f1faee"/>
<rect x="495.20" y="327.32" width="20.70" height="33.38" fill="#f0f9ed"/>
<rect x="515.60" y="327.32" width="20.70" height="33.38" fill="#eff9eb"/>
<rect x="536.00" y="327.32" width="20.70" height="33.38" fill="#f3faf0"/>
<rect x="556.40" y="327.32" width="20.70" height="33.38" fill="#f3faf0"/>
<rect x="576.80" y="327.32" width="20.70" height="33.38" fill="#f1faee"/>
<rect x="87.20" y="360.40" width="20.70" height="33.38" fill="#b5e1ae"/>
<rect x="107.60" y="360.40" width="20.70" height="33.38" fill="#5bb86a"/>
<rect x="128.00" y="360.40" width="20.70" height="33.38" fill="#91d28e"/>
<rect x="148.40" y="360.40" width="20.70" height="33.38" fill="#a9dca3"/>
<rect x="168.80" y="360.40" width="20.70" height="33.38" fill="#98d594"/>
<rect x="189.20" y="360.40" width="20.70" height="33.38" fill="#c1e6ba"/>
<rect x="209.60" y="360.40" width="20.70" height="33.38" fill="#caeac3"/>
<rect x="230.00" y="360.40" width="20.70" height="33.38" fill="#e9f7e5"/>
<rect x="250.40" y="360.40" width="20.70" height="33.38" fill="#afdfa8"/>
<rect x="270.80" y="360.40" width="20.70" height="33.38" fill="#8ace88"/>
<rect x="291.20" y="360.40" width="20.70" height="33.38" fill="#ceecc8"/>
<rect x="311.60" y="360.40" width="20.70" height="33.38" fill="#68be70"/>
<rect x="332.00" y="360.40" width="20.70" height="33.38" fill="#86cc85"/>
<rect x="352.40" y="360.40" width="20.70" height="33.38" fill="#edf8ea"/>
<rect x="372.80" y="360.40" width="20.70" height="33.38" fill="#eaf7e6"/>
<rect x="393.20" y="360.40" width="20.70" height="33.38" fill="#edf8ea"/>
<rect x="413.60" y="360.40" width="20.70" height="33.38" fill="#f1faee"/>
<rect x="434.00" y="360.40" width="20.70" height="33.38" fill="#f3faf0"/>
<rect x="454.40" y="360.40" width="20.70" height="33.38" fill="#f4fbf2"/>
<rect x="474.80" y="360.40" width="20.70" height="33.38" fill="#ecf8e8"/>
<rect x="495.20" y="360.40" width="20.70" height="33.38" fill="#e9f7e5"/>
<rect x="515.60" y="360.40" width="20.70" height="33.38" fill="#d3eecd"/>
<rect x="536.00" y="360.40" width="20.70" height="33.38" fill="#e9f7e5"/>
<rect x="556.40" y="360.40" width="20.70" height="33.38" fill="#edf8ea"/>
<rect x="576.80" y="360.40" width="20.70" height="33.38" fill="#f1faee"/>
<line x1="69.2" y1="211.5" x2="87.2" y2="211.5" stroke="#000" stroke-width="1.6"/>
<line x1="69.2" y1="376.9" x2="87.2" y2="376.9" stroke="#000" stroke-width="1.6"/>
<line x1="78.2" y1="243.8" x2="78.2" y2="344.7" stroke="#000" stroke-width="1.6"/>
<line x1="78.2" y1="244.6" x2="87.2" y2="244.6" stroke="#000" stroke-width="1.6"/>
<line x1="78.2" y1="277.7" x2="87.2" y2="277.7" stroke="#000" stroke-width="1.6"/>
<line x1="78.2" y1="310.8" x2="87.2" y2="310.8" stroke="#000" stroke-width="1.6"/>
<line x1="78.2" y1="343.9" x2="87.2" y2="343.9" stroke="#000" stroke-width="1.6"/>
<line x1="69.2" y1="294.2" x2="78.2" y2="294.2" stroke="#000" stroke-width="1.6"/>
<text x="36.8" y="211.5" font-size="17.5" text-anchor="middle" transform="rotate(-90 36.8 211.5)">left</text>
<text x="57.9" y="211.5" font-size="17.5" text-anchor="middle" transform="rotate(-90 57.9 211.5)">hipp.</text>
<text x="36.8" y="294.2" font-size="17.5" text-anchor="middle" transform="rotate(-90 36.8 294.2)">left - right</text>
<text x="57.9" y="294.2" font-size="17.5" text-anchor="middle" transform="rotate(-90 57.9 294.2)">hipp.</text>
<text x="36.8" y="376.9" font-size="17.5" text-anchor="middle" transform="rotate(-90 36.8 376.9)">right</text>
<text x="57.9" y="376.9" font-size="17.5" text-anchor="middle" transform="rotate(-90 57.9 376.9)">hipp.</text>
<line x1="97.4" y1="393.5" x2="97.4" y2="397.5" stroke="#000" stroke-width="1.3"/>
<text x="97.4" y="410.6" font-size="14.8" text-anchor="middle">3</text>
<line x1="240.2" y1="393.5" x2="240.2" y2="397.5" stroke="#000" stroke-width="1.3"/>
<text x="240.2" y="410.6" font-size="14.8" text-anchor="middle">8</text>
<line x1="301.4" y1="393.5" x2="301.4" y2="397.5" stroke="#000" stroke-width="1.3"/>
<text x="301.4" y="410.6" font-size="14.8" text-anchor="middle">12</text>
<line x1="444.2" y1="393.5" x2="444.2" y2="397.5" stroke="#000" stroke-width="1.3"/>
<text x="444.2" y="410.6" font-size="14.8" text-anchor="middle">30</text>
<line x1="587.0" y1="393.5" x2="587.0" y2="397.5" stroke="#000" stroke-width="1.3"/>
<text x="587.0" y="410.6" font-size="14.8" text-anchor="middle">96</text>
<text x="342.2" y="433.8" font-size="18.1" text-anchor="middle">Frequency (Hz)</text>
<rect x="628.6" y="195.0" width="8.8" height="198.5" fill="url(#cbg)"/>
<text x="620.9" y="294.2" font-size="17.5" text-anchor="middle" transform="rotate(-90 620.9 294.2)">functional connectivity</text>
<text x="654.2" y="196.8" font-size="17.5" text-anchor="end" transform="rotate(-90 654.2 196.8)">0.5</text>
<text x="654.2" y="394.7" font-size="17.5" transform="rotate(-90 654.2 394.7)">0.0</text>
<text x="822.8" y="187.4" font-size="17.8" font-weight="bold">amplitude correlation</text>
<rect x="822.30" y="194.80" width="20.70" height="33.38" fill="#f1faee"/>
<rect x="842.70" y="194.80" width="20.70" height="33.38" fill="#ceecc8"/>
<rect x="863.10" y="194.80" width="20.70" height="33.38" fill="#eff9eb"/>
<rect x="883.50" y="194.80" width="20.70" height="33.38" fill="#f0f9ed"/>
<rect x="903.90" y="194.80" width="20.70" height="33.38" fill="#f3faf0"/>
<rect x="924.30" y="194.80" width="20.70" height="33.38" fill="#9fd899"/>
<rect x="944.70" y="194.80" width="20.70" height="33.38" fill="#98d594"/>
<rect x="965.10" y="194.80" width="20.70" height="33.38" fill="#6bc072"/>
<rect x="985.50" y="194.80" width="20.70" height="33.38" fill="#3fa95c"/>
<rect x="1005.90" y="194.80" width="20.70" height="33.38" fill="#077331"/>
<rect x="1026.30" y="194.80" width="20.70" height="33.38" fill="#228a44"/>
<rect x="1046.70" y="194.80" width="20.70" height="33.38" fill="#2f974e"/>
<rect x="1067.10" y="194.80" width="20.70" height="33.38" fill="#6bc072"/>
<rect x="1087.50" y="194.80" width="20.70" height="33.38" fill="#d3eecd"/>
<rect x="1107.90" y="194.80" width="20.70" height="33.38" fill="#f0f9ed"/>
<rect x="1128.30" y="194.80" width="20.70" height="33.38" fill="#e9f7e5"/>
<rect x="1148.70" y="194.80" width="20.70" height="33.38" fill="#ecf8e8"/>
<rect x="1169.10" y="194.80" width="20.70" height="33.38" fill="#e6f5e1"/>
<rect x="1189.50" y="194.80" width="20.70" height="33.38" fill="#eff9eb"/>
<rect x="1209.90" y="194.80" width="20.70" height="33.38" fill="#f3faf0"/>
<rect x="1230.30" y="194.80" width="20.70" height="33.38" fill="#f3faf0"/>
<rect x="1250.70" y="194.80" width="20.70" height="33.38" fill="#e9f7e5"/>
<rect x="1271.10" y="194.80" width="20.70" height="33.38" fill="#f0f9ed"/>
<rect x="1291.50" y="194.80" width="20.70" height="33.38" fill="#f3faf0"/>
<rect x="1311.90" y="194.80" width="20.70" height="33.38" fill="#eff9eb"/>
<rect x="822.30" y="227.88" width="20.70" height="33.38" fill="#e9f7e5"/>
<rect x="842.70" y="227.88" width="20.70" height="33.38" fill="#eaf7e6"/>
<rect x="863.10" y="227.88" width="20.70" height="33.38" fill="#f3faf0"/>
<rect x="883.50" y="227.88" width="20.70" height="33.38" fill="#e6f5e1"/>
<rect x="903.90" y="227.88" width="20.70" height="33.38" fill="#e9f7e5"/>
<rect x="924.30" y="227.88" width="20.70" height="33.38" fill="#eff9eb"/>
<rect x="944.70" y="227.88" width="20.70" height="33.38" fill="#d3eecd"/>
<rect x="965.10" y="227.88" width="20.70" height="33.38" fill="#dff3da"/>
<rect x="985.50" y="227.88" width="20.70" height="33.38" fill="#f1faee"/>
<rect x="1005.90" y="227.88" width="20.70" height="33.38" fill="#f1faee"/>
<rect x="1026.30" y="227.88" width="20.70" height="33.38" fill="#f1faee"/>
<rect x="1046.70" y="227.88" width="20.70" height="33.38" fill="#ecf8e8"/>
<rect x="1067.10" y="227.88" width="20.70" height="33.38" fill="#e9f7e5"/>
<rect x="1087.50" y="227.88" width="20.70" height="33.38" fill="#f1faee"/>
<rect x="1107.90" y="227.88" width="20.70" height="33.38" fill="#f0f9ed"/>
<rect x="1128.30" y="227.88" width="20.70" height="33.38" fill="#e9f7e5"/>
<rect x="1148.70" y="227.88" width="20.70" height="33.38" fill="#d3eecd"/>
<rect x="1169.10" y="227.88" width="20.70" height="33.38" fill="#ecf8e8"/>
<rect x="1189.50" y="227.88" width="20.70" height="33.38" fill="#f3faf0"/>
<rect x="1209.90" y="227.88" width="20.70" height="33.38" fill="#e6f5e1"/>
<rect x="1230.30" y="227.88" width="20.70" height="33.38" fill="#c4e8bd"/>
<rect x="1250.70" y="227.88" width="20.70" height="33.38" fill="#e9f7e5"/>
<rect x="1271.10" y="227.88" width="20.70" height="33.38" fill="#f1faee"/>
<rect x="1291.50" y="227.88" width="20.70" height="33.38" fill="#f3faf0"/>
<rect x="1311.90" y="227.88" width="20.70" height="33.38" fill="#f3faf0"/>
<rect x="822.30" y="260.96" width="20.70" height="33.38" fill="#e9f7e5"/>
<rect x="842.70" y="260.96" width="20.70" height="33.38" fill="#ecf8e8"/>
<rect x="863.10" y="260.96" width="20.70" height="33.38" fill="#dbf1d5"/>
<rect x="883.50" y="260.96" width="20.70" height="33.38" fill="#f4fbf2"/>
<rect x="903.90" y="260.96" width="20.70" height="33.38" fill="#dff3da"/>
<rect x="924.30" y="260.96" width="20.70" height="33.38" fill="#f0f9ed"/>
<rect x="944.70" y="260.96" width="20.70" height="33.38" fill="#e6f5e1"/>
<rect x="965.10" y="260.96" width="20.70" height="33.38" fill="#d8f0d2"/>
<rect x="985.50" y="260.96" width="20.70" height="33.38" fill="#d3eecd"/>
<rect x="1005.90" y="260.96" width="20.70" height="33.38" fill="#f0f9ed"/>
<rect x="1026.30" y="260.96" width="20.70" height="33.38" fill="#ceecc8"/>
<rect x="1046.70" y="260.96" width="20.70" height="33.38" fill="#ceecc8"/>
<rect x="1067.10" y="260.96" width="20.70" height="33.38" fill="#e9f7e5"/>
<rect x="1087.50" y="260.96" width="20.70" height="33.38" fill="#e9f7e5"/>
<rect x="1107.90" y="260.96" width="20.70" height="33.38" fill="#ecf8e8"/>
<rect x="1128.30" y="260.96" width="20.70" height="33.38" fill="#dbf1d5"/>
<rect x="1148.70" y="260.96" width="20.70" height="33.38" fill="#d3eecd"/>
<rect x="1169.10" y="260.96" width="20.70" height="33.38" fill="#dbf1d5"/>
<rect x="1189.50" y="260.96" width="20.70" height="33.38" fill="#edf8ea"/>
<rect x="1209.90" y="260.96" width="20.70" height="33.38" fill="#eaf7e6"/>
<rect x="1230.30" y="260.96" width="20.70" height="33.38" fill="#c1e6ba"/>
<rect x="1250.70" y="260.96" width="20.70" height="33.38" fill="#e2f4dd"/>
<rect x="1271.10" y="260.96" width="20.70" height="33.38" fill="#eaf7e6"/>
<rect x="1291.50" y="260.96" width="20.70" height="33.38" fill="#eaf7e6"/>
<rect x="1311.90" y="260.96" width="20.70" height="33.38" fill="#eaf7e6"/>
<rect x="822.30" y="294.04" width="20.70" height="33.38" fill="#e9f7e5"/>
<rect x="842.70" y="294.04" width="20.70" height="33.38" fill="#f0f9ed"/>
<rect x="863.10" y="294.04" width="20.70" height="33.38" fill="#b8e3b2"/>
<rect x="883.50" y="294.04" width="20.70" height="33.38" fill="#b2e0ac"/>
<rect x="903.90" y="294.04" width="20.70" height="33.38" fill="#ecf8e8"/>
<rect x="924.30" y="294.04" width="20.70" height="33.38" fill="#f3faf0"/>
<rect x="944.70" y="294.04" width="20.70" height="33.38" fill="#f4fbf2"/>
<rect x="965.10" y="294.04" width="20.70" height="33.38" fill="#f0f9ed"/>
<rect x="985.50" y="294.04" width="20.70" height="33.38" fill="#edf8ea"/>
<rect x="1005.90" y="294.04" width="20.70" height="33.38" fill="#f3faf0"/>
<rect x="1026.30" y="294.04" width="20.70" height="33.38" fill="#f3faf0"/>
<rect x="1046.70" y="294.04" width="20.70" height="33.38" fill="#ddf2d8"/>
<rect x="1067.10" y="294.04" width="20.70" height="33.38" fill="#f3faf0"/>
<rect x="1087.50" y="294.04" width="20.70" height="33.38" fill="#ccebc6"/>
<rect x="1107.90" y="294.04" width="20.70" height="33.38" fill="#e4f5df"/>
<rect x="1128.30" y="294.04" width="20.70" height="33.38" fill="#f3faf0"/>
<rect x="1148.70" y="294.04" width="20.70" height="33.38" fill="#f3faf0"/>
<rect x="1169.10" y="294.04" width="20.70" height="33.38" fill="#f3faf0"/>
<rect x="1189.50" y="294.04" width="20.70" height="33.38" fill="#f1faee"/>
<rect x="1209.90" y="294.04" width="20.70" height="33.38" fill="#f1faee"/>
<rect x="1230.30" y="294.04" width="20.70" height="33.38" fill="#eff9eb"/>
<rect x="1250.70" y="294.04" width="20.70" height="33.38" fill="#eff9eb"/>
<rect x="1271.10" y="294.04" width="20.70" height="33.38" fill="#edf8ea"/>
<rect x="1291.50" y="294.04" width="20.70" height="33.38" fill="#ecf8e8"/>
<rect x="1311.90" y="294.04" width="20.70" height="33.38" fill="#eff9eb"/>
<rect x="822.30" y="327.12" width="20.70" height="33.38" fill="#6bc072"/>
<rect x="842.70" y="327.12" width="20.70" height="33.38" fill="#ceecc8"/>
<rect x="863.10" y="327.12" width="20.70" height="33.38" fill="#d3eecd"/>
<rect x="883.50" y="327.12" width="20.70" height="33.38" fill="#b2e0ac"/>
<rect x="903.90" y="327.12" width="20.70" height="33.38" fill="#ceecc8"/>
<rect x="924.30" y="327.12" width="20.70" height="33.38" fill="#edf8ea"/>
<rect x="944.70" y="327.12" width="20.70" height="33.38" fill="#ecf8e8"/>
<rect x="965.10" y="327.12" width="20.70" height="33.38" fill="#f3faf0"/>
<rect x="985.50" y="327.12" width="20.70" height="33.38" fill="#f4fbf2"/>
<rect x="1005.90" y="327.12" width="20.70" height="33.38" fill="#f1faee"/>
<rect x="1026.30" y="327.12" width="20.70" height="33.38" fill="#f3faf0"/>
<rect x="1046.70" y="327.12" width="20.70" height="33.38" fill="#dff3da"/>
<rect x="1067.10" y="327.12" width="20.70" height="33.38" fill="#e6f5e1"/>
<rect x="1087.50" y="327.12" width="20.70" height="33.38" fill="#f3faf0"/>
<rect x="1107.90" y="327.12" width="20.70" height="33.38" fill="#f1faee"/>
<rect x="1128.30" y="327.12" width="20.70" height="33.38" fill="#f1faee"/>
<rect x="1148.70" y="327.12" width="20.70" height="33.38" fill="#dbf1d5"/>
<rect x="1169.10" y="327.12" width="20.70" height="33.38" fill="#f0f9ed"/>
<rect x="1189.50" y="327.12" width="20.70" height="33.38" fill="#ecf8e8"/>
<rect x="1209.90" y="327.12" width="20.70" height="33.38" fill="#f3faf0"/>
<rect x="1230.30" y="327.12" width="20.70" height="33.38" fill="#f3faf0"/>
<rect x="1250.70" y="327.12" width="20.70" height="33.38" fill="#f0f9ed"/>
<rect x="1271.10" y="327.12" width="20.70" height="33.38" fill="#e9f7e5"/>
<rect x="1291.50" y="327.12" width="20.70" height="33.38" fill="#e9f7e5"/>
<rect x="1311.90" y="327.12" width="20.70" height="33.38" fill="#ecf8e8"/>
<rect x="822.30" y="360.20" width="20.70" height="33.38" fill="#004d1f"/>
<rect x="842.70" y="360.20" width="20.70" height="33.38" fill="#004d1f"/>
<rect x="863.10" y="360.20" width="20.70" height="33.38" fill="#004a1e"/>
<rect x="883.50" y="360.20" width="20.70" height="33.38" fill="#004a1e"/>
<rect x="903.90" y="360.20" width="20.70" height="33.38" fill="#00471c"/>
<rect x="924.30" y="360.20" width="20.70" height="33.38" fill="#00441b"/>
<rect x="944.70" y="360.20" width="20.70" height="33.38" fill="#00441b"/>
<rect x="965.10" y="360.20" width="20.70" height="33.38" fill="#289049"/>
<rect x="985.50" y="360.20" width="20.70" height="33.38" fill="#2a924a"/>
<rect x="1005.90" y="360.20" width="20.70" height="33.38" fill="#208843"/>
<rect x="1026.30" y="360.20" width="20.70" height="33.38" fill="#53b466"/>
<rect x="1046.70" y="360.20" width="20.70" height="33.38" fill="#17813d"/>
<rect x="1067.10" y="360.20" width="20.70" height="33.38" fill="#03702e"/>
<rect x="1087.50" y="360.20" width="20.70" height="33.38" fill="#004a1e"/>
<rect x="1107.90" y="360.20" width="20.70" height="33.38" fill="#004d1f"/>
<rect x="1128.30" y="360.20" width="20.70" height="33.38" fill="#00471c"/>
<rect x="1148.70" y="360.20" width="20.70" height="33.38" fill="#00471c"/>
<rect x="1169.10" y="360.20" width="20.70" height="33.38" fill="#005120"/>
<rect x="1189.50" y="360.20" width="20.70" height="33.38" fill="#005e26"/>
<rect x="1209.90" y="360.20" width="20.70" height="33.38" fill="#005e26"/>
<rect x="1230.30" y="360.20" width="20.70" height="33.38" fill="#006428"/>
<rect x="1250.70" y="360.20" width="20.70" height="33.38" fill="#004a1e"/>
<rect x="1271.10" y="360.20" width="20.70" height="33.38" fill="#0c7735"/>
<rect x="1291.50" y="360.20" width="20.70" height="33.38" fill="#73c476"/>
<rect x="1311.90" y="360.20" width="20.70" height="33.38" fill="#afdfa8"/>
<line x1="804.3" y1="211.3" x2="822.3" y2="211.3" stroke="#000" stroke-width="1.6"/>
<line x1="804.3" y1="376.7" x2="822.3" y2="376.7" stroke="#d5121c" stroke-width="1.6"/>
<line x1="813.3" y1="243.6" x2="813.3" y2="344.5" stroke="#d5121c" stroke-width="1.6"/>
<line x1="813.3" y1="244.4" x2="822.3" y2="244.4" stroke="#d5121c" stroke-width="1.6"/>
<line x1="813.3" y1="277.5" x2="822.3" y2="277.5" stroke="#d5121c" stroke-width="1.6"/>
<line x1="813.3" y1="310.6" x2="822.3" y2="310.6" stroke="#d5121c" stroke-width="1.6"/>
<line x1="813.3" y1="343.7" x2="822.3" y2="343.7" stroke="#d5121c" stroke-width="1.6"/>
<line x1="804.3" y1="294.0" x2="813.3" y2="294.0" stroke="#d5121c" stroke-width="1.6"/>
<text x="773.3" y="211.3" font-size="17.5" text-anchor="middle" transform="rotate(-90 773.3 211.3)">left</text>
<text x="793.9" y="211.3" font-size="17.5" text-anchor="middle" transform="rotate(-90 793.9 211.3)">hipp.</text>
<text x="773.3" y="294.0" font-size="17.5" text-anchor="middle" fill="#d5121c" transform="rotate(-90 773.3 294.0)">left - right</text>
<text x="793.9" y="294.0" font-size="17.5" text-anchor="middle" fill="#d5121c" transform="rotate(-90 793.9 294.0)">hipp.</text>
<text x="773.3" y="376.7" font-size="17.5" text-anchor="middle" fill="#d5121c" transform="rotate(-90 773.3 376.7)">right</text>
<text x="793.9" y="376.7" font-size="17.5" text-anchor="middle" fill="#d5121c" transform="rotate(-90 793.9 376.7)">hipp.</text>
<line x1="832.5" y1="393.3" x2="832.5" y2="397.3" stroke="#000" stroke-width="1.3"/>
<text x="832.5" y="410.4" font-size="14.8" text-anchor="middle">3</text>
<line x1="975.3" y1="393.3" x2="975.3" y2="397.3" stroke="#000" stroke-width="1.3"/>
<text x="975.3" y="410.4" font-size="14.8" text-anchor="middle">8</text>
<line x1="1036.5" y1="393.3" x2="1036.5" y2="397.3" stroke="#000" stroke-width="1.3"/>
<text x="1036.5" y="410.4" font-size="14.8" text-anchor="middle">12</text>
<line x1="1179.3" y1="393.3" x2="1179.3" y2="397.3" stroke="#000" stroke-width="1.3"/>
<text x="1179.3" y="410.4" font-size="14.8" text-anchor="middle">30</text>
<line x1="1322.1" y1="393.3" x2="1322.1" y2="397.3" stroke="#000" stroke-width="1.3"/>
<text x="1322.1" y="410.4" font-size="14.8" text-anchor="middle">96</text>
<text x="1077.3" y="433.6" font-size="18.1" text-anchor="middle">Frequency (Hz)</text>
<rect x="1363.7" y="194.8" width="8.8" height="198.5" fill="url(#cbg)"/>
<text x="1356.0" y="294.0" font-size="17.5" text-anchor="middle" transform="rotate(-90 1356.0 294.0)">functional connectivity</text>
<text x="1389.3" y="196.6" font-size="17.5" text-anchor="end" transform="rotate(-90 1389.3 196.6)">0.5</text>
<text x="1389.3" y="394.5" font-size="17.5" transform="rotate(-90 1389.3 394.5)">0.0</text>
<text x="1585.1" y="187.6" font-size="17.8" font-weight="bold">amplitude correlation</text>
<rect x="1584.60" y="195.00" width="20.70" height="33.38" fill="#eff9eb"/>
<rect x="1605.00" y="195.00" width="20.70" height="33.38" fill="#c7e9c0"/>
<rect x="1625.40" y="195.00" width="20.70" height="33.38" fill="#e9f7e5"/>
<rect x="1645.80" y="195.00" width="20.70" height="33.38" fill="#d3eecd"/>
<rect x="1666.20" y="195.00" width="20.70" height="33.38" fill="#e9f7e5"/>
<rect x="1686.60" y="195.00" width="20.70" height="33.38" fill="#7fc97f"/>
<rect x="1707.00" y="195.00" width="20.70" height="33.38" fill="#91d28e"/>
<rect x="1727.40" y="195.00" width="20.70" height="33.38" fill="#73c476"/>
<rect x="1747.80" y="195.00" width="20.70" height="33.38" fill="#5bb86a"/>
<rect x="1768.20" y="195.00" width="20.70" height="33.38" fill="#17813d"/>
<rect x="1788.60" y="195.00" width="20.70" height="33.38" fill="#228a44"/>
<rect x="1809.00" y="195.00" width="20.70" height="33.38" fill="#369f54"/>
<rect x="1829.40" y="195.00" width="20.70" height="33.38" fill="#60ba6c"/>
<rect x="1849.80" y="195.00" width="20.70" height="33.38" fill="#d3eecd"/>
<rect x="1870.20" y="195.00" width="20.70" height="33.38" fill="#eff9eb"/>
<rect x="1890.60" y="195.00" width="20.70" height="33.38" fill="#eaf7e6"/>
<rect x="1911.00" y="195.00" width="20.70" height="33.38" fill="#e9f7e5"/>
<rect x="1931.40" y="195.00" width="20.70" height="33.38" fill="#d3eecd"/>
<rect x="1951.80" y="195.00" width="20.70" height="33.38" fill="#e9f7e5"/>
<rect x="1972.20" y="195.00" width="20.70" height="33.38" fill="#ecf8e8"/>
<rect x="1992.60" y="195.00" width="20.70" height="33.38" fill="#eff9eb"/>
<rect x="2013.00" y="195.00" width="20.70" height="33.38" fill="#e9f7e5"/>
<rect x="2033.40" y="195.00" width="20.70" height="33.38" fill="#f1faee"/>
<rect x="2053.80" y="195.00" width="20.70" height="33.38" fill="#f4fbf2"/>
<rect x="2074.20" y="195.00" width="20.70" height="33.38" fill="#ecf8e8"/>
<rect x="1584.60" y="228.08" width="20.70" height="33.38" fill="#d8f0d2"/>
<rect x="1605.00" y="228.08" width="20.70" height="33.38" fill="#ddf2d8"/>
<rect x="1625.40" y="228.08" width="20.70" height="33.38" fill="#f3faf0"/>
<rect x="1645.80" y="228.08" width="20.70" height="33.38" fill="#b8e3b2"/>
<rect x="1666.20" y="228.08" width="20.70" height="33.38" fill="#ecf8e8"/>
<rect x="1686.60" y="228.08" width="20.70" height="33.38" fill="#f4fbf2"/>
<rect x="1707.00" y="228.08" width="20.70" height="33.38" fill="#edf8ea"/>
<rect x="1727.40" y="228.08" width="20.70" height="33.38" fill="#e9f7e5"/>
<rect x="1747.80" y="228.08" width="20.70" height="33.38" fill="#b2e0ac"/>
<rect x="1768.20" y="228.08" width="20.70" height="33.38" fill="#b8e3b2"/>
<rect x="1788.60" y="228.08" width="20.70" height="33.38" fill="#f0f9ed"/>
<rect x="1809.00" y="228.08" width="20.70" height="33.38" fill="#f3faf0"/>
<rect x="1829.40" y="228.08" width="20.70" height="33.38" fill="#f0f9ed"/>
<rect x="1849.80" y="228.08" width="20.70" height="33.38" fill="#edf8ea"/>
<rect x="1870.20" y="228.08" width="20.70" height="33.38" fill="#f0f9ed"/>
<rect x="1890.60" y="228.08" width="20.70" height="33.38" fill="#ecf8e8"/>
<rect x="1911.00" y="228.08" width="20.70" height="33.38" fill="#e2f4dd"/>
<rect x="1931.40" y="228.08" width="20.70" height="33.38" fill="#e9f7e5"/>
<rect x="1951.80" y="228.08" width="20.70" height="33.38" fill="#f1faee"/>
<rect x="1972.20" y="228.08" width="20.70" height="33.38" fill="#e9f7e5"/>
<rect x="1992.60" y="228.08" width="20.70" height="33.38" fill="#b8e3b2"/>
<rect x="2013.00" y="228.08" width="20.70" height="33.38" fill="#d3eecd"/>
<rect x="2033.40" y="228.08" width="20.70" height="33.38" fill="#ecf8e8"/>
<rect x="2053.80" y="228.08" width="20.70" height="33.38" fill="#edf8ea"/>
<rect x="2074.20" y="228.08" width="20.70" height="33.38" fill="#f0f9ed"/>
<rect x="1584.60" y="261.16" width="20.70" height="33.38" fill="#eff9eb"/>
<rect x="1605.00" y="261.16" width="20.70" height="33.38" fill="#f3faf0"/>
<rect x="1625.40" y="261.16" width="20.70" height="33.38" fill="#edf8ea"/>
<rect x="1645.80" y="261.16" width="20.70" height="33.38" fill="#c7e9c0"/>
<rect x="1666.20" y="261.16" width="20.70" height="33.38" fill="#d3eecd"/>
<rect x="1686.60" y="261.16" width="20.70" height="33.38" fill="#e9f7e5"/>
<rect x="1707.00" y="261.16" width="20.70" height="33.38" fill="#f0f9ed"/>
<rect x="1727.40" y="261.16" width="20.70" height="33.38" fill="#f4fbf2"/>
<rect x="1747.80" y="261.16" width="20.70" height="33.38" fill="#f4fbf2"/>
<rect x="1768.20" y="261.16" width="20.70" height="33.38" fill="#dff3da"/>
<rect x="1788.60" y="261.16" width="20.70" height="33.38" fill="#c1e6ba"/>
<rect x="1809.00" y="261.16" width="20.70" height="33.38" fill="#e2f4dd"/>
<rect x="1829.40" y="261.16" width="20.70" height="33.38" fill="#f0f9ed"/>
<rect x="1849.80" y="261.16" width="20.70" height="33.38" fill="#ecf8e8"/>
<rect x="1870.20" y="261.16" width="20.70" height="33.38" fill="#ecf8e8"/>
<rect x="1890.60" y="261.16" width="20.70" height="33.38" fill="#e9f7e5"/>
<rect x="1911.00" y="261.16" width="20.70" height="33.38" fill="#e6f5e1"/>
<rect x="1931.40" y="261.16" width="20.70" height="33.38" fill="#ddf2d8"/>
<rect x="1951.80" y="261.16" width="20.70" height="33.38" fill="#f0f9ed"/>
<rect x="1972.20" y="261.16" width="20.70" height="33.38" fill="#f0f9ed"/>
<rect x="1992.60" y="261.16" width="20.70" height="33.38" fill="#a5db9f"/>
<rect x="2013.00" y="261.16" width="20.70" height="33.38" fill="#c4e8bd"/>
<rect x="2033.40" y="261.16" width="20.70" height="33.38" fill="#e9f7e5"/>
<rect x="2053.80" y="261.16" width="20.70" height="33.38" fill="#e4f5df"/>
<rect x="2074.20" y="261.16" width="20.70" height="33.38" fill="#e2f4dd"/>
<rect x="1584.60" y="294.24" width="20.70" height="33.38" fill="#eff9eb"/>
<rect x="1605.00" y="294.24" width="20.70" height="33.38" fill="#d3eecd"/>
<rect x="1625.40" y="294.24" width="20.70" height="33.38" fill="#caeac3"/>
<rect x="1645.80" y="294.24" width="20.70" height="33.38" fill="#c1e6ba"/>
<rect x="1666.20" y="294.24" width="20.70" height="33.38" fill="#ceecc8"/>
<rect x="1686.60" y="294.24" width="20.70" height="33.38" fill="#ccebc6"/>
<rect x="1707.00" y="294.24" width="20.70" height="33.38" fill="#c7e9c0"/>
<rect x="1727.40" y="294.24" width="20.70" height="33.38" fill="#dff3da"/>
<rect x="1747.80" y="294.24" width="20.70" height="33.38" fill="#8ace88"/>
<rect x="1768.20" y="294.24" width="20.70" height="33.38" fill="#d3eecd"/>
<rect x="1788.60" y="294.24" width="20.70" height="33.38" fill="#f1faee"/>
<rect x="1809.00" y="294.24" width="20.70" height="33.38" fill="#f3faf0"/>
<rect x="1829.40" y="294.24" width="20.70" height="33.38" fill="#ceecc8"/>
<rect x="1849.80" y="294.24" width="20.70" height="33.38" fill="#abdda5"/>
<rect x="1870.20" y="294.24" width="20.70" height="33.38" fill="#d3eecd"/>
<rect x="1890.60" y="294.24" width="20.70" height="33.38" fill="#e9f7e5"/>
<rect x="1911.00" y="294.24" width="20.70" height="33.38" fill="#f1faee"/>
<rect x="1931.40" y="294.24" width="20.70" height="33.38" fill="#edf8ea"/>
<rect x="1951.80" y="294.24" width="20.70" height="33.38" fill="#edf8ea"/>
<rect x="1972.20" y="294.24" width="20.70" height="33.38" fill="#f3faf0"/>
<rect x="1992.60" y="294.24" width="20.70" height="33.38" fill="#f3faf0"/>
<rect x="2013.00" y="294.24" width="20.70" height="33.38" fill="#f1faee"/>
<rect x="2033.40" y="294.24" width="20.70" height="33.38" fill="#f0f9ed"/>
<rect x="2053.80" y="294.24" width="20.70" height="33.38" fill="#f0f9ed"/>
<rect x="2074.20" y="294.24" width="20.70" height="33.38" fill="#eff9eb"/>
<rect x="1584.60" y="327.32" width="20.70" height="33.38" fill="#afdfa8"/>
<rect x="1605.00" y="327.32" width="20.70" height="33.38" fill="#afdfa8"/>
<rect x="1625.40" y="327.32" width="20.70" height="33.38" fill="#edf8ea"/>
<rect x="1645.80" y="327.32" width="20.70" height="33.38" fill="#bee5b8"/>
<rect x="1666.20" y="327.32" width="20.70" height="33.38" fill="#7cc87c"/>
<rect x="1686.60" y="327.32" width="20.70" height="33.38" fill="#8ace88"/>
<rect x="1707.00" y="327.32" width="20.70" height="33.38" fill="#a3da9d"/>
<rect x="1727.40" y="327.32" width="20.70" height="33.38" fill="#d3eecd"/>
<rect x="1747.80" y="327.32" width="20.70" height="33.38" fill="#f1faee"/>
<rect x="1768.20" y="327.32" width="20.70" height="33.38" fill="#f0f9ed"/>
<rect x="1788.60" y="327.32" width="20.70" height="33.38" fill="#edf8ea"/>
<rect x="1809.00" y="327.32" width="20.70" height="33.38" fill="#f4fbf2"/>
<rect x="1829.40" y="327.32" width="20.70" height="33.38" fill="#f0f9ed"/>
<rect x="1849.80" y="327.32" width="20.70" height="33.38" fill="#c1e6ba"/>
<rect x="1870.20" y="327.32" width="20.70" height="33.38" fill="#ecf8e8"/>
<rect x="1890.60" y="327.32" width="20.70" height="33.38" fill="#f1faee"/>
<rect x="1911.00" y="327.32" width="20.70" height="33.38" fill="#f0f9ed"/>
<rect x="1931.40" y="327.32" width="20.70" height="33.38" fill="#f0f9ed"/>
<rect x="1951.80" y="327.32" width="20.70" height="33.38" fill="#e6f5e1"/>
<rect x="1972.20" y="327.32" width="20.70" height="33.38" fill="#edf8ea"/>
<rect x="1992.60" y="327.32" width="20.70" height="33.38" fill="#f1faee"/>
<rect x="2013.00" y="327.32" width="20.70" height="33.38" fill="#f0f9ed"/>
<rect x="2033.40" y="327.32" width="20.70" height="33.38" fill="#ddf2d8"/>
<rect x="2053.80" y="327.32" width="20.70" height="33.38" fill="#e6f5e1"/>
<rect x="2074.20" y="327.32" width="20.70" height="33.38" fill="#e9f7e5"/>
<rect x="1584.60" y="360.40" width="20.70" height="33.38" fill="#004a1e"/>
<rect x="1605.00" y="360.40" width="20.70" height="33.38" fill="#004a1e"/>
<rect x="1625.40" y="360.40" width="20.70" height="33.38" fill="#00471c"/>
<rect x="1645.80" y="360.40" width="20.70" height="33.38" fill="#00471c"/>
<rect x="1666.20" y="360.40" width="20.70" height="33.38" fill="#00471c"/>
<rect x="1686.60" y="360.40" width="20.70" height="33.38" fill="#00471c"/>
<rect x="1707.00" y="360.40" width="20.70" height="33.38" fill="#004a1e"/>
<rect x="1727.40" y="360.40" width="20.70" height="33.38" fill="#00471c"/>
<rect x="1747.80" y="360.40" width="20.70" height="33.38" fill="#00471c"/>
<rect x="1768.20" y="360.40" width="20.70" height="33.38" fill="#157f3b"/>
<rect x="1788.60" y="360.40" width="20.70" height="33.38" fill="#157f3b"/>
<rect x="1809.00" y="360.40" width="20.70" height="33.38" fill="#005a24"/>
<rect x="1829.40" y="360.40" width="20.70" height="33.38" fill="#006428"/>
<rect x="1849.80" y="360.40" width="20.70" height="33.38" fill="#00471c"/>
<rect x="1870.20" y="360.40" width="20.70" height="33.38" fill="#00471c"/>
<rect x="1890.60" y="360.40" width="20.70" height="33.38" fill="#00471c"/>
<rect x="1911.00" y="360.40" width="20.70" height="33.38" fill="#004d1f"/>
<rect x="1931.40" y="360.40" width="20.70" height="33.38" fill="#004a1e"/>
<rect x="1951.80" y="360.40" width="20.70" height="33.38" fill="#004a1e"/>
<rect x="1972.20" y="360.40" width="20.70" height="33.38" fill="#004a1e"/>
<rect x="1992.60" y="360.40" width="20.70" height="33.38" fill="#004a1e"/>
<rect x="2013.00" y="360.40" width="20.70" height="33.38" fill="#004d1f"/>
<rect x="2033.40" y="360.40" width="20.70" height="33.38" fill="#004a1e"/>
<rect x="2053.80" y="360.40" width="20.70" height="33.38" fill="#3ea75a"/>
<rect x="2074.20" y="360.40" width="20.70" height="33.38" fill="#86cc85"/>
<line x1="1566.6" y1="211.5" x2="1584.6" y2="211.5" stroke="#000" stroke-width="1.6"/>
<line x1="1566.6" y1="376.9" x2="1584.6" y2="376.9" stroke="#d5121c" stroke-width="1.6"/>
<line x1="1575.6" y1="243.8" x2="1575.6" y2="344.7" stroke="#d5121c" stroke-width="1.6"/>
<line x1="1575.6" y1="244.6" x2="1584.6" y2="244.6" stroke="#d5121c" stroke-width="1.6"/>
<line x1="1575.6" y1="277.7" x2="1584.6" y2="277.7" stroke="#d5121c" stroke-width="1.6"/>
<line x1="1575.6" y1="310.8" x2="1584.6" y2="310.8" stroke="#d5121c" stroke-width="1.6"/>
<line x1="1575.6" y1="343.9" x2="1584.6" y2="343.9" stroke="#d5121c" stroke-width="1.6"/>
<line x1="1566.6" y1="294.2" x2="1575.6" y2="294.2" stroke="#d5121c" stroke-width="1.6"/>
<text x="1535.6" y="211.5" font-size="17.5" text-anchor="middle" transform="rotate(-90 1535.6 211.5)">left</text>
<text x="1556.2" y="211.5" font-size="17.5" text-anchor="middle" transform="rotate(-90 1556.2 211.5)">hipp.</text>
<text x="1535.6" y="294.2" font-size="17.5" text-anchor="middle" fill="#d5121c" transform="rotate(-90 1535.6 294.2)">left - right</text>
<text x="1556.2" y="294.2" font-size="17.5" text-anchor="middle" fill="#d5121c" transform="rotate(-90 1556.2 294.2)">hipp.</text>
<text x="1535.6" y="376.9" font-size="17.5" text-anchor="middle" fill="#d5121c" transform="rotate(-90 1535.6 376.9)">right</text>
<text x="1556.2" y="376.9" font-size="17.5" text-anchor="middle" fill="#d5121c" transform="rotate(-90 1556.2 376.9)">hipp.</text>
<line x1="1594.8" y1="393.5" x2="1594.8" y2="397.5" stroke="#000" stroke-width="1.3"/>
<text x="1594.8" y="410.6" font-size="14.8" text-anchor="middle">3</text>
<line x1="1737.6" y1="393.5" x2="1737.6" y2="397.5" stroke="#000" stroke-width="1.3"/>
<text x="1737.6" y="410.6" font-size="14.8" text-anchor="middle">8</text>
<line x1="1798.8" y1="393.5" x2="1798.8" y2="397.5" stroke="#000" stroke-width="1.3"/>
<text x="1798.8" y="410.6" font-size="14.8" text-anchor="middle">12</text>
<line x1="1941.6" y1="393.5" x2="1941.6" y2="397.5" stroke="#000" stroke-width="1.3"/>
<text x="1941.6" y="410.6" font-size="14.8" text-anchor="middle">30</text>
<line x1="2084.4" y1="393.5" x2="2084.4" y2="397.5" stroke="#000" stroke-width="1.3"/>
<text x="2084.4" y="410.6" font-size="14.8" text-anchor="middle">96</text>
<text x="1839.6" y="433.8" font-size="18.1" text-anchor="middle">Frequency (Hz)</text>
<rect x="2126.0" y="195.0" width="8.8" height="198.5" fill="url(#cbg)"/>
<text x="2118.3" y="294.2" font-size="17.5" text-anchor="middle" transform="rotate(-90 2118.3 294.2)">functional connectivity</text>
<text x="2151.6" y="196.8" font-size="17.5" text-anchor="end" transform="rotate(-90 2151.6 196.8)">0.5</text>
<text x="2151.6" y="394.7" font-size="17.5" transform="rotate(-90 2151.6 394.7)">0.0</text>
<text x="84.3" y="475.8" font-size="17.8" font-weight="bold">coherence</text>
<rect x="83.80" y="483.20" width="20.70" height="33.38" fill="#3ea75a"/>
<rect x="104.20" y="483.20" width="20.70" height="33.38" fill="#4bb062"/>
<rect x="124.60" y="483.20" width="20.70" height="33.38" fill="#83cb82"/>
<rect x="145.00" y="483.20" width="20.70" height="33.38" fill="#83cb82"/>
<rect x="165.40" y="483.20" width="20.70" height="33.38" fill="#83cb82"/>
<rect x="185.80" y="483.20" width="20.70" height="33.38" fill="#8ace88"/>
<rect x="206.20" y="483.20" width="20.70" height="33.38" fill="#63bc6e"/>
<rect x="226.60" y="483.20" width="20.70" height="33.38" fill="#208843"/>
<rect x="247.00" y="483.20" width="20.70" height="33.38" fill="#005a24"/>
<rect x="267.40" y="483.20" width="20.70" height="33.38" fill="#00471c"/>
<rect x="287.80" y="483.20" width="20.70" height="33.38" fill="#00471c"/>
<rect x="308.20" y="483.20" width="20.70" height="33.38" fill="#006428"/>
<rect x="328.60" y="483.20" width="20.70" height="33.38" fill="#1a843f"/>
<rect x="349.00" y="483.20" width="20.70" height="33.38" fill="#6bc072"/>
<rect x="369.40" y="483.20" width="20.70" height="33.38" fill="#b8e3b2"/>
<rect x="389.80" y="483.20" width="20.70" height="33.38" fill="#b8e3b2"/>
<rect x="410.20" y="483.20" width="20.70" height="33.38" fill="#bee5b8"/>
<rect x="430.60" y="483.20" width="20.70" height="33.38" fill="#b8e3b2"/>
<rect x="451.00" y="483.20" width="20.70" height="33.38" fill="#b2e0ac"/>
<rect x="471.40" y="483.20" width="20.70" height="33.38" fill="#abdda5"/>
<rect x="491.80" y="483.20" width="20.70" height="33.38" fill="#ceecc8"/>
<rect x="512.20" y="483.20" width="20.70" height="33.38" fill="#d8f0d2"/>
<rect x="532.60" y="483.20" width="20.70" height="33.38" fill="#e4f5df"/>
<rect x="553.00" y="483.20" width="20.70" height="33.38" fill="#e6f5e1"/>
<rect x="573.40" y="483.20" width="20.70" height="33.38" fill="#e2f4dd"/>
<rect x="83.80" y="516.28" width="20.70" height="33.38" fill="#caeac3"/>
<rect x="104.20" y="516.28" width="20.70" height="33.38" fill="#d3eecd"/>
<rect x="124.60" y="516.28" width="20.70" height="33.38" fill="#dbf1d5"/>
<rect x="145.00" y="516.28" width="20.70" height="33.38" fill="#dff3da"/>
<rect x="165.40" y="516.28" width="20.70" height="33.38" fill="#e4f5df"/>
<rect x="185.80" y="516.28" width="20.70" height="33.38" fill="#f0f9ed"/>
<rect x="206.20" y="516.28" width="20.70" height="33.38" fill="#d8f0d2"/>
<rect x="226.60" y="516.28" width="20.70" height="33.38" fill="#e9f7e5"/>
<rect x="247.00" y="516.28" width="20.70" height="33.38" fill="#ecf8e8"/>
<rect x="267.40" y="516.28" width="20.70" height="33.38" fill="#d8f0d2"/>
<rect x="287.80" y="516.28" width="20.70" height="33.38" fill="#e9f7e5"/>
<rect x="308.20" y="516.28" width="20.70" height="33.38" fill="#d3eecd"/>
<rect x="328.60" y="516.28" width="20.70" height="33.38" fill="#afdfa8"/>
<rect x="349.00" y="516.28" width="20.70" height="33.38" fill="#caeac3"/>
<rect x="369.40" y="516.28" width="20.70" height="33.38" fill="#e9f7e5"/>
<rect x="389.80" y="516.28" width="20.70" height="33.38" fill="#f3faf0"/>
<rect x="410.20" y="516.28" width="20.70" height="33.38" fill="#eff9eb"/>
<rect x="430.60" y="516.28" width="20.70" height="33.38" fill="#edf8ea"/>
<rect x="451.00" y="516.28" width="20.70" height="33.38" fill="#f3faf0"/>
<rect x="471.40" y="516.28" width="20.70" height="33.38" fill="#f1faee"/>
<rect x="491.80" y="516.28" width="20.70" height="33.38" fill="#f0f9ed"/>
<rect x="512.20" y="516.28" width="20.70" height="33.38" fill="#eff9eb"/>
<rect x="532.60" y="516.28" width="20.70" height="33.38" fill="#f3faf0"/>
<rect x="553.00" y="516.28" width="20.70" height="33.38" fill="#f3faf0"/>
<rect x="573.40" y="516.28" width="20.70" height="33.38" fill="#f1faee"/>
<rect x="83.80" y="549.36" width="20.70" height="33.38" fill="#e6f5e1"/>
<rect x="104.20" y="549.36" width="20.70" height="33.38" fill="#dbf1d5"/>
<rect x="124.60" y="549.36" width="20.70" height="33.38" fill="#c1e6ba"/>
<rect x="145.00" y="549.36" width="20.70" height="33.38" fill="#b8e3b2"/>
<rect x="165.40" y="549.36" width="20.70" height="33.38" fill="#ceecc8"/>
<rect x="185.80" y="549.36" width="20.70" height="33.38" fill="#ecf8e8"/>
<rect x="206.20" y="549.36" width="20.70" height="33.38" fill="#e4f5df"/>
<rect x="226.60" y="549.36" width="20.70" height="33.38" fill="#a5db9f"/>
<rect x="247.00" y="549.36" width="20.70" height="33.38" fill="#8dd08a"/>
<rect x="267.40" y="549.36" width="20.70" height="33.38" fill="#dff3da"/>
<rect x="287.80" y="549.36" width="20.70" height="33.38" fill="#e9f7e5"/>
<rect x="308.20" y="549.36" width="20.70" height="33.38" fill="#f1faee"/>
<rect x="328.60" y="549.36" width="20.70" height="33.38" fill="#ecf8e8"/>
<rect x="349.00" y="549.36" width="20.70" height="33.38" fill="#ecf8e8"/>
<rect x="369.40" y="549.36" width="20.70" height="33.38" fill="#ecf8e8"/>
<rect x="389.80" y="549.36" width="20.70" height="33.38" fill="#edf8ea"/>
<rect x="410.20" y="549.36" width="20.70" height="33.38" fill="#ecf8e8"/>
<rect x="430.60" y="549.36" width="20.70" height="33.38" fill="#e6f5e1"/>
<rect x="451.00" y="549.36" width="20.70" height="33.38" fill="#f0f9ed"/>
<rect x="471.40" y="549.36" width="20.70" height="33.38" fill="#f0f9ed"/>
<rect x="491.80" y="549.36" width="20.70" height="33.38" fill="#edf8ea"/>
<rect x="512.20" y="549.36" width="20.70" height="33.38" fill="#e9f7e5"/>
<rect x="532.60" y="549.36" width="20.70" height="33.38" fill="#ecf8e8"/>
<rect x="553.00" y="549.36" width="20.70" height="33.38" fill="#eff9eb"/>
<rect x="573.40" y="549.36" width="20.70" height="33.38" fill="#e9f7e5"/>
<rect x="83.80" y="582.44" width="20.70" height="33.38" fill="#a5db9f"/>
<rect x="104.20" y="582.44" width="20.70" height="33.38" fill="#abdda5"/>
<rect x="124.60" y="582.44" width="20.70" height="33.38" fill="#d6efd0"/>
<rect x="145.00" y="582.44" width="20.70" height="33.38" fill="#dff3da"/>
<rect x="165.40" y="582.44" width="20.70" height="33.38" fill="#edf8ea"/>
<rect x="185.80" y="582.44" width="20.70" height="33.38" fill="#e9f7e5"/>
<rect x="206.20" y="582.44" width="20.70" height="33.38" fill="#e4f5df"/>
<rect x="226.60" y="582.44" width="20.70" height="33.38" fill="#e9f7e5"/>
<rect x="247.00" y="582.44" width="20.70" height="33.38" fill="#c7e9c0"/>
<rect x="267.40" y="582.44" width="20.70" height="33.38" fill="#d8f0d2"/>
<rect x="287.80" y="582.44" width="20.70" height="33.38" fill="#f1faee"/>
<rect x="308.20" y="582.44" width="20.70" height="33.38" fill="#e4f5df"/>
<rect x="328.60" y="582.44" width="20.70" height="33.38" fill="#d3eecd"/>
<rect x="349.00" y="582.44" width="20.70" height="33.38" fill="#e9f7e5"/>
<rect x="369.40" y="582.44" width="20.70" height="33.38" fill="#dbf1d5"/>
<rect x="389.80" y="582.44" width="20.70" height="33.38" fill="#dbf1d5"/>
<rect x="410.20" y="582.44" width="20.70" height="33.38" fill="#ecf8e8"/>
<rect x="430.60" y="582.44" width="20.70" height="33.38" fill="#ecf8e8"/>
<rect x="451.00" y="582.44" width="20.70" height="33.38" fill="#edf8ea"/>
<rect x="471.40" y="582.44" width="20.70" height="33.38" fill="#edf8ea"/>
<rect x="491.80" y="582.44" width="20.70" height="33.38" fill="#eff9eb"/>
<rect x="512.20" y="582.44" width="20.70" height="33.38" fill="#f0f9ed"/>
<rect x="532.60" y="582.44" width="20.70" height="33.38" fill="#f0f9ed"/>
<rect x="553.00" y="582.44" width="20.70" height="33.38" fill="#f1faee"/>
<rect x="573.40" y="582.44" width="20.70" height="33.38" fill="#eff9eb"/>
<rect x="83.80" y="615.52" width="20.70" height="33.38" fill="#afdfa8"/>
<rect x="104.20" y="615.52" width="20.70" height="33.38" fill="#a5db9f"/>
<rect x="124.60" y="615.52" width="20.70" height="33.38" fill="#edf8ea"/>
<rect x="145.00" y="615.52" width="20.70" height="33.38" fill="#eaf7e6"/>
<rect x="165.40" y="615.52" width="20.70" height="33.38" fill="#b8e3b2"/>
<rect x="185.80" y="615.52" width="20.70" height="33.38" fill="#d3eecd"/>
<rect x="206.20" y="615.52" width="20.70" height="33.38" fill="#d3eecd"/>
<rect x="226.60" y="615.52" width="20.70" height="33.38" fill="#7cc87c"/>
<rect x="247.00" y="615.52" width="20.70" height="33.38" fill="#afdfa8"/>
<rect x="267.40" y="615.52" width="20.70" height="33.38" fill="#bee5b8"/>
<rect x="287.80" y="615.52" width="20.70" height="33.38" fill="#c4e8bd"/>
<rect x="308.20" y="615.52" width="20.70" height="33.38" fill="#d3eecd"/>
<rect x="328.60" y="615.52" width="20.70" height="33.38" fill="#d8f0d2"/>
<rect x="349.00" y="615.52" width="20.70" height="33.38" fill="#d8f0d2"/>
<rect x="369.40" y="615.52" width="20.70" height="33.38" fill="#e2f4dd"/>
<rect x="389.80" y="615.52" width="20.70" height="33.38" fill="#e6f5e1"/>
<rect x="410.20" y="615.52" width="20.70" height="33.38" fill="#e6f5e1"/>
<rect x="430.60" y="615.52" width="20.70" height="33.38" fill="#e6f5e1"/>
<rect x="451.00" y="615.52" width="20.70" height="33.38" fill="#eff9eb"/>
<rect x="471.40" y="615.52" width="20.70" height="33.38" fill="#f3faf0"/>
<rect x="491.80" y="615.52" width="20.70" height="33.38" fill="#f3faf0"/>
<rect x="512.20" y="615.52" width="20.70" height="33.38" fill="#f3faf0"/>
<rect x="532.60" y="615.52" width="20.70" height="33.38" fill="#f0f9ed"/>
<rect x="553.00" y="615.52" width="20.70" height="33.38" fill="#eff9eb"/>
<rect x="573.40" y="615.52" width="20.70" height="33.38" fill="#f3faf0"/>
<rect x="83.80" y="648.60" width="20.70" height="33.38" fill="#a3da9d"/>
<rect x="104.20" y="648.60" width="20.70" height="33.38" fill="#eff9eb"/>
<rect x="124.60" y="648.60" width="20.70" height="33.38" fill="#f3faf0"/>
<rect x="145.00" y="648.60" width="20.70" height="33.38" fill="#d3eecd"/>
<rect x="165.40" y="648.60" width="20.70" height="33.38" fill="#83cb82"/>
<rect x="185.80" y="648.60" width="20.70" height="33.38" fill="#d8f0d2"/>
<rect x="206.20" y="648.60" width="20.70" height="33.38" fill="#edf8ea"/>
<rect x="226.60" y="648.60" width="20.70" height="33.38" fill="#afdfa8"/>
<rect x="247.00" y="648.60" width="20.70" height="33.38" fill="#a5db9f"/>
<rect x="267.40" y="648.60" width="20.70" height="33.38" fill="#d3eecd"/>
<rect x="287.80" y="648.60" width="20.70" height="33.38" fill="#a5db9f"/>
<rect x="308.20" y="648.60" width="20.70" height="33.38" fill="#98d594"/>
<rect x="328.60" y="648.60" width="20.70" height="33.38" fill="#b8e3b2"/>
<rect x="349.00" y="648.60" width="20.70" height="33.38" fill="#d3eecd"/>
<rect x="369.40" y="648.60" width="20.70" height="33.38" fill="#b8e3b2"/>
<rect x="389.80" y="648.60" width="20.70" height="33.38" fill="#b8e3b2"/>
<rect x="410.20" y="648.60" width="20.70" height="33.38" fill="#ecf8e8"/>
<rect x="430.60" y="648.60" width="20.70" height="33.38" fill="#edf8ea"/>
<rect x="451.00" y="648.60" width="20.70" height="33.38" fill="#e6f5e1"/>
<rect x="471.40" y="648.60" width="20.70" height="33.38" fill="#d3eecd"/>
<rect x="491.80" y="648.60" width="20.70" height="33.38" fill="#d8f0d2"/>
<rect x="512.20" y="648.60" width="20.70" height="33.38" fill="#ddf2d8"/>
<rect x="532.60" y="648.60" width="20.70" height="33.38" fill="#e4f5df"/>
<rect x="553.00" y="648.60" width="20.70" height="33.38" fill="#e7f6e3"/>
<rect x="573.40" y="648.60" width="20.70" height="33.38" fill="#e9f7e5"/>
<line x1="65.8" y1="499.7" x2="83.8" y2="499.7" stroke="#000" stroke-width="1.6"/>
<line x1="65.8" y1="665.1" x2="83.8" y2="665.1" stroke="#000" stroke-width="1.6"/>
<line x1="74.8" y1="532.0" x2="74.8" y2="632.9" stroke="#000" stroke-width="1.6"/>
<line x1="74.8" y1="532.8" x2="83.8" y2="532.8" stroke="#000" stroke-width="1.6"/>
<line x1="74.8" y1="565.9" x2="83.8" y2="565.9" stroke="#000" stroke-width="1.6"/>
<line x1="74.8" y1="599.0" x2="83.8" y2="599.0" stroke="#000" stroke-width="1.6"/>
<line x1="74.8" y1="632.1" x2="83.8" y2="632.1" stroke="#000" stroke-width="1.6"/>
<line x1="65.8" y1="582.4" x2="74.8" y2="582.4" stroke="#000" stroke-width="1.6"/>
<text x="34.8" y="499.7" font-size="17.5" text-anchor="middle" transform="rotate(-90 34.8 499.7)">left</text>
<text x="55.4" y="499.7" font-size="17.5" text-anchor="middle" transform="rotate(-90 55.4 499.7)">hipp.</text>
<text x="34.8" y="582.4" font-size="17.5" text-anchor="middle" transform="rotate(-90 34.8 582.4)">left - right</text>
<text x="55.4" y="582.4" font-size="17.5" text-anchor="middle" transform="rotate(-90 55.4 582.4)">hipp.</text>
<text x="34.8" y="665.1" font-size="17.5" text-anchor="middle" transform="rotate(-90 34.8 665.1)">right</text>
<text x="55.4" y="665.1" font-size="17.5" text-anchor="middle" transform="rotate(-90 55.4 665.1)">hipp.</text>
<line x1="94.0" y1="681.7" x2="94.0" y2="685.7" stroke="#000" stroke-width="1.3"/>
<text x="94.0" y="698.8" font-size="14.8" text-anchor="middle">3</text>
<line x1="236.8" y1="681.7" x2="236.8" y2="685.7" stroke="#000" stroke-width="1.3"/>
<text x="236.8" y="698.8" font-size="14.8" text-anchor="middle">8</text>
<line x1="298.0" y1="681.7" x2="298.0" y2="685.7" stroke="#000" stroke-width="1.3"/>
<text x="298.0" y="698.8" font-size="14.8" text-anchor="middle">12</text>
<line x1="440.8" y1="681.7" x2="440.8" y2="685.7" stroke="#000" stroke-width="1.3"/>
<text x="440.8" y="698.8" font-size="14.8" text-anchor="middle">30</text>
<line x1="583.6" y1="681.7" x2="583.6" y2="685.7" stroke="#000" stroke-width="1.3"/>
<text x="583.6" y="698.8" font-size="14.8" text-anchor="middle">96</text>
<text x="338.8" y="722.0" font-size="18.1" text-anchor="middle">Frequency (Hz)</text>
<rect x="625.2" y="483.2" width="8.8" height="198.5" fill="url(#cbg)"/>
<text x="617.5" y="582.4" font-size="17.5" text-anchor="middle" transform="rotate(-90 617.5 582.4)">functional connectivity</text>
<text x="650.8" y="485.0" font-size="17.5" text-anchor="end" transform="rotate(-90 650.8 485.0)">0.5</text>
<text x="650.8" y="682.9" font-size="17.5" transform="rotate(-90 650.8 682.9)">0.0</text>
<text x="819.6" y="475.6" font-size="17.8" font-weight="bold">coherence</text>
<rect x="819.10" y="483.00" width="20.70" height="33.38" fill="#39a257"/>
<rect x="839.50" y="483.00" width="20.70" height="33.38" fill="#6bc072"/>
<rect x="859.90" y="483.00" width="20.70" height="33.38" fill="#abdda5"/>
<rect x="880.30" y="483.00" width="20.70" height="33.38" fill="#a5db9f"/>
<rect x="900.70" y="483.00" width="20.70" height="33.38" fill="#9fd899"/>
<rect x="921.10" y="483.00" width="20.70" height="33.38" fill="#98d594"/>
<rect x="941.50" y="483.00" width="20.70" height="33.38" fill="#73c476"/>
<rect x="961.90" y="483.00" width="20.70" height="33.38" fill="#2f974e"/>
<rect x="982.30" y="483.00" width="20.70" height="33.38" fill="#006b2b"/>
<rect x="1002.70" y="483.00" width="20.70" height="33.38" fill="#004a1e"/>
<rect x="1023.10" y="483.00" width="20.70" height="33.38" fill="#00441b"/>
<rect x="1043.50" y="483.00" width="20.70" height="33.38" fill="#005723"/>
<rect x="1063.90" y="483.00" width="20.70" height="33.38" fill="#157f3b"/>
<rect x="1084.30" y="483.00" width="20.70" height="33.38" fill="#63bc6e"/>
<rect x="1104.70" y="483.00" width="20.70" height="33.38" fill="#afdfa8"/>
<rect x="1125.10" y="483.00" width="20.70" height="33.38" fill="#b8e3b2"/>
<rect x="1145.50" y="483.00" width="20.70" height="33.38" fill="#c1e6ba"/>
<rect x="1165.90" y="483.00" width="20.70" height="33.38" fill="#b2e0ac"/>
<rect x="1186.30" y="483.00" width="20.70" height="33.38" fill="#b8e3b2"/>
<rect x="1206.70" y="483.00" width="20.70" height="33.38" fill="#b8e3b2"/>
<rect x="1227.10" y="483.00" width="20.70" height="33.38" fill="#d3eecd"/>
<rect x="1247.50" y="483.00" width="20.70" height="33.38" fill="#d6efd0"/>
<rect x="1267.90" y="483.00" width="20.70" height="33.38" fill="#dff3da"/>
<rect x="1288.30" y="483.00" width="20.70" height="33.38" fill="#e4f5df"/>
<rect x="1308.70" y="483.00" width="20.70" height="33.38" fill="#e4f5df"/>
<rect x="819.10" y="516.08" width="20.70" height="33.38" fill="#dff3da"/>
<rect x="839.50" y="516.08" width="20.70" height="33.38" fill="#c4e8bd"/>
<rect x="859.90" y="516.08" width="20.70" height="33.38" fill="#c4e8bd"/>
<rect x="880.30" y="516.08" width="20.70" height="33.38" fill="#caeac3"/>
<rect x="900.70" y="516.08" width="20.70" height="33.38" fill="#e2f4dd"/>
<rect x="921.10" y="516.08" width="20.70" height="33.38" fill="#e9f7e5"/>
<rect x="941.50" y="516.08" width="20.70" height="33.38" fill="#ddf2d8"/>
<rect x="961.90" y="516.08" width="20.70" height="33.38" fill="#e6f5e1"/>
<rect x="982.30" y="516.08" width="20.70" height="33.38" fill="#ecf8e8"/>
<rect x="1002.70" y="516.08" width="20.70" height="33.38" fill="#ecf8e8"/>
<rect x="1023.10" y="516.08" width="20.70" height="33.38" fill="#f3faf0"/>
<rect x="1043.50" y="516.08" width="20.70" height="33.38" fill="#d8f0d2"/>
<rect x="1063.90" y="516.08" width="20.70" height="33.38" fill="#b8e3b2"/>
<rect x="1084.30" y="516.08" width="20.70" height="33.38" fill="#e4f5df"/>
<rect x="1104.70" y="516.08" width="20.70" height="33.38" fill="#f3faf0"/>
<rect x="1125.10" y="516.08" width="20.70" height="33.38" fill="#e6f5e1"/>
<rect x="1145.50" y="516.08" width="20.70" height="33.38" fill="#d3eecd"/>
<rect x="1165.90" y="516.08" width="20.70" height="33.38" fill="#e6f5e1"/>
<rect x="1186.30" y="516.08" width="20.70" height="33.38" fill="#edf8ea"/>
<rect x="1206.70" y="516.08" width="20.70" height="33.38" fill="#f3faf0"/>
<rect x="1227.10" y="516.08" width="20.70" height="33.38" fill="#f3faf0"/>
<rect x="1247.50" y="516.08" width="20.70" height="33.38" fill="#f3faf0"/>
<rect x="1267.90" y="516.08" width="20.70" height="33.38" fill="#f3faf0"/>
<rect x="1288.30" y="516.08" width="20.70" height="33.38" fill="#f4fbf2"/>
<rect x="1308.70" y="516.08" width="20.70" height="33.38" fill="#f3faf0"/>
<rect x="819.10" y="549.16" width="20.70" height="33.38" fill="#ecf8e8"/>
<rect x="839.50" y="549.16" width="20.70" height="33.38" fill="#ceecc8"/>
<rect x="859.90" y="549.16" width="20.70" height="33.38" fill="#c1e6ba"/>
<rect x="880.30" y="549.16" width="20.70" height="33.38" fill="#d8f0d2"/>
<rect x="900.70" y="549.16" width="20.70" height="33.38" fill="#e2f4dd"/>
<rect x="921.10" y="549.16" width="20.70" height="33.38" fill="#e9f7e5"/>
<rect x="941.50" y="549.16" width="20.70" height="33.38" fill="#e4f5df"/>
<rect x="961.90" y="549.16" width="20.70" height="33.38" fill="#caeac3"/>
<rect x="982.30" y="549.16" width="20.70" height="33.38" fill="#abdda5"/>
<rect x="1002.70" y="549.16" width="20.70" height="33.38" fill="#d3eecd"/>
<rect x="1023.10" y="549.16" width="20.70" height="33.38" fill="#e6f5e1"/>
<rect x="1043.50" y="549.16" width="20.70" height="33.38" fill="#e2f4dd"/>
<rect x="1063.90" y="549.16" width="20.70" height="33.38" fill="#e2f4dd"/>
<rect x="1084.30" y="549.16" width="20.70" height="33.38" fill="#e2f4dd"/>
<rect x="1104.70" y="549.16" width="20.70" height="33.38" fill="#e2f4dd"/>
<rect x="1125.10" y="549.16" width="20.70" height="33.38" fill="#ecf8e8"/>
<rect x="1145.50" y="549.16" width="20.70" height="33.38" fill="#ecf8e8"/>
<rect x="1165.90" y="549.16" width="20.70" height="33.38" fill="#e9f7e5"/>
<rect x="1186.30" y="549.16" width="20.70" height="33.38" fill="#f3faf0"/>
<rect x="1206.70" y="549.16" width="20.70" height="33.38" fill="#f3faf0"/>
<rect x="1227.10" y="549.16" width="20.70" height="33.38" fill="#edf8ea"/>
<rect x="1247.50" y="549.16" width="20.70" height="33.38" fill="#ecf8e8"/>
<rect x="1267.90" y="549.16" width="20.70" height="33.38" fill="#ecf8e8"/>
<rect x="1288.30" y="549.16" width="20.70" height="33.38" fill="#f3faf0"/>
<rect x="1308.70" y="549.16" width="20.70" height="33.38" fill="#edf8ea"/>
<rect x="819.10" y="582.24" width="20.70" height="33.38" fill="#86cc85"/>
<rect x="839.50" y="582.24" width="20.70" height="33.38" fill="#a5db9f"/>
<rect x="859.90" y="582.24" width="20.70" height="33.38" fill="#8ace88"/>
<rect x="880.30" y="582.24" width="20.70" height="33.38" fill="#5bb86a"/>
<rect x="900.70" y="582.24" width="20.70" height="33.38" fill="#dbf1d5"/>
<rect x="921.10" y="582.24" width="20.70" height="33.38" fill="#f3faf0"/>
<rect x="941.50" y="582.24" width="20.70" height="33.38" fill="#eff9eb"/>
<rect x="961.90" y="582.24" width="20.70" height="33.38" fill="#eff9eb"/>
<rect x="982.30" y="582.24" width="20.70" height="33.38" fill="#b8e3b2"/>
<rect x="1002.70" y="582.24" width="20.70" height="33.38" fill="#b8e3b2"/>
<rect x="1023.10" y="582.24" width="20.70" height="33.38" fill="#edf8ea"/>
<rect x="1043.50" y="582.24" width="20.70" height="33.38" fill="#e6f5e1"/>
<rect x="1063.90" y="582.24" width="20.70" height="33.38" fill="#ceecc8"/>
<rect x="1084.30" y="582.24" width="20.70" height="33.38" fill="#dff3da"/>
<rect x="1104.70" y="582.24" width="20.70" height="33.38" fill="#ecf8e8"/>
<rect x="1125.10" y="582.24" width="20.70" height="33.38" fill="#ddf2d8"/>
<rect x="1145.50" y="582.24" width="20.70" height="33.38" fill="#f3faf0"/>
<rect x="1165.90" y="582.24" width="20.70" height="33.38" fill="#edf8ea"/>
<rect x="1186.30" y="582.24" width="20.70" height="33.38" fill="#edf8ea"/>
<rect x="1206.70" y="582.24" width="20.70" height="33.38" fill="#eff9eb"/>
<rect x="1227.10" y="582.24" width="20.70" height="33.38" fill="#eff9eb"/>
<rect x="1247.50" y="582.24" width="20.70" height="33.38" fill="#eff9eb"/>
<rect x="1267.90" y="582.24" width="20.70" height="33.38" fill="#eff9eb"/>
<rect x="1288.30" y="582.24" width="20.70" height="33.38" fill="#f3faf0"/>
<rect x="1308.70" y="582.24" width="20.70" height="33.38" fill="#f1faee"/>
<rect x="819.10" y="615.32" width="20.70" height="33.38" fill="#d8f0d2"/>
<rect x="839.50" y="615.32" width="20.70" height="33.38" fill="#f1faee"/>
<rect x="859.90" y="615.32" width="20.70" height="33.38" fill="#abdda5"/>
<rect x="880.30" y="615.32" width="20.70" height="33.38" fill="#83cb82"/>
<rect x="900.70" y="615.32" width="20.70" height="33.38" fill="#8dd08a"/>
<rect x="921.10" y="615.32" width="20.70" height="33.38" fill="#afdfa8"/>
<rect x="941.50" y="615.32" width="20.70" height="33.38" fill="#d3eecd"/>
<rect x="961.90" y="615.32" width="20.70" height="33.38" fill="#7fc97f"/>
<rect x="982.30" y="615.32" width="20.70" height="33.38" fill="#caeac3"/>
<rect x="1002.70" y="615.32" width="20.70" height="33.38" fill="#e2f4dd"/>
<rect x="1023.10" y="615.32" width="20.70" height="33.38" fill="#e9f7e5"/>
<rect x="1043.50" y="615.32" width="20.70" height="33.38" fill="#e6f5e1"/>
<rect x="1063.90" y="615.32" width="20.70" height="33.38" fill="#edf8ea"/>
<rect x="1084.30" y="615.32" width="20.70" height="33.38" fill="#f0f9ed"/>
<rect x="1104.70" y="615.32" width="20.70" height="33.38" fill="#e9f7e5"/>
<rect x="1125.10" y="615.32" width="20.70" height="33.38" fill="#e9f7e5"/>
<rect x="1145.50" y="615.32" width="20.70" height="33.38" fill="#ecf8e8"/>
<rect x="1165.90" y="615.32" width="20.70" height="33.38" fill="#e6f5e1"/>
<rect x="1186.30" y="615.32" width="20.70" height="33.38" fill="#edf8ea"/>
<rect x="1206.70" y="615.32" width="20.70" height="33.38" fill="#f3faf0"/>
<rect x="1227.10" y="615.32" width="20.70" height="33.38" fill="#f3faf0"/>
<rect x="1247.50" y="615.32" width="20.70" height="33.38" fill="#eff9eb"/>
<rect x="1267.90" y="615.32" width="20.70" height="33.38" fill="#eff9eb"/>
<rect x="1288.30" y="615.32" width="20.70" height="33.38" fill="#f0f9ed"/>
<rect x="1308.70" y="615.32" width="20.70" height="33.38" fill="#f1faee"/>
<rect x="819.10" y="648.40" width="20.70" height="33.38" fill="#b8e3b2"/>
<rect x="839.50" y="648.40" width="20.70" height="33.38" fill="#98d594"/>
<rect x="859.90" y="648.40" width="20.70" height="33.38" fill="#2f974e"/>
<rect x="880.30" y="648.40" width="20.70" height="33.38" fill="#00441b"/>
<rect x="900.70" y="648.40" width="20.70" height="33.38" fill="#339c52"/>
<rect x="921.10" y="648.40" width="20.70" height="33.38" fill="#6bc072"/>
<rect x="941.50" y="648.40" width="20.70" height="33.38" fill="#a3da9d"/>
<rect x="961.90" y="648.40" width="20.70" height="33.38" fill="#d3eecd"/>
<rect x="982.30" y="648.40" width="20.70" height="33.38" fill="#98d594"/>
<rect x="1002.70" y="648.40" width="20.70" height="33.38" fill="#b2e0ac"/>
<rect x="1023.10" y="648.40" width="20.70" height="33.38" fill="#f0f9ed"/>
<rect x="1043.50" y="648.40" width="20.70" height="33.38" fill="#f4fbf2"/>
<rect x="1063.90" y="648.40" width="20.70" height="33.38" fill="#f1faee"/>
<rect x="1084.30" y="648.40" width="20.70" height="33.38" fill="#d8f0d2"/>
<rect x="1104.70" y="648.40" width="20.70" height="33.38" fill="#63bc6e"/>
<rect x="1125.10" y="648.40" width="20.70" height="33.38" fill="#2f974e"/>
<rect x="1145.50" y="648.40" width="20.70" height="33.38" fill="#39a257"/>
<rect x="1165.90" y="648.40" width="20.70" height="33.38" fill="#91d28e"/>
<rect x="1186.30" y="648.40" width="20.70" height="33.38" fill="#e2f4dd"/>
<rect x="1206.70" y="648.40" width="20.70" height="33.38" fill="#e2f4dd"/>
<rect x="1227.10" y="648.40" width="20.70" height="33.38" fill="#ecf8e8"/>
<rect x="1247.50" y="648.40" width="20.70" height="33.38" fill="#c4e8bd"/>
<rect x="1267.90" y="648.40" width="20.70" height="33.38" fill="#c1e6ba"/>
<rect x="1288.30" y="648.40" width="20.70" height="33.38" fill="#e9f7e5"/>
<rect x="1308.70" y="648.40" width="20.70" height="33.38" fill="#eff9eb"/>
<line x1="801.1" y1="499.5" x2="819.1" y2="499.5" stroke="#000" stroke-width="1.6"/>
<line x1="801.1" y1="664.9" x2="819.1" y2="664.9" stroke="#d5121c" stroke-width="1.6"/>
<line x1="810.1" y1="531.8" x2="810.1" y2="632.7" stroke="#d5121c" stroke-width="1.6"/>
<line x1="810.1" y1="532.6" x2="819.1" y2="532.6" stroke="#d5121c" stroke-width="1.6"/>
<line x1="810.1" y1="565.7" x2="819.1" y2="565.7" stroke="#d5121c" stroke-width="1.6"/>
<line x1="810.1" y1="598.8" x2="819.1" y2="598.8" stroke="#d5121c" stroke-width="1.6"/>
<line x1="810.1" y1="631.9" x2="819.1" y2="631.9" stroke="#d5121c" stroke-width="1.6"/>
<line x1="801.1" y1="582.2" x2="810.1" y2="582.2" stroke="#d5121c" stroke-width="1.6"/>
<text x="770.1" y="499.5" font-size="17.5" text-anchor="middle" transform="rotate(-90 770.1 499.5)">left</text>
<text x="790.7" y="499.5" font-size="17.5" text-anchor="middle" transform="rotate(-90 790.7 499.5)">hipp.</text>
<text x="770.1" y="582.2" font-size="17.5" text-anchor="middle" fill="#d5121c" transform="rotate(-90 770.1 582.2)">left - right</text>
<text x="790.7" y="582.2" font-size="17.5" text-anchor="middle" fill="#d5121c" transform="rotate(-90 790.7 582.2)">hipp.</text>
<text x="770.1" y="664.9" font-size="17.5" text-anchor="middle" fill="#d5121c" transform="rotate(-90 770.1 664.9)">right</text>
<text x="790.7" y="664.9" font-size="17.5" text-anchor="middle" fill="#d5121c" transform="rotate(-90 790.7 664.9)">hipp.</text>
<line x1="829.3" y1="681.5" x2="829.3" y2="685.5" stroke="#000" stroke-width="1.3"/>
<text x="829.3" y="698.6" font-size="14.8" text-anchor="middle">3</text>
<line x1="972.1" y1="681.5" x2="972.1" y2="685.5" stroke="#000" stroke-width="1.3"/>
<text x="972.1" y="698.6" font-size="14.8" text-anchor="middle">8</text>
<line x1="1033.3" y1="681.5" x2="1033.3" y2="685.5" stroke="#000" stroke-width="1.3"/>
<text x="1033.3" y="698.6" font-size="14.8" text-anchor="middle">12</text>
<line x1="1176.1" y1="681.5" x2="1176.1" y2="685.5" stroke="#000" stroke-width="1.3"/>
<text x="1176.1" y="698.6" font-size="14.8" text-anchor="middle">30</text>
<line x1="1318.9" y1="681.5" x2="1318.9" y2="685.5" stroke="#000" stroke-width="1.3"/>
<text x="1318.9" y="698.6" font-size="14.8" text-anchor="middle">96</text>
<text x="1074.1" y="721.8" font-size="18.1" text-anchor="middle">Frequency (Hz)</text>
<rect x="1360.5" y="483.0" width="8.8" height="198.5" fill="url(#cbg)"/>
<text x="1352.8" y="582.2" font-size="17.5" text-anchor="middle" transform="rotate(-90 1352.8 582.2)">functional connectivity</text>
<text x="1386.1" y="484.8" font-size="17.5" text-anchor="end" transform="rotate(-90 1386.1 484.8)">0.5</text>
<text x="1386.1" y="682.7" font-size="17.5" transform="rotate(-90 1386.1 682.7)">0.0</text>
<text x="1582.0" y="475.4" font-size="17.8" font-weight="bold">coherence</text>
<rect x="1581.50" y="482.80" width="20.70" height="33.38" fill="#53b466"/>
<rect x="1601.90" y="482.80" width="20.70" height="33.38" fill="#6bc072"/>
<rect x="1622.30" y="482.80" width="20.70" height="33.38" fill="#9fd899"/>
<rect x="1642.70" y="482.80" width="20.70" height="33.38" fill="#91d28e"/>
<rect x="1663.10" y="482.80" width="20.70" height="33.38" fill="#91d28e"/>
<rect x="1683.50" y="482.80" width="20.70" height="33.38" fill="#9fd899"/>
<rect x="1703.90" y="482.80" width="20.70" height="33.38" fill="#7cc87c"/>
<rect x="1724.30" y="482.80" width="20.70" height="33.38" fill="#43ac5e"/>
<rect x="1744.70" y="482.80" width="20.70" height="33.38" fill="#157f3b"/>
<rect x="1765.10" y="482.80" width="20.70" height="33.38" fill="#005120"/>
<rect x="1785.50" y="482.80" width="20.70" height="33.38" fill="#00441b"/>
<rect x="1805.90" y="482.80" width="20.70" height="33.38" fill="#006428"/>
<rect x="1826.30" y="482.80" width="20.70" height="33.38" fill="#1a843f"/>
<rect x="1846.70" y="482.80" width="20.70" height="33.38" fill="#6bc072"/>
<rect x="1867.10" y="482.80" width="20.70" height="33.38" fill="#abdda5"/>
<rect x="1887.50" y="482.80" width="20.70" height="33.38" fill="#b8e3b2"/>
<rect x="1907.90" y="482.80" width="20.70" height="33.38" fill="#b8e3b2"/>
<rect x="1928.30" y="482.80" width="20.70" height="33.38" fill="#a9dca3"/>
<rect x="1948.70" y="482.80" width="20.70" height="33.38" fill="#a9dca3"/>
<rect x="1969.10" y="482.80" width="20.70" height="33.38" fill="#a5db9f"/>
<rect x="1989.50" y="482.80" width="20.70" height="33.38" fill="#ceecc8"/>
<rect x="2009.90" y="482.80" width="20.70" height="33.38" fill="#d3eecd"/>
<rect x="2030.30" y="482.80" width="20.70" height="33.38" fill="#dff3da"/>
<rect x="2050.70" y="482.80" width="20.70" height="33.38" fill="#e2f4dd"/>
<rect x="2071.10" y="482.80" width="20.70" height="33.38" fill="#dff3da"/>
<rect x="1581.50" y="515.88" width="20.70" height="33.38" fill="#98d594"/>
<rect x="1601.90" y="515.88" width="20.70" height="33.38" fill="#a3da9d"/>
<rect x="1622.30" y="515.88" width="20.70" height="33.38" fill="#f4fbf2"/>
<rect x="1642.70" y="515.88" width="20.70" height="33.38" fill="#73c476"/>
<rect x="1663.10" y="515.88" width="20.70" height="33.38" fill="#a5db9f"/>
<rect x="1683.50" y="515.88" width="20.70" height="33.38" fill="#c4e8bd"/>
<rect x="1703.90" y="515.88" width="20.70" height="33.38" fill="#c1e6ba"/>
<rect x="1724.30" y="515.88" width="20.70" height="33.38" fill="#ceecc8"/>
<rect x="1744.70" y="515.88" width="20.70" height="33.38" fill="#caeac3"/>
<rect x="1765.10" y="515.88" width="20.70" height="33.38" fill="#caeac3"/>
<rect x="1785.50" y="515.88" width="20.70" height="33.38" fill="#f3faf0"/>
<rect x="1805.90" y="515.88" width="20.70" height="33.38" fill="#e9f7e5"/>
<rect x="1826.30" y="515.88" width="20.70" height="33.38" fill="#ceecc8"/>
<rect x="1846.70" y="515.88" width="20.70" height="33.38" fill="#ecf8e8"/>
<rect x="1867.10" y="515.88" width="20.70" height="33.38" fill="#eff9eb"/>
<rect x="1887.50" y="515.88" width="20.70" height="33.38" fill="#edf8ea"/>
<rect x="1907.90" y="515.88" width="20.70" height="33.38" fill="#eff9eb"/>
<rect x="1928.30" y="515.88" width="20.70" height="33.38" fill="#f1faee"/>
<rect x="1948.70" y="515.88" width="20.70" height="33.38" fill="#f1faee"/>
<rect x="1969.10" y="515.88" width="20.70" height="33.38" fill="#f1faee"/>
<rect x="1989.50" y="515.88" width="20.70" height="33.38" fill="#f0f9ed"/>
<rect x="2009.90" y="515.88" width="20.70" height="33.38" fill="#f1faee"/>
<rect x="2030.30" y="515.88" width="20.70" height="33.38" fill="#f3faf0"/>
<rect x="2050.70" y="515.88" width="20.70" height="33.38" fill="#f3faf0"/>
<rect x="2071.10" y="515.88" width="20.70" height="33.38" fill="#f3faf0"/>
<rect x="1581.50" y="548.96" width="20.70" height="33.38" fill="#dbf1d5"/>
<rect x="1601.90" y="548.96" width="20.70" height="33.38" fill="#e9f7e5"/>
<rect x="1622.30" y="548.96" width="20.70" height="33.38" fill="#dff3da"/>
<rect x="1642.70" y="548.96" width="20.70" height="33.38" fill="#4bb062"/>
<rect x="1663.10" y="548.96" width="20.70" height="33.38" fill="#91d28e"/>
<rect x="1683.50" y="548.96" width="20.70" height="33.38" fill="#c4e8bd"/>
<rect x="1703.90" y="548.96" width="20.70" height="33.38" fill="#bee5b8"/>
<rect x="1724.30" y="548.96" width="20.70" height="33.38" fill="#e6f5e1"/>
<rect x="1744.70" y="548.96" width="20.70" height="33.38" fill="#d3eecd"/>
<rect x="1765.10" y="548.96" width="20.70" height="33.38" fill="#caeac3"/>
<rect x="1785.50" y="548.96" width="20.70" height="33.38" fill="#e9f7e5"/>
<rect x="1805.90" y="548.96" width="20.70" height="33.38" fill="#ecf8e8"/>
<rect x="1826.30" y="548.96" width="20.70" height="33.38" fill="#eff9eb"/>
<rect x="1846.70" y="548.96" width="20.70" height="33.38" fill="#d3eecd"/>
<rect x="1867.10" y="548.96" width="20.70" height="33.38" fill="#d3eecd"/>
<rect x="1887.50" y="548.96" width="20.70" height="33.38" fill="#edf8ea"/>
<rect x="1907.90" y="548.96" width="20.70" height="33.38" fill="#edf8ea"/>
<rect x="1928.30" y="548.96" width="20.70" height="33.38" fill="#eff9eb"/>
<rect x="1948.70" y="548.96" width="20.70" height="33.38" fill="#f0f9ed"/>
<rect x="1969.10" y="548.96" width="20.70" height="33.38" fill="#f1faee"/>
<rect x="1989.50" y="548.96" width="20.70" height="33.38" fill="#e4f5df"/>
<rect x="2009.90" y="548.96" width="20.70" height="33.38" fill="#e2f4dd"/>
<rect x="2030.30" y="548.96" width="20.70" height="33.38" fill="#edf8ea"/>
<rect x="2050.70" y="548.96" width="20.70" height="33.38" fill="#f0f9ed"/>
<rect x="2071.10" y="548.96" width="20.70" height="33.38" fill="#f0f9ed"/>
<rect x="1581.50" y="582.04" width="20.70" height="33.38" fill="#4bb062"/>
<rect x="1601.90" y="582.04" width="20.70" height="33.38" fill="#7cc87c"/>
<rect x="1622.30" y="582.04" width="20.70" height="33.38" fill="#6bc072"/>
<rect x="1642.70" y="582.04" width="20.70" height="33.38" fill="#4bb062"/>
<rect x="1663.10" y="582.04" width="20.70" height="33.38" fill="#c4e8bd"/>
<rect x="1683.50" y="582.04" width="20.70" height="33.38" fill="#ddf2d8"/>
<rect x="1703.90" y="582.04" width="20.70" height="33.38" fill="#c1e6ba"/>
<rect x="1724.30" y="582.04" width="20.70" height="33.38" fill="#ecf8e8"/>
<rect x="1744.70" y="582.04" width="20.70" height="33.38" fill="#73c476"/>
<rect x="1765.10" y="582.04" width="20.70" height="33.38" fill="#91d28e"/>
<rect x="1785.50" y="582.04" width="20.70" height="33.38" fill="#ecf8e8"/>
<rect x="1805.90" y="582.04" width="20.70" height="33.38" fill="#e2f4dd"/>
<rect x="1826.30" y="582.04" width="20.70" height="33.38" fill="#e2f4dd"/>
<rect x="1846.70" y="582.04" width="20.70" height="33.38" fill="#ecf8e8"/>
<rect x="1867.10" y="582.04" width="20.70" height="33.38" fill="#eff9eb"/>
<rect x="1887.50" y="582.04" width="20.70" height="33.38" fill="#e9f7e5"/>
<rect x="1907.90" y="582.04" width="20.70" height="33.38" fill="#e9f7e5"/>
<rect x="1928.30" y="582.04" width="20.70" height="33.38" fill="#e2f4dd"/>
<rect x="1948.70" y="582.04" width="20.70" height="33.38" fill="#e9f7e5"/>
<rect x="1969.10" y="582.04" width="20.70" height="33.38" fill="#edf8ea"/>
<rect x="1989.50" y="582.04" width="20.70" height="33.38" fill="#eff9eb"/>
<rect x="2009.90" y="582.04" width="20.70" height="33.38" fill="#ecf8e8"/>
<rect x="2030.30" y="582.04" width="20.70" height="33.38" fill="#e9f7e5"/>
<rect x="2050.70" y="582.04" width="20.70" height="33.38" fill="#f0f9ed"/>
<rect x="2071.10" y="582.04" width="20.70" height="33.38" fill="#eff9eb"/>
<rect x="1581.50" y="615.12" width="20.70" height="33.38" fill="#c7e9c0"/>
<rect x="1601.90" y="615.12" width="20.70" height="33.38" fill="#c7e9c0"/>
<rect x="1622.30" y="615.12" width="20.70" height="33.38" fill="#b2e0ac"/>
<rect x="1642.70" y="615.12" width="20.70" height="33.38" fill="#83cb82"/>
<rect x="1663.10" y="615.12" width="20.70" height="33.38" fill="#a5db9f"/>
<rect x="1683.50" y="615.12" width="20.70" height="33.38" fill="#a9dca3"/>
<rect x="1703.90" y="615.12" width="20.70" height="33.38" fill="#b8e3b2"/>
<rect x="1724.30" y="615.12" width="20.70" height="33.38" fill="#83cb82"/>
<rect x="1744.70" y="615.12" width="20.70" height="33.38" fill="#e6f5e1"/>
<rect x="1765.10" y="615.12" width="20.70" height="33.38" fill="#ceecc8"/>
<rect x="1785.50" y="615.12" width="20.70" height="33.38" fill="#ceecc8"/>
<rect x="1805.90" y="615.12" width="20.70" height="33.38" fill="#ccebc6"/>
<rect x="1826.30" y="615.12" width="20.70" height="33.38" fill="#c1e6ba"/>
<rect x="1846.70" y="615.12" width="20.70" height="33.38" fill="#d3eecd"/>
<rect x="1867.10" y="615.12" width="20.70" height="33.38" fill="#f4fbf2"/>
<rect x="1887.50" y="615.12" width="20.70" height="33.38" fill="#ecf8e8"/>
<rect x="1907.90" y="615.12" width="20.70" height="33.38" fill="#f1faee"/>
<rect x="1928.30" y="615.12" width="20.70" height="33.38" fill="#e9f7e5"/>
<rect x="1948.70" y="615.12" width="20.70" height="33.38" fill="#ecf8e8"/>
<rect x="1969.10" y="615.12" width="20.70" height="33.38" fill="#f0f9ed"/>
<rect x="1989.50" y="615.12" width="20.70" height="33.38" fill="#f1faee"/>
<rect x="2009.90" y="615.12" width="20.70" height="33.38" fill="#eff9eb"/>
<rect x="2030.30" y="615.12" width="20.70" height="33.38" fill="#edf8ea"/>
<rect x="2050.70" y="615.12" width="20.70" height="33.38" fill="#edf8ea"/>
<rect x="2071.10" y="615.12" width="20.70" height="33.38" fill="#f0f9ed"/>
<rect x="1581.50" y="648.20" width="20.70" height="33.38" fill="#005321"/>
<rect x="1601.90" y="648.20" width="20.70" height="33.38" fill="#157f3b"/>
<rect x="1622.30" y="648.20" width="20.70" height="33.38" fill="#004a1e"/>
<rect x="1642.70" y="648.20" width="20.70" height="33.38" fill="#00441b"/>
<rect x="1663.10" y="648.20" width="20.70" height="33.38" fill="#00441b"/>
<rect x="1683.50" y="648.20" width="20.70" height="33.38" fill="#107a37"/>
<rect x="1703.90" y="648.20" width="20.70" height="33.38" fill="#60ba6c"/>
<rect x="1724.30" y="648.20" width="20.70" height="33.38" fill="#7cc87c"/>
<rect x="1744.70" y="648.20" width="20.70" height="33.38" fill="#6bc072"/>
<rect x="1765.10" y="648.20" width="20.70" height="33.38" fill="#4bb062"/>
<rect x="1785.50" y="648.20" width="20.70" height="33.38" fill="#6bc072"/>
<rect x="1805.90" y="648.20" width="20.70" height="33.38" fill="#91d28e"/>
<rect x="1826.30" y="648.20" width="20.70" height="33.38" fill="#a5db9f"/>
<rect x="1846.70" y="648.20" width="20.70" height="33.38" fill="#ceecc8"/>
<rect x="1867.10" y="648.20" width="20.70" height="33.38" fill="#5bb86a"/>
<rect x="1887.50" y="648.20" width="20.70" height="33.38" fill="#03702e"/>
<rect x="1907.90" y="648.20" width="20.70" height="33.38" fill="#03702e"/>
<rect x="1928.30" y="648.20" width="20.70" height="33.38" fill="#2a924a"/>
<rect x="1948.70" y="648.20" width="20.70" height="33.38" fill="#9fd899"/>
<rect x="1969.10" y="648.20" width="20.70" height="33.38" fill="#ddf2d8"/>
<rect x="1989.50" y="648.20" width="20.70" height="33.38" fill="#ddf2d8"/>
<rect x="2009.90" y="648.20" width="20.70" height="33.38" fill="#73c476"/>
<rect x="2030.30" y="648.20" width="20.70" height="33.38" fill="#8ace88"/>
<rect x="2050.70" y="648.20" width="20.70" height="33.38" fill="#e2f4dd"/>
<rect x="2071.10" y="648.20" width="20.70" height="33.38" fill="#f0f9ed"/>
<line x1="1563.5" y1="499.3" x2="1581.5" y2="499.3" stroke="#000" stroke-width="1.6"/>
<line x1="1563.5" y1="664.7" x2="1581.5" y2="664.7" stroke="#d5121c" stroke-width="1.6"/>
<line x1="1572.5" y1="531.6" x2="1572.5" y2="632.5" stroke="#d5121c" stroke-width="1.6"/>
<line x1="1572.5" y1="532.4" x2="1581.5" y2="532.4" stroke="#d5121c" stroke-width="1.6"/>
<line x1="1572.5" y1="565.5" x2="1581.5" y2="565.5" stroke="#d5121c" stroke-width="1.6"/>
<line x1="1572.5" y1="598.6" x2="1581.5" y2="598.6" stroke="#d5121c" stroke-width="1.6"/>
<line x1="1572.5" y1="631.7" x2="1581.5" y2="631.7" stroke="#d5121c" stroke-width="1.6"/>
<line x1="1563.5" y1="582.0" x2="1572.5" y2="582.0" stroke="#d5121c" stroke-width="1.6"/>
<text x="1532.5" y="499.3" font-size="17.5" text-anchor="middle" transform="rotate(-90 1532.5 499.3)">left</text>
<text x="1553.1" y="499.3" font-size="17.5" text-anchor="middle" transform="rotate(-90 1553.1 499.3)">hipp.</text>
<text x="1532.5" y="582.0" font-size="17.5" text-anchor="middle" fill="#d5121c" transform="rotate(-90 1532.5 582.0)">left - right</text>
<text x="1553.1" y="582.0" font-size="17.5" text-anchor="middle" fill="#d5121c" transform="rotate(-90 1553.1 582.0)">hipp.</text>
<text x="1532.5" y="664.7" font-size="17.5" text-anchor="middle" fill="#d5121c" transform="rotate(-90 1532.5 664.7)">right</text>
<text x="1553.1" y="664.7" font-size="17.5" text-anchor="middle" fill="#d5121c" transform="rotate(-90 1553.1 664.7)">hipp.</text>
<line x1="1591.7" y1="681.3" x2="1591.7" y2="685.3" stroke="#000" stroke-width="1.3"/>
<text x="1591.7" y="698.4" font-size="14.8" text-anchor="middle">3</text>
<line x1="1734.5" y1="681.3" x2="1734.5" y2="685.3" stroke="#000" stroke-width="1.3"/>
<text x="1734.5" y="698.4" font-size="14.8" text-anchor="middle">8</text>
<line x1="1795.7" y1="681.3" x2="1795.7" y2="685.3" stroke="#000" stroke-width="1.3"/>
<text x="1795.7" y="698.4" font-size="14.8" text-anchor="middle">12</text>
<line x1="1938.5" y1="681.3" x2="1938.5" y2="685.3" stroke="#000" stroke-width="1.3"/>
<text x="1938.5" y="698.4" font-size="14.8" text-anchor="middle">30</text>
<line x1="2081.3" y1="681.3" x2="2081.3" y2="685.3" stroke="#000" stroke-width="1.3"/>
<text x="2081.3" y="698.4" font-size="14.8" text-anchor="middle">96</text>
<text x="1836.5" y="721.6" font-size="18.1" text-anchor="middle">Frequency (Hz)</text>
<rect x="2122.9" y="482.8" width="8.8" height="198.5" fill="url(#cbg)"/>
<text x="2115.2" y="582.0" font-size="17.5" text-anchor="middle" transform="rotate(-90 2115.2 582.0)">functional connectivity</text>
<text x="2148.5" y="484.6" font-size="17.5" text-anchor="end" transform="rotate(-90 2148.5 484.6)">0.5</text>
<text x="2148.5" y="682.5" font-size="17.5" transform="rotate(-90 2148.5 682.5)">0.0</text>
<text x="84.1" y="764.1" font-size="17.8" font-weight="bold">phase coherence</text>
<rect x="83.60" y="771.50" width="20.70" height="33.38" fill="#208843"/>
<rect x="104.00" y="771.50" width="20.70" height="33.38" fill="#4bb062"/>
<rect x="124.40" y="771.50" width="20.70" height="33.38" fill="#bee5b8"/>
<rect x="144.80" y="771.50" width="20.70" height="33.38" fill="#d3eecd"/>
<rect x="165.20" y="771.50" width="20.70" height="33.38" fill="#7fc97f"/>
<rect x="185.60" y="771.50" width="20.70" height="33.38" fill="#91d28e"/>
<rect x="206.00" y="771.50" width="20.70" height="33.38" fill="#58b668"/>
<rect x="226.40" y="771.50" width="20.70" height="33.38" fill="#3fa95c"/>
<rect x="246.80" y="771.50" width="20.70" height="33.38" fill="#2a924a"/>
<rect x="267.20" y="771.50" width="20.70" height="33.38" fill="#2a924a"/>
<rect x="287.60" y="771.50" width="20.70" height="33.38" fill="#2a924a"/>
<rect x="308.00" y="771.50" width="20.70" height="33.38" fill="#339c52"/>
<rect x="328.40" y="771.50" width="20.70" height="33.38" fill="#4bb062"/>
<rect x="348.80" y="771.50" width="20.70" height="33.38" fill="#98d594"/>
<rect x="369.20" y="771.50" width="20.70" height="33.38" fill="#b8e3b2"/>
<rect x="389.60" y="771.50" width="20.70" height="33.38" fill="#c7e9c0"/>
<rect x="410.00" y="771.50" width="20.70" height="33.38" fill="#b8e3b2"/>
<rect x="430.40" y="771.50" width="20.70" height="33.38" fill="#c7e9c0"/>
<rect x="450.80" y="771.50" width="20.70" height="33.38" fill="#c7e9c0"/>
<rect x="471.20" y="771.50" width="20.70" height="33.38" fill="#bee5b8"/>
<rect x="491.60" y="771.50" width="20.70" height="33.38" fill="#dff3da"/>
<rect x="512.00" y="771.50" width="20.70" height="33.38" fill="#ddf2d8"/>
<rect x="532.40" y="771.50" width="20.70" height="33.38" fill="#e9f7e5"/>
<rect x="552.80" y="771.50" width="20.70" height="33.38" fill="#ecf8e8"/>
<rect x="573.20" y="771.50" width="20.70" height="33.38" fill="#e9f7e5"/>
<rect x="83.60" y="804.58" width="20.70" height="33.38" fill="#83cb82"/>
<rect x="104.00" y="804.58" width="20.70" height="33.38" fill="#c1e6ba"/>
<rect x="124.40" y="804.58" width="20.70" height="33.38" fill="#e6f5e1"/>
<rect x="144.80" y="804.58" width="20.70" height="33.38" fill="#d3eecd"/>
<rect x="165.20" y="804.58" width="20.70" height="33.38" fill="#83cb82"/>
<rect x="185.60" y="804.58" width="20.70" height="33.38" fill="#f0f9ed"/>
<rect x="206.00" y="804.58" width="20.70" height="33.38" fill="#d3eecd"/>
<rect x="226.40" y="804.58" width="20.70" height="33.38" fill="#e9f7e5"/>
<rect x="246.80" y="804.58" width="20.70" height="33.38" fill="#edf8ea"/>
<rect x="267.20" y="804.58" width="20.70" height="33.38" fill="#d8f0d2"/>
<rect x="287.60" y="804.58" width="20.70" height="33.38" fill="#eff9eb"/>
<rect x="308.00" y="804.58" width="20.70" height="33.38" fill="#e9f7e5"/>
<rect x="328.40" y="804.58" width="20.70" height="33.38" fill="#ceecc8"/>
<rect x="348.80" y="804.58" width="20.70" height="33.38" fill="#ceecc8"/>
<rect x="369.20" y="804.58" width="20.70" height="33.38" fill="#eff9eb"/>
<rect x="389.60" y="804.58" width="20.70" height="33.38" fill="#f3faf0"/>
<rect x="410.00" y="804.58" width="20.70" height="33.38" fill="#f0f9ed"/>
<rect x="430.40" y="804.58" width="20.70" height="33.38" fill="#f4fbf2"/>
<rect x="450.80" y="804.58" width="20.70" height="33.38" fill="#f0f9ed"/>
<rect x="471.20" y="804.58" width="20.70" height="33.38" fill="#eff9eb"/>
<rect x="491.60" y="804.58" width="20.70" height="33.38" fill="#f3faf0"/>
<rect x="512.00" y="804.58" width="20.70" height="33.38" fill="#f3faf0"/>
<rect x="532.40" y="804.58" width="20.70" height="33.38" fill="#f3faf0"/>
<rect x="552.80" y="804.58" width="20.70" height="33.38" fill="#f4fbf2"/>
<rect x="573.20" y="804.58" width="20.70" height="33.38" fill="#f3faf0"/>
<rect x="83.60" y="837.66" width="20.70" height="33.38" fill="#caeac3"/>
<rect x="104.00" y="837.66" width="20.70" height="33.38" fill="#b8e3b2"/>
<rect x="124.40" y="837.66" width="20.70" height="33.38" fill="#abdda5"/>
<rect x="144.80" y="837.66" width="20.70" height="33.38" fill="#c7e9c0"/>
<rect x="165.20" y="837.66" width="20.70" height="33.38" fill="#d8f0d2"/>
<rect x="185.60" y="837.66" width="20.70" height="33.38" fill="#eff9eb"/>
<rect x="206.00" y="837.66" width="20.70" height="33.38" fill="#d3eecd"/>
<rect x="226.40" y="837.66" width="20.70" height="33.38" fill="#b2e0ac"/>
<rect x="246.80" y="837.66" width="20.70" height="33.38" fill="#afdfa8"/>
<rect x="267.20" y="837.66" width="20.70" height="33.38" fill="#edf8ea"/>
<rect x="287.60" y="837.66" width="20.70" height="33.38" fill="#f3faf0"/>
<rect x="308.00" y="837.66" width="20.70" height="33.38" fill="#f4fbf2"/>
<rect x="328.40" y="837.66" width="20.70" height="33.38" fill="#f0f9ed"/>
<rect x="348.80" y="837.66" width="20.70" height="33.38" fill="#eff9eb"/>
<rect x="369.20" y="837.66" width="20.70" height="33.38" fill="#eff9eb"/>
<rect x="389.60" y="837.66" width="20.70" height="33.38" fill="#eff9eb"/>
<rect x="410.00" y="837.66" width="20.70" height="33.38" fill="#eff9eb"/>
<rect x="430.40" y="837.66" width="20.70" height="33.38" fill="#ecf8e8"/>
<rect x="450.80" y="837.66" width="20.70" height="33.38" fill="#f1faee"/>
<rect x="471.20" y="837.66" width="20.70" height="33.38" fill="#f3faf0"/>
<rect x="491.60" y="837.66" width="20.70" height="33.38" fill="#ecf8e8"/>
<rect x="512.00" y="837.66" width="20.70" height="33.38" fill="#ecf8e8"/>
<rect x="532.40" y="837.66" width="20.70" height="33.38" fill="#f0f9ed"/>
<rect x="552.80" y="837.66" width="20.70" height="33.38" fill="#eaf7e6"/>
<rect x="573.20" y="837.66" width="20.70" height="33.38" fill="#e9f7e5"/>
<rect x="83.60" y="870.74" width="20.70" height="33.38" fill="#caeac3"/>
<rect x="104.00" y="870.74" width="20.70" height="33.38" fill="#caeac3"/>
<rect x="124.40" y="870.74" width="20.70" height="33.38" fill="#dff3da"/>
<rect x="144.80" y="870.74" width="20.70" height="33.38" fill="#ecf8e8"/>
<rect x="165.20" y="870.74" width="20.70" height="33.38" fill="#e4f5df"/>
<rect x="185.60" y="870.74" width="20.70" height="33.38" fill="#f3faf0"/>
<rect x="206.00" y="870.74" width="20.70" height="33.38" fill="#f4fbf2"/>
<rect x="226.40" y="870.74" width="20.70" height="33.38" fill="#e9f7e5"/>
<rect x="246.80" y="870.74" width="20.70" height="33.38" fill="#c4e8bd"/>
<rect x="267.20" y="870.74" width="20.70" height="33.38" fill="#bee5b8"/>
<rect x="287.60" y="870.74" width="20.70" height="33.38" fill="#eff9eb"/>
<rect x="308.00" y="870.74" width="20.70" height="33.38" fill="#ecf8e8"/>
<rect x="328.40" y="870.74" width="20.70" height="33.38" fill="#ecf8e8"/>
<rect x="348.80" y="870.74" width="20.70" height="33.38" fill="#ecf8e8"/>
<rect x="369.20" y="870.74" width="20.70" height="33.38" fill="#e9f7e5"/>
<rect x="389.60" y="870.74" width="20.70" height="33.38" fill="#e4f5df"/>
<rect x="410.00" y="870.74" width="20.70" height="33.38" fill="#edf8ea"/>
<rect x="430.40" y="870.74" width="20.70" height="33.38" fill="#edf8ea"/>
<rect x="450.80" y="870.74" width="20.70" height="33.38" fill="#edf8ea"/>
<rect x="471.20" y="870.74" width="20.70" height="33.38" fill="#eff9eb"/>
<rect x="491.60" y="870.74" width="20.70" height="33.38" fill="#ecf8e8"/>
<rect x="512.00" y="870.74" width="20.70" height="33.38" fill="#ecf8e8"/>
<rect x="532.40" y="870.74" width="20.70" height="33.38" fill="#eff9eb"/>
<rect x="552.80" y="870.74" width="20.70" height="33.38" fill="#f3faf0"/>
<rect x="573.20" y="870.74" width="20.70" height="33.38" fill="#f0f9ed"/>
<rect x="83.60" y="903.82" width="20.70" height="33.38" fill="#bee5b8"/>
<rect x="104.00" y="903.82" width="20.70" height="33.38" fill="#c1e6ba"/>
<rect x="124.40" y="903.82" width="20.70" height="33.38" fill="#eff9eb"/>
<rect x="144.80" y="903.82" width="20.70" height="33.38" fill="#ecf8e8"/>
<rect x="165.20" y="903.82" width="20.70" height="33.38" fill="#c4e8bd"/>
<rect x="185.60" y="903.82" width="20.70" height="33.38" fill="#caeac3"/>
<rect x="206.00" y="903.82" width="20.70" height="33.38" fill="#d8f0d2"/>
<rect x="226.40" y="903.82" width="20.70" height="33.38" fill="#a5db9f"/>
<rect x="246.80" y="903.82" width="20.70" height="33.38" fill="#f3faf0"/>
<rect x="267.20" y="903.82" width="20.70" height="33.38" fill="#edf8ea"/>
<rect x="287.60" y="903.82" width="20.70" height="33.38" fill="#dbf1d5"/>
<rect x="308.00" y="903.82" width="20.70" height="33.38" fill="#e9f7e5"/>
<rect x="328.40" y="903.82" width="20.70" height="33.38" fill="#e6f5e1"/>
<rect x="348.80" y="903.82" width="20.70" height="33.38" fill="#e6f5e1"/>
<rect x="369.20" y="903.82" width="20.70" height="33.38" fill="#e9f7e5"/>
<rect x="389.60" y="903.82" width="20.70" height="33.38" fill="#e9f7e5"/>
<rect x="410.00" y="903.82" width="20.70" height="33.38" fill="#ecf8e8"/>
<rect x="430.40" y="903.82" width="20.70" height="33.38" fill="#e2f4dd"/>
<rect x="450.80" y="903.82" width="20.70" height="33.38" fill="#f0f9ed"/>
<rect x="471.20" y="903.82" width="20.70" height="33.38" fill="#f0f9ed"/>
<rect x="491.60" y="903.82" width="20.70" height="33.38" fill="#f3faf0"/>
<rect x="512.00" y="903.82" width="20.70" height="33.38" fill="#f3faf0"/>
<rect x="532.40" y="903.82" width="20.70" height="33.38" fill="#f1faee"/>
<rect x="552.80" y="903.82" width="20.70" height="33.38" fill="#f0f9ed"/>
<rect x="573.20" y="903.82" width="20.70" height="33.38" fill="#f1faee"/>
<rect x="83.60" y="936.90" width="20.70" height="33.38" fill="#e6f5e1"/>
<rect x="104.00" y="936.90" width="20.70" height="33.38" fill="#eaf7e6"/>
<rect x="124.40" y="936.90" width="20.70" height="33.38" fill="#e9f7e5"/>
<rect x="144.80" y="936.90" width="20.70" height="33.38" fill="#eff9eb"/>
<rect x="165.20" y="936.90" width="20.70" height="33.38" fill="#caeac3"/>
<rect x="185.60" y="936.90" width="20.70" height="33.38" fill="#d8f0d2"/>
<rect x="206.00" y="936.90" width="20.70" height="33.38" fill="#f3faf0"/>
<rect x="226.40" y="936.90" width="20.70" height="33.38" fill="#caeac3"/>
<rect x="246.80" y="936.90" width="20.70" height="33.38" fill="#ccebc6"/>
<rect x="267.20" y="936.90" width="20.70" height="33.38" fill="#d8f0d2"/>
<rect x="287.60" y="936.90" width="20.70" height="33.38" fill="#d8f0d2"/>
<rect x="308.00" y="936.90" width="20.70" height="33.38" fill="#e4f5df"/>
<rect x="328.40" y="936.90" width="20.70" height="33.38" fill="#eff9eb"/>
<rect x="348.80" y="936.90" width="20.70" height="33.38" fill="#e9f7e5"/>
<rect x="369.20" y="936.90" width="20.70" height="33.38" fill="#ccebc6"/>
<rect x="389.60" y="936.90" width="20.70" height="33.38" fill="#ddf2d8"/>
<rect x="410.00" y="936.90" width="20.70" height="33.38" fill="#f0f9ed"/>
<rect x="430.40" y="936.90" width="20.70" height="33.38" fill="#e6f5e1"/>
<rect x="450.80" y="936.90" width="20.70" height="33.38" fill="#e6f5e1"/>
<rect x="471.20" y="936.90" width="20.70" height="33.38" fill="#ddf2d8"/>
<rect x="491.60" y="936.90" width="20.70" height="33.38" fill="#ddf2d8"/>
<rect x="512.00" y="936.90" width="20.70" height="33.38" fill="#e6f5e1"/>
<rect x="532.40" y="936.90" width="20.70" height="33.38" fill="#e6f5e1"/>
<rect x="552.80" y="936.90" width="20.70" height="33.38" fill="#e9f7e5"/>
<rect x="573.20" y="936.90" width="20.70" height="33.38" fill="#eff9eb"/>
<line x1="65.6" y1="788.0" x2="83.6" y2="788.0" stroke="#000" stroke-width="1.6"/>
<line x1="65.6" y1="953.4" x2="83.6" y2="953.4" stroke="#000" stroke-width="1.6"/>
<line x1="74.6" y1="820.3" x2="74.6" y2="921.2" stroke="#000" stroke-width="1.6"/>
<line x1="74.6" y1="821.1" x2="83.6" y2="821.1" stroke="#000" stroke-width="1.6"/>
<line x1="74.6" y1="854.2" x2="83.6" y2="854.2" stroke="#000" stroke-width="1.6"/>
<line x1="74.6" y1="887.3" x2="83.6" y2="887.3" stroke="#000" stroke-width="1.6"/>
<line x1="74.6" y1="920.4" x2="83.6" y2="920.4" stroke="#000" stroke-width="1.6"/>
<line x1="65.6" y1="870.7" x2="74.6" y2="870.7" stroke="#000" stroke-width="1.6"/>
<text x="34.6" y="788.0" font-size="17.5" text-anchor="middle" transform="rotate(-90 34.6 788.0)">left</text>
<text x="55.2" y="788.0" font-size="17.5" text-anchor="middle" transform="rotate(-90 55.2 788.0)">hipp.</text>
<text x="34.6" y="870.7" font-size="17.5" text-anchor="middle" transform="rotate(-90 34.6 870.7)">left - right</text>
<text x="55.2" y="870.7" font-size="17.5" text-anchor="middle" transform="rotate(-90 55.2 870.7)">hipp.</text>
<text x="34.6" y="953.4" font-size="17.5" text-anchor="middle" transform="rotate(-90 34.6 953.4)">right</text>
<text x="55.2" y="953.4" font-size="17.5" text-anchor="middle" transform="rotate(-90 55.2 953.4)">hipp.</text>
<line x1="93.8" y1="970.0" x2="93.8" y2="974.0" stroke="#000" stroke-width="1.3"/>
<text x="93.8" y="987.1" font-size="14.8" text-anchor="middle">3</text>
<line x1="236.6" y1="970.0" x2="236.6" y2="974.0" stroke="#000" stroke-width="1.3"/>
<text x="236.6" y="987.1" font-size="14.8" text-anchor="middle">8</text>
<line x1="297.8" y1="970.0" x2="297.8" y2="974.0" stroke="#000" stroke-width="1.3"/>
<text x="297.8" y="987.1" font-size="14.8" text-anchor="middle">12</text>
<line x1="440.6" y1="970.0" x2="440.6" y2="974.0" stroke="#000" stroke-width="1.3"/>
<text x="440.6" y="987.1" font-size="14.8" text-anchor="middle">30</text>
<line x1="583.4" y1="970.0" x2="583.4" y2="974.0" stroke="#000" stroke-width="1.3"/>
<text x="583.4" y="987.1" font-size="14.8" text-anchor="middle">96</text>
<text x="338.6" y="1010.3" font-size="18.1" text-anchor="middle">Frequency (Hz)</text>
<rect x="625.0" y="771.5" width="8.8" height="198.5" fill="url(#cbg)"/>
<text x="617.3" y="870.7" font-size="17.5" text-anchor="middle" transform="rotate(-90 617.3 870.7)">functional connectivity</text>
<text x="650.6" y="773.3" font-size="17.5" text-anchor="end" transform="rotate(-90 650.6 773.3)">0.5</text>
<text x="650.6" y="971.2" font-size="17.5" transform="rotate(-90 650.6 971.2)">0.0</text>
<text x="819.6" y="764.1" font-size="17.8" font-weight="bold">phase coherence</text>
<rect x="819.10" y="771.50" width="20.70" height="33.38" fill="#2a924a"/>
<rect x="839.50" y="771.50" width="20.70" height="33.38" fill="#68be70"/>
<rect x="859.90" y="771.50" width="20.70" height="33.38" fill="#b8e3b2"/>
<rect x="880.30" y="771.50" width="20.70" height="33.38" fill="#ddf2d8"/>
<rect x="900.70" y="771.50" width="20.70" height="33.38" fill="#86cc85"/>
<rect x="921.10" y="771.50" width="20.70" height="33.38" fill="#91d28e"/>
<rect x="941.50" y="771.50" width="20.70" height="33.38" fill="#63bc6e"/>
<rect x="961.90" y="771.50" width="20.70" height="33.38" fill="#5bb86a"/>
<rect x="982.30" y="771.50" width="20.70" height="33.38" fill="#339c52"/>
<rect x="1002.70" y="771.50" width="20.70" height="33.38" fill="#2f974e"/>
<rect x="1023.10" y="771.50" width="20.70" height="33.38" fill="#258d47"/>
<rect x="1043.50" y="771.50" width="20.70" height="33.38" fill="#369f54"/>
<rect x="1063.90" y="771.50" width="20.70" height="33.38" fill="#58b668"/>
<rect x="1084.30" y="771.50" width="20.70" height="33.38" fill="#9fd899"/>
<rect x="1104.70" y="771.50" width="20.70" height="33.38" fill="#b8e3b2"/>
<rect x="1125.10" y="771.50" width="20.70" height="33.38" fill="#caeac3"/>
<rect x="1145.50" y="771.50" width="20.70" height="33.38" fill="#bee5b8"/>
<rect x="1165.90" y="771.50" width="20.70" height="33.38" fill="#c7e9c0"/>
<rect x="1186.30" y="771.50" width="20.70" height="33.38" fill="#caeac3"/>
<rect x="1206.70" y="771.50" width="20.70" height="33.38" fill="#c1e6ba"/>
<rect x="1227.10" y="771.50" width="20.70" height="33.38" fill="#ddf2d8"/>
<rect x="1247.50" y="771.50" width="20.70" height="33.38" fill="#e2f4dd"/>
<rect x="1267.90" y="771.50" width="20.70" height="33.38" fill="#ecf8e8"/>
<rect x="1288.30" y="771.50" width="20.70" height="33.38" fill="#ecf8e8"/>
<rect x="1308.70" y="771.50" width="20.70" height="33.38" fill="#e9f7e5"/>
<rect x="819.10" y="804.58" width="20.70" height="33.38" fill="#b8e3b2"/>
<rect x="839.50" y="804.58" width="20.70" height="33.38" fill="#c4e8bd"/>
<rect x="859.90" y="804.58" width="20.70" height="33.38" fill="#ceecc8"/>
<rect x="880.30" y="804.58" width="20.70" height="33.38" fill="#b8e3b2"/>
<rect x="900.70" y="804.58" width="20.70" height="33.38" fill="#91d28e"/>
<rect x="921.10" y="804.58" width="20.70" height="33.38" fill="#f1faee"/>
<rect x="941.50" y="804.58" width="20.70" height="33.38" fill="#d3eecd"/>
<rect x="961.90" y="804.58" width="20.70" height="33.38" fill="#e6f5e1"/>
<rect x="982.30" y="804.58" width="20.70" height="33.38" fill="#e9f7e5"/>
<rect x="1002.70" y="804.58" width="20.70" height="33.38" fill="#d3eecd"/>
<rect x="1023.10" y="804.58" width="20.70" height="33.38" fill="#eff9eb"/>
<rect x="1043.50" y="804.58" width="20.70" height="33.38" fill="#ecf8e8"/>
<rect x="1063.90" y="804.58" width="20.70" height="33.38" fill="#d3eecd"/>
<rect x="1084.30" y="804.58" width="20.70" height="33.38" fill="#d8f0d2"/>
<rect x="1104.70" y="804.58" width="20.70" height="33.38" fill="#eff9eb"/>
<rect x="1125.10" y="804.58" width="20.70" height="33.38" fill="#f3faf0"/>
<rect x="1145.50" y="804.58" width="20.70" height="33.38" fill="#f0f9ed"/>
<rect x="1165.90" y="804.58" width="20.70" height="33.38" fill="#f3faf0"/>
<rect x="1186.30" y="804.58" width="20.70" height="33.38" fill="#f0f9ed"/>
<rect x="1206.70" y="804.58" width="20.70" height="33.38" fill="#eff9eb"/>
<rect x="1227.10" y="804.58" width="20.70" height="33.38" fill="#f4fbf2"/>
<rect x="1247.50" y="804.58" width="20.70" height="33.38" fill="#f3faf0"/>
<rect x="1267.90" y="804.58" width="20.70" height="33.38" fill="#f3faf0"/>
<rect x="1288.30" y="804.58" width="20.70" height="33.38" fill="#f4fbf2"/>
<rect x="1308.70" y="804.58" width="20.70" height="33.38" fill="#f3faf0"/>
<rect x="819.10" y="837.66" width="20.70" height="33.38" fill="#d8f0d2"/>
<rect x="839.50" y="837.66" width="20.70" height="33.38" fill="#9fd899"/>
<rect x="859.90" y="837.66" width="20.70" height="33.38" fill="#afdfa8"/>
<rect x="880.30" y="837.66" width="20.70" height="33.38" fill="#c7e9c0"/>
<rect x="900.70" y="837.66" width="20.70" height="33.38" fill="#ddf2d8"/>
<rect x="921.10" y="837.66" width="20.70" height="33.38" fill="#f1faee"/>
<rect x="941.50" y="837.66" width="20.70" height="33.38" fill="#ceecc8"/>
<rect x="961.90" y="837.66" width="20.70" height="33.38" fill="#b8e3b2"/>
<rect x="982.30" y="837.66" width="20.70" height="33.38" fill="#a5db9f"/>
<rect x="1002.70" y="837.66" width="20.70" height="33.38" fill="#eff9eb"/>
<rect x="1023.10" y="837.66" width="20.70" height="33.38" fill="#f4fbf2"/>
<rect x="1043.50" y="837.66" width="20.70" height="33.38" fill="#f3faf0"/>
<rect x="1063.90" y="837.66" width="20.70" height="33.38" fill="#ecf8e8"/>
<rect x="1084.30" y="837.66" width="20.70" height="33.38" fill="#edf8ea"/>
<rect x="1104.70" y="837.66" width="20.70" height="33.38" fill="#edf8ea"/>
<rect x="1125.10" y="837.66" width="20.70" height="33.38" fill="#eff9eb"/>
<rect x="1145.50" y="837.66" width="20.70" height="33.38" fill="#f0f9ed"/>
<rect x="1165.90" y="837.66" width="20.70" height="33.38" fill="#ecf8e8"/>
<rect x="1186.30" y="837.66" width="20.70" height="33.38" fill="#f1faee"/>
<rect x="1206.70" y="837.66" width="20.70" height="33.38" fill="#f3faf0"/>
<rect x="1227.10" y="837.66" width="20.70" height="33.38" fill="#ecf8e8"/>
<rect x="1247.50" y="837.66" width="20.70" height="33.38" fill="#ecf8e8"/>
<rect x="1267.90" y="837.66" width="20.70" height="33.38" fill="#f0f9ed"/>
<rect x="1288.30" y="837.66" width="20.70" height="33.38" fill="#eaf7e6"/>
<rect x="1308.70" y="837.66" width="20.70" height="33.38" fill="#e9f7e5"/>
<rect x="819.10" y="870.74" width="20.70" height="33.38" fill="#d3eecd"/>
<rect x="839.50" y="870.74" width="20.70" height="33.38" fill="#caeac3"/>
<rect x="859.90" y="870.74" width="20.70" height="33.38" fill="#ceecc8"/>
<rect x="880.30" y="870.74" width="20.70" height="33.38" fill="#dff3da"/>
<rect x="900.70" y="870.74" width="20.70" height="33.38" fill="#e9f7e5"/>
<rect x="921.10" y="870.74" width="20.70" height="33.38" fill="#eff9eb"/>
<rect x="941.50" y="870.74" width="20.70" height="33.38" fill="#f1faee"/>
<rect x="961.90" y="870.74" width="20.70" height="33.38" fill="#e9f7e5"/>
<rect x="982.30" y="870.74" width="20.70" height="33.38" fill="#c1e6ba"/>
<rect x="1002.70" y="870.74" width="20.70" height="33.38" fill="#b2e0ac"/>
<rect x="1023.10" y="870.74" width="20.70" height="33.38" fill="#f0f9ed"/>
<rect x="1043.50" y="870.74" width="20.70" height="33.38" fill="#ecf8e8"/>
<rect x="1063.90" y="870.74" width="20.70" height="33.38" fill="#e6f5e1"/>
<rect x="1084.30" y="870.74" width="20.70" height="33.38" fill="#e9f7e5"/>
<rect x="1104.70" y="870.74" width="20.70" height="33.38" fill="#edf8ea"/>
<rect x="1125.10" y="870.74" width="20.70" height="33.38" fill="#e7f6e3"/>
<rect x="1145.50" y="870.74" width="20.70" height="33.38" fill="#f0f9ed"/>
<rect x="1165.90" y="870.74" width="20.70" height="33.38" fill="#f0f9ed"/>
<rect x="1186.30" y="870.74" width="20.70" height="33.38" fill="#f0f9ed"/>
<rect x="1206.70" y="870.74" width="20.70" height="33.38" fill="#f0f9ed"/>
<rect x="1227.10" y="870.74" width="20.70" height="33.38" fill="#ecf8e8"/>
<rect x="1247.50" y="870.74" width="20.70" height="33.38" fill="#ecf8e8"/>
<rect x="1267.90" y="870.74" width="20.70" height="33.38" fill="#f0f9ed"/>
<rect x="1288.30" y="870.74" width="20.70" height="33.38" fill="#f3faf0"/>
<rect x="1308.70" y="870.74" width="20.70" height="33.38" fill="#f0f9ed"/>
<rect x="819.10" y="903.82" width="20.70" height="33.38" fill="#d3eecd"/>
<rect x="839.50" y="903.82" width="20.70" height="33.38" fill="#d8f0d2"/>
<rect x="859.90" y="903.82" width="20.70" height="33.38" fill="#e9f7e5"/>
<rect x="880.30" y="903.82" width="20.70" height="33.38" fill="#e6f5e1"/>
<rect x="900.70" y="903.82" width="20.70" height="33.38" fill="#b8e3b2"/>
<rect x="921.10" y="903.82" width="20.70" height="33.38" fill="#c1e6ba"/>
<rect x="941.50" y="903.82" width="20.70" height="33.38" fill="#ceecc8"/>
<rect x="961.90" y="903.82" width="20.70" height="33.38" fill="#9fd899"/>
<rect x="982.30" y="903.82" width="20.70" height="33.38" fill="#f3faf0"/>
<rect x="1002.70" y="903.82" width="20.70" height="33.38" fill="#e9f7e5"/>
<rect x="1023.10" y="903.82" width="20.70" height="33.38" fill="#e2f4dd"/>
<rect x="1043.50" y="903.82" width="20.70" height="33.38" fill="#e9f7e5"/>
<rect x="1063.90" y="903.82" width="20.70" height="33.38" fill="#eaf7e6"/>
<rect x="1084.30" y="903.82" width="20.70" height="33.38" fill="#eaf7e6"/>
<rect x="1104.70" y="903.82" width="20.70" height="33.38" fill="#eaf7e6"/>
<rect x="1125.10" y="903.82" width="20.70" height="33.38" fill="#ecf8e8"/>
<rect x="1145.50" y="903.82" width="20.70" height="33.38" fill="#e9f7e5"/>
<rect x="1165.90" y="903.82" width="20.70" height="33.38" fill="#ddf2d8"/>
<rect x="1186.30" y="903.82" width="20.70" height="33.38" fill="#f1faee"/>
<rect x="1206.70" y="903.82" width="20.70" height="33.38" fill="#f3faf0"/>
<rect x="1227.10" y="903.82" width="20.70" height="33.38" fill="#f3faf0"/>
<rect x="1247.50" y="903.82" width="20.70" height="33.38" fill="#f3faf0"/>
<rect x="1267.90" y="903.82" width="20.70" height="33.38" fill="#f1faee"/>
<rect x="1288.30" y="903.82" width="20.70" height="33.38" fill="#f1faee"/>
<rect x="1308.70" y="903.82" width="20.70" height="33.38" fill="#f0f9ed"/>
<rect x="819.10" y="936.90" width="20.70" height="33.38" fill="#ecf8e8"/>
<rect x="839.50" y="936.90" width="20.70" height="33.38" fill="#e6f5e1"/>
<rect x="859.90" y="936.90" width="20.70" height="33.38" fill="#f1faee"/>
<rect x="880.30" y="936.90" width="20.70" height="33.38" fill="#f1faee"/>
<rect x="900.70" y="936.90" width="20.70" height="33.38" fill="#d3eecd"/>
<rect x="921.10" y="936.90" width="20.70" height="33.38" fill="#d3eecd"/>
<rect x="941.50" y="936.90" width="20.70" height="33.38" fill="#f3faf0"/>
<rect x="961.90" y="936.90" width="20.70" height="33.38" fill="#caeac3"/>
<rect x="982.30" y="936.90" width="20.70" height="33.38" fill="#ceecc8"/>
<rect x="1002.70" y="936.90" width="20.70" height="33.38" fill="#e2f4dd"/>
<rect x="1023.10" y="936.90" width="20.70" height="33.38" fill="#e6f5e1"/>
<rect x="1043.50" y="936.90" width="20.70" height="33.38" fill="#e6f5e1"/>
<rect x="1063.90" y="936.90" width="20.70" height="33.38" fill="#f0f9ed"/>
<rect x="1084.30" y="936.90" width="20.70" height="33.38" fill="#e9f7e5"/>
<rect x="1104.70" y="936.90" width="20.70" height="33.38" fill="#c4e8bd"/>
<rect x="1125.10" y="936.90" width="20.70" height="33.38" fill="#e4f5df"/>
<rect x="1145.50" y="936.90" width="20.70" height="33.38" fill="#e9f7e5"/>
<rect x="1165.90" y="936.90" width="20.70" height="33.38" fill="#e6f5e1"/>
<rect x="1186.30" y="936.90" width="20.70" height="33.38" fill="#e9f7e5"/>
<rect x="1206.70" y="936.90" width="20.70" height="33.38" fill="#ddf2d8"/>
<rect x="1227.10" y="936.90" width="20.70" height="33.38" fill="#e2f4dd"/>
<rect x="1247.50" y="936.90" width="20.70" height="33.38" fill="#e6f5e1"/>
<rect x="1267.90" y="936.90" width="20.70" height="33.38" fill="#e2f4dd"/>
<rect x="1288.30" y="936.90" width="20.70" height="33.38" fill="#ecf8e8"/>
<rect x="1308.70" y="936.90" width="20.70" height="33.38" fill="#eff9eb"/>
<line x1="801.1" y1="788.0" x2="819.1" y2="788.0" stroke="#000" stroke-width="1.6"/>
<line x1="801.1" y1="953.4" x2="819.1" y2="953.4" stroke="#d5121c" stroke-width="1.6"/>
<line x1="810.1" y1="820.3" x2="810.1" y2="921.2" stroke="#d5121c" stroke-width="1.6"/>
<line x1="810.1" y1="821.1" x2="819.1" y2="821.1" stroke="#d5121c" stroke-width="1.6"/>
<line x1="810.1" y1="854.2" x2="819.1" y2="854.2" stroke="#d5121c" stroke-width="1.6"/>
<line x1="810.1" y1="887.3" x2="819.1" y2="887.3" stroke="#d5121c" stroke-width="1.6"/>
<line x1="810.1" y1="920.4" x2="819.1" y2="920.4" stroke="#d5121c" stroke-width="1.6"/>
<line x1="801.1" y1="870.7" x2="810.1" y2="870.7" stroke="#d5121c" stroke-width="1.6"/>
<text x="770.1" y="788.0" font-size="17.5" text-anchor="middle" transform="rotate(-90 770.1 788.0)">left</text>
<text x="790.7" y="788.0" font-size="17.5" text-anchor="middle" transform="rotate(-90 790.7 788.0)">hipp.</text>
<text x="770.1" y="870.7" font-size="17.5" text-anchor="middle" fill="#d5121c" transform="rotate(-90 770.1 870.7)">left - right</text>
<text x="790.7" y="870.7" font-size="17.5" text-anchor="middle" fill="#d5121c" transform="rotate(-90 790.7 870.7)">hipp.</text>
<text x="770.1" y="953.4" font-size="17.5" text-anchor="middle" fill="#d5121c" transform="rotate(-90 770.1 953.4)">right</text>
<text x="790.7" y="953.4" font-size="17.5" text-anchor="middle" fill="#d5121c" transform="rotate(-90 790.7 953.4)">hipp.</text>
<line x1="829.3" y1="970.0" x2="829.3" y2="974.0" stroke="#000" stroke-width="1.3"/>
<text x="829.3" y="987.1" font-size="14.8" text-anchor="middle">3</text>
<line x1="972.1" y1="970.0" x2="972.1" y2="974.0" stroke="#000" stroke-width="1.3"/>
<text x="972.1" y="987.1" font-size="14.8" text-anchor="middle">8</text>
<line x1="1033.3" y1="970.0" x2="1033.3" y2="974.0" stroke="#000" stroke-width="1.3"/>
<text x="1033.3" y="987.1" font-size="14.8" text-anchor="middle">12</text>
<line x1="1176.1" y1="970.0" x2="1176.1" y2="974.0" stroke="#000" stroke-width="1.3"/>
<text x="1176.1" y="987.1" font-size="14.8" text-anchor="middle">30</text>
<line x1="1318.9" y1="970.0" x2="1318.9" y2="974.0" stroke="#000" stroke-width="1.3"/>
<text x="1318.9" y="987.1" font-size="14.8" text-anchor="middle">96</text>
<text x="1074.1" y="1010.3" font-size="18.1" text-anchor="middle">Frequency (Hz)</text>
<rect x="1360.5" y="771.5" width="8.8" height="198.5" fill="url(#cbg)"/>
<text x="1352.8" y="870.7" font-size="17.5" text-anchor="middle" transform="rotate(-90 1352.8 870.7)">functional connectivity</text>
<text x="1386.1" y="773.3" font-size="17.5" text-anchor="end" transform="rotate(-90 1386.1 773.3)">0.5</text>
<text x="1386.1" y="971.2" font-size="17.5" transform="rotate(-90 1386.1 971.2)">0.0</text>
<text x="1582.0" y="763.6" font-size="17.8" font-weight="bold">phase coherence</text>
<rect x="1581.50" y="771.00" width="20.70" height="33.38" fill="#3ea75a"/>
<rect x="1601.90" y="771.00" width="20.70" height="33.38" fill="#8ace88"/>
<rect x="1622.30" y="771.00" width="20.70" height="33.38" fill="#b8e3b2"/>
<rect x="1642.70" y="771.00" width="20.70" height="33.38" fill="#d3eecd"/>
<rect x="1663.10" y="771.00" width="20.70" height="33.38" fill="#8ace88"/>
<rect x="1683.50" y="771.00" width="20.70" height="33.38" fill="#91d28e"/>
<rect x="1703.90" y="771.00" width="20.70" height="33.38" fill="#6bc072"/>
<rect x="1724.30" y="771.00" width="20.70" height="33.38" fill="#5bb86a"/>
<rect x="1744.70" y="771.00" width="20.70" height="33.38" fill="#4bb062"/>
<rect x="1765.10" y="771.00" width="20.70" height="33.38" fill="#2a924a"/>
<rect x="1785.50" y="771.00" width="20.70" height="33.38" fill="#208843"/>
<rect x="1805.90" y="771.00" width="20.70" height="33.38" fill="#339c52"/>
<rect x="1826.30" y="771.00" width="20.70" height="33.38" fill="#58b668"/>
<rect x="1846.70" y="771.00" width="20.70" height="33.38" fill="#98d594"/>
<rect x="1867.10" y="771.00" width="20.70" height="33.38" fill="#b8e3b2"/>
<rect x="1887.50" y="771.00" width="20.70" height="33.38" fill="#c4e8bd"/>
<rect x="1907.90" y="771.00" width="20.70" height="33.38" fill="#b8e3b2"/>
<rect x="1928.30" y="771.00" width="20.70" height="33.38" fill="#c1e6ba"/>
<rect x="1948.70" y="771.00" width="20.70" height="33.38" fill="#c7e9c0"/>
<rect x="1969.10" y="771.00" width="20.70" height="33.38" fill="#c7e9c0"/>
<rect x="1989.50" y="771.00" width="20.70" height="33.38" fill="#dff3da"/>
<rect x="2009.90" y="771.00" width="20.70" height="33.38" fill="#e2f4dd"/>
<rect x="2030.30" y="771.00" width="20.70" height="33.38" fill="#e9f7e5"/>
<rect x="2050.70" y="771.00" width="20.70" height="33.38" fill="#ecf8e8"/>
<rect x="2071.10" y="771.00" width="20.70" height="33.38" fill="#e9f7e5"/>
<rect x="1581.50" y="804.08" width="20.70" height="33.38" fill="#d3eecd"/>
<rect x="1601.90" y="804.08" width="20.70" height="33.38" fill="#d3eecd"/>
<rect x="1622.30" y="804.08" width="20.70" height="33.38" fill="#ddf2d8"/>
<rect x="1642.70" y="804.08" width="20.70" height="33.38" fill="#91d28e"/>
<rect x="1663.10" y="804.08" width="20.70" height="33.38" fill="#83cb82"/>
<rect x="1683.50" y="804.08" width="20.70" height="33.38" fill="#e9f7e5"/>
<rect x="1703.90" y="804.08" width="20.70" height="33.38" fill="#bee5b8"/>
<rect x="1724.30" y="804.08" width="20.70" height="33.38" fill="#e4f5df"/>
<rect x="1744.70" y="804.08" width="20.70" height="33.38" fill="#ecf8e8"/>
<rect x="1765.10" y="804.08" width="20.70" height="33.38" fill="#d8f0d2"/>
<rect x="1785.50" y="804.08" width="20.70" height="33.38" fill="#f0f9ed"/>
<rect x="1805.90" y="804.08" width="20.70" height="33.38" fill="#ecf8e8"/>
<rect x="1826.30" y="804.08" width="20.70" height="33.38" fill="#d3eecd"/>
<rect x="1846.70" y="804.08" width="20.70" height="33.38" fill="#d3eecd"/>
<rect x="1867.10" y="804.08" width="20.70" height="33.38" fill="#f0f9ed"/>
<rect x="1887.50" y="804.08" width="20.70" height="33.38" fill="#f4fbf2"/>
<rect x="1907.90" y="804.08" width="20.70" height="33.38" fill="#f0f9ed"/>
<rect x="1928.30" y="804.08" width="20.70" height="33.38" fill="#f4fbf2"/>
<rect x="1948.70" y="804.08" width="20.70" height="33.38" fill="#f1faee"/>
<rect x="1969.10" y="804.08" width="20.70" height="33.38" fill="#f0f9ed"/>
<rect x="1989.50" y="804.08" width="20.70" height="33.38" fill="#f3faf0"/>
<rect x="2009.90" y="804.08" width="20.70" height="33.38" fill="#f3faf0"/>
<rect x="2030.30" y="804.08" width="20.70" height="33.38" fill="#f3faf0"/>
<rect x="2050.70" y="804.08" width="20.70" height="33.38" fill="#f3faf0"/>
<rect x="2071.10" y="804.08" width="20.70" height="33.38" fill="#f3faf0"/>
<rect x="1581.50" y="837.16" width="20.70" height="33.38" fill="#edf8ea"/>
<rect x="1601.90" y="837.16" width="20.70" height="33.38" fill="#ecf8e8"/>
<rect x="1622.30" y="837.16" width="20.70" height="33.38" fill="#ceecc8"/>
<rect x="1642.70" y="837.16" width="20.70" height="33.38" fill="#a9dca3"/>
<rect x="1663.10" y="837.16" width="20.70" height="33.38" fill="#e4f5df"/>
<rect x="1683.50" y="837.16" width="20.70" height="33.38" fill="#eff9eb"/>
<rect x="1703.90" y="837.16" width="20.70" height="33.38" fill="#eaf7e6"/>
<rect x="1724.30" y="837.16" width="20.70" height="33.38" fill="#d8f0d2"/>
<rect x="1744.70" y="837.16" width="20.70" height="33.38" fill="#bee5b8"/>
<rect x="1765.10" y="837.16" width="20.70" height="33.38" fill="#e4f5df"/>
<rect x="1785.50" y="837.16" width="20.70" height="33.38" fill="#eff9eb"/>
<rect x="1805.90" y="837.16" width="20.70" height="33.38" fill="#f1faee"/>
<rect x="1826.30" y="837.16" width="20.70" height="33.38" fill="#f0f9ed"/>
<rect x="1846.70" y="837.16" width="20.70" height="33.38" fill="#ecf8e8"/>
<rect x="1867.10" y="837.16" width="20.70" height="33.38" fill="#ecf8e8"/>
<rect x="1887.50" y="837.16" width="20.70" height="33.38" fill="#f0f9ed"/>
<rect x="1907.90" y="837.16" width="20.70" height="33.38" fill="#f0f9ed"/>
<rect x="1928.30" y="837.16" width="20.70" height="33.38" fill="#ecf8e8"/>
<rect x="1948.70" y="837.16" width="20.70" height="33.38" fill="#f1faee"/>
<rect x="1969.10" y="837.16" width="20.70" height="33.38" fill="#f3faf0"/>
<rect x="1989.50" y="837.16" width="20.70" height="33.38" fill="#eff9eb"/>
<rect x="2009.90" y="837.16" width="20.70" height="33.38" fill="#eff9eb"/>
<rect x="2030.30" y="837.16" width="20.70" height="33.38" fill="#f0f9ed"/>
<rect x="2050.70" y="837.16" width="20.70" height="33.38" fill="#edf8ea"/>
<rect x="2071.10" y="837.16" width="20.70" height="33.38" fill="#eaf7e6"/>
<rect x="1581.50" y="870.24" width="20.70" height="33.38" fill="#b2e0ac"/>
<rect x="1601.90" y="870.24" width="20.70" height="33.38" fill="#c4e8bd"/>
<rect x="1622.30" y="870.24" width="20.70" height="33.38" fill="#caeac3"/>
<rect x="1642.70" y="870.24" width="20.70" height="33.38" fill="#c7e9c0"/>
<rect x="1663.10" y="870.24" width="20.70" height="33.38" fill="#f1faee"/>
<rect x="1683.50" y="870.24" width="20.70" height="33.38" fill="#ddf2d8"/>
<rect x="1703.90" y="870.24" width="20.70" height="33.38" fill="#e9f7e5"/>
<rect x="1724.30" y="870.24" width="20.70" height="33.38" fill="#f1faee"/>
<rect x="1744.70" y="870.24" width="20.70" height="33.38" fill="#b8e3b2"/>
<rect x="1765.10" y="870.24" width="20.70" height="33.38" fill="#a9dca3"/>
<rect x="1785.50" y="870.24" width="20.70" height="33.38" fill="#eff9eb"/>
<rect x="1805.90" y="870.24" width="20.70" height="33.38" fill="#e4f5df"/>
<rect x="1826.30" y="870.24" width="20.70" height="33.38" fill="#e6f5e1"/>
<rect x="1846.70" y="870.24" width="20.70" height="33.38" fill="#ecf8e8"/>
<rect x="1867.10" y="870.24" width="20.70" height="33.38" fill="#eff9eb"/>
<rect x="1887.50" y="870.24" width="20.70" height="33.38" fill="#e6f5e1"/>
<rect x="1907.90" y="870.24" width="20.70" height="33.38" fill="#f1faee"/>
<rect x="1928.30" y="870.24" width="20.70" height="33.38" fill="#f1faee"/>
<rect x="1948.70" y="870.24" width="20.70" height="33.38" fill="#f1faee"/>
<rect x="1969.10" y="870.24" width="20.70" height="33.38" fill="#f0f9ed"/>
<rect x="1989.50" y="870.24" width="20.70" height="33.38" fill="#eff9eb"/>
<rect x="2009.90" y="870.24" width="20.70" height="33.38" fill="#eff9eb"/>
<rect x="2030.30" y="870.24" width="20.70" height="33.38" fill="#eff9eb"/>
<rect x="2050.70" y="870.24" width="20.70" height="33.38" fill="#f1faee"/>
<rect x="2071.10" y="870.24" width="20.70" height="33.38" fill="#f0f9ed"/>
<rect x="1581.50" y="903.32" width="20.70" height="33.38" fill="#dbf1d5"/>
<rect x="1601.90" y="903.32" width="20.70" height="33.38" fill="#f0f9ed"/>
<rect x="1622.30" y="903.32" width="20.70" height="33.38" fill="#dff3da"/>
<rect x="1642.70" y="903.32" width="20.70" height="33.38" fill="#dff3da"/>
<rect x="1663.10" y="903.32" width="20.70" height="33.38" fill="#afdfa8"/>
<rect x="1683.50" y="903.32" width="20.70" height="33.38" fill="#afdfa8"/>
<rect x="1703.90" y="903.32" width="20.70" height="33.38" fill="#bee5b8"/>
<rect x="1724.30" y="903.32" width="20.70" height="33.38" fill="#afdfa8"/>
<rect x="1744.70" y="903.32" width="20.70" height="33.38" fill="#f3faf0"/>
<rect x="1765.10" y="903.32" width="20.70" height="33.38" fill="#e2f4dd"/>
<rect x="1785.50" y="903.32" width="20.70" height="33.38" fill="#e9f7e5"/>
<rect x="1805.90" y="903.32" width="20.70" height="33.38" fill="#e6f5e1"/>
<rect x="1826.30" y="903.32" width="20.70" height="33.38" fill="#e6f5e1"/>
<rect x="1846.70" y="903.32" width="20.70" height="33.38" fill="#e7f6e3"/>
<rect x="1867.10" y="903.32" width="20.70" height="33.38" fill="#e7f6e3"/>
<rect x="1887.50" y="903.32" width="20.70" height="33.38" fill="#e9f7e5"/>
<rect x="1907.90" y="903.32" width="20.70" height="33.38" fill="#edf8ea"/>
<rect x="1928.30" y="903.32" width="20.70" height="33.38" fill="#dff3da"/>
<rect x="1948.70" y="903.32" width="20.70" height="33.38" fill="#f0f9ed"/>
<rect x="1969.10" y="903.32" width="20.70" height="33.38" fill="#f3faf0"/>
<rect x="1989.50" y="903.32" width="20.70" height="33.38" fill="#f3faf0"/>
<rect x="2009.90" y="903.32" width="20.70" height="33.38" fill="#f3faf0"/>
<rect x="2030.30" y="903.32" width="20.70" height="33.38" fill="#f3faf0"/>
<rect x="2050.70" y="903.32" width="20.70" height="33.38" fill="#f1faee"/>
<rect x="2071.10" y="903.32" width="20.70" height="33.38" fill="#f0f9ed"/>
<rect x="1581.50" y="936.40" width="20.70" height="33.38" fill="#f1faee"/>
<rect x="1601.90" y="936.40" width="20.70" height="33.38" fill="#e9f7e5"/>
<rect x="1622.30" y="936.40" width="20.70" height="33.38" fill="#d3eecd"/>
<rect x="1642.70" y="936.40" width="20.70" height="33.38" fill="#ceecc8"/>
<rect x="1663.10" y="936.40" width="20.70" height="33.38" fill="#c7e9c0"/>
<rect x="1683.50" y="936.40" width="20.70" height="33.38" fill="#caeac3"/>
<rect x="1703.90" y="936.40" width="20.70" height="33.38" fill="#f1faee"/>
<rect x="1724.30" y="936.40" width="20.70" height="33.38" fill="#c7e9c0"/>
<rect x="1744.70" y="936.40" width="20.70" height="33.38" fill="#d3eecd"/>
<rect x="1765.10" y="936.40" width="20.70" height="33.38" fill="#ecf8e8"/>
<rect x="1785.50" y="936.40" width="20.70" height="33.38" fill="#f0f9ed"/>
<rect x="1805.90" y="936.40" width="20.70" height="33.38" fill="#eff9eb"/>
<rect x="1826.30" y="936.40" width="20.70" height="33.38" fill="#f3faf0"/>
<rect x="1846.70" y="936.40" width="20.70" height="33.38" fill="#edf8ea"/>
<rect x="1867.10" y="936.40" width="20.70" height="33.38" fill="#d3eecd"/>
<rect x="1887.50" y="936.40" width="20.70" height="33.38" fill="#e2f4dd"/>
<rect x="1907.90" y="936.40" width="20.70" height="33.38" fill="#e9f7e5"/>
<rect x="1928.30" y="936.40" width="20.70" height="33.38" fill="#e4f5df"/>
<rect x="1948.70" y="936.40" width="20.70" height="33.38" fill="#e2f4dd"/>
<rect x="1969.10" y="936.40" width="20.70" height="33.38" fill="#dbf1d5"/>
<rect x="1989.50" y="936.40" width="20.70" height="33.38" fill="#e6f5e1"/>
<rect x="2009.90" y="936.40" width="20.70" height="33.38" fill="#e9f7e5"/>
<rect x="2030.30" y="936.40" width="20.70" height="33.38" fill="#e6f5e1"/>
<rect x="2050.70" y="936.40" width="20.70" height="33.38" fill="#ecf8e8"/>
<rect x="2071.10" y="936.40" width="20.70" height="33.38" fill="#eff9eb"/>
<line x1="1563.5" y1="787.5" x2="1581.5" y2="787.5" stroke="#000" stroke-width="1.6"/>
<line x1="1563.5" y1="952.9" x2="1581.5" y2="952.9" stroke="#d5121c" stroke-width="1.6"/>
<line x1="1572.5" y1="819.8" x2="1572.5" y2="920.7" stroke="#d5121c" stroke-width="1.6"/>
<line x1="1572.5" y1="820.6" x2="1581.5" y2="820.6" stroke="#d5121c" stroke-width="1.6"/>
<line x1="1572.5" y1="853.7" x2="1581.5" y2="853.7" stroke="#d5121c" stroke-width="1.6"/>
<line x1="1572.5" y1="886.8" x2="1581.5" y2="886.8" stroke="#d5121c" stroke-width="1.6"/>
<line x1="1572.5" y1="919.9" x2="1581.5" y2="919.9" stroke="#d5121c" stroke-width="1.6"/>
<line x1="1563.5" y1="870.2" x2="1572.5" y2="870.2" stroke="#d5121c" stroke-width="1.6"/>
<text x="1532.5" y="787.5" font-size="17.5" text-anchor="middle" transform="rotate(-90 1532.5 787.5)">left</text>
<text x="1553.1" y="787.5" font-size="17.5" text-anchor="middle" transform="rotate(-90 1553.1 787.5)">hipp.</text>
<text x="1532.5" y="870.2" font-size="17.5" text-anchor="middle" fill="#d5121c" transform="rotate(-90 1532.5 870.2)">left - right</text>
<text x="1553.1" y="870.2" font-size="17.5" text-anchor="middle" fill="#d5121c" transform="rotate(-90 1553.1 870.2)">hipp.</text>
<text x="1532.5" y="952.9" font-size="17.5" text-anchor="middle" fill="#d5121c" transform="rotate(-90 1532.5 952.9)">right</text>
<text x="1553.1" y="952.9" font-size="17.5" text-anchor="middle" fill="#d5121c" transform="rotate(-90 1553.1 952.9)">hipp.</text>
<line x1="1591.7" y1="969.5" x2="1591.7" y2="973.5" stroke="#000" stroke-width="1.3"/>
<text x="1591.7" y="986.6" font-size="14.8" text-anchor="middle">3</text>
<line x1="1734.5" y1="969.5" x2="1734.5" y2="973.5" stroke="#000" stroke-width="1.3"/>
<text x="1734.5" y="986.6" font-size="14.8" text-anchor="middle">8</text>
<line x1="1795.7" y1="969.5" x2="1795.7" y2="973.5" stroke="#000" stroke-width="1.3"/>
<text x="1795.7" y="986.6" font-size="14.8" text-anchor="middle">12</text>
<line x1="1938.5" y1="969.5" x2="1938.5" y2="973.5" stroke="#000" stroke-width="1.3"/>
<text x="1938.5" y="986.6" font-size="14.8" text-anchor="middle">30</text>
<line x1="2081.3" y1="969.5" x2="2081.3" y2="973.5" stroke="#000" stroke-width="1.3"/>
<text x="2081.3" y="986.6" font-size="14.8" text-anchor="middle">96</text>
<text x="1836.5" y="1009.8" font-size="18.1" text-anchor="middle">Frequency (Hz)</text>
<rect x="2122.9" y="771.0" width="8.8" height="198.5" fill="url(#cbg)"/>
<text x="2115.2" y="870.2" font-size="17.5" text-anchor="middle" transform="rotate(-90 2115.2 870.2)">functional connectivity</text>
<text x="2148.5" y="772.8" font-size="17.5" text-anchor="end" transform="rotate(-90 2148.5 772.8)">0.5</text>
<text x="2148.5" y="970.7" font-size="17.5" transform="rotate(-90 2148.5 970.7)">0.0</text>
<path d="M677.0 93.3H709.0V81.6L734.0 96.4L709.0 111.2V99.5H677.0Z" fill="#000"/>
<path d="M677.0 291.2H709.0V279.5L734.0 294.3L709.0 309.1V297.4H677.0Z" fill="#000"/>
<path d="M677.0 574.4H709.0V562.7L734.0 577.5L709.0 592.3V580.6H677.0Z" fill="#000"/>
<path d="M677.0 867.7H709.0V856.0L734.0 870.8L709.0 885.6V873.9H677.0Z" fill="#000"/>
<path d="M1439.3 93.3H1471.3V81.6L1496.3 96.4L1471.3 111.2V99.5H1439.3Z" fill="#000"/>
<path d="M1439.3 291.2H1471.3V279.5L1496.3 294.3L1471.3 309.1V297.4H1439.3Z" fill="#000"/>
<path d="M1439.3 574.4H1471.3V562.7L1496.3 577.5L1471.3 592.3V580.6H1439.3Z" fill="#000"/>
<path d="M1439.3 867.7H1471.3V856.0L1496.3 870.8L1471.3 885.6V873.9H1439.3Z" fill="#000"/>
</svg>
</body></html>
